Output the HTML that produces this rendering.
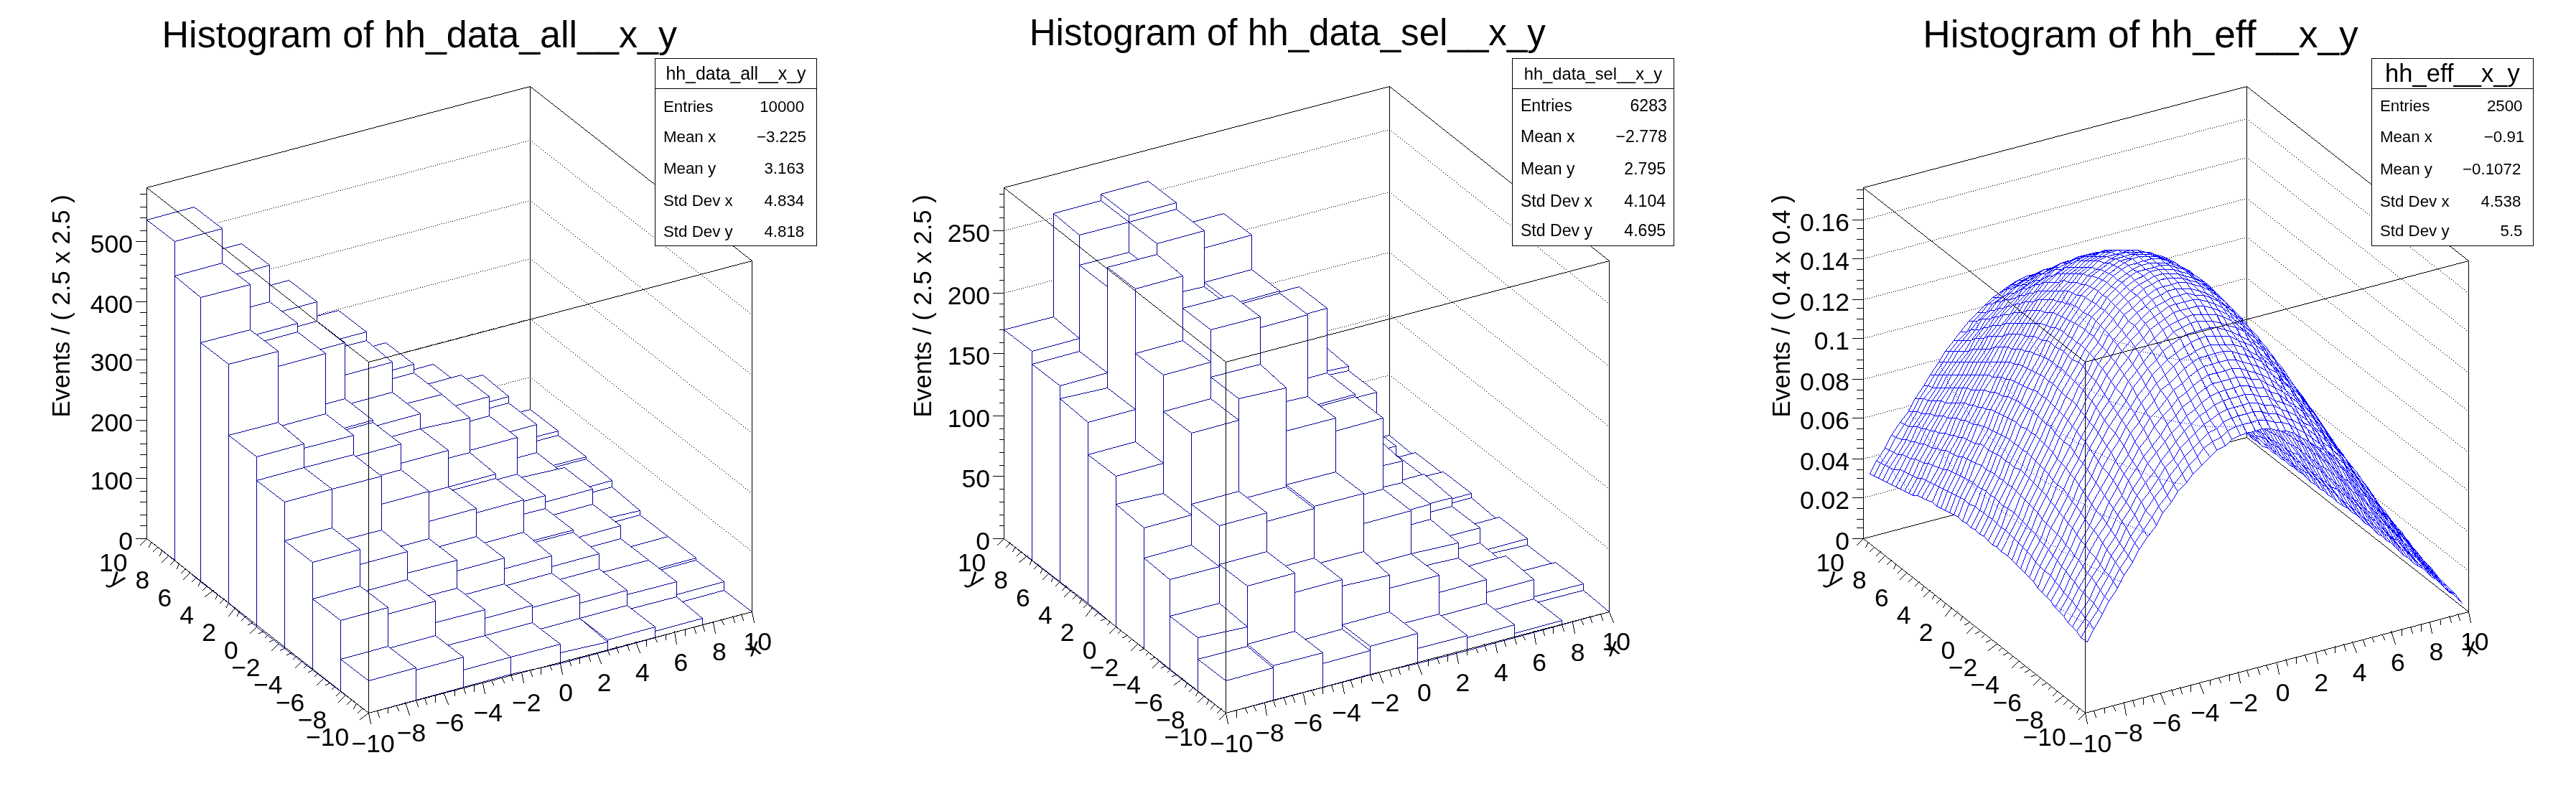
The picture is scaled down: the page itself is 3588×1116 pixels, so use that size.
<!DOCTYPE html><html><head><meta charset="utf-8"><title>rf702_efficiency_2D</title><style>
html,body{margin:0;padding:0;background:#fff;}svg{display:block;}
text{font-family:"Liberation Sans", sans-serif;fill:#000;}svg{will-change:transform;}
.k{stroke:#000;stroke-width:1;fill:none;shape-rendering:crispEdges;}
.dot{stroke:#000;stroke-width:1;fill:none;stroke-linecap:square;shape-rendering:crispEdges;}
.b{fill:#000099;stroke:none;shape-rendering:crispEdges;}
.s3{fill:#0000ff;stroke:none;shape-rendering:crispEdges;}
.bd{stroke:#0000ff;stroke-width:1;fill:none;stroke-linecap:square;shape-rendering:crispEdges;}
.w{fill:#fff;stroke:none;shape-rendering:crispEdges;}
.kf{fill:#000;stroke:none;shape-rendering:crispEdges;}
.sb{stroke:#000;stroke-width:1;fill:#fff;shape-rendering:crispEdges;}
</style></head><body>
<svg width="3588" height="1116" viewBox="0 0 3588 1116">
<rect x="0" y="0" width="3588" height="1116" fill="#fff"/>
<g id="pad1">
<path class="kf" d="M738,120h1l0,490h-1zm1-.13v1l-535,141.26v-1zm309,243.52v1l-310-243.79v-1zm-1-.39h1l0,490h-1z"/>
<path class="dot" d="M693.5,537.5h0m3-1h0m3-1h0m3,0h0m3-1h0m3-1h0m3-1h0m3-1h0m3,0h0m3-1h0m3-1h0m3-1h0m3-1h0m3,0h0m3-1h0m3-1h0m0,0h0m3,2h0m3,3h0m3,2h0m3,2h0m3,3h0m3,2h0m3,3h0m3,2h0m3,2h0m3,3h0m3,2h0m3,2h0m3,3h0m3,2h0m3,2h0m3,3h0m3,2h0m3,2h0m3,3h0m3,2h0m3,3h0m3,2h0m3,2h0m3,3h0m3,2h0m3,2h0m3,3h0m3,2h0m3,2h0m3,3h0m3,2h0m3,2h0m3,3h0m3,2h0m3,3h0m3,2h0m3,2h0m3,3h0m3,2h0m3,2h0m3,3h0m3,2h0m3,2h0m3,3h0m3,2h0m3,3h0m3,2h0m3,2h0m3,3h0m3,2h0m3,2h0m3,3h0m3,2h0m3,2h0m3,3h0m3,2h0m3,2h0m3,3h0m3,2h0m3,3h0m3,2h0m3,2h0m3,3h0m3,2h0m3,2h0m3,3h0m3,2h0m3,2h0m3,3h0m3,2h0m3,3h0m3,2h0m3,2h0m3,3h0m3,2h0m3,2h0m3,3h0m3,2h0m3,2h0m3,3h0m3,2h0m3,2h0m3,3h0m3,2h0m3,3h0m3,2h0m3,2h0m3,3h0m3,2h0m3,2h0m3,3h0m3,2h0m3,2h0m3,3h0m3,2h0m3,2h0m3,3h0m3,2h0m3,3h0m3,2h0m3,2h0m3,3h0m3,2h0m-489-276h0m3-1h0m3-1h0m3-1h0m3-1h0m3,0h0m3-1h0m3-1h0m3-1h0m3-1h0m3,0h0m3-1h0m3-1h0m3-1h0m3-1h0m3,0h0m3-1h0m3-1h0m3-1h0m3-1h0m3,0h0m3-1h0m3-1h0m3-1h0m3,0h0m3-1h0m3-1h0m3-1h0m3-1h0m3,0h0m3-1h0m3-1h0m3-1h0m3-1h0m3,0h0m3-1h0m3-1h0m3-1h0m3-1h0m3,0h0m3-1h0m3-1h0m3-1h0m3-1h0m3,0h0m3-1h0m3-1h0m3-1h0m3,0h0m3-1h0m3-1h0m3-1h0m3-1h0m3,0h0m3-1h0m3-1h0m3-1h0m3-1h0m3,0h0m3-1h0m3-1h0m0,0h0m3,2h0m3,3h0m3,2h0m3,2h0m3,3h0m3,2h0m3,3h0m3,2h0m3,2h0m3,3h0m3,2h0m3,2h0m3,3h0m3,2h0m3,2h0m3,3h0m3,2h0m3,2h0m3,3h0m3,2h0m3,3h0m3,2h0m3,2h0m3,3h0m3,2h0m3,2h0m3,3h0m3,2h0m3,2h0m3,3h0m3,2h0m3,2h0m3,3h0m3,2h0m3,3h0m3,2h0m3,2h0m3,3h0m3,2h0m3,2h0m3,3h0m3,2h0m3,2h0m3,3h0m3,2h0m3,3h0m3,2h0m3,2h0m3,3h0m3,2h0m3,2h0m3,3h0m3,2h0m3,2h0m3,3h0m3,2h0m3,2h0m3,3h0m3,2h0m3,3h0m3,2h0m3,2h0m3,3h0m3,2h0m3,2h0m3,3h0m3,2h0m3,2h0m3,3h0m3,2h0m3,3h0m3,2h0m3,2h0m3,3h0m3,2h0m3,2h0m3,3h0m3,2h0m3,2h0m3,3h0m3,2h0m3,2h0m3,3h0m3,2h0m3,3h0m3,2h0m3,2h0m3,3h0m3,2h0m3,2h0m3,3h0m3,2h0m3,2h0m3,3h0m3,2h0m3,2h0m3,3h0m3,2h0m3,3h0m3,2h0m3,2h0m3,3h0m3,2h0m-603-249h0m3-1h0m3-1h0m3-1h0m3-1h0m3,0h0m3-1h0m3-1h0m3-1h0m3-1h0m3,0h0m3-1h0m3-1h0m3-1h0m3,0h0m3-1h0m3-1h0m3-1h0m3-1h0m3,0h0m3-1h0m3-1h0m3-1h0m3-1h0m3,0h0m3-1h0m3-1h0m3-1h0m3-1h0m3,0h0m3-1h0m3-1h0m3-1h0m3-1h0m3,0h0m3-1h0m3-1h0m3-1h0m3,0h0m3-1h0m3-1h0m3-1h0m3-1h0m3,0h0m3-1h0m3-1h0m3-1h0m3-1h0m3,0h0m3-1h0m3-1h0m3-1h0m3-1h0m3,0h0m3-1h0m3-1h0m3-1h0m3-1h0m3,0h0m3-1h0m3-1h0m3-1h0m3,0h0m3-1h0m3-1h0m3-1h0m3-1h0m3,0h0m3-1h0m3-1h0m3-1h0m3-1h0m3,0h0m3-1h0m3-1h0m3-1h0m3-1h0m3,0h0m3-1h0m3-1h0m3-1h0m3-1h0m3,0h0m3-1h0m3-1h0m3-1h0m3,0h0m3-1h0m3-1h0m3-1h0m3-1h0m3,0h0m3-1h0m3-1h0m3-1h0m3-1h0m3,0h0m3-1h0m3-1h0m0,0h0m3,2h0m3,3h0m3,2h0m3,2h0m3,3h0m3,2h0m3,3h0m3,2h0m3,2h0m3,3h0m3,2h0m3,2h0m3,3h0m3,2h0m3,2h0m3,3h0m3,2h0m3,2h0m3,3h0m3,2h0m3,3h0m3,2h0m3,2h0m3,3h0m3,2h0m3,2h0m3,3h0m3,2h0m3,2h0m3,3h0m3,2h0m3,2h0m3,3h0m3,2h0m3,3h0m3,2h0m3,2h0m3,3h0m3,2h0m3,2h0m3,3h0m3,2h0m3,2h0m3,3h0m3,2h0m3,3h0m3,2h0m3,2h0m3,3h0m3,2h0m3,2h0m3,3h0m3,2h0m3,2h0m3,3h0m3,2h0m3,2h0m3,3h0m3,2h0m3,3h0m3,2h0m3,2h0m3,3h0m3,2h0m3,2h0m3,3h0m3,2h0m3,2h0m3,3h0m3,2h0m3,3h0m3,2h0m3,2h0m3,3h0m3,2h0m3,2h0m3,3h0m3,2h0m3,2h0m3,3h0m3,2h0m3,2h0m3,3h0m3,2h0m3,3h0m3,2h0m3,2h0m3,3h0m3,2h0m3,2h0m3,3h0m3,2h0m3,2h0m3,3h0m3,2h0m3,2h0m3,3h0m3,2h0m3,3h0m3,2h0m3,2h0m3,3h0m3,2h0m-669-229h0m3-1h0m3-1h0m3,0h0m3-1h0m3-1h0m3-1h0m3,0h0m3-1h0m3-1h0m3-1h0m3-1h0m3,0h0m3-1h0m3-1h0m3-1h0m3-1h0m3,0h0m3-1h0m3-1h0m3-1h0m3-1h0m3,0h0m3-1h0m3-1h0m3-1h0m3-1h0m3,0h0m3-1h0m3-1h0m3-1h0m3-1h0m3,0h0m3-1h0m3-1h0m3-1h0m3,0h0m3-1h0m3-1h0m3-1h0m3-1h0m3,0h0m3-1h0m3-1h0m3-1h0m3-1h0m3,0h0m3-1h0m3-1h0m3-1h0m3-1h0m3,0h0m3-1h0m3-1h0m3-1h0m3-1h0m3,0h0m3-1h0m3-1h0m3-1h0m3,0h0m3-1h0m3-1h0m3-1h0m3-1h0m3,0h0m3-1h0m3-1h0m3-1h0m3-1h0m3,0h0m3-1h0m3-1h0m3-1h0m3-1h0m3,0h0m3-1h0m3-1h0m3-1h0m3-1h0m3,0h0m3-1h0m3-1h0m3-1h0m3,0h0m3-1h0m3-1h0m3-1h0m3-1h0m3,0h0m3-1h0m3-1h0m3-1h0m3-1h0m3,0h0m3-1h0m3-1h0m3-1h0m3-1h0m3,0h0m3-1h0m3-1h0m3-1h0m3-1h0m3,0h0m3-1h0m3-1h0m3-1h0m3,0h0m3-1h0m3-1h0m3-1h0m3-1h0m3,0h0m3-1h0m3-1h0m3-1h0m3-1h0m3,0h0m3-1h0m3-1h0m0,0h0m3,2h0m3,3h0m3,2h0m3,2h0m3,3h0m3,2h0m3,3h0m3,2h0m3,2h0m3,3h0m3,2h0m3,2h0m3,3h0m3,2h0m3,2h0m3,3h0m3,2h0m3,2h0m3,3h0m3,2h0m3,3h0m3,2h0m3,2h0m3,3h0m3,2h0m3,2h0m3,3h0m3,2h0m3,2h0m3,3h0m3,2h0m3,2h0m3,3h0m3,2h0m3,3h0m3,2h0m3,2h0m3,3h0m3,2h0m3,2h0m3,3h0m3,2h0m3,2h0m3,3h0m3,2h0m3,3h0m3,2h0m3,2h0m3,3h0m3,2h0m3,2h0m3,3h0m3,2h0m3,2h0m3,3h0m3,2h0m3,2h0m3,3h0m3,2h0m3,3h0m3,2h0m3,2h0m3,3h0m3,2h0m3,2h0m3,3h0m3,2h0m3,2h0m3,3h0m3,2h0m3,3h0m3,2h0m3,2h0m3,3h0m3,2h0m3,2h0m3,3h0m3,2h0m3,2h0m3,3h0m3,2h0m3,2h0m3,3h0m3,2h0m3,3h0m3,2h0m3,2h0m3,3h0m3,2h0m3,2h0m3,3h0m3,2h0m3,2h0m3,3h0m3,2h0m3,2h0m3,3h0m3,2h0m3,3h0m3,2h0m3,2h0m3,3h0m3,2h0m-744-212h0m3-1h0m3-1h0m3-1h0m3,0h0m3-1h0m3-1h0m3-1h0m3,0h0m3-1h0m3-1h0m3-1h0m3-1h0m3,0h0m3-1h0m3-1h0m3-1h0m3-1h0m3,0h0m3-1h0m3-1h0m3-1h0m3-1h0m3,0h0m3-1h0m3-1h0m3-1h0m3-1h0m3,0h0m3-1h0m3-1h0m3-1h0m3,0h0m3-1h0m3-1h0m3-1h0m3-1h0m3,0h0m3-1h0m3-1h0m3-1h0m3-1h0m3,0h0m3-1h0m3-1h0m3-1h0m3-1h0m3,0h0m3-1h0m3-1h0m3-1h0m3-1h0m3,0h0m3-1h0m3-1h0m3-1h0m3-1h0m3,0h0m3-1h0m3-1h0m3-1h0m3,0h0m3-1h0m3-1h0m3-1h0m3-1h0m3,0h0m3-1h0m3-1h0m3-1h0m3-1h0m3,0h0m3-1h0m3-1h0m3-1h0m3-1h0m3,0h0m3-1h0m3-1h0m3-1h0m3-1h0m3,0h0m3-1h0m3-1h0m3-1h0m3,0h0m3-1h0m3-1h0m3-1h0m3-1h0m3,0h0m3-1h0m3-1h0m3-1h0m3-1h0m3,0h0m3-1h0m3-1h0m3-1h0m3-1h0m3,0h0m3-1h0m3-1h0m3-1h0m3-1h0m3,0h0m3-1h0m3-1h0m3-1h0m3,0h0m3-1h0m3-1h0m3-1h0m3-1h0m3,0h0m3-1h0m3-1h0m3-1h0m3-1h0m3,0h0m3-1h0m3-1h0m3-1h0m3-1h0m3,0h0m3-1h0m3-1h0m3-1h0m3-1h0m3,0h0m3-1h0m3-1h0m3-1h0m3,0h0m3-1h0m3-1h0m3-1h0m3-1h0m3,0h0m3-1h0m3-1h0m3-1h0m3-1h0m3,0h0m3-1h0m3-1h0m0,0h0m3,2h0m3,3h0m3,2h0m3,2h0m3,3h0m3,2h0m3,3h0m3,2h0m3,2h0m3,3h0m3,2h0m3,2h0m3,3h0m3,2h0m3,2h0m3,3h0m3,2h0m3,2h0m3,3h0m3,2h0m3,3h0m3,2h0m3,2h0m3,3h0m3,2h0m3,2h0m3,3h0m3,2h0m3,2h0m3,3h0m3,2h0m3,2h0m3,3h0m3,2h0m3,3h0m3,2h0m3,2h0m3,3h0m3,2h0m3,2h0m3,3h0m3,2h0m3,2h0m3,3h0m3,2h0m3,3h0m3,2h0m3,2h0m3,3h0m3,2h0m3,2h0m3,3h0m3,2h0m3,2h0m3,3h0m3,2h0m3,2h0m3,3h0m3,2h0m3,3h0m3,2h0m3,2h0m3,3h0m3,2h0m3,2h0m3,3h0m3,2h0m3,2h0m3,3h0m3,2h0m3,3h0m3,2h0m3,2h0m3,3h0m3,2h0m3,2h0m3,3h0m3,2h0m3,2h0m3,3h0m3,2h0m3,2h0m3,3h0m3,2h0m3,3h0m3,2h0m3,2h0m3,3h0m3,2h0m3,2h0m3,3h0m3,2h0m3,2h0m3,3h0m3,2h0m3,2h0m3,3h0m3,2h0m3,3h0m3,2h0m3,2h0m3,3h0m3,2h0"/>
<path class="w" d="M204,306h4v-1h3v-1h4v-1h4v-1h3v-1h4v-1h4v-1h3v-1h4v-1h4v-1h3v-1h4v-1h4v-1h3v-1h4v-1h4v-1h3v-1h4v-1h1v1h1v1h2v1h1v1h1v1h1v1h2v1h1v1h1v1h2v1h1v1h1v1h2v1h1v1h1v1h1v1h2v1h1v1h1v1h2v1h1v1h1v1h2v1h1v1h1v1h1v1h2v1h1v1h1v1h2v1h1v28h4v-1h4v-1h3v-1h4v-1h4v-1h3v-1h4v-1h1v1h1v1h2v1h1v1h1v1h1v1h2v1h1v1h1v1h2v1h1v1h1v1h2v1h1v1h1v1h1v1h2v1h1v1h1v1h2v1h1v1h1v1h2v1h1v1h1v1h1v1h2v1h1v1h1v1h2v1h1v28h4v-1h4v-1h3v-1h4v-1h4v-1h3v-1h4v-1h1v1h1v1h2v1h1v1h1v1h1v1h2v1h1v1h1v1h2v1h1v1h1v1h2v1h1v1h1v1h1v1h2v1h1v1h1v1h2v1h1v1h1v1h2v1h1v1h1v1h1v1h2v1h1v1h1v1h2v1h1v20h2v-1h4v-1h4v-1h4v-1h4v-1h3v-1h4v-1h4v-1h1v1h1v1h2v1h1v1h1v1h1v1h2v1h1v1h1v1h2v1h1v1h1v1h2v1h1v1h1v1h1v1h2v1h1v1h1v1h2v1h1v1h1v1h2v1h1v1h1v1h1v1h2v1h1v1h1v1h2v1h1v13h1v1h1v1h2v1h1v1h1v1h1v1h1v1h3v-1h4v-1h4v-1h3v-1h4v-1h1v1h1v1h2v1h1v1h1v1h1v1h2v1h1v1h1v1h2v1h1v1h1v1h2v1h1v1h1v1h1v1h2v1h1v1h1v1h2v1h1v1h1v1h2v1h1v1h1v1h1v1h2v1h1v1h1v1h2v1h1v7h4v-1h4v-1h3v-1h4v-1h4v-1h3v-1h4v-1h1v1h1v1h2v1h1v1h1v1h1v1h2v1h1v1h1v1h2v1h1v1h1v1h2v1h1v1h1v1h1v1h2v1h1v1h1v1h4v-1h4v-1h3v-1h4v-1h1v1h1v1h2v1h1v1h1v1h1v1h4v-1h4v-1h4v-1h3v-1h4v-1h4v-1h1v1h1v1h1v1h2v1h1v1h1v1h1v1h1v1h2v1h1v1h1v1h1v1h1v1h2v1h1v1h1v1h1v1h1v1h2v1h1v1h1v1h1v1h1v1h2v1h1v1h1v1h1v1h1v1h2v1h1v1h1v10h1v1h2v1h1v1h1v1h1v1h2v1h1v1h1v1h2v1h1v1h1v1h2v1h2v-1h4v-1h3v-1h4v-1h1v1h1v1h2v1h1v1h1v1h1v1h2v1h1v1h1v1h2v1h1v1h1v1h2v1h1v1h1v1h1v1h2v1h1v1h1v1h2v1h1v1h1v1h2v1h1v1h1v1h1v1h2v1h1v1h1v1h2v1h1v7h1v1h2v1h1v1h1v1h1v1h2v1h1v1h1v1h2v1h1v1h1v1h2v1h1v1h1v1h1v1h2v1h1v1h1v1h2v1h1v1h1v1h2v1h1v1h1v1h1v1h2v1h1v1h1v1h2v1h1v4h1v1h1v1h2v1h1v1h1v1h1v1h1v1h2v1h1v1h1v1h1v1h1v1h2v1h1v1h1v1h1v1h1v1h2v1h1v1h1v1h1v1h1v1h2v1h1v1h1v1h1v1h1v1h2v1h1v1h1v10h1v1h1v1h2v1h1v1h1v1h1v1h1v1h1v1h2v1h1v1h1v1h1v1h1v1h2v1h1v1h1v1h1v1h1v1h1v1h2v1h1v1h1v1h1v1h1v1h2v1h1v1h1v1h1v1h1v1h1v1h2v1h1v1h1v7h1v1h2v1h1v1h1v1h1v1h2v1h1v1h1v1h2v1h1v1h1v1h2v1h1v1h1v1h1v1h2v1h1v1h1v1h2v1h1v1h1v1h2v1h1v1h1v1h1v1h2v1h1v1h1v1h2v1h1v1h1v1h2v1h1v1h1v1h1v1h2v1h1v1h1v1h2v1h1v1h1v1h2v1h1v1h1v1h1v1h2v1h1v1h1v1h2v1h1v1h1v1h2v1h1v1h1v1h1v1h2v1h1v1h1v1h2v1h1v4h1v1h2v1h1v1h1v1h1v1h2v1h1v1h1v1h2v1h1v1h1v1h2v1h1v1h1v1h1v1h2v1h1v1h1v1h2v1h1v1h1v1h2v1h1v1h1v1h1v1h2v1h1v1h1v1h2v1h1v13h1v1h2v1h1v1h1v1h1v1h2v1h1v1h1v1h2v1h1v1h1v1h2v1h1v1h1v1h1v1h2v1h1v1h1v1h2v1h1v1h1v1h2v1h1v1h1v1h1v1h2v1h1v1h1v1h2v1h1v1h-4v1h-4v1h-4v1h-3v1h-4v1h-4v1h-4v1h-4v1h-4v1h-3v1h-4v1h-4v1h-4v1h-4v1h-4v1h-3v1h-4v1h-1v1h-7v1h-3v1h-4v1h-4v1h-3v1h-4v1h-4v1h-3v1h-4v1h-4v1h-3v1h-4v1h-4v1h-3v1h-4v1h-4v1h-3v1h-4v1h-4v1h-3v1h-4v1h-4v1h-3v1h-4v1h-4v1h-3v1h-4v1h-4v1h-3v1h-4v1h-4v1h-3v1h-4v1h-4v1h-3v1h-4v1h-4v1h-3v1h-4v1h-4v1h-3v1h-4v1h-4v1h-3v1h-4v1h-4v1h-3v1h-4v1h-4v1h-3v1h-4v1h-4v1h-3v1h-4v1h-5v1h-4v1h-5v1h-4v1h-5v1h-5v1h-4v1h-5v1h-4v1h-5v1h-5v1h-4v1h-5v1h-4v1h-5v1h-4v1h-3v1h-4v1h-4v1h-3v1h-4v1h-4v1h-3v1h-4v1h-4v1h-3v1h-4v1h-4v1h-3v1h-4v1h-4v1h-3v1h-4v1h-4v1h-3v1h-4v1h-4v1h-3v1h-4v1h-4v1h-3v1h-4v1h-4v1h-3v1h-4v1h-4v1h-3v1h-4v1h-4v1h-3v1h-4v1h-4v1h-3v1h-4v1h-4v1h-3v1h-4v1h-4v1h-3v1h-4v1h-4v1h-3v1h-4v1h-4v1h-3v1h-4v1h-4v1h-3v1h-4v1h-1v-1h-1v-1h-2v-1h-1v-1h-1v-1h-1v-1h-2v-1h-1v-1h-1v-1h-2v-1h-1v-1h-1v-1h-2v-1h-1v-1h-1v-1h-1v-1h-2v-1h-1v-1h-1v-1h-2v-1h-1v-1h-1v-1h-2v-1h-1v-1h-1v-1h-1v-1h-2v-1h-1v-1h-1v-1h-2v-1h-1v-1h-1v-1h-2v-1h-1v-1h-1v-1h-1v-1h-2v-1h-1v-1h-1v-1h-2v-1h-1v-1h-1v-1h-2v-1h-1v-1h-1v-1h-1v-1h-2v-1h-1v-1h-1v-1h-2v-1h-1v-1h-1v-1h-2v-1h-1v-1h-1v-1h-1v-1h-2v-1h-1v-1h-1v-1h-2v-1h-1v-1h-1v-1h-2v-1h-1v-1h-1v-1h-1v-1h-2v-1h-1v-1h-1v-1h-2v-1h-1v-1h-1v-1h-2v-1h-1v-1h-1v-1h-1v-1h-2v-1h-1v-1h-1v-1h-2v-1h-1v-1h-1v-1h-2v-1h-1v-1h-1v-1h-1v-1h-2v-1h-1v-1h-1v-1h-2v-1h-1v-1h-1v-1h-2v-1h-1v-1h-1v-1h-1v-1h-2v-1h-1v-1h-1v-1h-2v-1h-1v-1h-1v-1h-2v-1h-1v-1h-1v-1h-1v-1h-2v-1h-1v-1h-1v-1h-2v-1h-1v-1h-1v-1h-2v-1h-1v-1h-1v-1h-1v-1h-2v-1h-1v-1h-1v-1h-2v-1h-1v-1h-1v-1h-1v-1h-2v-1h-1v-1h-1v-1h-1v-1h-1v-1h-1v-1h-2v-1h-1v-1h-1v-1h-1v-1h-1v-1h-2v-1h-1v-1h-1v-1h-1v-1h-1v-1h-1v-1h-2v-1h-1v-1h-1v-1h-1v-1h-1v-1h-2v-1h-1v-1h-1v-1h-1v-1h-1v-1h-1v-1h-2v-1h-1v-1h-1v-1h-1v-1h-2v-1h-1v-1h-1v-1h-1v-1h-2v-1h-1v-1h-1v-1h-2v-1h-1v-1h-1v-1h-2v-1h-1v-1h-1v-1h-1v-1h-2v-1h-1v-1h-1v-1h-2v-1h-1v-1h-1v-1h-2v-1h-1v-1h-1v-1h-1v-1h-2v-1h-1v-1h-1v-1h-2v-1h-1v-1h-1v-1h-1v-1h-2v-1h-1v-1h-1v-1h-1v-1h-1v-1h-2v-1h-1v-1h-1v-1h-1v-1h-1v-1h-2v-1h-1v-1h-1v-1h-1v-1h-1v-1h-2v-1h-1v-1h-1v-1h-1v-1h-1v-1h-2v-1h-1v-1h-1v-1h-1v-1h-1v-1h-2v-1h-1v-1h-1v-1h-1v-1h-2v-1h-1v-1h-1v-1h-1v-1h-2v-1h-1v-1h-1v-1h-2v-1h-1v-1h-1v-1h-2v-1h-1v-1h-1v-1h-1v-1h-2v-1h-1v-1h-1v-1h-2v-1h-1v-1h-1v-1h-2v-1h-1v-1h-1v-1h-1v-1h-2v-1h-1v-1h-1v-1h-2v-1h-1z"/>
<path class="b" d="M672,622h1l0,1h-1zm32-7.75v1l-1-.83v-1zm17,39.49v1l-1,.26v-1zm56-53.74h1l0,7h-1zm-56,14.74v1l-1,.26v-1zm57-14.87v1l-31,8.09v-1zm0,.51v1l-40-30.77v-1zm-89-16.88v1l-2,.55v-1zm50-13.64v1l-14,3.82v-1zm-24,92.14v1l-1-.77v-1zm6-28.38v1l-1-.77v-1zm4,3.07v1l-1-.77v-1zm22,23.31h1l0,1h-1zm0,21h1l0,1h-1zm7,4.3v1l-1,.26v-1zm58-15.13v1l-1,.26v-1zm4-34.17h1l0,4h-1zm1-.13v1l-47,12.26v-1zm0,.51v1l-40-30.77v-1zm-96-15.64v1l-1,.26v-1zm57-14.87v1l-31,8.09v-1zm-24,86.13v1l-1-.77v-1zm6,4.62v1l-1-.77v-1zm2,1.53v1l-1-.77v-1zm21,16.16v1l-1-.77v-1zm-36-54.31h1l0,1h-1zm0,21h1l0,1h-1zm4-21.31v1l-2-1.54v-1zm35,32.31h1l0,1h-1zm0,21h1l0,1h-1zm44-7.86v1l-1,.27v-1zm22-36.14h1l0,10h-1zm1-.14v1l-32,8.73v-1zm0,.56v1l-37-30.83v-1zm-36-30.55v1l-44,11.48v-1zm5,105.44v1l-1-.77v-1zm-36-31.31h1l0,1h-1zm17-4.31v1l-1-.77v-1zm22,34.31h1l0,1h-1zm40-6.77v1l-1,.27v-1zm26-25.23h1l0,7h-1zm1-.11v1l-42,9.55v-1zm0,.53v1l-40-33.85v-1zm-39-33.56v1l-28,7.64v-1zm-14,79.52v1l-1-.77v-1zm-14-14.38h1l0,1h-1zm26,11.62v1l-1-.77v-1zm41,16.13v1l-1,.23v-1zm38-23.75h1l0,1h-1zm1-.14v1l-53,14.45v-1zm0,.52v1l-40-30.77v-1zm-39-30.52v1l-35,9.55v-1zm-15,70.72v1l-1-.85v-1zm13-2.96v1l-1-.77v-1zm43,17.33v1l-2,.55v-1zm36-24.95h1l0,4h-1zm1-.14v1l-53,14.45v-1zm0,.52v1l-40-30.77v-1zm-56,40.7v1l-1-.77v-1zm20,15.38v1l-1-.77v-1zm9-5.08v1l-1-.77v-1zm-1-.38h1l0,4h-1zm67-6.14v1l-59,16.09v-1zm-1-11.86h1l0,13h-1zm1-.14v1l-67,18.27v-1zm0,.52v1l-40-30.77v-1zm-39-30.52v1l-50,13.64v-1zm1,83.89v1l-1-.83v-1zm8,6.67v1l-1-.83v-1zm69-18.55v1l-70,18.26v-1zm0,.51v1l-40-30.77v-1zm-423-190.84v1l-1-.77v-1zm-22-121.54h1l0,1h-1zm0,12h1l0,1h-1zm0,41h1l0,1h-1zm0,18h1l0,1h-1zm0,22h1l0,1h-1zm2-91.85v1l-2-1.54v-1zm4,3.08v1l-3-2.31v-1zm4,3.08v1l-3-2.31v-1zm10,7.69v1l-9-6.92v-1zm4,3.08v1l-2-1.54v-1zm9,6.92v1l-1-.77v-1zm6,7h1l0,1h-1zm0,13h1l0,1h-1zm0,48h1l0,1h-1zm0,40h1l0,1h-1zm49-11.23v1l-1,.27v-1zm17-109.77h1l0,10h-1zm0,48h1l0,1h-1zm0,12h1l0,1h-1zm1-60.14v1l-28,7.64v-1zm0,.56v1l-37-30.83v-1zm-105-12.55v1l-1,.26v-1zm69-18v1l-23,6v-1zm-26,156.59v1l-1-.77v-1zm-5-93.46h1l0,1h-1zm0,48h1l0,1h-1zm0,40h1l0,1h-1zm13-84.38v1l-1-.77v-1zm26,31.38h1l0,1h-1zm0,32h1l0,1h-1zm0,10h1l0,1h-1zm0,6h1l0,1h-1zm45,24.86v1l-1,.27v-1zm21-101.86h1l0,40h-1zm0,69h1l0,1h-1zm0,21h1l0,1h-1zm1-90.14v1l-39,10.64v-1zm0,.52v1l-40-30.77v-1zm-99-14.15v1l-1,.27v-1zm60-16.37v1l-28,7.64v-1zm-23,147.6v1l-1-.77v-1zm-5-56.46h1l0,1h-1zm0,10h1l0,1h-1zm0,6h1l0,1h-1zm23-2.69v1l-1-.77v-1zm16,23.69h1l0,1h-1zm0,9h1l0,1h-1zm10,34.41v1l-1,.27v-1zm46-12.55v1l-2,.55v-1zm10-27.86h1l0,1h-1zm0,21h1l0,1h-1zm-48-39.77v1l-1,.27v-1zm40-19.77v1l-31-23.85v-1zm-30-23.6v1l-28,7.64v-1zm-19,111.68v1l-1-.77v-1zm4,3.08v1l-2-1.54v-1zm6,4.61v1l-3-2.31v-1zm5,3.85v1l-4-3.08v-1zm5,3.84v1l-3-2.31v-1zm4,3.08v1l-1-.77v-1zm-33-71h1l0,1h-1zm0,9h1l0,1h-1zm32-5.35v1l-1-.85v-1zm8,6.77v1l-1-.85v-1zm-1-.42h1l0,10h-1zm0,49h1l0,1h-1zm0,3h1l0,1h-1zm52-.05v1l-1,.27v-1zm14-69.95h1l0,22h-1zm0,62h1l0,1h-1zm1-62.14v1l-67,18.27v-1zm0,.52v1l-40-30.77v-1zm-39-30.49v1l-61,13.86v-1zm-28,97.11h1l0,1h-1zm0,3h1l0,1h-1zm28-9.85v1l-1-.77v-1zm3,2.31v1l-1-.77v-1zm8,37.54h1l0,1h-1zm37,4.05v1l-1,.27v-1zm29-53.05h1l0,19h-1zm1-.14v1l-59,16.09v-1zm0,.52v1l-40-30.77v-1zm-39-30.52v1l-55,15v-1zm-21,99.1v1l-2-1.83v-1zm-7-19.96h1l0,1h-1zm13-2.58v1l-1-.83v-1zm59,40.32v1l-1,.26v-1zm33-38.74h1l0,1h-1zm1-.13v1l-64,16.7v-1zm0,.51v1l-40-30.77v-1zm-39-30.52v1l-43,11.73v-1zm-5,97.76v1l-1-.77v-1zm14-19.24v1l-1-.77v-1zm-1-.38h1l0,16h-1zm15,26.22v1l-1,.26v-1zm54-44.22h1l0,22h-1zm1-.13v1l-70,18.26v-1zm0,.51v1l-40-30.77v-1zm-44,67.24v1l-1-.77v-1zm14,10.76v1l-1-.77v-1zm0-9v1l-1-.77v-1zm-1-.38h1l0,10h-1zm67-9.14v1l-67,18.27v-1zm-1-8.86h1l0,10h-1zm1-.14v1l-67,18.27v-1zm0,.56v1l-37-30.83v-1zm-36-30.55v1l-64,16.7v-1zm-369-139.79v1l-1-.77v-1zm-37-143.08h1l0,1h-1zm0,41h1l0,1h-1zm0,13h1l0,1h-1zm0,22h1l0,1h-1zm0,36h1l0,1h-1zm10-127.69v1l-1-.77v-1zm29,26.69h1l0,1h-1zm0,10h1l0,1h-1zm0,9h1l0,1h-1zm0,21h1l0,1h-1zm0,41h1l0,1h-1zm0,28h1l0,1h-1zm0,22h1l0,1h-1zm22-2.86v1l-1,.27v-1zm44-124.14h1l0,1h-1zm0,9h1l0,1h-1zm0,13h1l0,1h-1zm0,48h1l0,1h-1zm0,40h1l0,1h-1zm-13-146.38v1l-26-20v-1zm-82-4.21v1l-1,.27v-1zm57-15.55v1l-28,7.64v-1zm-6,202.68v1l-1-.77v-1zm-22-150.54h1l0,1h-1zm0,10h1l0,1h-1zm0,9h1l0,1h-1zm0,21h1l0,1h-1zm0,41h1l0,1h-1zm0,28h1l0,1h-1zm0,22h1l0,1h-1zm19-135.77v1l-1-.77v-1zm20,35.77h1l0,1h-1zm0,30h1l0,1h-1zm0,9h1l0,1h-1zm0,51h1l0,1h-1zm0,41h1l0,1h-1zm49-11.23v1l-1,.27v-1zm17-157.77h1l0,28h-1zm0,68h1l0,1h-1zm0,32h1l0,1h-1zm0,10h1l0,1h-1zm0,6h1l0,1h-1zm1-116.14v1l-48,13.09v-1zm0,.52v1l-40-30.77v-1zm-39-30.52v1l-46,12.55v-1zm-28,98.14h1l0,1h-1zm0,9h1l0,1h-1zm0,51h1l0,1h-1zm0,41h1l0,1h-1zm40-93.62v1l-1-.77v-1zm-1-.38h1l0,4h-1zm0,43h1l0,1h-1zm0,6h1l0,1h-1zm0,25h1l0,1h-1zm0,9h1l0,1h-1zm0,39h1l0,1h-1zm66-140h1l0,52h-1zm0,80h1l0,1h-1zm0,9h1l0,1h-1zm1-89.14v1l-67,18.27v-1zm0,.52v1l-40-30.77v-1zm-39-30.52v1l-28,7.64v-1zm7,202.89v1l-1-.83v-1zm-35-80.75h1l0,1h-1zm0,9h1l0,1h-1zm0,39h1l0,1h-1zm36-41.42v1l-1-.83v-1zm0,44.42h1l0,1h-1zm0,16h1l0,1h-1zm0,12h1l0,1h-1zm13-.26v1l-1,.26v-1zm56-89.74h1l0,19h-1zm0,58h1l0,1h-1zm0,3h1l0,1h-1zm1-61.13v1l-31,8.09v-1zm0,.51v1l-40-30.77v-1zm-39-30.52v1l-29,7.91v-1zm-18,132.76v1l-1-.77v-1zm23,17.69v1l-1-.77v-1zm-36-58.31h1l0,1h-1zm0,16h1l0,1h-1zm0,12h1l0,1h-1zm26-34.38v1l-1-.77v-1zm13,39.38h1l0,1h-1zm0,24h1l0,1h-1zm45-7.61v1l-1,.26v-1zm24-63.39h1l0,4h-1zm0,43h1l0,1h-1zm1-43.13v1l-56,14.61v-1zm0,.51v1l-40-30.77v-1zm-39-30.51v1l-31,8.09v-1zm5,132.44v1l-1-.77v-1zm-36-55.31h1l0,1h-1zm0,24h1l0,1h-1zm26-30.38v1l-1-.77v-1zm14,10.76v1l-1-.77v-1zm-1-.38h1l0,10h-1zm0,50h1l0,1h-1zm40-4.98v1l-1,.23v-1zm26-63.02h1l0,22h-1zm1-.14v1l-67,18.27v-1zm0,.56v1l-37-30.83v-1zm-36-30.55v1l-54,14.09v-1zm-4,124.55v1l-1-.85v-1zm-27-26.42h1l0,1h-1zm28-7.85v1l-1-.77v-1zm12,9.23v1l-1-.77v-1zm-1-.38h1l0,22h-1zm15,32.05v1l-2,.55v-1zm51-50.05h1l0,22h-1zm1-.14v1l-67,18.27v-1zm0,.52v1l-40-30.77v-1zm-39-30.52v1l-55,15v-1zm0,105.29v1l-1-.77v-1zm12,9.23v1l-1-.77v-1zm-40-45.38h1l0,1h-1zm40,30.38v1l-40-30.77v-1zm-1-.38h1l0,16h-1zm67-3.14v1l-67,18.27v-1zm-1-14.86h1l0,16h-1zm1-.14v1l-67,18.27v-1zm0,.52v1l-40-30.77v-1zm-39-30.52v1l-67,18.27v-1zm-403-285.86h1l0,1h-1zm0,33h1l0,1h-1zm0,21h1l0,1h-1zm0,27h1l0,1h-1zm10-135.69v1l-1-.77v-1zm20,15.38v1l-2-1.54v-1zm9,38.31h1l0,1h-1zm0,22h1l0,1h-1zm0,9h1l0,1h-1zm0,3h1l0,1h-1zm0,41h1l0,1h-1zm0,16h1l0,1h-1zm0,21h1l0,1h-1zm22,37.14v1l-1,.27v-1zm44-198.14h1l0,13h-1zm0,52h1l0,1h-1zm0,10h1l0,1h-1zm0,9h1l0,1h-1zm0,21h1l0,1h-1zm0,41h1l0,1h-1zm0,28h1l0,1h-1zm0,22h1l0,1h-1zm1-183.14v1l-31,8.45v-1zm0,.52v1l-40-30.77v-1zm-96-14.97v1l-1,.27v-1zm57-15.55v1l-18,4.91v-1zm-6,252.06v1l-1-.83v-1zm-22-172.92h1l0,1h-1zm0,22h1l0,1h-1zm0,9h1l0,1h-1zm0,3h1l0,1h-1zm0,41h1l0,1h-1zm0,16h1l0,1h-1zm0,21h1l0,1h-1zm18-116.42v1l-1-.83v-1zm18,35.42h1l0,1h-1zm0,21h1l0,2h-1zm0,13h1l0,1h-1zm0,36h1l0,1h-1zm0,41h1l0,1h-1zm52,29.57v1l-1,.26v-1zm17-178.57h1l0,1h-1zm0,41h1l0,1h-1zm0,30h1l0,1h-1zm0,9h1l0,1h-1zm0,51h1l0,1h-1zm0,41h1l0,1h-1zm1-172.13v1l-49,12.78v-1zm0,.51v1l-40-30.77v-1zm-39-30.52v1l-31,8.45v-1zm-8,239.45v1l-1-.77v-1zm17-160.93v1l-1-.77v-1zm-1-.38h1l0,1h-1zm0,41h1l0,1h-1zm0,37h1l0,1h-1zm0,12h1l0,1h-1zm0,66h1l0,1h-1zm30,10.3v1l-1,.26v-1zm39-181.3h1l0,49h-1zm0,88h1l0,1h-1zm0,6h1l0,1h-1zm0,25h1l0,1h-1zm0,9h1l0,1h-1zm0,39h1l0,1h-1zm1-167.11v1l-70,15.22v-1zm0,.53v1l-40-33.85v-1zm-47,205.89v1l-1-.77v-1zm-23-113.31h1l0,1h-1zm0,12h1l0,1h-1zm0,66h1l0,1h-1zm40-74.62v1l-1-.77v-1zm-1-.38h1l0,1h-1zm0,41h1l0,1h-1zm0,39h1l0,1h-1zm0,13h1l0,1h-1zm0,12h1l0,1h-1zm13,14.59v1l-1,.27v-1zm53-137.59h1l0,7h-1zm0,47h1l0,1h-1zm0,45h1l0,1h-1zm0,16h1l0,1h-1zm0,12h1l0,1h-1zm1-120.14v1l-67,18.27v-1zm0,.56v1l-37-30.83v-1zm-36-30.55v1l-31,8.09v-1zm-18,180.75v1l-1-.77v-1zm20,15.38v1l-1-.77v-1zm-33-107h1l0,1h-1zm0,39h1l0,1h-1zm0,13h1l0,1h-1zm0,12h1l0,1h-1zm40-68.62v1l-1-.77v-1zm-1-.38h1l0,34h-1zm0,74h1l0,1h-1zm0,36h1l0,1h-1zm47-5.68v1l-1,.27v-1zm19-122.32h1l0,46h-1zm0,89h1l0,1h-1zm0,24h1l0,1h-1zm1-113.14v1l-67,18.27v-1zm0,.52v1l-40-30.77v-1zm-39-30.52v1l-61,16.64v-1zm5,190.14v1l-1-.77v-1zm-33-68h1l0,1h-1zm0,36h1l0,1h-1zm27-42.58v1l-1-.85v-1zm13,11v1l-1-.85v-1zm-1-.42h1l0,22h-1zm0,62h1l0,1h-1zm40-3.77v1l-1,.27v-1zm26-76.23h1l0,25h-1zm0,65h1l0,1h-1zm1-65.14v1l-67,18.27v-1zm0,.56v1l-40-33.85v-1zm-39-33.56v1l-55,15v-1zm-11,132.83v1l-1-.77v-1zm-17-19.69h1l0,1h-1zm38-9.15v1l-2-1.54v-1zm2,1.53v1l-1-.77v-1zm-1-.38h1l0,22h-1zm66-18h1l0,34h-1zm1-.14v1l-67,18.27v-1zm0,.52v1l-40-30.77v-1zm-39-30.52v1l-65,17.73v-1zm12,126.56v1l-1-.85v-1zm-12-24.27v1l-1-.77v-1zm12,9.23v1l-1-.77v-1zm-1-.38h1l0,16h-1zm67-3.14v1l-67,18.27v-1zm-1-11.86h1l0,13h-1zm1-.11v1l-67,15.23v-1zm0,.53v1l-40-33.85v-1zm-39-33.56v1l-55,15v-1zm-404-163.71v1l-1-.77v-1zm-2-244.15h1l0,1h-1zm0,12h1l0,1h-1zm0,41h1l0,1h-1zm0,84h1l0,1h-1zm0,10h1l0,1h-1zm0,24h1l0,1h-1zm0,33h1l0,1h-1zm4-204.31v1l-1-.77v-1zm9,6.93v1l-1-.77v-1zm26,23.38h1l0,1h-1zm0,12h1l0,1h-1zm0,84h1l0,1h-1zm0,40h1l0,1h-1zm0,27h1l0,1h-1zm0,19h1l0,1h-1zm0,22h1l0,1h-1zm22,34.33v1l-1,.22v-1zm47-259.33h1l0,13h-1zm0,52h1l0,1h-1zm0,42h1l0,1h-1zm0,22h1l0,1h-1zm0,9h1l0,1h-1zm0,3h1l0,1h-1zm0,41h1l0,1h-1zm0,16h1l0,1h-1zm0,21h1l0,1h-1zm1-206.13v1l-38,9.91v-1zm0,.51v1l-40-30.77v-1zm-99-14.86v1l-1,.26v-1zm60-15.65v1l-31,8.09v-1zm-17,305.55v1l-1-.85v-1zm-14-242.42h1l0,1h-1zm0,84h1l0,1h-1zm0,40h1l0,1h-1zm0,27h1l0,1h-1zm0,19h1l0,1h-1zm0,22h1l0,1h-1zm4-192.31v1l-1-.77v-1zm9,6.93v1l-1-.77v-1zm27,20.76v1l-1-.77v-1zm-1-.38h1l0,34h-1zm0,74h1l0,2h-1zm0,13h1l0,1h-1zm0,27h1l0,1h-1zm0,40h1l0,1h-1zm0,73h1l0,1h-1zm58-5.68v1l-1,.27v-1zm8-239.32h1l0,43h-1zm0,83h1l0,1h-1zm0,21h1l0,2h-1zm0,13h1l0,1h-1zm0,36h1l0,1h-1zm0,41h1l0,1h-1zm1-194.14v1l-67,18.27v-1zm0,.56v1l-37-30.83v-1zm-96-14.9v1l-1,.26v-1zm60-15.65v1l-31,8.09v-1zm-9,301.67v1l-1-.77v-1zm10,7.69v1l-1-.77v-1zm-32-187.23h1l0,2h-1zm0,13h1l0,1h-1zm0,27h1l0,1h-1zm0,40h1l0,1h-1zm0,73h1l0,1h-1zm31-161.54v1l-1-.77v-1zm8,41.54h1l0,1h-1zm0,25h1l0,1h-1zm0,12h1l0,1h-1zm0,75h1l0,1h-1zm0,40h1l0,1h-1zm49-5.23v1l-1,.27v-1zm17-199.77h1l0,22h-1zm0,62h1l0,1h-1zm0,37h1l0,1h-1zm0,12h1l0,1h-1zm0,66h1l0,1h-1zm1-177.14v1l-61,16.64v-1zm0,.52v1l-40-30.77v-1zm-39-30.52v1l-58,15.82v-1zm3,266.6v1l-1-.77v-1zm-31-183.46h1l0,1h-1zm0,25h1l0,1h-1zm0,12h1l0,1h-1zm0,75h1l0,1h-1zm0,40h1l0,1h-1zm14-155.62v1l-1-.77v-1zm26,20v1l-1-.77v-1zm-1-.38h1l0,10h-1zm0,50h1l0,1h-1zm0,65h1l0,1h-1zm0,10h1l0,1h-1zm0,39h1l0,1h-1zm19,4.95v1l-1,.27v-1zm47-186.95h1l0,52h-1zm0,92h1l0,1h-1zm0,39h1l0,1h-1zm0,13h1l0,1h-1zm0,12h1l0,1h-1zm1-156.14v1l-67,18.27v-1zm0,.52v1l-40-30.77v-1zm-39-30.52v1l-41,11.18v-1zm3,245.6v1l-1-.77v-1zm-31-82.46h1l0,1h-1zm0,10h1l0,1h-1zm0,39h1l0,1h-1zm40-82.62v1l-1-.77v-1zm-1-.38h1l0,25h-1zm0,64h1l0,1h-1zm0,39h1l0,2h-1zm0,10h1l0,1h-1zm10,7.41v1l-1,.27v-1zm48-13.09v1l-1,.27v-1zm8-125.32h1l0,40h-1zm0,80h1l0,1h-1zm0,36h1l0,1h-1zm1-116.14v1l-67,18.27v-1zm0,.52v1l-40-30.77v-1zm-39-30.52v1l-28,7.64v-1zm-18,178.45v1l-1-.77v-1zm11,8.46v1l-2-1.54v-1zm-21-74.77h1l0,1h-1zm0,39h1l0,2h-1zm0,10h1l0,1h-1zm26-54.38v1l-1-.77v-1zm14,10.76v1l-1-.77v-1zm-1-.38h1l0,25h-1zm0,64h1l0,1h-1zm40,9.23v1l-1,.27v-1zm26-91.23h1l0,37h-1zm0,77h1l0,1h-1zm1-77.14v1l-67,18.27v-1zm0,.52v1l-40-30.77v-1zm-39-30.52v1l-53,14.45v-1zm-11,144.83v1l-2-1.54v-1zm-17-32.69h1l0,1h-1zm28-6.85v1l-1-.77v-1zm12,9.23v1l-1-.77v-1zm-1-.38h1l0,25h-1zm23,41.86v1l-1,.27v-1zm43-59.86h1l0,25h-1zm1-.14v1l-67,18.27v-1zm0,.52v1l-40-30.77v-1zm-39-30.52v1l-55,15v-1zm-12,109.06v1l-2-1.67v-1zm21,17.5v1l-1-.83v-1zm-37-54.42h1l0,1h-1zm37,30.42v1l-37-30.83v-1zm-1-.42h1l0,25h-1zm70,8.89v1l-70,15.22v-1zm-1-26.89h1l0,28h-1zm1-.13v1l-70,18.26v-1zm0,.51v1l-40-30.77v-1zm-39-30.52v1l-67,18.27v-1zm-384-136.32v1l-1-.77v-1zm-22-268.54h1l0,1h-1zm0,40h1l0,1h-1zm0,99h1l0,1h-1zm0,19h1l0,1h-1zm13-202.38v1l-1-.77v-1zm10,7.69v1l-1-.77v-1zm16,35.69h1l0,1h-1zm0,12h1l0,1h-1zm0,7h1l0,1h-1zm0,12h1l0,1h-1zm0,99h1l0,1h-1zm0,40h1l0,1h-1zm0,33h1l0,1h-1zm0,19h1l0,1h-1zm22,55.14v1l-1,.27v-1zm44-318.14h1l0,28h-1zm0,63h1l0,1h-1zm0,12h1l0,1h-1zm0,84h1l0,1h-1zm0,40h1l0,1h-1zm0,27h1l0,1h-1zm0,19h1l0,1h-1zm0,22h1l0,1h-1zm1-267.14v1l-50,13.64v-1zm0,.52v1l-40-30.77v-1zm-93-15.79v1l-1,.27v-1zm54-14.73v1l-28,7.64v-1zm-6,372.33v1l-1-.85v-1zm-22-289.19h1l0,1h-1zm0,7h1l0,1h-1zm0,12h1l0,1h-1zm0,99h1l0,1h-1zm0,40h1l0,1h-1zm0,33h1l0,1h-1zm0,19h1l0,1h-1zm39-180h1l0,1h-1zm0,84h1l0,1h-1zm0,23h1l0,1h-1zm0,10h1l0,1h-1zm0,33h1l0,1h-1zm0,41h1l0,1h-1zm0,54h1l0,1h-1zm0,19h1l0,1h-1zm66-290h1l0,79h-1zm0,119h1l0,2h-1zm0,13h1l0,1h-1zm0,27h1l0,1h-1zm0,40h1l0,1h-1zm0,73h1l0,1h-1zm1-272.14v1l-35,9.55v-1zm0,.52v1l-40-30.77v-1zm-39-30.52v1l-28,7.64v-1zm-6,346.68v1l-1-.77v-1zm-22-206.54h1l0,1h-1zm0,23h1l0,1h-1zm0,10h1l0,1h-1zm0,33h1l0,1h-1zm0,41h1l0,1h-1zm0,54h1l0,1h-1zm0,19h1l0,1h-1zm14-183.62v1l-1-.77v-1zm25,32.62h1l0,1h-1zm0,27h1l0,1h-1zm0,31h1l0,1h-1zm0,9h1l0,1h-1zm0,54h1l0,1h-1zm0,41h1l0,1h-1zm49,15.77v1l-1,.27v-1zm17-208.77h1l0,4h-1zm0,44h1l0,1h-1zm0,25h1l0,1h-1zm0,12h1l0,1h-1zm0,75h1l0,1h-1zm0,40h1l0,1h-1zm1-196.14v1l-41,11.18v-1zm0,.52v1l-40-30.77v-1zm-39-30.52v1l-28,7.64v-1zm-6,268.68v1l-1-.77v-1zm-22-207.54h1l0,1h-1zm0,27h1l0,1h-1zm0,31h1l0,1h-1zm0,9h1l0,1h-1zm0,54h1l0,1h-1zm0,41h1l0,1h-1zm11-163.92v1l-1-.77v-1zm27,20.77v1l-2-1.54v-1zm1,38.15h1l0,1h-1zm0,75h1l0,1h-1zm0,10h1l0,1h-1zm0,9h1l0,1h-1zm0,51h1l0,1h-1zm28,11.5v1l-1,.27v-1zm38-211.5h1l0,37h-1zm0,77h1l0,1h-1zm0,65h1l0,1h-1zm0,10h1l0,1h-1zm0,39h1l0,1h-1zm1-191.14v1l-65,17.73v-1zm0,.52v1l-40-30.77v-1zm-39-30.52v1l-39,10.64v-1zm-6,265.68v1l-1-.77v-1zm-22-180.54h1l0,1h-1zm0,75h1l0,1h-1zm0,10h1l0,1h-1zm0,9h1l0,1h-1zm0,51h1l0,1h-1zm2-144.85v1l-1-.77v-1zm38,29.23v1l-1-.77v-1zm-1-.38h1l0,37h-1zm0,76h1l0,1h-1zm0,39h1l0,1h-1zm0,22h1l0,1h-1zm0,9h1l0,1h-1zm10,16.41v1l-1,.27v-1zm56-180.41h1l0,67h-1zm0,106h1l0,1h-1zm0,39h1l0,2h-1zm0,10h1l0,1h-1zm1-155.14v1l-67,18.27v-1zm0,.52v1l-40-30.77v-1zm-39-30.52v1l-29,7.91v-1zm-18,221.06v1l-1-.83v-1zm26,21.66v1l-1-.83v-1zm-36-118.58h1l0,1h-1zm0,39h1l0,1h-1zm0,22h1l0,1h-1zm0,9h1l0,1h-1zm10-72.08v1l-1-.83v-1zm27,22.5v1l-1-.83v-1zm-1-.42h1l0,10h-1zm0,50h1l0,1h-1zm0,48h1l0,1h-1zm69-116h1l0,40h-1zm0,79h1l0,1h-1zm1-79.13v1l-70,18.26v-1zm0,.51v1l-40-30.77v-1zm-39-30.52v1l-39,10.64v-1zm8,176.76v1l-1-.77v-1zm-39-78.62h1l0,1h-1zm0,48h1l0,1h-1zm12-50.15v1l-2-1.54v-1zm28,21.53v1l-1-.77v-1zm-1-.38h1l0,19h-1zm0,59h1l0,1h-1zm40-9.3v1l-1,.26v-1zm29-67.7h1l0,37h-1zm1-.13v1l-70,18.26v-1zm0,.51v1l-40-30.77v-1zm-39-30.51v1l-41,10.7v-1zm9,138.51v1l-1-.77v-1zm-40-31.38h1l0,1h-1zm23-5.69v1l-1-.77v-1zm17,13.07v1l-1-.77v-1zm-1-.38h1l0,25h-1zm67,5.86v1l-67,18.27v-1zm0-24v1l-67,18.27v-1zm-36-29.99v1l-52,13.57v-1zm-396-145.56v1l-1-.77v-1zm-10-362.31h1l0,1h-1zm0,29h1l0,1h-1zm39,0h1l0,1h-1zm0,63h1l0,1h-1zm0,31h1l0,1h-1zm10,259.41v1l-1,.27v-1zm39-10.64v1l-1,.27v-1zm17-379.77h1l0,52h-1zm0,92h1l0,1h-1zm0,12h1l0,1h-1zm0,7h1l0,1h-1zm0,12h1l0,1h-1zm0,99h1l0,1h-1zm0,40h1l0,1h-1zm0,33h1l0,1h-1zm0,19h1l0,1h-1zm1-314.14v1l-46,12.55v-1zm0,.52v1l-40-30.77v-1zm-39-30.52v1l-28,7.64v-1zm-18,430.45v1l-1-.77v-1zm-10-300.31h1l0,1h-1zm0,31h1l0,1h-1zm31-38.54v1l-1-.77v-1zm8,37.54h1l0,1h-1zm0,99h1l0,1h-1zm0,31h1l0,1h-1zm10,160.84v1l-1,.23v-1zm39-8.86v1l-1,.23v-1zm17-330.98h1l0,13h-1zm0,53h1l0,1h-1zm0,84h1l0,1h-1zm0,23h1l0,1h-1zm0,10h1l0,1h-1zm0,33h1l0,1h-1zm0,41h1l0,1h-1zm0,54h1l0,1h-1zm0,19h1l0,1h-1zm1-317.14v1l-58,15.82v-1zm0,.52v1l-40-30.77v-1zm-39-30.52v1l-28,7.64v-1zm-18,380.18v1l-1-.85v-1zm-10-301.04h1l0,1h-1zm0,99h1l0,1h-1zm0,31h1l0,1h-1zm19-134.77v1l-1-.77v-1zm21,16.15v1l-1-.77v-1zm-1-.38h1l0,79h-1zm0,118h1l0,1h-1zm0,33h1l0,1h-1zm0,31h1l0,1h-1zm10,130.41v1l-1,.27v-1zm39-10.64v1l-1,.27v-1zm17-319.77h1l0,85h-1zm0,124h1l0,1h-1zm0,27h1l0,1h-1zm0,31h1l0,1h-1zm0,9h1l0,1h-1zm0,54h1l0,1h-1zm0,41h1l0,1h-1zm1-286.14v1l-67,18.27v-1zm0,.52v1l-40-30.77v-1zm-39-30.52v1l-46,12.55v-1zm-18,371.06v1l-1-.83v-1zm-10-204.92h1l0,1h-1zm0,33h1l0,1h-1zm0,31h1l0,1h-1zm37-67.58v1l-1-.83v-1zm-1-.42h1l0,28h-1zm0,68h1l0,1h-1zm0,54h1l0,1h-1zm0,28h1l0,1h-1zm13,77.74v1l-1,.26v-1zm17-4.44v1l-1,.26v-1zm39-241.3h1l0,28h-1zm0,67h1l0,1h-1zm0,75h1l0,1h-1zm0,10h1l0,1h-1zm0,9h1l0,1h-1zm0,51h1l0,1h-1zm1-212.13v1l-70,18.26v-1zm0,.51v1l-40-30.77v-1zm-39-30.52v1l-61,16.64v-1zm-18,288.76v1l-1-.77v-1zm-13-213.62h1l0,1h-1zm0,41h1l0,1h-1zm0,54h1l0,1h-1zm0,28h1l0,1h-1zm40-92.62v1l-40-30.77v-1zm-1-.38h1l0,55h-1zm0,95h1l0,1h-1zm0,51h1l0,1h-1zm0,28h1l0,1h-1zm13,26.74v1l-1,.26v-1zm56-218.74h1l0,76h-1zm0,115h1l0,1h-1zm0,39h1l0,1h-1zm0,22h1l0,1h-1zm0,9h1l0,1h-1zm1-185.13v1l-70,18.26v-1zm0,.51v1l-40-30.77v-1zm-39-30.51v1l-70,18.26v-1zm-18,261.75v1l-1-.77v-1zm23,17.69v1l-1-.77v-1zm-36-136.31h1l0,1h-1zm0,51h1l0,1h-1zm0,28h1l0,1h-1zm40-68.62v1l-1-.77v-1zm-1-.38h1l0,31h-1zm0,71h1l0,1h-1zm0,54h1l0,1h-1zm44-7.86v1l-1,.27v-1zm22-135.14h1l0,40h-1zm0,80h1l0,1h-1zm0,48h1l0,1h-1zm1-128.14v1l-67,18.27v-1zm0,.56v1l-37-30.83v-1zm-36-30.55v1l-49,12.78v-1zm5,204.44v1l-1-.77v-1zm-36-85.31h1l0,1h-1zm0,54h1l0,1h-1zm31-62.54v1l-1-.77v-1zm9,6.92v1l-1-.77v-1zm-1-.38h1l0,46h-1zm0,86h1l0,1h-1zm40-6.77v1l-1,.27v-1zm26-97.23h1l0,49h-1zm0,89h1l0,1h-1zm1-89.14v1l-67,18.27v-1zm0,.52v1l-40-30.77v-1zm-39-30.52v1l-58,15.82v-1zm12,168.52v1l-1-.77v-1zm-40-34.38h1l0,1h-1zm38-9.15v1l-2-1.54v-1zm2,1.53v1l-1-.77v-1zm-1-.38h1l0,43h-1zm67,23.86v1l-67,18.27v-1zm-1-41.86h1l0,43h-1zm1-.14v1l-67,18.27v-1zm0,.52v1l-40-30.77v-1zm-39-30.52v1l-65,17.73v-1zm-363-104.48v1l-40-30.77v-1zm-40-474.38h1l0,445h-1zm40,30.38v1l-40-30.77v-1zm-1-.38h1l0,445h-1zm1,443.86v1l-1,.27v-1zm36-9.81v1l-1,.27v-1zm29-452.05h1l0,49h-1zm0,88h1l0,1h-1zm0,63h1l0,1h-1zm0,31h1l0,1h-1zm1-182.14v1l-67,18.27v-1zm0,.52v1l-40-30.77v-1zm-39-30.52v1l-67,18.27v-1zm9,522.56v1l-37-30.83v-1zm-37-426.42h1l0,397h-1zm37,30.42v1l-37-30.83v-1zm-1-.42h1l0,397h-1zm1,395.87v1l-1,.26v-1zm39-10.17v1l-1,.26v-1zm29-403.7h1l0,64h-1zm0,103h1l0,1h-1zm0,99h1l0,1h-1zm0,31h1l0,1h-1zm1-233.13v1l-70,18.26v-1zm0,.51v1l-40-30.77v-1zm-39-30.52v1l-67,18.27v-1zm9,474.52v1l-40-30.77v-1zm-40-363.38h1l0,334h-1zm40,30.38v1l-40-30.77v-1zm-1-.38h1l0,334h-1zm1,332.89v1l-1,.22v-1zm39-8.48v1l-1,.22v-1zm29-342.41h1l0,100h-1zm0,139h1l0,1h-1zm0,33h1l0,1h-1zm0,31h1l0,1h-1zm1-203.13v1l-70,18.26v-1zm0,.51v1l-40-30.77v-1zm-39-30.51v1l-70,18.26v-1zm9,414.55v1l-40-33.85v-1zm-40-267.42h1l0,235h-1zm40,30.38v1l-40-30.77v-1zm-1-.38h1l0,238h-1zm1,236.86v1l-1,.27v-1zm39-10.63v1l-1,.27v-1zm26-244.23h1l0,34h-1zm0,74h1l0,1h-1zm0,54h1l0,1h-1zm0,28h1l0,1h-1zm1-156.14v1l-67,18.27v-1zm0,.56v1l-37-30.83v-1zm-36-30.55v1l-70,18.26v-1zm9,315.51v1l-40-30.77v-1zm-40-234.38h1l0,205h-1zm40,30.38v1l-40-30.77v-1zm-1-.38h1l0,205h-1zm1,203.86v1l-1,.27v-1zm39-10.63v1l-1,.27v-1zm27-211.37v1l-67,18.27v-1zm-39-30v1l-67,18.27v-1zm12,282.52v1l-40-30.77v-1zm-40-180.38h1l0,151h-1zm40,30.38v1l-40-30.77v-1zm-1-.38h1l0,151h-1zm1,149.86v1l-1,.27v-1zm39-10.63v1l-1,.27v-1zm4-1.09v1l-1,.27v-1zm22-156.14h1l0,52h-1zm0,92h1l0,1h-1zm0,54h1l0,1h-1zm1-146.14v1l-67,18.27v-1zm0,.52v1l-40-30.77v-1zm-39-30.52v1l-67,18.27v-1zm12,228.52v1l-40-30.77v-1zm-40-129.38h1l0,100h-1zm40,30.38v1l-40-30.77v-1zm-1-.38h1l0,100h-1zm1,98.86v1l-1,.27v-1zm39-10.63v1l-1,.27v-1zm26-106.23h1l0,55h-1zm0,95h1l0,1h-1zm1-95.14v1l-67,18.27v-1zm0,.52v1l-40-30.77v-1zm-39-30.52v1l-67,18.27v-1zm12,177.52v1l-40-30.77v-1zm-40-75.38h1l0,46h-1zm40,30.38v1l-40-30.77v-1zm-1-.38h1l0,46h-1zm67,26.86v1l-67,18.27v-1zm-1-44.86h1l0,46h-1zm1-.14v1l-67,18.27v-1zm0,.52v1l-40-30.77v-1zm-39-30.52v1l-67,18.27v-1z"/>
<text x="185" y="765.5" font-size="35.5" text-anchor="end">0</text>
<text x="185" y="681.5" font-size="35.5" text-anchor="end">100</text>
<text x="185" y="600.5" font-size="35.5" text-anchor="end">200</text>
<text x="185" y="516.5" font-size="35.5" text-anchor="end">300</text>
<text x="185" y="435.5" font-size="35.5" text-anchor="end">400</text>
<text x="185" y="351.5" font-size="35.5" text-anchor="end">500</text>
<text x="96.7" y="271.2" font-size="34.7" text-anchor="end" transform="rotate(-90 96.7 271.2)">Events / ( 2.5 x 2.5 )</text>
<text x="519.53" y="1047.5" font-size="35.5" text-anchor="middle">−10</text>
<text x="486.13" y="1039.2" font-size="35.5" text-anchor="end">−10</text>
<text x="572.96" y="1033.38" font-size="35.5" text-anchor="middle">−8</text>
<text x="455.26" y="1014.88" font-size="35.5" text-anchor="end">−8</text>
<text x="626.39" y="1019.26" font-size="35.5" text-anchor="middle">−6</text>
<text x="424.39" y="990.56" font-size="35.5" text-anchor="end">−6</text>
<text x="679.82" y="1005.14" font-size="35.5" text-anchor="middle">−4</text>
<text x="393.51" y="966.24" font-size="35.5" text-anchor="end">−4</text>
<text x="733.25" y="991.02" font-size="35.5" text-anchor="middle">−2</text>
<text x="362.64" y="941.92" font-size="35.5" text-anchor="end">−2</text>
<text x="788.08" y="976.9" font-size="35.5" text-anchor="middle">0</text>
<text x="331.77" y="917.6" font-size="35.5" text-anchor="end">0</text>
<text x="841.51" y="962.78" font-size="35.5" text-anchor="middle">2</text>
<text x="300.9" y="893.28" font-size="35.5" text-anchor="end">2</text>
<text x="894.94" y="948.66" font-size="35.5" text-anchor="middle">4</text>
<text x="270.03" y="868.96" font-size="35.5" text-anchor="end">4</text>
<text x="948.37" y="934.54" font-size="35.5" text-anchor="middle">6</text>
<text x="239.15" y="844.64" font-size="35.5" text-anchor="end">6</text>
<text x="1001.8" y="920.42" font-size="35.5" text-anchor="middle">8</text>
<text x="208.28" y="820.32" font-size="35.5" text-anchor="end">8</text>
<text x="1055.23" y="906.3" font-size="35.5" text-anchor="middle">10</text>
<text x="177.41" y="796" font-size="35.5" text-anchor="end">10</text>
<text x="1052.83" y="912.8" font-size="34.7" text-anchor="middle" transform="rotate(-14.8 1052.83 912.8)">x</text>
<text x="157.41" y="815" font-size="34.7" text-anchor="middle" transform="rotate(38.23 157.41 815)">y</text>
<path class="kf" d="M514,504.39v1l-310-243.79v-1zm534-141.52v1l-535,141.26v-1zm-535,141.13h1l0,490h-1zm-309-243h1l0,490h-1zm1,489v1l-16,0v-1zm0-18v1l-10,0v-1zm0-15v1l-10,0v-1zm0-18v1l-10,0v-1zm0-15v1l-10,0v-1zm0-18v1l-16,0v-1zm0-15v1l-10,0v-1zm0-18v1l-10,0v-1zm0-15v1l-10,0v-1zm0-18v1l-10,0v-1zm0-15v1l-16,0v-1zm0-18v1l-10,0v-1zm0-15v1l-10,0v-1zm0-18v1l-10,0v-1zm0-15v1l-10,0v-1zm0-18v1l-16,0v-1zm0-15v1l-10,0v-1zm0-18v1l-10,0v-1zm0-15v1l-10,0v-1zm0-18v1l-10,0v-1zm0-15v1l-16,0v-1zm0-18v1l-10,0v-1zm0-15v1l-10,0v-1zm0-18v1l-10,0v-1zm0-15v1l-10,0v-1zm0-18v1l-16,0v-1zm0-15v1l-10,0v-1zm0-18v1l-10,0v-1zm0-15v1l-10,0v-1zm0-18v1l-10,0v-1zm843,581.87v1l-535,141.26v-1zm-534,141.52v1l-310-243.79v-1zm-1.1-.39h1l3.2,16h-1zm1.1-.38v1l-13,9.75v-1zm10.83-2.62h1l3.33,10h-1zm-20.33-3h1l-7,7h-1zm35.5,0h1l0,7h-1zm-44.75-6h1l-3.5,7h-1zm56.5,3h1l3.5,7h-1zm-62.25-9h1l-7,7h-1zm74.33,3h1l6.33,19h-1zm-83.33-9h1l-10,10h-1zm98.33,6h1l3.33,10h-1zm-104.33-12h1l-7,7h-1zm116.33,9h1l3.33,10h-1zm-125.33-15h1l-4,4h-1zm140.5,12h1l0,10h-1zm-146-18.25v1l-7,3.5v-1zm157.8,15.25h1l6.4,16h-1zm-167.3-21h1l-10,10h-1zm182.5,15h1l0,10h-1zm-191.5-21h1l-4,4h-1zm203.33,18h1l3.33,10h-1zm-208.83-24.25v1l-7,3.5v-1zm224,21.25h1l0,10h-1zm-233.5-27h1l-4,4h-1zm245.4,24h1l3.2,16h-1zm-251.4-30h1l-10,10h-1zm263.25,27h1l3.5,7h-1zm-272.25-33h1l-4,4h-1zm287.25,30h1l3.5,7h-1zm-292.75-36.25v1l-7,3.5v-1zm304.83,30.25h1l3.33,10h-1zm-313.83-36.25v1l-7,3.5v-1zm328.9,33.25h1l3.2,16h-1zm-338.4-39h1l-10,10h-1zm350.33,36h1l3.33,10h-1zm-355.83-42.25v1l-7,3.5v-1zm371,39.25h1l0,10h-1zm-380.5-45h1l-4,4h-1zm392.25,42h1l3.5,7h-1zm-397.75-48.25v1l-7,3.5v-1zm412.9,45.25h1l3.2,16h-1zm-422.4-51h1l-10,10h-1zm434.33,45h1l3.33,10h-1zm-439.83-51.25v1l-7,3.5v-1zm455,48.25h1l0,10h-1zm-464.5-57h1l-7,7h-1zm476.33,54h1l3.33,10h-1zm-485.58-60h1l-3.5,7h-1zm497.55,57h1l6.4,16h-1zm-503.42-63h1l-9.75,13h-1zm518.37,60h1l3.5,7h-1zm-527.5-66h1l-3.5,7h-1zm539.58,60h1l3.33,10h-1zm-545.33-66h1l-7,7h-1zm560.33,63h1l3.33,10h-1zm-569.58-69h1l-3.5,7h-1zm581.55,66h1l6.4,16h-1zm-586.8-72.38v1l-13,9.75v-1zm602,69.38h1l0,10h-1zm-611.5-75h1l-7,7h-1zm623.25,72h1l3.5,7h-1zm-632.5-78h1l-3.5,7h-1zm647.75,75h1l0,7h-1zm-653.5-81h1l-7,7h-1zm665.42,75h1l3.17,19h-1zm-674.42-81h1l-10,10h-1zm689.5,78h1l0,10h-1zm-695.5-84h1l-7,7h-1zm707.33,81h1l3.33,10h-1zm-716.58-87h1l-3.5,7h-1zm728.58,84h1l3.33,10h-1zm-734.33-90h1l-7,7h-1zm749.4,87h1l3.2,16h-1zm-758.4-93h1l-10,10h-1zm770.25,90h1l3.5,7h-1zm-779.5-96h1l-3.5,7h-1zm794.58,90h1l3.33,10h-1zm-800.33-96h1l-7,7h-1zm812.33,93h1l3.33,10h-1zm-821.58-99h1l-3.5,7h-1zm836.65,96h1l3.2,16h-1zm-842.4-102h1l-10,10h-1z"/>
<text x="584.3" y="65.8" font-size="52.05" text-anchor="middle">Histogram of hh_data_all__x_y</text>
<rect class="sb" x="912.5" y="81.5" width="225" height="261"/>
<line class="k" x1="912.5" y1="123.5" x2="1137.5" y2="123.5"/>
<text x="1025" y="110.8" font-size="24.9" text-anchor="middle">hh_data_all__x_y</text>
<text x="924" y="155.8" font-size="22.3" text-anchor="start">Entries</text>
<text x="1120.2" y="155.8" font-size="22.3" text-anchor="end">10000</text>
<text x="924" y="197.9" font-size="22.3" text-anchor="start">Mean x</text>
<text x="1122.8" y="197.9" font-size="22.3" text-anchor="end">−3.225</text>
<text x="924" y="242.4" font-size="22.3" text-anchor="start">Mean y</text>
<text x="1120.2" y="242.4" font-size="22.3" text-anchor="end">3.163</text>
<text x="924" y="287.4" font-size="22.3" text-anchor="start">Std Dev x</text>
<text x="1120.2" y="287.4" font-size="22.3" text-anchor="end">4.834</text>
<text x="924" y="329.7" font-size="22.3" text-anchor="start">Std Dev y</text>
<text x="1120.2" y="329.7" font-size="22.3" text-anchor="end">4.818</text>
</g>
<g id="pad2">
<path class="kf" d="M1935,120h1l0,490h-1zm1-.13v1l-538,141.26v-1zm306,243.53v1l-307-243.79v-1zm-1-.4h1l0,490h-1z"/>
<path class="dot" d="M1899.5,531.5h0m3,0h0m3-1h0m3-1h0m3-1h0m3,0h0m3-1h0m3-1h0m3-1h0m3-1h0m3,0h0m3-1h0m3-1h0m0,0h0m3,2h0m3,3h0m3,2h0m3,3h0m3,2h0m3,2h0m3,3h0m3,2h0m3,2h0m3,3h0m3,2h0m3,3h0m3,2h0m3,2h0m3,3h0m3,2h0m3,2h0m3,3h0m3,2h0m3,3h0m3,2h0m3,2h0m3,3h0m3,2h0m3,3h0m3,2h0m3,2h0m3,3h0m3,2h0m3,2h0m3,3h0m3,2h0m3,3h0m3,2h0m3,2h0m3,3h0m3,2h0m3,3h0m3,2h0m3,2h0m3,3h0m3,2h0m3,2h0m3,3h0m3,2h0m3,3h0m3,2h0m3,2h0m3,3h0m3,2h0m3,2h0m3,3h0m3,2h0m3,3h0m3,2h0m3,2h0m3,3h0m3,2h0m3,3h0m3,2h0m3,2h0m3,3h0m3,2h0m3,2h0m3,3h0m3,2h0m3,3h0m3,2h0m3,2h0m3,3h0m3,2h0m3,3h0m3,2h0m3,2h0m3,3h0m3,2h0m3,2h0m3,3h0m3,2h0m3,3h0m3,2h0m3,2h0m3,3h0m3,2h0m3,2h0m3,3h0m3,2h0m3,3h0m3,2h0m3,2h0m3,3h0m3,2h0m3,3h0m3,2h0m3,2h0m3,3h0m3,2h0m3,2h0m3,3h0m3,2h0m3,3h0m3,2h0m-390-305h0m3-1h0m3-1h0m3,0h0m3-1h0m3-1h0m3-1h0m3,0h0m3-1h0m3-1h0m3-1h0m3-1h0m3,0h0m3-1h0m3-1h0m3-1h0m3-1h0m3,0h0m3-1h0m3-1h0m3-1h0m3,0h0m3-1h0m3-1h0m3-1h0m3-1h0m3,0h0m3-1h0m3-1h0m0,0h0m3,2h0m3,3h0m3,2h0m3,3h0m3,2h0m3,2h0m3,3h0m3,2h0m3,2h0m3,3h0m3,2h0m3,3h0m3,2h0m3,2h0m3,3h0m3,2h0m3,2h0m3,3h0m3,2h0m3,3h0m3,2h0m3,2h0m3,3h0m3,2h0m3,3h0m3,2h0m3,2h0m3,3h0m3,2h0m3,2h0m3,3h0m3,2h0m3,3h0m3,2h0m3,2h0m3,3h0m3,2h0m3,3h0m3,2h0m3,2h0m3,3h0m3,2h0m3,2h0m3,3h0m3,2h0m3,3h0m3,2h0m3,2h0m3,3h0m3,2h0m3,2h0m3,3h0m3,2h0m3,3h0m3,2h0m3,2h0m3,3h0m3,2h0m3,3h0m3,2h0m3,2h0m3,3h0m3,2h0m3,2h0m3,3h0m3,2h0m3,3h0m3,2h0m3,2h0m3,3h0m3,2h0m3,3h0m3,2h0m3,2h0m3,3h0m3,2h0m3,2h0m3,3h0m3,2h0m3,3h0m3,2h0m3,2h0m3,3h0m3,2h0m3,2h0m3,3h0m3,2h0m3,3h0m3,2h0m3,2h0m3,3h0m3,2h0m3,3h0m3,2h0m3,2h0m3,3h0m3,2h0m3,2h0m3,3h0m3,2h0m3,3h0m3,2h0m-471-287h0m3,0h0m3-1h0m3-1h0m3-1h0m3-1h0m3,0h0m3-1h0m3-1h0m3-1h0m3-1h0m3,0h0m3-1h0m3-1h0m3-1h0m3,0h0m3-1h0m3-1h0m3-1h0m3-1h0m3,0h0m3-1h0m3-1h0m3-1h0m3-1h0m3,0h0m3-1h0m3-1h0m3-1h0m3-1h0m3,0h0m3-1h0m3-1h0m3-1h0m3,0h0m3-1h0m3-1h0m3-1h0m3-1h0m3,0h0m3-1h0m3-1h0m3-1h0m3-1h0m3,0h0m3-1h0m3-1h0m3-1h0m3,0h0m3-1h0m3-1h0m3-1h0m3-1h0m3,0h0m3-1h0m3-1h0m0,0h0m3,2h0m3,3h0m3,2h0m3,3h0m3,2h0m3,2h0m3,3h0m3,2h0m3,2h0m3,3h0m3,2h0m3,3h0m3,2h0m3,2h0m3,3h0m3,2h0m3,2h0m3,3h0m3,2h0m3,3h0m3,2h0m3,2h0m3,3h0m3,2h0m3,3h0m3,2h0m3,2h0m3,3h0m3,2h0m3,2h0m3,3h0m3,2h0m3,3h0m3,2h0m3,2h0m3,3h0m3,2h0m3,3h0m3,2h0m3,2h0m3,3h0m3,2h0m3,2h0m3,3h0m3,2h0m3,3h0m3,2h0m3,2h0m3,3h0m3,2h0m3,2h0m3,3h0m3,2h0m3,3h0m3,2h0m3,2h0m3,3h0m3,2h0m3,3h0m3,2h0m3,2h0m3,3h0m3,2h0m3,2h0m3,3h0m3,2h0m3,3h0m3,2h0m3,2h0m3,3h0m3,2h0m3,3h0m3,2h0m3,2h0m3,3h0m3,2h0m3,2h0m3,3h0m3,2h0m3,3h0m3,2h0m3,2h0m3,3h0m3,2h0m3,2h0m3,3h0m3,2h0m3,3h0m3,2h0m3,2h0m3,3h0m3,2h0m3,3h0m3,2h0m3,2h0m3,3h0m3,2h0m3,2h0m3,3h0m3,2h0m3,3h0m3,2h0m-843-186h0m3-1h0m3-1h0m3,0h0m3-1h0m3-1h0m3-1h0m3-1h0m3,0h0m3-1h0m3-1h0m3-1h0m3,0h0m3-1h0m3-1h0m3-1h0m3-1h0m3,0h0m3-1h0m3-1h0m3-1h0m3-1h0m3,0h0m273-72h0m3-1h0m3-1h0m3,0h0m3-1h0m3-1h0m3-1h0m3-1h0m3,0h0m3-1h0m3-1h0m3-1h0m3,0h0m3-1h0m3-1h0m3-1h0m3-1h0m3,0h0m3-1h0m3-1h0m3-1h0m3-1h0m3,0h0m3-1h0m3-1h0m3-1h0m3,0h0m3-1h0m3-1h0m3-1h0m3-1h0m3,0h0m3-1h0m3-1h0m3-1h0m3-1h0m3,0h0m3-1h0m3-1h0m3-1h0m3-1h0m3,0h0m3-1h0m3-1h0m3-1h0m3,0h0m3-1h0m3-1h0m3-1h0m3-1h0m3,0h0m3-1h0m3-1h0m3-1h0m3-1h0m3,0h0m3-1h0m3-1h0m3-1h0m3,0h0m3-1h0m3-1h0m3-1h0m3-1h0m3,0h0m3-1h0m3-1h0m0,0h0m3,2h0m3,3h0m3,2h0m3,3h0m3,2h0m3,2h0m3,3h0m3,2h0m3,2h0m3,3h0m3,2h0m3,3h0m3,2h0m3,2h0m3,3h0m3,2h0m3,2h0m3,3h0m3,2h0m3,3h0m3,2h0m3,2h0m3,3h0m3,2h0m3,3h0m3,2h0m3,2h0m3,3h0m3,2h0m3,2h0m3,3h0m3,2h0m3,3h0m3,2h0m3,2h0m3,3h0m3,2h0m3,3h0m3,2h0m3,2h0m3,3h0m3,2h0m3,2h0m3,3h0m3,2h0m3,3h0m3,2h0m3,2h0m3,3h0m3,2h0m3,2h0m3,3h0m3,2h0m3,3h0m3,2h0m3,2h0m3,3h0m3,2h0m3,3h0m3,2h0m3,2h0m3,3h0m3,2h0m3,2h0m3,3h0m3,2h0m3,3h0m3,2h0m3,2h0m3,3h0m3,2h0m3,3h0m3,2h0m3,2h0m3,3h0m3,2h0m3,2h0m3,3h0m3,2h0m3,3h0m3,2h0m3,2h0m3,3h0m3,2h0m3,2h0m3,3h0m3,2h0m3,3h0m3,2h0m3,2h0m3,3h0m3,2h0m3,3h0m3,2h0m3,2h0m3,3h0m3,2h0m3,2h0m3,3h0m3,2h0m3,3h0m3,2h0m-843-189h0m3-1h0m3-1h0m3,0h0m3-1h0m3-1h0m3-1h0m3-1h0m3,0h0m3-1h0m3-1h0m3-1h0m3,0h0m3-1h0m3-1h0m3-1h0m3-1h0m3,0h0m3-1h0m3-1h0m3-1h0m3-1h0m3,0h0m153-41h0m3,0h0m3-1h0m3-1h0m3-1h0m3,0h0m3-1h0m3-1h0m3-1h0m3-1h0m3,0h0m3-1h0m3-1h0m3-1h0m3-1h0m3,0h0m3-1h0m3-1h0m3-1h0m3,0h0m3-1h0m3-1h0m3-1h0m3-1h0m3,0h0m3-1h0m3-1h0m3-1h0m3-1h0m3,0h0m3-1h0m3-1h0m3-1h0m3,0h0m3-1h0m3-1h0m3-1h0m3-1h0m3,0h0m3-1h0m3-1h0m3-1h0m3-1h0m3,0h0m3-1h0m3-1h0m3-1h0m3-1h0m3,0h0m3-1h0m3-1h0m3-1h0m3,0h0m3-1h0m3-1h0m3-1h0m3-1h0m3,0h0m3-1h0m3-1h0m3-1h0m3-1h0m3,0h0m3-1h0m3-1h0m3-1h0m3,0h0m3-1h0m3-1h0m3-1h0m3-1h0m3,0h0m3-1h0m3-1h0m3-1h0m3-1h0m3,0h0m3-1h0m3-1h0m3-1h0m3-1h0m3,0h0m3-1h0m3-1h0m3-1h0m3,0h0m3-1h0m3-1h0m3-1h0m3-1h0m3,0h0m3-1h0m3-1h0m3-1h0m3-1h0m3,0h0m3-1h0m3-1h0m3-1h0m3,0h0m3-1h0m3-1h0m3-1h0m3-1h0m3,0h0m3-1h0m3-1h0m0,0h0m3,2h0m3,3h0m3,2h0m3,3h0m3,2h0m3,2h0m3,3h0m3,2h0m3,2h0m3,3h0m3,2h0m3,3h0m3,2h0m3,2h0m3,3h0m3,2h0m3,2h0m3,3h0m3,2h0m3,3h0m3,2h0m3,2h0m3,3h0m3,2h0m3,3h0m3,2h0m3,2h0m3,3h0m3,2h0m3,2h0m3,3h0m3,2h0m3,3h0m3,2h0m3,2h0m3,3h0m3,2h0m3,3h0m3,2h0m3,2h0m3,3h0m3,2h0m3,2h0m3,3h0m3,2h0m3,3h0m3,2h0m3,2h0m3,3h0m3,2h0m3,2h0m3,3h0m3,2h0m3,3h0m3,2h0m3,2h0m3,3h0m3,2h0m3,3h0m3,2h0m3,2h0m3,3h0m3,2h0m3,2h0m3,3h0m3,2h0m3,3h0m3,2h0m3,2h0m3,3h0m3,2h0m3,3h0m3,2h0m3,2h0m3,3h0m3,2h0m3,2h0m3,3h0m3,2h0m3,3h0m3,2h0m3,2h0m3,3h0m3,2h0m3,2h0m3,3h0m3,2h0m3,3h0m3,2h0m3,2h0m3,3h0m3,2h0m3,3h0m3,2h0m3,2h0m3,3h0m3,2h0m3,2h0m3,3h0m3,2h0m3,3h0m3,2h0"/>
<path class="w" d="M1398,459h4v-1h4v-1h4v-1h3v-1h4v-1h4v-1h4v-1h4v-1h4v-1h3v-1h4v-1h4v-1h4v-1h4v-1h4v-1h3v-1h4v-1h4v-145h4v-1h3v-1h4v-1h4v-1h3v-1h4v-1h4v-1h3v-1h4v-1h4v-1h3v-1h4v-1h4v-1h3v-1h4v-1h4v-1h3v-1h4v-10h4v-1h3v-1h4v-1h4v-1h3v-1h4v-1h4v-1h3v-1h4v-1h4v-1h3v-1h4v-1h4v-1h3v-1h4v-1h4v-1h3v-1h4v-1h1v1h1v1h2v1h1v1h1v1h1v1h2v1h1v1h1v1h2v1h1v1h1v1h2v1h1v1h1v1h1v1h2v1h1v1h1v1h2v1h1v1h1v1h2v1h1v1h1v1h1v1h2v1h1v1h1v1h2v1h1v10h1v1h2v1h1v1h1v1h1v1h2v1h1v1h1v1h2v1h1v1h1v1h2v1h1v1h1v1h1v1h2v1h1v1h3v-1h3v-1h4v-1h4v-1h3v-1h4v-1h4v-1h3v-1h4v-1h4v-1h3v-1h4v-1h1v1h1v1h2v1h1v1h1v1h1v1h2v1h1v1h1v1h2v1h1v1h1v1h2v1h1v1h1v1h1v1h2v1h1v1h1v1h2v1h1v1h1v1h2v1h1v1h1v1h1v1h2v1h1v1h1v1h2v1h1v49h1v1h2v1h1v1h1v1h1v1h2v1h1v1h1v1h2v1h1v1h1v1h2v1h1v1h1v1h1v1h2v1h1v1h1v1h2v1h1v1h1v1h2v1h1v1h1v1h1v1h2v1h1v1h1v1h2v1h1v1h4v-1h4v-1h3v-1h4v-1h4v-1h3v-1h4v-1h1v1h1v1h2v1h1v1h1v1h1v1h2v1h1v1h1v1h2v1h1v1h1v1h2v1h1v1h1v1h1v1h2v1h1v1h1v1h2v1h1v1h1v1h2v1h1v1h1v1h1v1h2v1h1v1h1v1h2v1h1v57h2v1h1v1h1v1h1v1h1v1h2v1h1v1h1v1h1v1h1v1h1v1h2v1h1v1h1v1h1v1h1v1h2v1h1v1h1v1h1v1h1v1h1v1h2v1h1v1h1v7h1v1h2v1h1v1h1v1h1v1h2v1h1v1h1v1h2v1h1v1h1v1h2v1h1v1h1v1h1v1h2v1h1v1h1v1h2v1h1v1h1v1h2v1h1v1h1v1h1v1h2v1h1v1h1v1h2v1h1v30h1v1h1v1h2v1h1v1h1v1h2v1h1v26h3v-1h5v-1h1v1h1v1h1v1h2v1h1v1h1v1h1v1h1v1h2v1h1v1h1v1h1v1h1v1h2v1h1v1h1v1h1v1h1v1h2v1h1v1h1v1h1v1h1v1h2v1h1v1h1v1h1v-1h4v-1h1v1h1v1h2v1h1v1h1v1h1v1h2v1h1v1h1v1h2v1h1v1h1v1h2v1h1v1h1v1h1v1h2v1h1v1h1v1h2v1h1v1h1v1h2v1h1v1h1v1h1v1h2v1h1v1h3v-1h1v1h1v1h2v1h1v1h1v1h1v1h2v1h1v1h1v1h2v1h1v1h1v1h2v1h1v1h1v1h1v1h2v1h1v1h1v1h2v1h1v1h1v1h2v1h1v1h1v1h1v1h2v1h1v1h1v1h2v1h1v7h1v1h1v1h2v1h1v1h1v1h1v1h1v1h1v1h2v1h1v1h1v1h1v1h1v1h2v1h1v1h1v1h1v1h1v1h1v1h2v1h1v1h1v1h1v1h1v1h2v1h1v1h1v1h1v1h1v-1h4v-1h1v1h1v1h2v1h1v1h1v1h1v1h2v1h1v1h1v1h2v1h1v1h1v1h2v1h1v1h1v1h1v1h2v1h1v1h1v1h2v1h1v1h1v1h2v1h1v1h1v1h1v1h2v1h1v1h1v1h2v1h1v10h1v1h2v1h1v1h1v1h1v1h2v1h1v1h1v1h2v1h1v1h1v1h2v1h1v1h1v1h1v1h2v1h1v1h1v1h2v1h1v1h1v1h2v1h1v1h1v1h1v1h2v-1h4v-1h1v1h1v1h2v1h1v1h1v1h1v1h2v1h1v1h1v1h2v1h1v1h1v1h2v1h1v1h1v1h1v1h2v1h1v1h1v1h2v1h1v1h1v1h2v1h1v1h1v1h1v1h2v1h1v1h1v1h2v1h1v10h1v1h1v1h2v1h1v1h1v1h1v1h1v1h2v1h1v1h1v1h1v1h1v1h2v1h1v1h1v1h1v1h1v1h2v1h1v1h1v1h1v1h1v1h2v1h1v1h1v1h1v1h1v1h2v1h1v1h1v1h-4v1h-3v1h-4v1h-4v1h-3v1h-4v1h-4v1h-3v1h-4v1h-4v1h-3v1h-4v1h-4v1h-3v1h-4v1h-4v1h-3v1h-1v1h-7v1h-3v1h-4v1h-4v1h-3v1h-4v1h-4v1h-3v1h-4v1h-4v1h-3v1h-4v1h-4v1h-3v1h-4v1h-4v1h-3v1h-4v1h-4v1h-3v1h-4v1h-4v1h-3v1h-4v1h-4v1h-3v1h-4v1h-4v1h-3v1h-4v1h-4v1h-3v1h-4v1h-4v1h-3v1h-4v1h-4v1h-4v1h-4v1h-3v1h-4v1h-4v1h-4v1h-4v1h-4v1h-3v1h-4v1h-4v1h-4v1h-4v1h-4v1h-3v1h-4v1h-4v1h-4v1h-5v1h-4v1h-5v1h-4v1h-4v1h-5v1h-4v1h-5v1h-4v1h-4v1h-5v1h-4v1h-5v1h-4v1h-4v1h-3v1h-4v1h-4v1h-3v1h-4v1h-4v1h-3v1h-4v1h-4v1h-3v1h-4v1h-4v1h-3v1h-4v1h-4v1h-3v1h-4v1h-4v1h-4v1h-4v1h-3v1h-4v1h-4v1h-4v1h-4v1h-4v1h-3v1h-4v1h-4v1h-4v1h-4v1h-4v1h-3v1h-4v1h-4v1h-4v1h-3v1h-4v1h-4v1h-3v1h-4v1h-4v1h-3v1h-4v1h-4v1h-3v1h-4v1h-4v1h-3v1h-4v1h-4v1h-3v1h-4v1h-1v-1h-1v-1h-2v-1h-1v-1h-1v-1h-1v-1h-2v-1h-1v-1h-1v-1h-2v-1h-1v-1h-1v-1h-2v-1h-1v-1h-1v-1h-1v-1h-2v-1h-1v-1h-1v-1h-2v-1h-1v-1h-1v-1h-2v-1h-1v-1h-1v-1h-1v-1h-2v-1h-1v-1h-1v-1h-2v-1h-1v-1h-1v-1h-2v-1h-1v-1h-1v-1h-1v-1h-2v-1h-1v-1h-1v-1h-2v-1h-1v-1h-1v-1h-2v-1h-1v-1h-1v-1h-1v-1h-2v-1h-1v-1h-1v-1h-2v-1h-1v-1h-1v-1h-2v-1h-1v-1h-1v-1h-1v-1h-2v-1h-1v-1h-1v-1h-2v-1h-1v-1h-1v-1h-1v-1h-2v-1h-1v-1h-1v-1h-1v-1h-1v-1h-2v-1h-1v-1h-1v-1h-1v-1h-1v-1h-2v-1h-1v-1h-1v-1h-1v-1h-1v-1h-2v-1h-1v-1h-1v-1h-1v-1h-1v-1h-2v-1h-1v-1h-1v-1h-1v-1h-1v-1h-2v-1h-1v-1h-1v-1h-1v-1h-2v-1h-1v-1h-1v-1h-1v-1h-2v-1h-1v-1h-1v-1h-2v-1h-1v-1h-1v-1h-2v-1h-1v-1h-1v-1h-1v-1h-2v-1h-1v-1h-1v-1h-2v-1h-1v-1h-1v-1h-2v-1h-1v-1h-1v-1h-1v-1h-2v-1h-1v-1h-1v-1h-2v-1h-1v-1h-1v-1h-1v-1h-2v-1h-1v-1h-1v-1h-1v-1h-1v-1h-1v-1h-2v-1h-1v-1h-1v-1h-1v-1h-1v-1h-2v-1h-1v-1h-1v-1h-1v-1h-1v-1h-1v-1h-2v-1h-1v-1h-1v-1h-1v-1h-1v-1h-2v-1h-1v-1h-1v-1h-1v-1h-1v-1h-1v-1h-2v-1h-1v-1h-1v-1h-1v-1h-2v-1h-1v-1h-1v-1h-1v-1h-2v-1h-1v-1h-1v-1h-2v-1h-1v-1h-1v-1h-2v-1h-1v-1h-1v-1h-1v-1h-2v-1h-1v-1h-1v-1h-2v-1h-1v-1h-1v-1h-2v-1h-1v-1h-1v-1h-1v-1h-2v-1h-1v-1h-1v-1h-2v-1h-1v-1h-1v-1h-2v-1h-1v-1h-1v-1h-1v-1h-2v-1h-1v-1h-1v-1h-2v-1h-1v-1h-1v-1h-2v-1h-1v-1h-1v-1h-1v-1h-2v-1h-1v-1h-1v-1h-2v-1h-1v-1h-1v-1h-2v-1h-1v-1h-1v-1h-1v-1h-2v-1h-1v-1h-1v-1h-2v-1h-1v-1h-1v-1h-2v-1h-1v-1h-1v-1h-1v-1h-2v-1h-1v-1h-1v-1h-2v-1h-1v-1h-1v-1h-2v-1h-1v-1h-1v-1h-1v-1h-2v-1h-1v-1h-1v-1h-2v-1h-1v-1h-1v-1h-2v-1h-1v-1h-1v-1h-1v-1h-2v-1h-1v-1h-1v-1h-2v-1h-1z"/>
<path class="b" d="M1927,651.14v1l-1,.27v-1zm27-7.37v1l-1,.27v-1zm4-1.09v1l-1,.27v-1zm-25,3.82v1l-7,1.91v-1zm4-1.09v1l-3,.82v-1zm3-.82v1l-2,.55v-1zm4-1.09v1l-2,.55v-1zm4-1.09v1l-1,.27v-1zm5-1.36v1l-1,.27v-1zm2-.55v1l-1,.27v-1zm11-9.08v1l-31-25.83v-1zm-30-25.53v1l-10,2.17v-1zm-9,67.65v1l-1-.77v-1zm5,3.84v1l-1-.77v-1zm-5-12.84v1l-1-.77v-1zm14,10.77v1l-1-.77v-1zm25,5.83v1l-1,.27v-1zm42-23.06v1l-37-28.46v-1zm-81-15.94v1l-1,.27v-1zm45-12.28v1l-24,6.55v-1zm0,78.29v1l-1-.77v-1zm-28-34.15h1l0,1h-1zm3,.12v1l-1-.85v-1zm46,40.29v1l-1,.27v-1zm31-8.46v1l-1,.27v-1zm25-18.95h1l0,7h-1zm-62,17.05v1l-2,.55v-1zm4-1.1v1l-2,.55v-1zm2-.54v1l-1,.27v-1zm57-15.55v1l-28,7.64v-1zm0,.52v1l-40-30.77v-1zm-96-17.54v1l-1,.23v-1zm57-12.95v1l-25,5.68v-1zm-19,66.65v1l-1-.77v-1zm4,3.08v1l-2-1.54v-1zm6,4.61v1l-3-2.31v-1zm5,3.85v1l-4-3.08v-1zm5,3.84v1l-3-2.31v-1zm4,3.08v1l-1-.77v-1zm-23-23.69v1l-1-.77v-1zm29,26.69h1l0,1h-1zm40-6.98v1l-1,.23v-1zm-2-5.54v1l-2,.45v-1zm23-11.13v1l-34-28.77v-1zm-90-12.94v1l-1,.27v-1zm57-15.55v1l-28,7.64v-1zm-28,52.14h1l0,1h-1zm8-1.23v1l-1-.77v-1zm20,15.38v1l-1-.77v-1zm34,14.71v1l-1,.27v-1zm43-23.86h1l0,10h-1zm1-.14v1l-56,15.27v-1zm0,.52v1l-40-30.77v-1zm-39-30.52v1l-35,9.55v-1zm-23,63.89v1l-1-.83v-1zm62,15.29v1l-2,.52v-1zm33-14.27v1l-34-26.15v-1zm-33-25.88v1l-50,11.36v-1zm-14,54.8v1l-1-.77v-1zm23,17.69v1l-1-.77v-1zm-1-.38h1l0,4h-1zm70-9.13v1l-64,16.7v-1zm-1-8.87h1l0,10h-1zm1-.13v1l-70,18.26v-1zm0,.51v1l-40-30.77v-1zm-39-30.51v1l-45,11.74v-1zm9,87.51v1l-1-.77v-1zm66-18.52v1l-67,18.27v-1zm0,.56v1l-37-30.83v-1zm-414-186.27v1l-1-.77v-1zm-28-68.15h1l0,1h-1zm19-4.77v1l-1-.77v-1zm20,68.77h1l0,1h-1zm34,3.86v1l-1,.27v-1zm-12-62.72v1l-1,.27v-1zm42-14.06v1l-1-.77v-1zm-60-21.67v1l-1,.27v-1zm24,128.74v1l-1-.77v-1zm-28-34.15h1l0,1h-1zm22-37.81v1l-1-.85v-1zm17,46.81h1l0,1h-1zm0,21h1l0,1h-1zm22,7.14v1l-1,.27v-1zm38-10.37v1l-2,.55v-1zm6-67.77h1l0,14h-1zm0,23h1l0,1h-1zm0,30h1l0,1h-1zm-17-48.23v1l-1,.27v-1zm18-4.91v1l-12,3.27v-1zm0,.52v1l-19-14.62v-1zm-84-20.27v1l-1,.23v-1zm39,120.43v1l-1-.77v-1zm8,6.15v1l-2-1.54v-1zm-30-56.69h1l0,1h-1zm0,21h1l0,1h-1zm39-9h1l0,1h-1zm0,41h1l0,1h-1zm49-2.23v1l-1,.27v-1zm17-26.77h1l0,1h-1zm0,9h1l0,1h-1zm-54-26.14v1l-3,.82v-1zm12-3.27v1l-11,3v-1zm4-1.09v1l-3,.82v-1zm4-1.09v1l-2,.55v-1zm3-.82v1l-1,.27v-1zm2-.54v1l-1,.27v-1zm28-9.2v1l-38-29.23v-1zm-55-24.08v1l-1,.27v-1zm18-4.91v1l-2,.55v-1zm-28,50.14h1l0,1h-1zm0,41h1l0,1h-1zm5-41.88v1l-1-.92v-1zm31,31.88h1l0,1h-1zm13,47.74v1l-1,.26v-1zm56-68.74h1l0,13h-1zm0,52h1l0,1h-1zm-59-36.48v1l-1,.26v-1zm60-15.65v1l-32,8.35v-1zm0,.55v1l-40-33.85v-1zm-96-18.01v1l-1,.27v-1zm57-15.55v1l-31,8.45v-1zm-21,112.45v1l-1-.77v-1zm3-39.69v1l-1-.77v-1zm26,32.38h1l0,1h-1zm0,21h1l0,1h-1zm0,6h1l0,1h-1zm4,2.24v1l-1,.22v-1zm65-59.24h1l0,22h-1zm1-.13v1l-43,11.22v-1zm0,.51v1l-40-30.77v-1zm-96-15.64v1l-1,.26v-1zm57-14.87v1l-31,8.09v-1zm-22,97.32v1l-1-.85v-1zm4,3.39v1l-1-.85v-1zm18,15.23v1l-2-1.69v-1zm-31-34.81h1l0,1h-1zm0,6h1l0,1h-1zm13-8.38v1l-1-.77v-1zm26,34.38h1l0,1h-1zm40-.77v1l-1,.27v-1zm-13-20.46v1l-1,.27v-1zm29-19.52v1l-26-21.67v-1zm-25-21.38v1l-31,8.09v-1zm-8,89.44v1l-1-.77v-1zm-23-27.31h1l0,1h-1zm24-6.12v1l-1-.85v-1zm16,13.54v1l-1-.85v-1zm-1-.42h1l0,16h-1zm18,28.23v1l-1,.27v-1zm48-46.23h1l0,28h-1zm1-.14v1l-67,18.27v-1zm0,.56v1l-40-33.85v-1zm-39-33.56v1l-53,14.45v-1zm-5,101.45v1l-1-.77v-1zm17,13.07v1l-1-.77v-1zm-12-15.23v1l-1-.77v-1zm12,9.23v1l-1-.77v-1zm-1-.38h1l0,7h-1zm67-12.14v1l-67,18.27v-1zm-1-5.86h1l0,7h-1zm1-.14v1l-67,18.27v-1zm0,.52v1l-40-30.77v-1zm-39-30.52v1l-55,15v-1zm-403-321.86h1l0,1h-1zm0,41h1l0,1h-1zm21-45.23v1l-1-.77v-1zm6,4.61v1l-3-2.31v-1zm6,4.62v1l-4-3.08v-1zm6,6h1l0,1h-1zm0,21h1l0,1h-1zm0,139h1l0,1h-1zm32,1.41v1l-1,.27v-1zm34-163.41h1l0,1h-1zm0,41h1l0,1h-1zm0,3h1l0,2h-1zm0,22h1l0,1h-1zm0,75h1l0,1h-1zm-17-153.23v1l-1,.27v-1zm0-18.23v1l-1-.77v-1zm-66-4.4v1l-1,.27v-1zm46,230.61v1l-1-.83v-1zm-29-193.75h1l0,1h-1zm0,21h1l0,1h-1zm0,139h1l0,1h-1zm36-128h1l0,1h-1zm0,40h1l0,1h-1zm0,75h1l0,1h-1zm0,19h1l0,1h-1zm0,3h1l0,1h-1zm0,22h1l0,1h-1zm22,3.39v1l-1,.26v-1zm47-207.39h1l0,7h-1zm0,32h1l0,1h-1zm0,9h1l0,1h-1zm0,3h1l0,1h-1zm0,41h1l0,1h-1zm0,76h1l0,1h-1zm0,21h1l0,1h-1zm-56-169.72v1l-1,.22v-1zm57-12.39v1l-31,6.74v-1zm0,.53v1l-31-26.23v-1zm-57-28.65v1l-1,.27v-1zm9,257.77v1l-1-.77v-1zm-22-184.54h1l0,1h-1zm0,40h1l0,1h-1zm0,75h1l0,1h-1zm0,19h1l0,1h-1zm0,3h1l0,1h-1zm0,22h1l0,1h-1zm13-172.42v1l-1-.85v-1zm23,19.46v1l-1-.85v-1zm3,2.54v1l-1-.85v-1zm0,9.42h1l0,1h-1zm0,12h1l0,1h-1zm0,75h1l0,1h-1zm0,40h1l0,1h-1zm52,39.57v1l-1,.26v-1zm17-193.57h1l0,30h-1zm0,38h1l0,1h-1zm0,99h1l0,1h-1zm0,41h1l0,1h-1zm1-178.13v1l-29,7.57v-1zm0,.51v1l-40-30.77v-1zm-96-18.1v1l-1,.22v-1zm57-12.39v1l-27,5.87v-1zm-3,258.26v1l-1-.77v-1zm-28-114.15h1l0,1h-1zm0,40h1l0,1h-1zm13-63.38v1l-1-.77v-1zm26,41.38h1l0,1h-1zm0,12h1l0,1h-1zm0,81h1l0,1h-1zm23,5.86v1l-1,.27v-1zm43-134.86h1l0,31h-1zm0,60h1l0,1h-1zm0,12h1l0,1h-1zm1-72.11v1l-28,6.36v-1zm0,.57v1l-28-25.67v-1zm-93-18.72v1l-1,.26v-1zm56,181.95v1l-1-.77v-1zm-30-115.69h1l0,1h-1zm0,81h1l0,1h-1zm13-73.42v1l-1-.85v-1zm26,24.42h1l0,1h-1zm0,60h1l0,1h-1zm0,11h1l0,1h-1zm0,10h1l0,1h-1zm10,7.41v1l-1,.27v-1zm56-108.41h1l0,22h-1zm0,63h1l0,1h-1zm0,21h1l0,1h-1zm0,6h1l0,1h-1zm1-90.14v1l-29,7.91v-1zm0,.52v1l-40-30.77v-1zm-95-17.77v1l-2,.45v-1zm56-12.72v1l-28,6.36v-1zm-18,148.42v1l-1-.77v-1zm-10-38.31h1l0,1h-1zm0,11h1l0,1h-1zm0,10h1l0,1h-1zm40-31.62v1l-1-.77v-1zm-1-.38h1l0,1h-1zm0,40h1l0,1h-1zm40,23.02v1l-1,.23v-1zm26-78.02h1l0,22h-1zm0,62h1l0,1h-1zm1-62.11v1l-67,15.23v-1zm0,.53v1l-40-33.85v-1zm-39-33.56v1l-28,7.64v-1zm-7,137.49v1l-1-.85v-1zm-21-49.35h1l0,1h-1zm40,14.42v1l-1-.85v-1zm-1-.42h1l0,31h-1zm66-18h1l0,34h-1zm1-.14v1l-67,18.27v-1zm0,.52v1l-40-30.77v-1zm-39-30.49v1l-46,10.45v-1zm-9,113.34v1l-1-.77v-1zm21,16.15v1l-1-.77v-1zm-2-19.53v1l-2-1.54v-1zm2,1.53v1l-1-.77v-1zm-1-.38h1l0,19h-1zm67-.14v1l-67,18.27v-1zm-1-17.86h1l0,19h-1zm1-.14v1l-67,18.27v-1zm0,.52v1l-40-30.77v-1zm-39-30.52v1l-65,17.73v-1zm-387-144.63v1l-1-.77v-1zm-19-293.23h1l0,1h-1zm0,22h1l0,1h-1zm0,19h1l0,1h-1zm0,45h1l0,1h-1zm0,22h1l0,1h-1zm0,51h1l0,1h-1zm0,40h1l0,1h-1zm4-199.31v1l-2-1.54v-1zm22,16.93v1l-1-.77v-1zm13,35.38h1l0,1h-1zm0,66h1l0,1h-1zm0,19h1l0,1h-1zm0,30h1l0,1h-1zm0,22h1l0,1h-1zm0,99h1l0,1h-1zm43,9.91v1l-1,.26v-1zm26-248.91h1l0,1h-1zm0,72h1l0,1h-1zm0,21h1l0,1h-1zm0,139h1l0,1h-1zm-33-263.26v1l-10,2.61v-1zm4-1.04v1l-3,.78v-1zm4-1.05v1l-3,.78v-1zm3-.78v1l-2,.52v-1zm4-1.04v1l-3,.78v-1zm4-1.05v1l-3,.78v-1zm3-.78v1l-2,.52v-1zm4-1.04v1l-2,.52v-1zm4-1.05v1l-2,.52v-1zm3-.78v1l-1,.26v-1zm-95-15.39v1l-1,.26v-1zm3-.78v1l-2,.52v-1zm42,330.27v1l-1-.77v-1zm-19-271.23h1l0,1h-1zm0,66h1l0,1h-1zm0,19h1l0,1h-1zm0,30h1l0,1h-1zm0,22h1l0,1h-1zm0,99h1l0,1h-1zm38-244.15v1l-2-1.54v-1zm1,64.15h1l0,1h-1zm0,41h1l0,1h-1zm0,140h1l0,1h-1zm0,7h1l0,1h-1zm0,22h1l0,1h-1zm22,15.14v1l-1,.27v-1zm44-306.14h1l0,1h-1zm0,12h1l0,1h-1zm0,114h1l0,1h-1zm0,40h1l0,1h-1zm0,75h1l0,1h-1zm0,19h1l0,1h-1zm0,3h1l0,1h-1zm0,22h1l0,1h-1zm-53-270.41v1l-1,.27v-1zm54-14.73v1l-1,.27v-1zm-27-21.94v1l-1-.83v-1zm11,9.16v1l-1-.83v-1zm6,5v1l-2-1.67v-1zm10,8.34v1l-8-6.67v-1zm-90-16.46v1l-2,.52v-1zm45,344.58v1l-1-.77v-1zm-22-338.54h1l0,1h-1zm0,13h1l0,1h-1zm0,12h1l0,1h-1zm0,66h1l0,1h-1zm0,41h1l0,1h-1zm0,140h1l0,1h-1zm0,7h1l0,1h-1zm0,22h1l0,1h-1zm2-301.85v1l-1-.77v-1zm37,30.85h1l0,1h-1zm0,83h1l0,1h-1zm0,10h1l0,1h-1zm0,138h1l0,1h-1zm0,41h1l0,1h-1zm49,36.77v1l-1,.27v-1zm17-328.77h1l0,91h-1zm0,131h1l0,1h-1zm0,3h1l0,1h-1zm0,10h1l0,1h-1zm0,12h1l0,1h-1zm0,75h1l0,1h-1zm0,40h1l0,1h-1zm1-271.14v1l-29,7.91v-1zm0,.52v1l-40-30.77v-1zm-39-30.52v1l-28,7.64v-1zm-9,386.37v1l-1-.77v-1zm-19-243.23h1l0,1h-1zm0,138h1l0,1h-1zm0,41h1l0,1h-1zm6-179.77v1l-1-.77v-1zm4,3.08v1l-1-.77v-1zm15,11.54v1l-1-.77v-1zm14,36.15h1l0,1h-1zm0,75h1l0,1h-1zm0,31h1l0,1h-1zm0,3h1l0,1h-1zm0,9h1l0,1h-1zm0,69h1l0,1h-1zm31,13.68v1l-1,.27v-1zm35-243.68h1l0,4h-1zm0,44h1l0,1h-1zm0,85h1l0,1h-1zm0,12h1l0,1h-1zm0,81h1l0,1h-1zm1-222.14v1l-53,14.45v-1zm0,.52v1l-40-30.77v-1zm-100-13.88v1l-1,.27v-1zm61-16.64v1l-28,7.64v-1zm-9,296.37v1l-1-.77v-1zm-19-223.23h1l0,1h-1zm0,75h1l0,1h-1zm0,31h1l0,1h-1zm0,3h1l0,1h-1zm0,9h1l0,1h-1zm0,69h1l0,1h-1zm40-178.62v1l-1-.77v-1zm-1-.38h1l0,58h-1zm0,97h1l0,1h-1zm0,81h1l0,1h-1zm0,22h1l0,1h-1zm0,9h1l0,1h-1zm10,19.41v1l-1,.27v-1zm56-246.41h1l0,100h-1zm0,140h1l0,1h-1zm0,60h1l0,1h-1zm0,11h1l0,1h-1zm0,10h1l0,1h-1zm1-221.14v1l-67,18.27v-1zm0,.52v1l-40-30.77v-1zm-39-30.52v1l-50,13.64v-1zm-18,286.45v1l-1-.77v-1zm-10-60.31h1l0,1h-1zm0,22h1l0,1h-1zm0,9h1l0,1h-1zm40-79.62v1l-1-.77v-1zm-1-.38h1l0,40h-1zm0,80h1l0,1h-1zm6,50.5v1l-1,.27v-1zm4-1.09v1l-1,.27v-1zm7-1.91v1l-1,.27v-1zm4-1.09v1l-1,.27v-1zm7-1.91v1l-1,.27v-1zm4-1.09v1l-1,.27v-1zm5-1.36v1l-1,.27v-1zm29-140.05h1l0,61h-1zm0,100h1l0,1h-1zm1-100.14v1l-67,18.27v-1zm0,.52v1l-40-30.77v-1zm-39-30.52v1l-28,7.64v-1zm-26,181.39v1l-1-.83v-1zm-2-53.25h1l0,1h-1zm20-3.75v1l-1-.83v-1zm17,14.17v1l-1-.83v-1zm-1-.42h1l0,34h-1zm17,68.41v1l-1,.22v-1zm4-.87v1l-2,.43v-1zm5-1.08v1l-3,.65v-1zm8-1.74v1l-7,1.52v-1zm4-.87v1l-3,.65v-1zm2-.44v1l-1,.22v-1zm29-81.41h1l0,55h-1zm1-.13v1l-70,18.26v-1zm0,.51v1l-40-30.77v-1zm-39-30.52v1l-50,13.64v-1zm-29,121.41v1l-1-.85v-1zm38,32.15v1l-1-.85v-1zm0-21.04v1l-1-.77v-1zm-1-.38h1l0,22h-1zm70,2.87v1l-70,18.26v-1zm-1-20.87h1l0,22h-1zm1-.13v1l-70,18.26v-1zm0,.51v1l-40-30.77v-1zm-39-30.51v1l-49,12.78v-1zm-372-130.52v1l-1-.85v-1zm-34-367.35h1l0,1h-1zm0,40h1l0,1h-1zm0,90h1l0,1h-1zm0,19h1l0,1h-1zm0,123h1l0,1h-1zm0,22h1l0,1h-1zm0,41h1l0,1h-1zm13-349.38v1l-1-.77v-1zm26,33.38h1l0,1h-1zm0,10h1l0,1h-1zm0,90h1l0,1h-1zm0,41h1l0,1h-1zm0,51h1l0,1h-1zm0,19h1l0,1h-1zm0,114h1l0,1h-1zm0,22h1l0,1h-1zm22,.14v1l-1,.27v-1zm21-5.73v1l-1,.27v-1zm23-331.41h1l0,1h-1zm0,28h1l0,1h-1zm0,40h1l0,1h-1zm0,66h1l0,1h-1zm0,19h1l0,1h-1zm0,30h1l0,1h-1zm0,22h1l0,1h-1zm0,99h1l0,1h-1zm-26-337.77v1l-1,.27v-1zm-3-29.92v1l-1-.77v-1zm3,2.31v1l-1-.77v-1zm20,15.38v1l-1-.77v-1zm-95-7.95v1l-1,.27v-1zm57,413.49v1l-1-.77v-1zm-22-413.54h1l0,1h-1zm0,44h1l0,1h-1zm0,10h1l0,1h-1zm0,90h1l0,1h-1zm0,41h1l0,1h-1zm0,51h1l0,1h-1zm0,19h1l0,1h-1zm0,114h1l0,1h-1zm0,22h1l0,1h-1zm17-395.31v1l-1-.77v-1zm23,17.69v1l-1-.77v-1zm-1-.38h1l0,55h-1zm0,76h1l0,1h-1zm0,31h1l0,1h-1zm0,45h1l0,1h-1zm0,9h1l0,1h-1zm0,51h1l0,1h-1zm0,41h1l0,1h-1zm0,99h1l0,1h-1zm0,19h1l0,1h-1zm22,37.14v1l-1,.27v-1zm44-426.14h1l0,49h-1zm0,89h1l0,1h-1zm0,3h1l0,1h-1zm0,13h1l0,1h-1zm0,12h1l0,1h-1zm0,66h1l0,1h-1zm0,41h1l0,1h-1zm0,140h1l0,1h-1zm0,7h1l0,1h-1zm0,22h1l0,1h-1zm1-393.14v1l-67,18.27v-1zm0,.52v1l-40-30.77v-1zm-39-30.52v1l-44,12v-1zm-6,478.68v1l-1-.77v-1zm10,7.69v1l-1-.77v-1zm-32-390.23h1l0,7h-1zm0,28h1l0,1h-1zm0,31h1l0,1h-1zm0,45h1l0,1h-1zm0,9h1l0,1h-1zm0,51h1l0,1h-1zm0,41h1l0,1h-1zm0,99h1l0,1h-1zm0,19h1l0,1h-1zm28-301.85v1l-28-21.54v-1zm11,36.85h1l0,1h-1zm0,66h1l0,1h-1zm0,31h1l0,1h-1zm0,30h1l0,1h-1zm0,9h1l0,1h-1zm0,99h1l0,1h-1zm0,41h1l0,1h-1zm0,54h1l0,1h-1zm57-7.41v1l-1,.27v-1zm9-368.59h1l0,4h-1zm0,44h1l0,1h-1zm0,83h1l0,1h-1zm0,10h1l0,1h-1zm0,138h1l0,1h-1zm0,41h1l0,1h-1zm1-316.14v1l-55,15v-1zm0,.52v1l-40-30.77v-1zm-39-30.52v1l-67,18.27v-1zm4,438.37v1l-1-.77v-1zm-32-362.23h1l0,1h-1zm0,66h1l0,1h-1zm0,31h1l0,1h-1zm0,30h1l0,1h-1zm0,9h1l0,1h-1zm0,99h1l0,1h-1zm0,41h1l0,1h-1zm0,54h1l0,1h-1zm26-335.38v1l-1-.77v-1zm14,10.76v1l-1-.77v-1zm-1-.38h1l0,52h-1zm0,92h1l0,1h-1zm0,140h1l0,1h-1zm0,19h1l0,1h-1zm0,9h1l0,1h-1zm0,54h1l0,1h-1zm0,41h1l0,1h-1zm49-5.23v1l-1,.27v-1zm17-367.77h1l0,115h-1zm0,154h1l0,1h-1zm0,75h1l0,1h-1zm0,31h1l0,1h-1zm0,3h1l0,1h-1zm0,9h1l0,1h-1zm0,69h1l0,1h-1zm1-341.14v1l-67,18.27v-1zm0,.52v1l-40-30.77v-1zm-39-30.52v1l-53,14.45v-1zm-28,280.14h1l0,1h-1zm0,19h1l0,1h-1zm0,9h1l0,1h-1zm0,54h1l0,1h-1zm0,41h1l0,1h-1zm37-210.54v1l-1-.92v-1zm-1-.46h1l0,79h-1zm0,119h1l0,1h-1zm0,69h1l0,2h-1zm0,13h1l0,1h-1zm13,44.74v1l-1,.26v-1zm56-263.74h1l0,76h-1zm0,115h1l0,1h-1zm0,81h1l0,1h-1zm0,22h1l0,1h-1zm0,9h1l0,1h-1zm1-227.13v1l-70,18.26v-1zm0,.51v1l-40-30.77v-1zm-39-30.49v1l-31,7.05v-1zm-18,306.73v1l-1-.77v-1zm-13-183.62h1l0,4h-1zm0,44h1l0,1h-1zm0,69h1l0,2h-1zm0,13h1l0,1h-1zm40-95.62v1l-40-30.77v-1zm-1-.38h1l0,73h-1zm0,113h1l0,1h-1zm40,50.7v1l-1,.26v-1zm24-6.27v1l-1,.26v-1zm4-1.04v1l-1,.26v-1zm1-174.39h1l0,82h-1zm0,122h1l0,1h-1zm1-122.13v1l-70,18.26v-1zm0,.51v1l-40-30.77v-1zm-39-30.51v1l-70,18.26v-1zm-31,161.13h1l0,1h-1zm31-8.54v1l-1-.77v-1zm9,6.92v1l-1-.77v-1zm-1-.38h1l0,61h-1zm39,82.5v1l-1,.27v-1zm27-97.5h1l0,52h-1zm1-.11v1l-67,15.23v-1zm0,.57v1l-37-33.92v-1zm-36-33.59v1l-61,15.91v-1zm9,171.51v1l-1-.77v-1zm-40-69.38h1l0,7h-1zm40,30.38v1l-40-30.77v-1zm-1-.38h1l0,40h-1zm67,23.89v1l-67,15.23v-1zm-1-41.89h1l0,43h-1zm1-.14v1l-67,18.27v-1zm0,.52v1l-40-30.77v-1zm-39-30.52v1l-67,18.27v-1zm-381-121.32v1l-1-.77v-1zm-22-460.54h1l0,10h-1zm0,49h1l0,1h-1zm0,42h1l0,1h-1zm0,31h1l0,1h-1zm0,120h1l0,1h-1zm0,9h1l0,1h-1zm0,21h1l0,1h-1zm0,41h1l0,1h-1zm0,45h1l0,1h-1zm0,19h1l0,1h-1zm40-346.62v1l-40-30.77v-1zm-1-.38h1l0,52h-1zm0,64h1l0,1h-1zm0,31h1l0,1h-1zm0,168h1l0,1h-1zm0,9h1l0,1h-1zm0,45h1l0,1h-1zm0,41h1l0,1h-1zm0,40h1l0,1h-1zm0,19h1l0,1h-1zm22,22.11v1l-1,.23v-1zm44-457.11h1l0,10h-1zm0,50h1l0,1h-1zm0,44h1l0,1h-1zm0,10h1l0,1h-1zm0,90h1l0,1h-1zm0,41h1l0,1h-1zm0,51h1l0,1h-1zm0,19h1l0,1h-1zm0,114h1l0,1h-1zm0,22h1l0,1h-1zm1-441.14v1l-67,18.27v-1zm0,.52v1l-40-30.77v-1zm-39-30.52v1l-67,18.27v-1zm-6,510.33v1l-1-.85v-1zm13,11v1l-1-.85v-1zm-35-464.19h1l0,43h-1zm0,55h1l0,1h-1zm0,31h1l0,1h-1zm0,168h1l0,1h-1zm0,9h1l0,1h-1zm0,45h1l0,1h-1zm0,41h1l0,1h-1zm0,40h1l0,1h-1zm0,19h1l0,1h-1zm40-377.62v1l-40-30.77v-1zm-1-.38h1l0,16h-1zm0,55h1l0,1h-1zm0,90h1l0,1h-1zm0,31h1l0,1h-1zm0,123h1l0,1h-1zm0,9h1l0,1h-1zm0,42h1l0,1h-1zm0,41h1l0,1h-1zm0,42h1l0,1h-1zm54-9.59v1l-1,.27v-1zm12-441.41h1l0,79h-1zm0,100h1l0,1h-1zm0,31h1l0,1h-1zm0,45h1l0,1h-1zm0,9h1l0,1h-1zm0,51h1l0,1h-1zm0,41h1l0,1h-1zm0,99h1l0,1h-1zm0,19h1l0,1h-1zm1-395.14v1l-67,18.27v-1zm0,.52v1l-40-30.77v-1zm-39-30.52v1l-67,18.27v-1zm-28,193.14h1l0,1h-1zm0,31h1l0,1h-1zm0,123h1l0,1h-1zm0,9h1l0,1h-1zm0,42h1l0,1h-1zm0,41h1l0,1h-1zm0,42h1l0,1h-1zm37-324.54v1l-1-.92v-1zm-1-.46h1l0,28h-1zm0,68h1l0,1h-1zm0,51h1l0,1h-1zm0,28h1l0,1h-1zm0,114h1l0,1h-1zm0,12h1l0,1h-1zm0,42h1l0,1h-1zm0,40h1l0,1h-1zm52-8.43v1l-1,.26v-1zm8-2.09v1l-1,.26v-1zm9-340.48h1l0,1h-1zm0,66h1l0,1h-1zm0,31h1l0,1h-1zm0,30h1l0,1h-1zm0,9h1l0,1h-1zm0,99h1l0,1h-1zm0,41h1l0,1h-1zm0,54h1l0,1h-1zm-68-334.13v1l-1,.26v-1zm51-31.33v1l-22-16.92v-1zm-21-16.65v1l-31,7.05v-1zm-31,30.11h1l0,46h-1zm0,86h1l0,1h-1zm0,51h1l0,1h-1zm0,28h1l0,1h-1zm0,114h1l0,1h-1zm0,12h1l0,1h-1zm0,42h1l0,1h-1zm0,40h1l0,1h-1zm40-342.62v1l-40-30.77v-1zm-1-.38h1l0,97h-1zm0,137h1l0,1h-1zm0,99h1l0,1h-1zm0,28h1l0,1h-1zm0,57h1l0,1h-1zm0,12h1l0,1h-1zm13,41.74v1l-1,.26v-1zm39-10.17v1l-1,.26v-1zm17-382.57h1l0,67h-1zm0,107h1l0,1h-1zm0,140h1l0,1h-1zm0,19h1l0,1h-1zm0,9h1l0,1h-1zm0,54h1l0,1h-1zm0,41h1l0,1h-1zm1-370.13v1l-70,18.26v-1zm0,.51v1l-40-30.77v-1zm-39-30.51v1l-70,18.26v-1zm-24,431.13v1l-1-.77v-1zm-7-317h1l0,31h-1zm0,71h1l0,1h-1zm0,99h1l0,1h-1zm0,28h1l0,1h-1zm0,57h1l0,1h-1zm0,12h1l0,1h-1zm40-236.62v1l-40-30.77v-1zm-1-.38h1l0,130h-1zm0,170h1l0,1h-1zm0,54h1l0,1h-1zm0,28h1l0,1h-1zm0,56h1l0,1h-1zm5,2.77v1l-1,.27v-1zm8-2.18v1l-1,.27v-1zm53-323.59h1l0,139h-1zm0,179h1l0,1h-1zm0,69h1l0,2h-1zm0,13h1l0,1h-1zm1-261.11v1l-67,15.23v-1zm0,.57v1l-37-33.92v-1zm-36-33.59v1l-70,18.26v-1zm-21,367.44v1l-1-.77v-1zm3,2.31v1l-1-.77v-1zm20,15.38v1l-1-.77v-1zm-33-167h1l0,1h-1zm0,54h1l0,1h-1zm0,28h1l0,1h-1zm0,56h1l0,1h-1zm28-145.85v1l-1-.77v-1zm12,9.23v1l-1-.77v-1zm-1-.38h1l0,43h-1zm0,83h1l0,1h-1zm0,81h1l0,1h-1zm47-5.68v1l-1,.27v-1zm19-176.32h1l0,70h-1zm0,110h1l0,1h-1zm1-110.14v1l-67,18.27v-1zm0,.52v1l-40-30.77v-1zm-39-30.52v1l-55,15v-1zm4,243.37v1l-1-.77v-1zm-32-112.23h1l0,1h-1zm0,81h1l0,1h-1zm14-84.62v1l-1-.77v-1zm26,20v1l-1-.77v-1zm-1-.38h1l0,55h-1zm0,94h1l0,1h-1zm40-2.77v1l-1,.27v-1zm26-109.23h1l0,70h-1zm1-.14v1l-67,18.27v-1zm0,.52v1l-40-30.77v-1zm-39-30.52v1l-41,11.18v-1zm12,180.52v1l-1-.77v-1zm-40-38.38h1l0,1h-1zm26-5.38v1l-1-.77v-1zm14,10.76v1l-1-.77v-1zm-1-.38h1l0,34h-1zm67,14.86v1l-67,18.27v-1zm-1-32.86h1l0,34h-1zm1-.14v1l-67,18.27v-1zm0,.52v1l-40-30.77v-1zm-39-30.52v1l-53,14.45v-1zm-393-135.94v1l-1-.83v-1zm-10-442.92h1l0,145h-1zm0,184h1l0,1h-1zm0,18h1l0,1h-1zm0,31h1l0,1h-1zm37-202.58v1l-37-30.83v-1zm-1-.42h1l0,163h-1zm0,203h1l0,1h-1zm0,19h1l0,1h-1zm0,29h1l0,1h-1zm13,180.74v1l-1,.26v-1zm39-10.17v1l-1,.26v-1zm18-439.7v1l-70,18.26v-1zm0,.51v1l-40-30.77v-1zm-39-30.52v1l-67,18.27v-1zm-18,492.76v1l-1-.77v-1zm-13-402.62h1l0,121h-1zm0,161h1l0,1h-1zm0,19h1l0,1h-1zm0,29h1l0,1h-1zm40-178.62v1l-40-30.77v-1zm-1-.38h1l0,142h-1zm0,182h1l0,1h-1zm0,45h1l0,1h-1zm0,28h1l0,1h-1zm13,135.28v1l-1,.22v-1zm39-8.48v1l-1,.22v-1zm4-.87v1l-1,.22v-1zm13-385.93h1l0,1h-1zm0,90h1l0,1h-1zm0,31h1l0,1h-1zm0,123h1l0,1h-1zm0,9h1l0,1h-1zm0,42h1l0,1h-1zm0,41h1l0,1h-1zm0,42h1l0,1h-1zm-68-373.13v1l-1,.26v-1zm26-6.78v1l-1,.26v-1zm17-30.71v1l-14-10.77v-1zm-13-10.51v1l-70,18.26v-1zm-18,451.71v1l-1-.85v-1zm-13-430.58h1l0,169h-1zm0,209h1l0,1h-1zm0,45h1l0,1h-1zm0,28h1l0,1h-1zm40-251.62v1l-40-30.77v-1zm-1-.38h1l0,214h-1zm0,254h1l0,1h-1zm0,40h1l0,1h-1zm0,29h1l0,1h-1zm13,96.59v1l-1,.27v-1zm36-9.82v1l-1,.27v-1zm17-427.77h1l0,91h-1zm0,131h1l0,1h-1zm0,51h1l0,1h-1zm0,28h1l0,1h-1zm0,114h1l0,1h-1zm0,12h1l0,1h-1zm0,42h1l0,1h-1zm0,40h1l0,1h-1zm1-418.14v1l-67,18.27v-1zm0,.56v1l-37-30.83v-1zm-36-30.55v1l-70,18.26v-1zm-18,480.75v1l-1-.77v-1zm-13-342.62h1l0,124h-1zm0,164h1l0,1h-1zm0,40h1l0,1h-1zm0,29h1l0,1h-1zm40-202.62v1l-40-30.77v-1zm-1-.38h1l0,166h-1zm0,206h1l0,1h-1zm0,42h1l0,1h-1zm0,29h1l0,1h-1zm10,53.41v1l-1,.27v-1zm56-348.41h1l0,52h-1zm0,92h1l0,1h-1zm0,99h1l0,1h-1zm0,28h1l0,1h-1zm0,57h1l0,1h-1zm0,12h1l0,1h-1zm1-288.14v1l-67,18.27v-1zm0,.52v1l-40-30.77v-1zm-39-30.52v1l-67,18.27v-1zm-18,388.45v1l-1-.77v-1zm-10-289.31h1l0,115h-1zm0,155h1l0,1h-1zm0,42h1l0,1h-1zm0,29h1l0,1h-1zm40-195.62v1l-40-30.77v-1zm-1-.38h1l0,157h-1zm0,196h1l0,1h-1zm0,51h1l0,1h-1zm0,31h1l0,1h-1zm5,2.77v1l-1,.27v-1zm61-298.77h1l0,100h-1zm0,140h1l0,1h-1zm0,54h1l0,1h-1zm0,28h1l0,1h-1zm0,56h1l0,1h-1zm1-278.14v1l-67,18.27v-1zm0,.52v1l-40-30.77v-1zm-39-30.52v1l-67,18.27v-1zm-18,337.45v1l-1-.77v-1zm25,19.23v1l-1-.77v-1zm-35-209.54h1l0,58h-1zm0,97h1l0,1h-1zm0,51h1l0,1h-1zm0,31h1l0,1h-1zm40-148.62v1l-40-30.77v-1zm-1-.38h1l0,109h-1zm0,149h1l0,1h-1zm0,29h1l0,1h-1zm44-6.86v1l-1,.27v-1zm22-189.14h1l0,55h-1zm0,95h1l0,1h-1zm0,81h1l0,1h-1zm1-176.14v1l-67,18.27v-1zm0,.52v1l-40-30.77v-1zm-39-30.52v1l-67,18.27v-1zm7,257.68v1l-1-.77v-1zm-35-155.54h1l0,55h-1zm0,95h1l0,1h-1zm0,29h1l0,1h-1zm40-93.62v1l-40-30.77v-1zm-1-.38h1l0,85h-1zm0,124h1l0,1h-1zm37-4.95v1l-1,.27v-1zm29-137.05h1l0,82h-1zm0,121h1l0,1h-1zm1-121.14v1l-67,18.27v-1zm0,.52v1l-40-30.77v-1zm-39-30.52v1l-67,18.27v-1zm9,207.56v1l-1-.83v-1zm-37-78.42h1l0,4h-1zm0,43h1l0,1h-1zm37-12.58v1l-37-30.83v-1zm-1-.42h1l0,49h-1zm70,29.87v1l-70,18.26v-1zm-1-47.87h1l0,49h-1zm1-.13v1l-70,18.26v-1zm0,.51v1l-40-30.77v-1zm-39-30.52v1l-67,18.27v-1zm-366-98.48v1l-40-30.77v-1zm-40-321.38h1l0,292h-1zm40,30.38v1l-40-30.77v-1zm-1-.38h1l0,292h-1zm1,290.86v1l-1,.27v-1zm39-10.63v1l-1,.27v-1zm26-298.23h1l0,19h-1zm0,59h1l0,1h-1zm0,19h1l0,1h-1zm0,29h1l0,1h-1zm1-107.14v1l-67,18.27v-1zm0,.56v1l-37-30.83v-1zm-36-30.55v1l-70,18.26v-1zm9,369.51v1l-40-30.77v-1zm-40-303.38h1l0,274h-1zm40,30.38v1l-40-30.77v-1zm-1-.38h1l0,274h-1zm1,272.86v1l-1,.27v-1zm39-10.63v1l-1,.27v-1zm26-280.23h1l0,22h-1zm0,62h1l0,1h-1zm0,45h1l0,1h-1zm0,28h1l0,1h-1zm1-135.14v1l-67,18.27v-1zm0,.52v1l-40-30.77v-1zm-39-30.52v1l-67,18.27v-1zm12,351.52v1l-40-30.77v-1zm-40-285.38h1l0,256h-1zm40,33.42v1l-40-33.85v-1zm-1-.42h1l0,253h-1zm1,251.89v1l-1,.23v-1zm39-8.87v1l-1,.23v-1zm26-261.02h1l0,46h-1zm0,86h1l0,1h-1zm0,40h1l0,1h-1zm0,29h1l0,1h-1zm1-155.14v1l-67,18.27v-1zm0,.52v1l-40-30.77v-1zm-39-30.49v1l-67,15.23v-1zm12,333.53v1l-40-33.85v-1zm-40-240.42h1l0,208h-1zm40,30.38v1l-40-30.77v-1zm-1-.38h1l0,211h-1zm1,209.86v1l-1,.27v-1zm39-10.63v1l-1,.27v-1zm26-217.23h1l0,43h-1zm0,83h1l0,1h-1zm0,42h1l0,1h-1zm0,29h1l0,1h-1zm1-154.14v1l-67,18.27v-1zm0,.52v1l-40-30.77v-1zm-39-30.52v1l-67,18.27v-1zm12,288.52v1l-40-30.77v-1zm-40-201.38h1l0,172h-1zm40,33.42v1l-40-33.85v-1zm-1-.42h1l0,169h-1zm1,167.86v1l-1,.27v-1zm36-9.81v1l-1,.27v-1zm29-176.05h1l0,43h-1zm0,82h1l0,1h-1zm0,51h1l0,1h-1zm0,31h1l0,1h-1zm1-164.14v1l-67,18.27v-1zm0,.52v1l-40-30.77v-1zm-39-30.49v1l-67,15.23v-1zm9,246.53v1l-37-30.83v-1zm-37-156.42h1l0,127h-1zm37,30.42v1l-37-30.83v-1zm-1-.42h1l0,127h-1zm1,125.87v1l-1,.26v-1zm39-10.17v1l-1,.26v-1zm5-1.31v1l-1,.26v-1zm24-132.39h1l0,52h-1zm0,92h1l0,1h-1zm0,29h1l0,1h-1zm1-121.13v1l-70,18.26v-1zm0,.51v1l-40-30.77v-1zm-39-30.52v1l-67,18.27v-1zm9,204.52v1l-40-30.77v-1zm-40-105.38h1l0,76h-1zm40,30.38v1l-40-30.77v-1zm-1-.38h1l0,76h-1zm1,74.87v1l-1,.26v-1zm39-10.17v1l-1,.26v-1zm29-79.7h1l0,28h-1zm0,67h1l0,1h-1zm1-67.11v1l-70,15.22v-1zm0,.53v1l-40-33.85v-1zm-39-33.55v1l-70,18.26v-1zm9,153.51v1l-40-30.77v-1zm-40-75.38h1l0,46h-1zm40,30.38v1l-40-30.77v-1zm-1-.38h1l0,46h-1zm67,26.86v1l-67,18.27v-1zm-1-44.86h1l0,46h-1zm1-.14v1l-67,18.27v-1zm0,.56v1l-37-30.83v-1zm-36-30.55v1l-70,18.26v-1z"/>
<text x="1379" y="765.5" font-size="35.5" text-anchor="end">0</text>
<text x="1379" y="678.5" font-size="35.5" text-anchor="end">50</text>
<text x="1379" y="594.5" font-size="35.5" text-anchor="end">100</text>
<text x="1379" y="507.5" font-size="35.5" text-anchor="end">150</text>
<text x="1379" y="423.5" font-size="35.5" text-anchor="end">200</text>
<text x="1379" y="336.5" font-size="35.5" text-anchor="end">250</text>
<text x="1297.3" y="271.2" font-size="34.7" text-anchor="end" transform="rotate(-90 1297.3 271.2)">Events / ( 2.5 x 2.5 )</text>
<text x="1715.05" y="1047.6" font-size="35.5" text-anchor="middle">−10</text>
<text x="1681.65" y="1039.3" font-size="35.5" text-anchor="end">−10</text>
<text x="1768.52" y="1033.48" font-size="35.5" text-anchor="middle">−8</text>
<text x="1650.8" y="1014.98" font-size="35.5" text-anchor="end">−8</text>
<text x="1821.99" y="1019.36" font-size="35.5" text-anchor="middle">−6</text>
<text x="1619.95" y="990.66" font-size="35.5" text-anchor="end">−6</text>
<text x="1875.47" y="1005.24" font-size="35.5" text-anchor="middle">−4</text>
<text x="1589.11" y="966.34" font-size="35.5" text-anchor="end">−4</text>
<text x="1928.94" y="991.12" font-size="35.5" text-anchor="middle">−2</text>
<text x="1558.26" y="942.02" font-size="35.5" text-anchor="end">−2</text>
<text x="1983.81" y="977" font-size="35.5" text-anchor="middle">0</text>
<text x="1527.41" y="917.7" font-size="35.5" text-anchor="end">0</text>
<text x="2037.28" y="962.88" font-size="35.5" text-anchor="middle">2</text>
<text x="1496.56" y="893.38" font-size="35.5" text-anchor="end">2</text>
<text x="2090.75" y="948.76" font-size="35.5" text-anchor="middle">4</text>
<text x="1465.71" y="869.06" font-size="35.5" text-anchor="end">4</text>
<text x="2144.23" y="934.64" font-size="35.5" text-anchor="middle">6</text>
<text x="1434.87" y="844.74" font-size="35.5" text-anchor="end">6</text>
<text x="2197.7" y="920.52" font-size="35.5" text-anchor="middle">8</text>
<text x="1404.02" y="820.42" font-size="35.5" text-anchor="end">8</text>
<text x="2251.17" y="906.4" font-size="35.5" text-anchor="middle">10</text>
<text x="1373.17" y="796.1" font-size="35.5" text-anchor="end">10</text>
<text x="2248.77" y="912.9" font-size="34.7" text-anchor="middle" transform="rotate(-14.79 2248.77 912.9)">x</text>
<text x="1353.17" y="815.1" font-size="34.7" text-anchor="middle" transform="rotate(38.25 1353.17 815.1)">y</text>
<path class="kf" d="M1708,504.39v1l-310-243.79v-1zm534-141.52v1l-535,141.26v-1zm-535,141.13h1l0,490h-1zm-309-243h1l0,490h-1zm1,489v1l-16,0v-1zm0-18v1l-7,0v-1zm0-15v1l-7,0v-1zm0-18v1l-7,0v-1zm0-18v1l-7,0v-1zm0-18v1l-16,0v-1zm0-15v1l-7,0v-1zm0-18v1l-7,0v-1zm0-18v1l-7,0v-1zm0-15v1l-7,0v-1zm0-18v1l-16,0v-1zm0-18v1l-7,0v-1zm0-18v1l-7,0v-1zm0-15v1l-7,0v-1zm0-18v1l-7,0v-1zm0-18v1l-16,0v-1zm0-15v1l-7,0v-1zm0-18v1l-7,0v-1zm0-18v1l-7,0v-1zm0-18v1l-7,0v-1zm0-15v1l-16,0v-1zm0-18v1l-7,0v-1zm0-18v1l-7,0v-1zm0-18v1l-7,0v-1zm0-15v1l-7,0v-1zm0-18v1l-16,0v-1zm0-18v1l-7,0v-1zm0-15v1l-7,0v-1zm0-18v1l-7,0v-1zm843,581.87v1l-535,141.26v-1zm-534,141.52v1l-310-243.79v-1zm-1.1-.39h1l3.2,16h-1zm.6,0h1l-10,10h-1zm14.5-3h1l0,10h-1zm-20.5-3h1l-7,7h-1zm32.25,0h1l3.5,7h-1zm-41.25-6h1l-7,7h-1zm53.25,3h1l3.5,7h-1zm-62.5-9h1l-3.5,7h-1zm77.67,3h1l3.17,19h-1zm-83.42-9h1l-10,10h-1zm95.33,6h1l3.33,10h-1zm-104.58-12h1l-3.5,7h-1zm119.58,9h1l3.33,10h-1zm-125.33-15h1l-7,7h-1zm137.33,12h1l3.33,10h-1zm-146.58-18h1l-3.5,7h-1zm161.65,15h1l3.2,16h-1zm-166.9-21.38v1l-13,9.75v-1zm178.75,18.38h1l3.5,7h-1zm-187.75-24.25v1l-7,3.5v-1zm203,18.25h1l0,10h-1zm-212.5-24h1l-4,4h-1zm224.33,21h1l3.33,10h-1zm-229.83-27.25v1l-7,3.5v-1zm244.9,24.25h1l3.2,16h-1zm-254.4-30h1l-10,10h-1zm266.33,27h1l3.33,10h-1zm-271.83-33.25v1l-7,3.5v-1zm287,30.25h1l0,7h-1zm-296.5-36h1l-4,4h-1zm308.33,30h1l3.33,10h-1zm-313.83-36.25v1l-7,3.5v-1zm325.8,33.25h1l6.4,16h-1zm-335.3-39h1l-10,10h-1zm350.33,36h1l3.33,10h-1zm-359.33-42h1l-4,4h-1zm371.33,39h1l3.33,10h-1zm-376.83-45.25v1l-7,3.5v-1zm392,42.25h1l0,7h-1zm-401.5-48h1l-4,4h-1zm413.3,45h1l6.4,16h-1zm-419.3-51h1l-10,10h-1zm434.5,45h1l0,10h-1zm-443.5-51h1l-4,4h-1zm455.33,48h1l3.33,10h-1zm-460.83-54.25v1l-7,3.5v-1zm476,51.25h1l0,10h-1zm-485.5-60h1l-7,7h-1zm497.4,57h1l3.2,16h-1zm-506.52-63h1l-9.75,13h-1zm521.62,60h1l0,7h-1zm-527.5-66h1l-7,7h-1zm539.25,63h1l3.5,7h-1zm-548.5-69h1l-3.5,7h-1zm560.58,63h1l3.33,10h-1zm-566.33-69h1l-7,7h-1zm581.4,66h1l3.2,16h-1zm-590.4-72h1l-10,10h-1zm602.33,69h1l3.33,10h-1zm-608.33-75h1l-7,7h-1zm623.33,72h1l3.33,10h-1zm-632.33-78h1l-7,7h-1zm644.25,75h1l3.5,7h-1zm-653.5-81h1l-3.5,7h-1zm668.67,75h1l3.17,19h-1zm-674.42-81h1l-10,10h-1zm686.33,78h1l3.33,10h-1zm-695.58-84h1l-3.5,7h-1zm710.75,81h1l0,10h-1zm-716.5-87h1l-7,7h-1zm728.33,84h1l3.33,10h-1zm-737.58-90h1l-3.5,7h-1zm752.65,87h1l3.2,16h-1zm-757.9-93.38v1l-13,9.75v-1zm769.75,90.38h1l3.5,7h-1zm-779.25-96h1l-7,7h-1zm791.33,90h1l3.33,10h-1zm-800.58-96h1l-3.5,7h-1zm815.58,93h1l3.33,10h-1zm-821.33-99h1l-7,7h-1zm833.3,96h1l6.4,16h-1zm-842.3-102h1l-10,10h-1z"/>
<text x="1793.3" y="63" font-size="51.15" text-anchor="middle">Histogram of hh_data_sel__x_y</text>
<rect class="sb" x="2106.5" y="81.5" width="225" height="261"/>
<line class="k" x1="2106.5" y1="123.5" x2="2331.5" y2="123.5"/>
<text x="2219" y="110.5" font-size="23.7" text-anchor="middle">hh_data_sel__x_y</text>
<text x="2117.9" y="155.1" font-size="23.1" text-anchor="start">Entries</text>
<text x="2321.9" y="155.1" font-size="23.1" text-anchor="end">6283</text>
<text x="2117.9" y="197.6" font-size="23.1" text-anchor="start">Mean x</text>
<text x="2321.9" y="197.6" font-size="23.1" text-anchor="end">−2.778</text>
<text x="2117.9" y="242.6" font-size="23.1" text-anchor="start">Mean y</text>
<text x="2320.1" y="242.6" font-size="23.1" text-anchor="end">2.795</text>
<text x="2117.9" y="287.5" font-size="23.1" text-anchor="start">Std Dev x</text>
<text x="2320.1" y="287.5" font-size="23.1" text-anchor="end">4.104</text>
<text x="2117.9" y="329.4" font-size="23.1" text-anchor="start">Std Dev y</text>
<text x="2320.1" y="329.4" font-size="23.1" text-anchor="end">4.695</text>
</g>
<g id="pad3">
<path class="kf" d="M3130,608.87v1l-535,141.26v-1zm309,243.52v1l-310-243.79v-1zm-310-732.39h1l0,490h-1zm1-.13v1l-535,141.26v-1zm309,243.52v1l-310-243.79v-1zm-1-.39h1l0,490h-1z"/>
<path class="dot" d="M2595.5,693.5h0m3-1h0m3-1h0m3,0h0m3-1h0m3-1h0m3-1h0m3-1h0m3,0h0m3-1h0m3-1h0m3-1h0m3-1h0m3,0h0m3-1h0m3-1h0m3-1h0m666,14h0m3,2h0m3,2h0m3,3h0m3,2h0m3,2h0m3,3h0m3,2h0m3,2h0m3,3h0m3,2h0m3,3h0m3,2h0m3,2h0m3,3h0m3,2h0m3,2h0m3,3h0m3,2h0m3,2h0m3,3h0m3,2h0m3,2h0m3,3h0m3,2h0m3,3h0m3,2h0m3,2h0m3,3h0m3,2h0m3,2h0m3,3h0m3,2h0m3,2h0m3,3h0m3,2h0m3,2h0m3,3h0m3,2h0m3,3h0m3,2h0m3,2h0m3,3h0m3,2h0m-843-156h0m3-1h0m3-1h0m3,0h0m3-1h0m3-1h0m3-1h0m3-1h0m606-62h0m3,2h0m3,3h0m3,2h0m3,3h0m3,2h0m3,2h0m3,3h0m3,2h0m3,2h0m3,3h0m3,2h0m3,2h0m3,3h0m3,2h0m3,3h0m3,2h0m3,2h0m3,3h0m3,2h0m3,2h0m3,3h0m3,2h0m3,2h0m3,3h0m3,2h0m3,2h0m3,3h0m3,2h0m3,3h0m3,2h0m3,2h0m3,3h0m3,2h0m3,2h0m3,3h0m3,2h0m3,2h0m3,3h0m3,2h0m3,3h0m3,2h0m3,2h0m3,3h0m3,2h0m3,2h0m3,3h0m3,2h0m3,2h0m3,3h0m3,2h0m3,2h0m3,3h0m3,2h0m3,3h0m3,2h0m3,2h0m3,3h0m3,2h0m3,2h0m3,3h0m3,2h0m3,2h0m3,3h0m3,2h0m3,2h0m3,3h0m3,2h0m3,3h0m3,2h0m3,2h0m3,3h0m3,2h0m-843-159h0m3-1h0m3-1h0m3,0h0m3-1h0m3-1h0m3-1h0m3-1h0m3,0h0m3-1h0m3-1h0m3-1h0m3-1h0m3,0h0m3-1h0m3-1h0m3-1h0m3,0h0m3-1h0m3-1h0m3-1h0m3-1h0m3,0h0m462-122h0m3-1h0m3-1h0m0,0h0m3,2h0m3,3h0m3,2h0m3,2h0m3,3h0m3,2h0m3,3h0m3,2h0m3,2h0m3,3h0m3,2h0m3,2h0m3,3h0m3,2h0m3,2h0m3,3h0m3,2h0m3,2h0m3,3h0m3,2h0m3,3h0m3,2h0m3,2h0m3,3h0m3,2h0m3,2h0m3,3h0m3,2h0m3,2h0m3,3h0m3,2h0m3,2h0m3,3h0m3,2h0m3,3h0m3,2h0m3,2h0m3,3h0m3,2h0m3,2h0m3,3h0m3,2h0m3,2h0m3,3h0m3,2h0m3,3h0m3,2h0m3,2h0m3,3h0m3,2h0m3,2h0m3,3h0m3,2h0m3,2h0m3,3h0m3,2h0m3,2h0m3,3h0m3,2h0m3,3h0m3,2h0m3,2h0m3,3h0m3,2h0m3,2h0m3,3h0m3,2h0m3,2h0m3,3h0m3,2h0m3,3h0m3,2h0m3,2h0m3,3h0m3,2h0m3,2h0m3,3h0m3,2h0m3,2h0m3,3h0m3,2h0m3,2h0m3,3h0m3,2h0m3,3h0m3,2h0m3,2h0m3,3h0m3,2h0m3,2h0m3,3h0m3,2h0m3,2h0m3,3h0m3,2h0m3,2h0m3,3h0m3,2h0m3,3h0m3,2h0m3,2h0m3,3h0m3,2h0m-843-156h0m3-1h0m3-1h0m3,0h0m3-1h0m3-1h0m3-1h0m3-1h0m3,0h0m3-1h0m3-1h0m3-1h0m3-1h0m3,0h0m3-1h0m3-1h0m3-1h0m3,0h0m3-1h0m3-1h0m3-1h0m3-1h0m3,0h0m3-1h0m3-1h0m3-1h0m3-1h0m3,0h0m3-1h0m3-1h0m3-1h0m3-1h0m3,0h0m3-1h0m3-1h0m3-1h0m381-100h0m3-1h0m3-1h0m3-1h0m3,0h0m3-1h0m3-1h0m3-1h0m3-1h0m3,0h0m3-1h0m3-1h0m3-1h0m3-1h0m3,0h0m3-1h0m3-1h0m0,0h0m3,2h0m3,3h0m3,2h0m3,2h0m3,3h0m3,2h0m3,3h0m3,2h0m3,2h0m3,3h0m3,2h0m3,2h0m3,3h0m3,2h0m3,2h0m3,3h0m3,2h0m3,2h0m3,3h0m3,2h0m3,3h0m3,2h0m3,2h0m3,3h0m3,2h0m3,2h0m3,3h0m3,2h0m3,2h0m3,3h0m3,2h0m3,2h0m3,3h0m3,2h0m3,3h0m3,2h0m3,2h0m3,3h0m3,2h0m3,2h0m3,3h0m3,2h0m3,2h0m3,3h0m3,2h0m3,3h0m3,2h0m3,2h0m3,3h0m3,2h0m3,2h0m3,3h0m3,2h0m3,2h0m3,3h0m3,2h0m3,2h0m3,3h0m3,2h0m3,3h0m3,2h0m3,2h0m3,3h0m3,2h0m3,2h0m3,3h0m3,2h0m3,2h0m3,3h0m3,2h0m3,3h0m3,2h0m3,2h0m3,3h0m3,2h0m3,2h0m3,3h0m3,2h0m3,2h0m3,3h0m3,2h0m3,2h0m3,3h0m3,2h0m3,3h0m3,2h0m3,2h0m3,3h0m3,2h0m3,2h0m3,3h0m3,2h0m3,2h0m3,3h0m3,2h0m3,2h0m3,3h0m3,2h0m3,3h0m3,2h0m3,2h0m3,3h0m3,2h0m-843-159h0m3-1h0m3-1h0m3,0h0m3-1h0m3-1h0m3-1h0m3-1h0m3,0h0m3-1h0m3-1h0m3-1h0m3-1h0m3,0h0m3-1h0m3-1h0m3-1h0m3,0h0m3-1h0m3-1h0m3-1h0m3-1h0m3,0h0m3-1h0m3-1h0m3-1h0m3-1h0m3,0h0m3-1h0m3-1h0m3-1h0m3-1h0m3,0h0m3-1h0m3-1h0m3-1h0m3-1h0m3,0h0m3-1h0m3-1h0m3-1h0m3,0h0m3-1h0m3-1h0m3-1h0m3-1h0m3,0h0m3-1h0m3-1h0m3-1h0m3-1h0m3,0h0m3-1h0m3-1h0m3-1h0m3-1h0m258-68h0m3,0h0m3-1h0m3-1h0m3-1h0m3-1h0m3,0h0m3-1h0m3-1h0m3-1h0m3-1h0m3,0h0m3-1h0m3-1h0m3-1h0m3-1h0m3,0h0m3-1h0m3-1h0m3-1h0m3-1h0m3,0h0m3-1h0m3-1h0m3-1h0m3,0h0m3-1h0m3-1h0m3-1h0m3-1h0m3,0h0m3-1h0m3-1h0m3-1h0m3-1h0m3,0h0m3-1h0m3-1h0m0,0h0m3,2h0m3,3h0m3,2h0m3,2h0m3,3h0m3,2h0m3,3h0m3,2h0m3,2h0m3,3h0m3,2h0m3,2h0m3,3h0m3,2h0m3,2h0m3,3h0m3,2h0m3,2h0m3,3h0m3,2h0m3,3h0m3,2h0m3,2h0m3,3h0m3,2h0m3,2h0m3,3h0m3,2h0m3,2h0m3,3h0m3,2h0m3,2h0m3,3h0m3,2h0m3,3h0m3,2h0m3,2h0m3,3h0m3,2h0m3,2h0m3,3h0m3,2h0m3,2h0m3,3h0m3,2h0m3,3h0m3,2h0m3,2h0m3,3h0m3,2h0m3,2h0m3,3h0m3,2h0m3,2h0m3,3h0m3,2h0m3,2h0m3,3h0m3,2h0m3,3h0m3,2h0m3,2h0m3,3h0m3,2h0m3,2h0m3,3h0m3,2h0m3,2h0m3,3h0m3,2h0m3,3h0m3,2h0m3,2h0m3,3h0m3,2h0m3,2h0m3,3h0m3,2h0m3,2h0m3,3h0m3,2h0m3,2h0m3,3h0m3,2h0m3,3h0m3,2h0m3,2h0m3,3h0m3,2h0m3,2h0m3,3h0m3,2h0m3,2h0m3,3h0m3,2h0m3,2h0m3,3h0m3,2h0m3,3h0m3,2h0m3,2h0m3,3h0m3,2h0m-843-156h0m3-1h0m3-1h0m3,0h0m3-1h0m3-1h0m3-1h0m3-1h0m3,0h0m3-1h0m3-1h0m3-1h0m3-1h0m3,0h0m3-1h0m3-1h0m3-1h0m3,0h0m3-1h0m3-1h0m3-1h0m3-1h0m3,0h0m3-1h0m3-1h0m3-1h0m3-1h0m3,0h0m3-1h0m3-1h0m3-1h0m3-1h0m3,0h0m3-1h0m3-1h0m3-1h0m3-1h0m3,0h0m3-1h0m3-1h0m3-1h0m3,0h0m3-1h0m3-1h0m3-1h0m3-1h0m3,0h0m3-1h0m3-1h0m3-1h0m3-1h0m3,0h0m3-1h0m3-1h0m3-1h0m3-1h0m3,0h0m3-1h0m3-1h0m3-1h0m3-1h0m3,0h0m3-1h0m3-1h0m3-1h0m3,0h0m3-1h0m3-1h0m3-1h0m3-1h0m3,0h0m3-1h0m3-1h0m3-1h0m3-1h0m3,0h0m3-1h0m3-1h0m3-1h0m3-1h0m3,0h0m3-1h0m3-1h0m3-1h0m3-1h0m3,0h0m3-1h0m3-1h0m3-1h0m3-1h0m3,0h0m3-1h0m3-1h0m3-1h0m3,0h0m3-1h0m3-1h0m3-1h0m3-1h0m3,0h0m3-1h0m3-1h0m3-1h0m3-1h0m3,0h0m3-1h0m3-1h0m3-1h0m3-1h0m3,0h0m3-1h0m3-1h0m3-1h0m3-1h0m3,0h0m3-1h0m3-1h0m3-1h0m3,0h0m3-1h0m3-1h0m3-1h0m3-1h0m3,0h0m3-1h0m3-1h0m3-1h0m3-1h0m3,0h0m3-1h0m3-1h0m3-1h0m3-1h0m3,0h0m3-1h0m3-1h0m3-1h0m3-1h0m3,0h0m3-1h0m3-1h0m3-1h0m3,0h0m3-1h0m3-1h0m3-1h0m3-1h0m3,0h0m3-1h0m3-1h0m3-1h0m3-1h0m3,0h0m3-1h0m3-1h0m3-1h0m3-1h0m3,0h0m3-1h0m3-1h0m3-1h0m3-1h0m3,0h0m3-1h0m3-1h0m3-1h0m3,0h0m3-1h0m3-1h0m3-1h0m3-1h0m3,0h0m3-1h0m3-1h0m3-1h0m3-1h0m3,0h0m3-1h0m3-1h0m0,0h0m3,2h0m3,3h0m3,2h0m3,2h0m3,3h0m3,2h0m3,3h0m3,2h0m3,2h0m3,3h0m3,2h0m3,2h0m3,3h0m3,2h0m3,2h0m3,3h0m3,2h0m3,2h0m3,3h0m3,2h0m3,3h0m3,2h0m3,2h0m3,3h0m3,2h0m3,2h0m3,3h0m3,2h0m3,2h0m3,3h0m3,2h0m3,2h0m3,3h0m3,2h0m3,3h0m3,2h0m3,2h0m3,3h0m3,2h0m3,2h0m3,3h0m3,2h0m3,2h0m3,3h0m3,2h0m3,3h0m3,2h0m3,2h0m3,3h0m3,2h0m3,2h0m3,3h0m3,2h0m3,2h0m3,3h0m3,2h0m3,2h0m3,3h0m3,2h0m3,3h0m3,2h0m3,2h0m3,3h0m3,2h0m3,2h0m3,3h0m3,2h0m3,2h0m3,3h0m3,2h0m3,3h0m3,2h0m3,2h0m3,3h0m3,2h0m3,2h0m3,3h0m3,2h0m3,2h0m3,3h0m3,2h0m3,2h0m3,3h0m3,2h0m3,3h0m3,2h0m3,2h0m3,3h0m3,2h0m3,2h0m3,3h0m3,2h0m3,2h0m3,3h0m3,2h0m3,2h0m3,3h0m3,2h0m3,3h0m3,2h0m3,2h0m3,3h0m3,2h0m-843-159h0m3-1h0m3-1h0m3,0h0m3-1h0m3-1h0m3-1h0m3-1h0m3,0h0m3-1h0m3-1h0m3-1h0m3-1h0m3,0h0m3-1h0m3-1h0m3-1h0m3,0h0m3-1h0m3-1h0m3-1h0m3-1h0m3,0h0m3-1h0m3-1h0m3-1h0m3-1h0m3,0h0m3-1h0m3-1h0m3-1h0m3-1h0m3,0h0m3-1h0m3-1h0m3-1h0m3-1h0m3,0h0m3-1h0m3-1h0m3-1h0m3,0h0m3-1h0m3-1h0m3-1h0m3-1h0m3,0h0m3-1h0m3-1h0m3-1h0m3-1h0m3,0h0m3-1h0m3-1h0m3-1h0m3-1h0m3,0h0m3-1h0m3-1h0m3-1h0m3-1h0m3,0h0m3-1h0m3-1h0m3-1h0m3,0h0m3-1h0m3-1h0m3-1h0m3-1h0m3,0h0m3-1h0m3-1h0m3-1h0m3-1h0m3,0h0m3-1h0m3-1h0m3-1h0m3-1h0m3,0h0m3-1h0m3-1h0m3-1h0m3-1h0m3,0h0m3-1h0m3-1h0m3-1h0m3-1h0m3,0h0m3-1h0m3-1h0m3-1h0m3,0h0m3-1h0m3-1h0m3-1h0m3-1h0m3,0h0m3-1h0m3-1h0m3-1h0m3-1h0m3,0h0m3-1h0m3-1h0m3-1h0m3-1h0m3,0h0m3-1h0m3-1h0m3-1h0m3-1h0m3,0h0m3-1h0m3-1h0m3-1h0m3,0h0m3-1h0m3-1h0m3-1h0m3-1h0m3,0h0m3-1h0m3-1h0m3-1h0m3-1h0m3,0h0m3-1h0m3-1h0m3-1h0m3-1h0m3,0h0m3-1h0m3-1h0m3-1h0m3-1h0m3,0h0m3-1h0m3-1h0m3-1h0m3,0h0m3-1h0m3-1h0m3-1h0m3-1h0m3,0h0m3-1h0m3-1h0m3-1h0m3-1h0m3,0h0m3-1h0m3-1h0m3-1h0m3-1h0m3,0h0m3-1h0m3-1h0m3-1h0m3-1h0m3,0h0m3-1h0m3-1h0m3-1h0m3,0h0m3-1h0m3-1h0m3-1h0m3-1h0m3,0h0m3-1h0m3-1h0m3-1h0m3-1h0m3,0h0m3-1h0m3-1h0m0,0h0m3,2h0m3,3h0m3,2h0m3,2h0m3,3h0m3,2h0m3,3h0m3,2h0m3,2h0m3,3h0m3,2h0m3,2h0m3,3h0m3,2h0m3,2h0m3,3h0m3,2h0m3,2h0m3,3h0m3,2h0m3,3h0m3,2h0m3,2h0m3,3h0m3,2h0m3,2h0m3,3h0m3,2h0m3,2h0m3,3h0m3,2h0m3,2h0m3,3h0m3,2h0m3,3h0m3,2h0m3,2h0m3,3h0m3,2h0m3,2h0m3,3h0m3,2h0m3,2h0m3,3h0m3,2h0m3,3h0m3,2h0m3,2h0m3,3h0m3,2h0m3,2h0m3,3h0m3,2h0m3,2h0m3,3h0m3,2h0m3,2h0m3,3h0m3,2h0m3,3h0m3,2h0m3,2h0m3,3h0m3,2h0m3,2h0m3,3h0m3,2h0m3,2h0m3,3h0m3,2h0m3,3h0m3,2h0m3,2h0m3,3h0m3,2h0m3,2h0m3,3h0m3,2h0m3,2h0m3,3h0m3,2h0m3,2h0m3,3h0m3,2h0m3,3h0m3,2h0m3,2h0m3,3h0m3,2h0m3,2h0m3,3h0m3,2h0m3,2h0m3,3h0m3,2h0m3,2h0m3,3h0m3,2h0m3,3h0m3,2h0m3,2h0m3,3h0m3,2h0m-843-156h0m3-1h0m3-1h0m3,0h0m3-1h0m3-1h0m3-1h0m3-1h0m3,0h0m3-1h0m3-1h0m3-1h0m3-1h0m3,0h0m3-1h0m3-1h0m3-1h0m3,0h0m3-1h0m3-1h0m3-1h0m3-1h0m3,0h0m3-1h0m3-1h0m3-1h0m3-1h0m3,0h0m3-1h0m3-1h0m3-1h0m3-1h0m3,0h0m3-1h0m3-1h0m3-1h0m3-1h0m3,0h0m3-1h0m3-1h0m3-1h0m3,0h0m3-1h0m3-1h0m3-1h0m3-1h0m3,0h0m3-1h0m3-1h0m3-1h0m3-1h0m3,0h0m3-1h0m3-1h0m3-1h0m3-1h0m3,0h0m3-1h0m3-1h0m3-1h0m3-1h0m3,0h0m3-1h0m3-1h0m3-1h0m3,0h0m3-1h0m3-1h0m3-1h0m3-1h0m3,0h0m3-1h0m3-1h0m3-1h0m3-1h0m3,0h0m3-1h0m3-1h0m3-1h0m3-1h0m3,0h0m3-1h0m3-1h0m3-1h0m3-1h0m3,0h0m3-1h0m3-1h0m3-1h0m3-1h0m3,0h0m3-1h0m3-1h0m3-1h0m3,0h0m3-1h0m3-1h0m3-1h0m3-1h0m3,0h0m3-1h0m3-1h0m3-1h0m3-1h0m3,0h0m3-1h0m3-1h0m3-1h0m3-1h0m3,0h0m3-1h0m3-1h0m3-1h0m3-1h0m3,0h0m3-1h0m3-1h0m3-1h0m3,0h0m3-1h0m3-1h0m3-1h0m3-1h0m3,0h0m3-1h0m3-1h0m3-1h0m3-1h0m3,0h0m3-1h0m3-1h0m3-1h0m3-1h0m3,0h0m3-1h0m3-1h0m3-1h0m3-1h0m3,0h0m3-1h0m3-1h0m3-1h0m3,0h0m3-1h0m3-1h0m3-1h0m3-1h0m3,0h0m3-1h0m3-1h0m3-1h0m3-1h0m3,0h0m3-1h0m3-1h0m3-1h0m3-1h0m3,0h0m3-1h0m3-1h0m3-1h0m3-1h0m3,0h0m3-1h0m3-1h0m3-1h0m3,0h0m3-1h0m3-1h0m3-1h0m3-1h0m3,0h0m3-1h0m3-1h0m3-1h0m3-1h0m3,0h0m3-1h0m3-1h0m0,0h0m3,2h0m3,3h0m3,2h0m3,2h0m3,3h0m3,2h0m3,3h0m3,2h0m3,2h0m3,3h0m3,2h0m3,2h0m3,3h0m3,2h0m3,2h0m3,3h0m3,2h0m3,2h0m3,3h0m3,2h0m3,3h0m3,2h0m3,2h0m3,3h0m3,2h0m3,2h0m3,3h0m3,2h0m3,2h0m3,3h0m3,2h0m3,2h0m3,3h0m3,2h0m3,3h0m3,2h0m3,2h0m3,3h0m3,2h0m3,2h0m3,3h0m3,2h0m3,2h0m3,3h0m3,2h0m3,3h0m3,2h0m3,2h0m3,3h0m3,2h0m3,2h0m3,3h0m3,2h0m3,2h0m3,3h0m3,2h0m3,2h0m3,3h0m3,2h0m3,3h0m3,2h0m3,2h0m3,3h0m3,2h0m3,2h0m3,3h0m3,2h0m3,2h0m3,3h0m3,2h0m3,3h0m3,2h0m3,2h0m3,3h0m3,2h0m3,2h0m3,3h0m3,2h0m3,2h0m3,3h0m3,2h0m3,2h0m3,3h0m3,2h0m3,3h0m3,2h0m3,2h0m3,3h0m3,2h0m3,2h0m3,3h0m3,2h0m3,2h0m3,3h0m3,2h0m3,2h0m3,3h0m3,2h0m3,3h0m3,2h0m3,2h0m3,3h0m3,2h0"/>
<path class="w" d="M2604,660h1v-2h1v-2h1v-2h1v-2h1v-2h1v-2h1v-2h1v-2h1v-2h1v-2h1v-1h1v-2h1v-1h1v-2h1v-1h1v-2h1v-1h1v-2h1v-1h1v-2h1v-1h1v-2h1v-2h1v-2h1v-2h1v-2h1v-2h1v-2h1v-2h1v-2h1v-2h1v-1h1v-2h1v-1h1v-2h1v-1h1v-2h1v-1h1v-2h1v-1h1v-2h1v-1h1v-1h1v-2h1v-1h1v-1h1v-1h1v-2h1v-1h1v-1h1v-1h1v-2h1v-1h1v-1h1v-2h1v-2h1v-2h1v-2h1v-2h1v-2h1v-2h1v-2h1v-2h1v-2h1v-1h1v-2h1v-1h1v-2h1v-1h1v-2h1v-1h1v-2h1v-1h1v-2h1v-1h1v-2h1v-2h1v-1h1v-2h1v-2h1v-1h1v-2h1v-2h1v-1h1v-2h1v-1h1v-2h1v-1h1v-2h1v-1h1v-2h1v-1h1v-2h1v-1h1v-2h1v-1h1v-2h1v-2h1v-1h1v-2h1v-2h1v-1h1v-2h1v-2h1v-1h1v-1h1v-2h1v-1h1v-1h1v-1h1v-2h1v-1h1v-1h1v-1h1v-2h1v-1h1v-1h1v-1h1v-2h1v-1h1v-1h1v-2h1v-1h1v-1h1v-2h1v-1h1v-1h1v-2h1v-1h1v-1h1v-1h1v-2h1v-1h1v-1h1v-1h1v-2h1v-1h1v-1h1v-1h1v-1h1v-1h1v-1h1v-1h1v-1h1v-1h1v-1h1v-1h1v-1h1v-1h1v-1h1v-1h1v-1h1v-1h1v-1h1v-1h1v-1h1v-1h1v-1h1v-1h1v-1h1v-1h1v-1h1v-1h1v-1h1v-1h1v-1h1v-1h1v-1h1v-1h1v-1h1v-1h2v-1h1v-1h2v-1h1v-1h2v-1h1v-1h1v-1h2v-1h1v-1h1v-1h2v-1h1v-1h1v-1h2v-1h1v-1h2v-1h1v-1h2v-1h1v-1h2v-1h1v-1h2v-1h2v-1h2v-1h2v-1h2v-1h2v-1h2v-1h2v-1h1v-1h5v-1h4v-1h3v-1h3v-1h2v-1h1v-1h3v-1h2v-1h2v-1h4v-1h4v-1h3v-1h3v-1h2v-1h1v-1h3v-1h2v-1h1v-1h4v-1h3v-1h2v-1h6v-1h2v-1h2v-1h2v-1h2v-1h2v-1h4v-1h4v-1h3v-1h5v-1h4v-1h3v-1h9v-1h2v-1h1v-1h48v1h3v1h4v1h11v1h1v1h2v1h3v1h3v1h4v1h5v1h1v1h2v1h3v1h1v1h2v1h3v1h1v1h2v1h2v1h1v1h2v1h1v1h2v1h1v1h3v1h1v1h2v1h2v1h2v1h2v1h2v1h1v1h1v1h1v1h1v1h1v1h1v1h2v1h2v1h2v1h1v1h2v1h1v1h1v1h2v1h1v1h1v1h2v1h1v1h1v1h1v1h1v1h1v1h1v1h1v1h1v1h1v1h1v1h1v1h1v1h1v1h1v1h1v1h1v1h1v1h1v1h1v1h1v1h1v1h1v1h1v1h1v1h1v1h1v1h1v1h1v1h1v1h1v1h1v1h1v1h1v1h1v1h1v1h1v1h1v1h1v1h1v1h1v1h1v1h1v1h1v1h1v1h1v1h1v1h1v1h1v1h1v1h1v1h1v1h1v1h1v2h1v1h1v2h1v1h1v2h1v1h1v1h1v1h1v1h1v1h1v1h1v1h1v1h1v1h1v1h1v1h1v1h1v1h1v2h1v1h1v2h1v1h1v2h1v1h1v1h1v1h1v1h1v1h1v1h1v1h1v2h1v1h1v2h1v1h1v2h1v1h1v1h1v1h1v1h1v2h1v1h1v2h1v1h1v2h1v1h1v1h1v1h1v1h1v1h1v1h1v1h1v2h1v1h1v2h1v1h1v2h1v1h1v2h1v1h1v2h1v1h1v2h1v1h1v2h1v1h1v2h1v1h1v2h1v1h1v1h1v2h1v1h1v1h1v1h1v2h1v1h1v1h1v1h1v2h1v1h1v1h1v2h1v1h1v2h1v1h1v2h1v1h1v2h1v1h1v2h1v1h1v1h1v1h1v2h1v1h1v1h1v2h1v1h1v2h1v1h1v2h1v1h1v2h1v1h1v2h1v1h1v2h1v1h1v2h1v1h1v2h1v1h1v2h1v1h1v2h1v1h1v2h1v1h1v2h1v1h1v2h1v1h1v2h1v1h1v2h1v1h1v2h1v1h1v2h1v1h1v1h1v1h1v2h1v1h1v1h1v2h1v1h1v2h1v1h1v2h1v1h1v1h1v2h1v1h1v1h1v1h1v2h1v1h1v1h1v1h1v2h1v1h1v1h1v1h1v1h1v1h1v2h1v1h1v2h1v1h1v2h1v1h1v2h1v1h1v2h1v1h1v1h1v1h1v2h1v1h1v1h1v2h1v1h1v2h1v1h1v2h1v1h1v2h1v1h1v2h1v1h1v2h1v1h1v2h1v1h1v2h1v1h1v2h1v1h1v1h1v1h1v1h1v1h1v1h1v1h1v2h1v1h1v2h1v1h1v2h1v1h1v1h1v2h1v1h1v1h1v1h1v2h1v1h1v1h1v1h1v2h1v1h1v1h1v1h1v1h1v1h1v1h1v1h1v1h1v2h1v2h1v1h1v2h1v1h1v1h1v1h1v1h1v1h1v2h1v1h1v2h1v1h1v2h1v1h1v1h1v1h1v1h1v1h1v1h1v1h1v2h1v1h1v1h1v2h1v1h1v1h1v2h1v1h1v1h1v1h1v1h1v1h1v1h1v1h1v1h1v1h1v1h1v1h1v1h1v1h1v1h1v2h1v1h1v1h1v2h1v1h1v1h1v2h1v1h1v1h1v1h1v1h1v1h1v1h1v1h1v1h1v1h1v1h1v1h1v1h1v1h1v1h1v1h1v1h1v1h1v1h1v1h1v1h1v1h1v1h1v1h1v1h1v1h1v1h1v2h1v1h1v1h1v2h1v1h1v1h1v2h1v1h1v1h-1v-1h-1v-1h-1v-1h-1v-1h-1v-1h-1v-1h-1v-1h-1v-1h-1v-1h-1v-1h-1v-1h-1v-1h-1v-1h-2v-1h-2v-1h-2v-1h-1v-1h-1v-1h-1v-1h-1v-1h-1v-1h-1v-1h-1v-1h-1v-1h-1v-1h-1v-1h-1v-1h-1v-1h-1v-1h-1v-1h-1v-1h-1v-1h-1v-1h-1v-1h-2v-1h-2v-1h-2v-1h-1v-1h-1v-1h-1v-1h-1v-1h-1v-1h-1v-1h-1v-1h-1v-1h-1v-1h-1v-1h-1v-1h-1v-1h-2v-1h-2v-1h-2v-1h-1v-1h-2v-1h-1v-1h-2v-1h-1v-1h-2v-1h-1v-1h-1v-1h-1v-1h-1v-1h-1v-1h-1v-1h-2v-1h-2v-1h-2v-1h-1v-1h-1v-1h-1v-1h-1v-1h-1v-1h-1v-1h-1v-1h-1v-1h-1v-1h-1v-1h-1v-1h-1v-1h-1v-1h-1v-1h-1v-1h-1v-1h-1v-1h-1v-1h-2v-1h-2v-1h-2v-1h-1v-1h-1v-1h-1v-1h-1v-1h-1v-1h-1v-1h-2v-1h-2v-1h-2v-1h-1v-1h-1v-1h-1v-1h-1v-1h-1v-1h-1v-1h-1v-1h-1v-1h-1v-1h-1v-1h-1v-1h-1v-1h-2v-1h-2v-1h-2v-1h-1v-1h-1v-1h-1v-1h-1v-1h-1v-1h-1v-1h-1v-1h-1v-1h-1v-1h-1v-1h-1v-1h-1v-1h-2v-1h-2v-1h-2v-1h-1v-1h-1v-1h-1v-1h-1v-1h-1v-1h-1v-1h-2v-1h-2v-1h-2v-1h-1v-1h-2v-1h-1v-1h-2v-1h-1v-1h-2v-1h-1v-1h-1v-1h-1v-1h-1v-1h-1v-1h-1v-1h-2v-1h-2v-1h-2v-1h-1v-1h-1v-1h-1v-1h-1v-1h-1v-1h-1v-1h-2v-1h-2v-1h-2v-1h-1v-1h-1v-1h-1v-1h-1v-1h-1v-1h-1v-1h-2v-1h-2v-1h-2v-1h-1v-1h-1v-1h-1v-1h-1v-1h-1v-1h-1v-1h-1v-1h-1v-1h-1v-1h-1v-1h-1v-1h-1v-1h-2v-1h-2v-1h-2v-1h-1v-1h-1v-1h-1v-1h-1v-1h-1v-1h-1v-1h-2v-1h-2v-1h-2v-1h-1v-1h-1v-1h-1v-1h-1v-1h-1v-1h-1v-1h-2v-1h-2v-1h-2v-1h-1v-1h-1v-1h-1v-1h-1v-1h-1v-1h-1v-1h-2v-1h-2v-1h-2v-1h-1v-1h-1v-1h-1v-1h-1v-1h-1v-1h-1v-1h-3v-1h-3v-1h-3v-1h-1v-1h-1v-1h-1v-1h-1v-1h-1v-1h-1v-1h-2v-1h-2v-1h-2v-1h-1v-1h-1v-1h-1v-1h-1v-1h-1v-1h-1v-1h-1v-1h-1v-1h-3v1h-3v1h-3v1h-2v1h-2v1h-2v1h-2v1h-2v1h-2v1h-1v1h-1v1h-1v1h-1v1h-1v1h-1v1h-1v1h-1v1h-1v1h-2v1h-2v1h-2v1h-2v1h-2v1h-2v1h-1v1h-1v1h-1v1h-1v1h-1v1h-1v1h-1v1h-1v1h-1v1h-1v1h-1v1h-1v1h-1v1h-1v1h-1v1h-1v1h-1v1h-1v1h-1v1h-1v1h-1v1h-1v1h-1v1h-1v1h-1v1h-1v1h-1v1h-1v1h-1v1h-1v1h-1v1h-1v1h-1v1h-1v1h-1v2h-1v1h-1v1h-1v2h-1v1h-1v1h-1v2h-1v1h-1v1h-1v1h-1v1h-1v1h-1v1h-1v1h-1v1h-1v1h-1v1h-1v1h-1v1h-1v1h-1v2h-1v2h-1v1h-1v2h-1v2h-1v1h-1v2h-1v2h-1v1h-1v1h-1v2h-1v1h-1v1h-1v1h-1v2h-1v1h-1v1h-1v1h-1v2h-1v1h-1v1h-1v2h-1v2h-1v2h-1v2h-1v2h-1v2h-1v2h-1v2h-1v2h-1v1h-1v2h-1v1h-1v1h-1v1h-1v2h-1v1h-1v1h-1v1h-1v2h-1v1h-1v1h-1v2h-1v1h-1v2h-1v1h-1v2h-1v1h-1v2h-1v1h-1v2h-1v1h-1v2h-1v1h-1v2h-1v2h-1v2h-1v2h-1v2h-1v2h-1v2h-1v2h-1v2h-1v2h-1v1h-1v2h-1v1h-1v2h-1v1h-1v2h-1v1h-1v2h-1v1h-1v2h-1v1h-1v2h-1v2h-1v2h-1v2h-1v2h-1v2h-1v2h-1v2h-1v2h-1v2h-1v1h-1v2h-1v1h-1v2h-1v1h-1v2h-1v1h-1v2h-1v1h-1v2h-1v1h-1v2h-1v2h-1v2h-1v2h-1v2h-1v2h-1v2h-1v2h-1v2h-1v2h-1v2h-1v2h-1v1h-1v2h-1v2h-1v2h-1v1h-1v2h-1v2h-1v2h-1v1h-1v2h-1v2h-1v2h-1v2h-1v2h-1v2h-1v2h-1v2h-1v2h-1v-1h-1v-1h-2v-1h-1v-1h-2v-1h-1v-1h-2v-1h-1v-2h-1v-1h-1v-2h-1v-1h-1v-2h-1v-1h-1v-1h-1v-1h-1v-1h-1v-1h-1v-1h-1v-1h-1v-1h-1v-1h-1v-1h-1v-1h-1v-1h-1v-1h-1v-2h-1v-1h-1v-2h-1v-1h-1v-2h-1v-1h-1v-1h-1v-1h-1v-1h-1v-1h-1v-1h-1v-1h-1v-1h-1v-1h-1v-1h-1v-1h-1v-1h-1v-1h-1v-2h-1v-1h-1v-2h-1v-1h-1v-2h-1v-1h-1v-1h-1v-1h-1v-1h-1v-1h-1v-1h-1v-1h-1v-1h-1v-1h-1v-1h-1v-1h-1v-1h-1v-1h-1v-1h-1v-1h-1v-1h-1v-1h-1v-1h-1v-1h-1v-2h-1v-1h-1v-2h-1v-1h-1v-2h-1v-1h-1v-1h-1v-1h-1v-1h-1v-1h-1v-1h-1v-1h-1v-1h-1v-1h-1v-1h-1v-1h-1v-1h-1v-1h-1v-1h-1v-1h-1v-1h-1v-1h-1v-1h-1v-1h-1v-1h-1v-1h-1v-1h-1v-1h-1v-1h-1v-1h-1v-1h-1v-1h-1v-1h-1v-1h-1v-1h-1v-1h-1v-1h-1v-1h-1v-1h-1v-1h-1v-1h-1v-1h-1v-1h-2v-1h-1v-1h-2v-1h-1v-1h-2v-1h-1v-1h-1v-1h-1v-1h-1v-1h-1v-1h-1v-1h-2v-1h-2v-1h-2v-1h-1v-1h-1v-1h-1v-1h-1v-1h-1v-1h-1v-1h-1v-1h-1v-1h-1v-1h-1v-1h-1v-1h-1v-1h-2v-1h-2v-1h-2v-1h-1v-1h-1v-1h-1v-1h-1v-1h-1v-1h-1v-1h-2v-1h-2v-1h-2v-1h-1v-1h-1v-1h-1v-1h-1v-1h-1v-1h-1v-1h-2v-1h-2v-1h-2v-1h-1v-1h-1v-1h-1v-1h-1v-1h-1v-1h-1v-1h-2v-1h-2v-1h-2v-1h-2v-1h-2v-1h-2v-1h-2v-1h-2v-1h-2v-1h-2v-1h-2v-1h-2v-1h-2v-1h-2v-1h-2v-1h-1v-1h-1v-1h-1v-1h-1v-1h-1v-1h-1v-1h-3v-1h-3v-1h-3v-1h-2v-1h-2v-1h-2v-1h-2v-1h-2v-1h-8v-1h-2v-1h-2v-1h-2v-1h-2v-1h-2v-1h-2v-1h-2v-1h-2v-1h-2v-1h-2v-1h-2v-1h-2v-1h-2v-1h-2v-1h-2v-1h-2v-1h-2v-1h-2v-1h-2v-1h-2v-1h-2v-1h-2v-1h-2v-1h-2v-1h-2v-1h-2v-1h-2v-1h-2v-1h-2v-1h-2z"/>
<path class="s3" d="M3127.5,602h1l5,5h-1zm0,0h1l5,5h-1zm3.38,1h1l7.5,10h-1zm.62,3h1l7,7h-1zm-3.5-6.75v1l-2-1v-1zm6.5,6.75h1l10,10h-1zm10.5,9.25v1l-7-3.5v-1zm-14.5-13.25h1l5,5h-1zm10.12,7h1l9.75,13h-1zm2.88,6h1l7,7h-1zm-1.5-5.75v1l-7-3.5v-1zm4.5,2.75h1l13,13h-1zm13.5,12.17v1l-10-3.33v-1zm-12-11.92v1l-7-3.5v-1zm4.5,5.75h1l13,13h-1zm6,6h1l7,7h-1zm-12-12h1l7,7h-1zm12,9h1l13,13h-1zm13.5,12.25v1l-7-3.5v-1zm-12-12v1l-7-3.5v-1zm4.5,5.75h1l13,13h-1zm6,6h1l7,7h-1zm-12-12h1l7,7h-1zm12,9h1l13,13h-1zm13.5,12.25v1l-7-3.5v-1zm-12-12v1l-7-3.5v-1zm4.5,5.75h1l13,13h-1zm6,6h1l7,7h-1zm-12-12h1l7,7h-1zm12,9h1l13,13h-1zm13.5,12.25v1l-7-3.5v-1zm-12-12v1l-7-3.5v-1zm4.6,2.75h1l12.8,16h-1zm5.9,9h1l7,7h-1zm-4.5-8.75v1l-7-3.5v-1zm4.5,5.75h1l13,13h-1zm13.5,12.25v1l-7-3.5v-1zm-19.5-18.25h1l7,7h-1zm12.1,9h1l12.8,16h-1zm5.9,9h1l7,7h-1zm-4.5-8.75v1l-7-3.5v-1zm7.7,5.75h1l9.6,16h-1zm2.8,9h1l7,7h-1zm-1.5-8.67v1l-10-6.67v-1zm4.7,2.67h1l9.6,16h-1zm10.3,15.25v1l-7-3.5v-1zm-9-15v1l-7-3.5v-1zm4.7,5.75h1l9.6,16h-1zm2.8,9h1l7,7h-1zm-9-15h1l7,7h-1zm12.2,9h1l9.6,16h-1zm10.3,15.25v1l-7-3.5v-1zm-9-15v1l-7-3.5v-1zm4.7,5.75h1l9.6,16h-1zm2.8,9h1l7,7h-1zm-9-15h1l7,7h-1zm12.2,9h1l9.6,16h-1zm10.3,15.25v1l-7-3.5v-1zm-9-15v1l-7-3.5v-1zm4.7,5.75h1l9.6,16h-1zm2.8,9h1l7,7h-1zm-9-15h1l7,7h-1zm12.17,9h1l12.67,19h-1zm13.33,18.33v1l-10-6.67v-1zm-12-18.08v1l-7-3.5v-1zm4.6,5.75h1l12.8,16h-1zm13.4,15.25v1l-7-3.5v-1zm-19.5-21.25h1l7,7h-1zm12.1,12h1l12.8,16h-1zm5.9,9h1l7,7h-1zm-12-15h1l7,7h-1zm12.1,9h1l12.8,16h-1zm13.4,15.25v1l-7-3.5v-1zm-12-15v1l-7-3.5v-1zm4.6,5.75h1l12.8,16h-1zm5.9,9h1l7,7h-1zm-12-15h1l7,7h-1zm12.17,9h1l12.67,19h-1zm5.83,12h1l7,7h-1zm-4.5-11.75v1l-7-3.5v-1zm4.6,5.75h1l12.8,16h-1zm13.4,15.25v1l-7-3.5v-1zm-19.5-21.25h1l7,7h-1zm12.1,12h1l12.8,16h-1zm5.9,9h1l7,7h-1zm-12-15h1l7,7h-1zm12.17,9h1l12.67,19h-1zm5.83,12h1l7,7h-1zm-4.5-11.75v1l-7-3.5v-1zm4.6,5.75h1l12.8,16h-1zm13.4,15.25v1l-7-3.5v-1zm-19.5-21.25h1l7,7h-1zm15.2,12h1l9.6,16h-1zm2.8,9h1l7,7h-1zm-1.5-8.67v1l-10-6.67v-1zm4.62,5.67h1l9.75,13h-1zm10.38,12.25v1l-7-3.5v-1zm-16.5-18.25h1l7,7h-1zm12.2,9h1l9.6,16h-1zm2.8,9h1l7,7h-1zm-1.5-8.75v1l-7-3.5v-1zm4.7,5.75h1l9.6,16h-1zm2.8,9h1l7,7h-1zm-9-15h1l7,7h-1zm12.2,12h1l9.6,16h-1zm2.8,9h1l7,7h-1zm-9-15h1l7,7h-1zm12.12,12h1l9.75,13h-1zm10.38,12.25v1l-7-3.5v-1zm-16.5-18.25h1l7,7h-1zm12.2,9h1l9.6,16h-1zm2.8,9h1l7,7h-1zm-1.5-8.75v1l-7-3.5v-1zm4.6,5.75h1l12.8,16h-1zm13.4,15.33v1l-10-6.67v-1zm-19.5-21.33h1l7,7h-1zm12,12h1l13,13h-1zm13.5,12.25v1l-7-3.5v-1zm-19.5-18.25h1l7,7h-1zm12,12h1l13,13h-1zm6,6h1l7,7h-1zm-12-12h1l7,7h-1zm12.1,9h1l12.8,16h-1zm5.9,9h1l7,7h-1zm-4.5-8.75v1l-7-3.5v-1zm4.5,5.75h1l13,13h-1zm13.5,12.25v1l-7-3.5v-1zm-19.5-18.25h1l7,7h-1zm12,12h1l13,13h-1zm6,6h1l7,7h-1zm-12-12h1l7,7h-1zm12,12h1l13,13h-1zm6,6h1l7,7h-1zm-12-12h1l7,7h-1zm12,12h1l13,13h-1zm6,6h1l7,7h-1zm13.5,9.38v1l-13-9.75v-1zm0-.13v1l-7-3.5v-1zm-7.5-6.25h1l13,13h-1zm6,6h1l7,7h-1zm-4.5-5.75v1l-7-3.5v-1zm7.62,5.75h1l9.75,13h-1zm2.88,6h1l7,7h-1zm-1.5-5.67v1l-10-6.67v-1zm-314-245.21v1l-1-.75v-1zm4,3v1l-2-1.5v-1zm-1-1.87v1l-2-1v-1zm10.5,7.75h1l1,1h-1zm4,4h1l2,2h-1zm0,0h1l2,2h-1zm6,6h1l5,5h-1zm-10-10h1l1,1h-1zm13,10h1l8,8h-1zm-7.5-6.75v1l-2-1v-1zm9.5,5.75h1l12,12h-1zm5,5h1l13,13h-1zm-5-5h1l6,6h-1zm14.12,8h1l9.75,13h-1zm1.38,.17v1l-10-3.33v-1zm4.7,2.83h1l9.6,16h-1zm1.3,.25v1l-7-3.5v-1zm4.62,5.75h1l9.75,13h-1zm-6.12-6h1l7,7h-1zm12.2,9h1l9.6,16h-1zm1.3,.25v1l-7-3.5v-1zm4.7,2.75h1l9.6,16h-1zm1.3,.25v1l-7-3.5v-1zm4.62,5.75h1l9.75,13h-1zm-6.12-6h1l7,7h-1zm12.2,9h1l9.6,16h-1zm1.3,.25v1l-7-3.5v-1zm4.7,2.75h1l9.6,16h-1zm1.3,.25v1l-7-3.5v-1zm4.6,5.75h1l12.8,16h-1zm-6.1-6h1l7,7h-1zm12.1,9h1l12.8,16h-1zm1.4,.25v1l-7-3.5v-1zm4.6,5.75h1l12.8,16h-1zm-6.1-6h1l7,7h-1zm12.1,9h1l12.8,16h-1zm1.4,.25v1l-7-3.5v-1zm4.6,5.75h1l12.8,16h-1zm-6.1-6h1l7,7h-1zm12.1,9h1l12.8,16h-1zm1.4,.25v1l-7-3.5v-1zm4.6,5.75h1l12.8,16h-1zm-6.1-6h1l7,7h-1zm12.1,9h1l12.8,16h-1zm1.4,.25v1l-7-3.5v-1zm4.6,5.75h1l12.8,16h-1zm-6.1-6h1l7,7h-1zm15.25,9h1l9.5,19h-1zm1.25,.17v1l-10-3.33v-1zm4.7,5.83h1l9.6,16h-1zm-6.2-6h1l7,7h-1zm12.25,9h1l9.5,19h-1zm1.25,.25v1l-7-3.5v-1zm4.7,5.75h1l9.6,16h-1zm-6.2-6h1l7,7h-1zm12.2,12h1l9.6,16h-1zm-6.2-6h1l7,7h-1zm12.25,9h1l9.5,19h-1zm1.25,.25v1l-7-3.5v-1zm4.7,5.75h1l9.6,16h-1zm-6.2-6h1l7,7h-1zm12.2,12h1l9.6,16h-1zm-6.2-6h1l7,7h-1zm12.1,12h1l12.8,16h-1zm-6.1-6h1l7,7h-1zm12.17,9h1l12.67,19h-1zm1.33,.25v1l-7-3.5v-1zm4.6,5.75h1l12.8,16h-1zm-6.1-6h1l7,7h-1zm12.1,12h1l12.8,16h-1zm-6.1-6h1l7,7h-1zm12.1,12h1l12.8,16h-1zm-6.1-6h1l7,7h-1zm12.1,12h1l12.8,16h-1zm-6.1-6h1l7,7h-1zm12.1,9h1l12.8,16h-1zm1.4,.25v1l-7-3.5v-1zm4.6,5.75h1l12.8,16h-1zm-6.1-6h1l7,7h-1zm12.1,12h1l12.8,16h-1zm-6.1-6h1l7,7h-1zm12.1,12h1l12.8,16h-1zm-6.1-6h1l7,7h-1zm15.12,12h1l9.75,13h-1zm1.38,.33v1l-10-6.67v-1zm4.62,5.67h1l9.75,13h-1zm-6.12-6h1l7,7h-1zm12.12,12h1l9.75,13h-1zm-6.12-6h1l7,7h-1zm12.12,12h1l9.75,13h-1zm-6.12-6h1l7,7h-1zm12.12,12h1l9.75,13h-1zm-6.12-6h1l7,7h-1zm12.12,12h1l9.75,13h-1zm-6.12-6h1l7,7h-1zm12,12h1l10,10h-1zm-6-6h1l7,7h-1zm12,9h1l13,13h-1zm1.5,.25v1l-7-3.5v-1zm-304.38-239.25h1l3,4h-1zm3.76,5h1l.75,1h-1zm-11.26-10h1l.75,1h-1zm2.88-.25v1l-1-.5v-1zm9.5,9.25h1l1,1h-1zm-6-6h1l2,2h-1zm17.62,17h1l.75,1h-1zm-8.12-10.75v1l-1-.5v-1zm6.62,3.75h1l.75,1h-1zm1.5,2h1l.75,1h-1zm3,4h1l.75,1h-1zm-3.12-5.75v1l-2-1v-1zm6.12,4.75h1l.75,1h-1zm-6.12-4.75v1l-1-.5v-1zm16.7,15.75h1l3.6,6h-1zm-7.7-11.25v1l-1-.5v-1zm9.5,9.25h1l11,11h-1zm4,1h1l13,13h-1zm-2.5-1.75v1l-2-1v-1zm4,2v1l-2-1v-1zm4.6,2.75h1l12.8,16h-1zm1.4,.25v1l-7-3.5v-1zm4.6,2.75h1l12.8,16h-1zm1.4,.25v1l-7-3.5v-1zm4.5,5.75h1l13,13h-1zm-6-6h1l7,7h-1zm12.1,9h1l12.8,16h-1zm1.4,.25v1l-7-3.5v-1zm4.6,2.75h1l12.8,16h-1zm1.4,.25v1l-7-3.5v-1zm4.6,2.75h1l12.8,16h-1zm1.4,.25v1l-7-3.5v-1zm4.6,5.75h1l12.8,16h-1zm-6.1-6h1l7,7h-1zm12.1,9h1l12.8,16h-1zm1.4,.25v1l-7-3.5v-1zm7.75,2.75h1l9.5,19h-1zm1.25,.17v1l-10-3.33v-1zm4.7,5.83h1l9.6,16h-1zm-6.2-6h1l7,7h-1zm12.25,9h1l9.5,19h-1zm1.25,.25v1l-7-3.5v-1zm4.7,5.75h1l9.6,16h-1zm-6.2-6h1l7,7h-1zm12.25,9h1l9.5,19h-1zm1.25,.25v1l-7-3.5v-1zm4.75,2.75h1l9.5,19h-1zm1.25,.25v1l-7-3.5v-1zm4.75,5.75h1l9.5,19h-1zm-6.25-6h1l7,7h-1zm12.1,12h1l12.8,16h-1zm-6.1-6h1l7,7h-1zm12.17,9h1l12.67,19h-1zm1.33,.25v1l-7-3.5v-1zm4.6,5.75h1l12.8,16h-1zm-6.1-6h1l7,7h-1zm12.17,9h1l12.67,19h-1zm1.33,.25v1l-7-3.5v-1zm4.67,5.75h1l12.67,19h-1zm-6.17-6h1l7,7h-1zm12.1,12h1l12.8,16h-1zm-6.1-6h1l7,7h-1zm12.1,12h1l12.8,16h-1zm-6.1-6h1l7,7h-1zm12.17,9h1l12.67,19h-1zm1.33,.25v1l-7-3.5v-1zm4.67,5.75h1l12.67,19h-1zm-6.17-6h1l7,7h-1zm12.1,12h1l12.8,16h-1zm-6.1-6h1l7,7h-1zm15.2,12h1l9.6,16h-1zm1.3,.33v1l-10-6.67v-1zm4.7,5.67h1l9.6,16h-1zm-6.2-6h1l7,7h-1zm12.2,12h1l9.6,16h-1zm-6.2-6h1l7,7h-1zm12.25,9h1l9.5,19h-1zm1.25,.25v1l-7-3.5v-1zm4.7,5.75h1l9.6,16h-1zm-6.2-6h1l7,7h-1zm12.2,12h1l9.6,16h-1zm-6.2-6h1l7,7h-1zm12.2,12h1l9.6,16h-1zm-6.2-6h1l7,7h-1zm12.2,12h1l9.6,16h-1zm-6.2-6h1l7,7h-1zm12.1,12h1l12.8,16h-1zm-6.1-6h1l7,7h-1zm12.1,12h1l12.8,16h-1zm-6.1-6h1l7,7h-1zm12.1,12h1l12.8,16h-1zm-6.1-6h1l7,7h-1zm12.1,12h1l12.8,16h-1zm-6.1-6h1l7,7h-1zm12.1,12h1l12.8,16h-1zm-6.1-6h1l7,7h-1zm12.1,12h1l12.8,16h-1zm-6.1-6h1l7,7h-1zm12.1,12h1l12.8,16h-1zm-6.1-6h1l7,7h-1zm12,12h1l13,13h-1zm-6-6h1l7,7h-1zm-300-237h1l1,1h-1zm10,10h1l1,1h-1zm-12-9h1l1,1h-1zm3.5-.75v1l-1-.5v-1zm8.5,9.75h1l1,1h-1zm4,4h1l2,2h-1zm-14-14h1l1,1h-1zm12,9h1l1,1h-1zm1.5,.25v1l-2-1v-1zm11.5,9.75h1l1,1h-1zm4,4h1l2,2h-1zm-14.5-13.25v1l-2-1v-1zm11.5,7.25h1l2,2h-1zm14,11h1l1,1h-1zm-12.5-11.75v1l-2-1v-1zm3,1.5v1l-1-.5v-1zm11.2,10.25h1l.8,1h-1zm2-2h1l3.2,4h-1zm9.6,12h1l1.6,2h-1zm3.9-1h1l3.6,6h-1zm-11.7-12.17v1l-2-.67v-1zm5,1.67v1l-3-1v-1zm6.7,3.5h1l.6,1h-1zm1.2,2h1l.6,1h-1zm1.2,2h1l.6,1h-1zm1.2,2h1l6,10h-1zm-2.3-5.75v1l-2-1v-1zm4.7,5.75h1l9.6,16h-1zm-6.2-6h1l1,1h-1zm6,6h1l1,1h-1zm6.2,3h1l9.6,16h-1zm1.3,.25v1l-7-3.5v-1zm4.7,2.75h1l9.6,16h-1zm1.3,.25v1l-7-3.5v-1zm4.7,2.75h1l9.6,16h-1zm1.3,.25v1l-7-3.5v-1zm4.75,2.75h1l9.5,19h-1zm1.25,.25v1l-7-3.5v-1zm4.7,5.75h1l9.6,16h-1zm-6.2-6h1l7,7h-1zm12.1,9h1l12.8,16h-1zm1.4,.25v1l-7-3.5v-1zm4.67,2.75h1l12.67,19h-1zm1.33,.25v1l-7-3.5v-1zm4.67,2.75h1l12.67,19h-1zm1.33,.25v1l-7-3.5v-1zm4.67,5.75h1l12.67,19h-1zm-6.17-6h1l7,7h-1zm12.17,9h1l12.67,19h-1zm1.33,.25v1l-7-3.5v-1zm4.6,5.75h1l12.8,16h-1zm-6.1-6h1l7,7h-1zm12.17,9h1l12.67,19h-1zm1.33,.25v1l-7-3.5v-1zm4.67,5.75h1l12.67,19h-1zm-6.17-6h1l7,7h-1zm12.17,9h1l12.67,19h-1zm1.33,.25v1l-7-3.5v-1zm7.75,5.75h1l9.5,19h-1zm1.25,.33v1l-10-6.67v-1zm4.7,5.67h1l9.6,16h-1zm-6.2-6h1l7,7h-1zm12.25,9h1l9.5,19h-1zm1.25,.25v1l-7-3.5v-1zm4.75,5.75h1l9.5,19h-1zm-6.25-6h1l7,7h-1zm12.25,12h1l9.5,19h-1zm-6.25-6h1l7,7h-1zm12.2,12h1l9.6,16h-1zm-6.2-6h1l7,7h-1zm12.25,9h1l9.5,19h-1zm1.25,.25v1l-7-3.5v-1zm4.75,5.75h1l9.5,19h-1zm-6.25-6h1l7,7h-1zm12.17,12h1l12.67,19h-1zm-6.17-6h1l7,7h-1zm12.17,12h1l12.67,19h-1zm-6.17-6h1l7,7h-1zm12.17,12h1l12.67,19h-1zm-6.17-6h1l7,7h-1zm12.1,12h1l12.8,16h-1zm-6.1-6h1l7,7h-1zm12.1,12h1l12.8,16h-1zm-6.1-6h1l7,7h-1zm12.1,12h1l12.8,16h-1zm-6.1-6h1l7,7h-1zm12.1,12h1l12.8,16h-1zm-6.1-6h1l7,7h-1zm12.1,12h1l12.8,16h-1zm-6.1-6h1l7,7h-1zm12.1,12h1l4.8,6h-1zm8,10h1l4.8,6h-1zm-14.1-16h1l7,7h-1zm12,15h1l13,13h-1zm-5.83-9h1l6.67,10h-1zm14.95,15h1l9.75,13h-1zm1.38,.33v1l-10-6.67v-1zm4.62,5.67h1l9.75,13h-1zm-6.12-6h1l7,7h-1zm12.12,12h1l9.75,13h-1zm-6.12-6h1l7,7h-1zm12.12,12h1l9.75,13h-1zm-6.12-6h1l7,7h-1zm12.12,12h1l9.75,13h-1zm-6.12-6h1l7,7h-1zm12.12,12h1l9.75,13h-1zm-6.12-6h1l7,7h-1zm-301-235h1l1,1h-1zm10,10h1l1,1h-1zm-13-10h1l2,2h-1zm.5-2.75v1l-2-1v-1zm14.5,11.75h1l.6,1h-1zm-8.5-9.5v1l-2-.67v-1zm11.5,7.5h1l.6,1h-1zm1.8,3h1l.6,1h-1zm1.2,2h1l.6,1h-1zm1.2,2h1l3.6,6h-1zm6.6,4h1l.6,1h-1zm-9.3-12.75v1l-2-1v-1zm3,1.5v1l-1-.5v-1zm9.9,10.25h1l.6,1h-1zm10.2,10h1l.6,1h-1zm-9.1-14.75v1l-2-1v-1zm12.7,13.75h1l.6,1h-1zm-5.7-10.25v1l-2-1v-1zm9.3,9.25h1l.6,1h-1zm3.9-1h1l.8,1h-1zm-2.2-2.75v1l-2-1v-1zm16.2,15.75h1l.8,1h-1zm1.6,2h1l1.6,2h-1zm-11.8-14.75v1l-1-.5v-1zm6.67,3.75h1l.67,1h-1zm1.33,2h1l.67,1h-1zm2.67,4h1l.67,1h-1zm8,12h1l.67,1h-1zm-10.67-17.75v1l-2-1v-1zm6.67,5.75h1l.67,1h-1zm8,12h1l2.67,4h-1zm-14.67-17.75v1l-1-.5v-1zm17.8,17.75h1l5.6,7h-1zm-10.3-12h1l1,1h-1zm9.1,6h1l.8,1h-1zm4.8,6h1l8,10h-1zm-3.4-5.75v1l-2-1v-1zm7.8,6.75h1l9.6,12h-1zm-7.8-6.75v1l-1-.5v-1zm12,7.75h1l11.33,17h-1zm4.67,1h1l12.67,19h-1zm-2.67-1.75v1l-2-1v-1zm4,2v1l-1-.5v-1zm4.67,2.75h1l12.67,19h-1zm1.33,.25v1l-7-3.5v-1zm7.7,5.75h1l9.6,16h-1zm1.3,.33v1l-10-6.67v-1zm4.75,2.67h1l9.5,19h-1zm1.25,.25v1l-7-3.5v-1zm4.75,2.75h1l9.5,19h-1zm1.25,.25v1l-7-3.5v-1zm4.75,5.75h1l9.5,19h-1zm-6.25-6h1l7,7h-1zm12.25,9h1l9.5,19h-1zm1.25,.25v1l-7-3.5v-1zm4.75,5.75h1l9.5,19h-1zm-6.25-6h1l7,7h-1zm12.25,9h1l9.5,19h-1zm1.25,.25v1l-7-3.5v-1zm4.67,5.75h1l12.67,19h-1zm-6.17-6h1l7,7h-1zm12.21,9h1l12.57,22h-1zm1.29,.25v1l-7-3.5v-1zm4.67,5.75h1l12.67,19h-1zm-6.17-6h1l7,7h-1zm12.17,12h1l12.67,19h-1zm-6.17-6h1l7,7h-1zm12.17,12h1l12.67,19h-1zm-6.17-6h1l7,7h-1zm12.17,12h1l12.67,19h-1zm-6.17-6h1l7,7h-1zm12.17,9h1l12.67,19h-1zm1.33,.25v1l-7-3.5v-1zm4.67,5.75h1l12.67,19h-1zm-6.17-6h1l7,7h-1zm12.17,12h1l12.67,19h-1zm-6.17-6h1l7,7h-1zm12.17,12h1l12.67,19h-1zm-6.17-6h1l7,7h-1zm15.25,12h1l9.5,19h-1zm1.25,.33v1l-10-6.67v-1zm4.7,8.67h1l9.6,16h-1zm-6.03-9h1l6.67,10h-1zm12.03,15h1l9.6,16h-1zm-6.2-6h1l7,7h-1zm12.2,12h1l9.6,16h-1zm-6.2-6h1l7,7h-1zm12.2,12h1l9.6,16h-1zm-6.2-6h1l7,7h-1zm12.2,12h1l9.6,16h-1zm-6.2-6h1l7,7h-1zm12.2,12h1l1.2,2h-1zm1.8,3h1l7.8,13h-1zm-8-9h1l7,7h-1zm12.2,15h1l9.6,16h-1zm-6.03-9h1l1.33,2h-1zm2,3h1l2.67,4h-1zm3.33,5h1l1.33,2h-1zm6.6,7h1l12.8,16h-1zm-6.1-6h1l7,7h-1zm12.1,12h1l12.8,16h-1zm-6.1-6h1l7,7h-1zm12.1,12h1l6.4,8h-1zm7.2,9h1l5.6,7h-1zm-13.3-15h1l7,7h-1zm12,15h1l13,13h-1zm-5.83-9h1l6.67,10h-1zm11.83,15h1l13,13h-1zm6,6h1l13,13h-1zm-302.88-239h1l3,4h-1zm-3,1h1l.75,1h-1zm14.88,7h1l1,1h-1zm-11.5-10.75v1l-2-1v-1zm3,1.5v1l-2-1v-1zm10.5,8.25h1l1,1h-1zm2-1h1l1,1h-1zm4,4h1l2,2h-1zm6,6h1l1,1h-1zm-5.5-8.75v1l-2-1v-1zm10.5,7.75h1l1,1h-1zm4,4h1l2,2h-1zm-2-5h1l1,1h-1zm11,11h1l1,1h-1zm-9.5-10.75v1l-2-1v-1zm12.6,9.75h1l.8,1h-1zm-11.6-10v1l-2,0v-1zm14.4,9h1l1.6,2h-1zm2.4,3h1l1.6,2h-1zm.4-4h1l.8,1h-1zm-2.2-2.75v1l-2-1v-1zm13.3,9.75h1l.6,1h-1zm1.2,2h1l4.8,8h-1zm4.8,1h1l.6,1h-1zm-6.3-7.75v1l-2-1v-1zm10.25,7.75h1l.5,1h-1zm6,12h1l.5,1h-1zm-1.5-12h1l9.5,19h-1zm1.25,.25v1l-2-1v-1zm9.75,12.75h1l.5,1h-1zm-6.75-11.25v1l-4-2v-1zm2,1v1l-1-.5v-1zm6.25,4.25h1l2,4h-1zm3.5,7h1l.5,1h-1zm-4.75-8.75v1l-1-.5v-1zm9.75,9.75h1l.5,1h-1zm6,12h1l.5,1h-1zm-1.5-12h1l.5,1h-1zm6,12h1l2,4h-1zm5.08,1h1l6,9h-1zm-10.83-14h1l2,2h-1zm15.5,15h1l7.33,11h-1zm.67-5h1l.67,1h-1zm1.33,2h1l.67,1h-1zm3.33,5h1l8,12h-1zm-3.33-6.75v1l-2-1v-1zm6.67,8.75h1l10.67,16h-1zm-8.17-9h1l1,1h-1zm14.83,13h1l10,15h-1zm-3.33-4.75v1l-2-1v-1zm9,7.75h1l10.29,18h-1zm3.67,2h1l12.67,19h-1zm-1.17-1h1l2,2h-1zm7.17,7h1l12.67,19h-1zm-6.17-6h1l7,7h-1zm12.17,9h1l12.67,19h-1zm1.33,.25v1l-7-3.5v-1zm4.67,5.75h1l12.67,19h-1zm-6.17-6h1l7,7h-1zm15.25,12h1l9.5,19h-1zm1.25,.33v1l-10-6.67v-1zm4.75,5.67h1l9.5,19h-1zm-6.25-6h1l7,7h-1zm12.25,12h1l9.5,19h-1zm-6.25-6h1l7,7h-1zm12.25,9h1l9.5,19h-1zm1.25,.25v1l-7-3.5v-1zm4.75,5.75h1l9.5,19h-1zm-6.25-6h1l7,7h-1zm12.2,15h1l9.6,16h-1zm-6.03-9h1l6.67,10h-1zm12.03,15h1l9.6,16h-1zm-6.2-6h1l7,7h-1zm12.1,12h1l12.8,16h-1zm-6.1-6h1l7,7h-1zm12.17,12h1l12.67,19h-1zm-6.17-6h1l7,7h-1zm12.17,12h1l12.67,19h-1zm-6.17-6h1l7,7h-1zm12.17,12h1l12.67,19h-1zm-6.17-6h1l7,7h-1zm12.1,15h1l12.8,16h-1zm-5.93-9h1l6.67,10h-1zm11.93,15h1l12.8,16h-1zm-6.1-6h1l7,7h-1zm12.1,12h1l4.8,6h-1zm9.6,12h1l3.2,4h-1zm-15.7-18h1l7,7h-1zm12.1,15h1l12.8,16h-1zm-5.93-9h1l6.67,10h-1zm11.93,15h1l12.8,16h-1zm6,6h1l12.8,16h-1zm-6.1-6h1l7,7h-1zm15.12,15h1l9.75,13h-1zm-9.12-9h1l10,10h-1zm15.2,15h1l9.6,16h-1zm-6.2-6h1l7,7h-1zm12.12,15h1l9.75,13h-1zm-5.95-9h1l6.67,10h-1zm11.95,15h1l9.75,13h-1zm-6.12-6h1l7,7h-1zm-299-230h1l1,1h-1zm-7.5-9.25v1l-1-.5v-1zm10.5,6.25h1l1,1h-1zm4,4h1l2,2h-1zm6,6h1l1,1h-1zm-5.5-8.75v1l-3-1.5v-1zm12.1,4.75h1l.6,1h-1zm10.8,11h1l.6,1h-1zm-9.9-13.75v1l-2-1v-1zm3,1.5v1l-1-.5v-1zm13.5,9.25h1l.6,1h-1zm1.8,3h1l.6,1h-1zm1.2,2h1l.6,1h-1zm1.2,2h1l3.6,6h-1zm1.2-8h1l.6,1h-1zm7.2,12h1l.6,1h-1zm-12.1-14v1l-1,0v-1zm15.7,13h1l.6,1h-1zm-7.7-11.25v1l-1-.5v-1zm7.7,4.25h1l.6,1h-1zm1.2,2h1l.6,1h-1zm1.2,2h1l.6,1h-1zm1.2,2h1l.6,1h-1zm-2.3-5.75v1l-2-1v-1zm15,15.75h1l.8,1h-1zm-15-15.75v1l-1-.5v-1zm12.2,7.75h1l.8,1h-1zm1.6,2h1l1.6,2h-1zm4,5h1l.8,1h-1zm-8.8-10.25v1l-2-1v-1zm12.4,10.25h1l.8,1h-1zm-7.4-7.75v1l-2-1v-1zm12.67,7.75h1l.67,1h-1zm4.66,7h1l.67,1h-1zm1.34,2h1l2.67,4h-1zm-1.34-8h1l.67,1h-1zm8.67,13h1l.67,1h-1zm-12-17.75v1l-2-1v-1zm8,5.75h1l2,3h-1zm2.67,4h1l2.67,4h-1zm3.33,5h1l.67,1h-1zm2.67,4h1l.67,1h-1zm-4-12h1l.67,1h-1zm8,12h1l.67,1h-1zm-10.67-13.75v1l-2-1v-1zm4,2v1l-1-.5v-1zm10.67,11.75h1l.67,1h-1zm-9.67-11.25v1l-2-1v-1zm11.67,11.25h1l1.33,2h-1zm2,3h1l2.67,4h-1zm3.33,5h1l.67,1h-1zm2.67,4h1l.67,1h-1zm-2.67-10h1l.67,1h-1zm7.33,11h1l.67,1h-1zm-11.33-14.75v1l-2-1v-1zm13.25,7.75h1l1,2h-1zm2,4h1l.5,1h-1zm1,2h1l5,10h-1zm-5.25-9.5v1l-1-.33v-1zm7.64,5.5h1l.43,1h-1zm4.29,10h1l.86,2h-1zm5.32,3h1l1,2h-1zm-8.75-13h1l2,2h-1zm14.75,16h1l1,2h-1zm1.5-3h1l9.5,19h-1zm-1.25-1h1l2,2h-1zm10.29,11h1l.43,1h-1zm4.71,11h1l1.71,4h-1zm-12.5-20.75v1l-1-.5v-1zm12.75,12.75h1l.5,1h-1zm5.5,11h1l2,4h-1zm-11.75-19h1l2,2h-1zm10.75,11h1l1,2h-1zm5,10h1l4,8h-1zm.42-5h1l12.67,19h-1zm-2.17-2h1l3,3h-1zm8.21,5h1l.57,1h-1zm1.15,2h1l.57,1h-1zm1.14,2h1l.57,1h-1zm1.14,2h1l1.71,3h-1zm2.29,4h1l6.86,12h-1zm-10.43-12.75v1l-1-.5v-1zm6,3v1l-2-1v-1zm7,9.75h1l.57,1h-1zm1.14,2h1l9.14,16h-1zm-9.64-12h1l1,1h-1zm12.83,13h1l.67,1h-1zm4.67,7h1l7.33,11h-1zm6,6h1l7.33,11h-1zm-10.5-13h1l4,4h-1zm11.17,14h1l12.67,19h-1zm-.67-1h1l1.33,2h-1zm6.67,7h1l12.67,19h-1zm-6.17-6h1l7,7h-1zm12.17,12h1l12.67,19h-1zm-6.17-6h1l7,7h-1zm12.17,12h1l12.67,19h-1zm-6.17-6h1l7,7h-1zm15.2,15h1l9.6,16h-1zm-9.2-9h1l10,10h-1zm15.2,15h1l9.6,16h-1zm-6.2-6h1l7,7h-1zm12.25,12h1l.5,1h-1zm2.5,5h1l7,14h-1zm-8.75-11h1l7,7h-1zm12.2,15h1l9.6,16h-1zm-6.03-9h1l1.33,2h-1zm5.33,8h1l1.33,2h-1zm6.7,7h1l3,5h-1zm3.6,6h1l6,10h-1zm-9.8-12h1l7,7h-1zm12.2,15h1l9.6,16h-1zm-6.03-9h1l3.33,5h-1zm4,6h1l2.67,4h-1zm8.03,9h1l9.6,16h-1zm-6.2-6h1l7,7h-1zm12.12,15h1l9.75,13h-1zm-5.95-9h1l6.67,10h-1zm11.93,15h1l2.4,3h-1zm4,5h1l2.4,3h-1zm3.2,4h1l5.6,7h-1zm-13.3-15h1l7,7h-1zm12,15h1l13,13h-1zm-5.83-9h1l1.33,2h-1zm3.33,5h1l1.33,2h-1zm2,3h1l1.33,2h-1zm6.6,7h1l12.8,16h-1zm-6.1-6h1l7,7h-1zm12,15h1l13,13h-1zm-5.83-9h1l6.67,10h-1zm-304.55-235h1l.75,1h-1zm2.88-.25v1l-2-1v-1zm9.88,7.25h1l.75,1h-1zm3.82-3h1l.6,1h-1zm1.2,2h1l.6,1h-1zm1.2,2h1l.6,1h-1zm4.2,7h1l.6,1h-1zm-5.3-11v1l-1,0v-1zm0,.25v1l-1-.5v-1zm11.5,6.75h1l1,1h-1zm4,4h1l2,2h-1zm6,6h1l1,1h-1zm-5.5-11v1l-2,0v-1zm12.2,10h1l.8,1h-1zm.4-7h1l.8,1h-1zm1.4,0v1l-1,0v-1zm6.2,5h1l.8,1h-1zm8.8,11h1l.8,1h-1zm-15-15.75v1l-1-.5v-1zm17.8,14.75h1l.8,1h-1zm2.4,3h1l.8,1h-1zm1.6,2h1l1.6,2h-1zm-12.8-15.25v1l-1-.5v-1zm13,9.25h1l.67,1h-1zm-6-8v1l-1,0v-1zm9.33,7h1l.67,1h-1zm6.42-1h1l.5,1h-1zm6,12h1l.5,1h-1zm-8.75-13.17v1l-1-.33v-1zm4,1.34v1l-2-.67v-1zm10.1,11.83h1l.6,1h-1zm-9.1-11.25v1l-2-1v-1zm9.7,5.25h1l.6,1h-1zm1.2,2h1l.6,1h-1zm1.2,2h1l.6,1h-1zm1.2,2h1l.6,1h-1zm-2.3-5.75v1l-2-1v-1zm8.75,7.75h1l.5,1h-1zm-8.75-8v1l-1,0v-1zm13.75,9h1l.5,1h-1zm6,12h1l.5,1h-1zm-11.75-19.75v1l-2-1v-1zm10.25,7.75h1l.5,1h-1zm6,12h1l.5,1h-1zm3,0h1l.5,1h-1zm-7.75-12h1l1,1h-1zm12.75,13h1l1,2h-1zm-6.25-8.75v1l-2-1v-1zm10,6.75h1l.67,1h-1zm2,3h1l1.33,2h-1zm2,3h1l1.33,2h-1zm2,3h1l.67,1h-1zm-8-11.75v1l-1-.5v-1zm12,11.75h1l.67,1h-1zm2,0h1l2,3h-1zm2.67,4h1l2.67,4h-1zm3.33,5h1l.67,1h-1zm2.67,4h1l1.33,2h-1zm-2.67-10h1l.67,1h-1zm8.67,13h1l1.33,2h-1zm-12.67-16.75v1l-2-1v-1zm9.86,6.75h1l.57,1h-1zm3.43,6h1l.57,1h-1zm1.14,2h1l.57,1h-1zm1.14,2h1l.57,1h-1zm1.14,2h1l4.57,8h-1zm-2.04-8h1l1.33,2h-1zm8,12h1l1.33,2h-1zm-12.17-16h1l5,5h-1zm10.17,10h1l8,12h-1zm-6.17-6h1l7,7h-1zm12.21,9h1l.57,1h-1zm5.72,10h1l.57,1h-1zm-4.43-9.75v1l-7-3.5v-1zm8.71,12.75h1l1.14,2h-1zm1.72,3h1l.57,1h-1zm1.14,2h1l.57,1h-1zm1.14,2h1l4.57,8h-1zm-14.21-20h1l1,1h-1zm17.5,20h1l2,3h-1zm3.33,5h1l.67,1h-1zm1.34,2h1l2.67,4h-1zm-14.17-19h1l2,2h-1zm13.25,10h1l.5,1h-1zm4.5,9h1l1,2h-1zm-8.25-12v1l-1-.67v-1zm5,3.33v1l-2-1.33v-1zm4.75,5.67h1l.5,1h-1zm1,2h1l.5,1h-1zm2.5,5h1l.5,1h-1zm-9.75-13h1l7,7h-1zm12.25,12h1l3.5,7h-1zm8,16h1l.5,1h-1zm-14.25-22h1l2,2h-1zm5,5h1l2,2h-1zm7.25,10h1l.5,1h-1zm4.5,9h1l1,2h-1zm4,8h1l1,2h-1zm-14.58-26h1l.67,1h-1zm1.33,2h1l.67,1h-1zm3.33,5h1l2,3h-1zm7.42,8h1l.5,1h-1zm1,2h1l.5,1h-1zm2.5,5h1l.5,1h-1zm5,10h1l1,2h-1zm-14.75-23h1l7,7h-1zm12.25,12h1l5.5,11h-1zm8.5,17h1l1,2h-1zm-14.75-23h1l2,2h-1zm5,5h1l2,2h-1zm7.2,10h1l1.2,2h-1zm2.4,4h1l.6,1h-1zm1.8,3h1l2.4,4h-1zm3,5h1l2.4,4h-1zm-13.23-21h1l.67,1h-1zm1.33,2h1l.67,1h-1zm4,6h1l1.33,2h-1zm6.67,7h1l1.33,2h-1zm5.33,8h1l2,3h-1zm6,9h1l1.33,2h-1zm-17.5-23h1l7,7h-1zm12.17,12h1l12.67,19h-1zm-6.17-6h1l7,7h-1zm12.1,15h1l4,5h-1zm10.4,13h1l2.4,3h-1zm-16.33-22h1l6.67,10h-1zm12,15h1l1.33,2h-1zm5.33,8h1l2,3h-1zm6,9h1l1.33,2h-1zm-17.5-23h1l7,7h-1zm12.1,15h1l2.4,3h-1zm8.8,11h1l4,5h-1zm-14.73-20h1l1.33,2h-1zm5.33,8h1l1.33,2h-1zm6.6,10h1l8.8,11h-1zm9.6,12h1l3.2,4h-1zm-3.6-6h1l4.8,6h-1zm6.4,8h1l1.6,2h-1zm4,5h1l2.4,3h-1zm-4.4-4h1l12.8,16h-1zm6,6h1l12.8,16h-1zm6,9h1l12.8,16h-1zm9.02,9h1l9.75,13h-1zm-9.12-9h1l10,10h-1zm15.2,15h1l9.6,16h-1zm-6.2-6h1l7,7h-1zm-303-234h1l1,1h-1zm2,5h1l2,2h-1zm-.5-4.75v1l-2-1v-1zm10.2,6.75h1l.8,1h-1zm-10.2-7v1l-1,0v-1zm21.5,14h1l2,2h-1zm-4.9-11h1l.8,1h-1zm1.4,0v1l-1,0v-1zm9.4,9h1l.8,1h-1zm-9.4-8.75v1l-1-.5v-1zm22.1,16.75h1l.6,1h-1zm-9.1-14v1l-1,0v-1zm12.7,13h1l.6,1h-1zm-5.7-10.25v1l-2-1v-1zm9.3,6.25h1l.6,1h-1zm1.2,2h1l4.8,8h-1zm4.2,0h1l.6,1h-1zm-5.7-6.75v1l-2-1v-1zm9.3,5.75h1l.6,1h-1zm7.2,12h1l.6,1h-1zm-1.8-13h1l.6,1h-1zm1.2,2h1l.6,1h-1zm1.2,2h1l.6,1h-1zm4.8,8h1l.6,1h-1zm-5.9-12v1l-3,0v-1zm1,.75v1l-2-1v-1zm9.67,2.25h1l.67,1h-1zm1.33,2h1l.67,1h-1zm2.67,4h1l.67,1h-1zm8,12h1l.67,1h-1zm-10.67-18v1l-1,0v-1zm6.67,6h1l.67,1h-1zm8,12h1l.67,1h-1zm-14.67-17.75v1l-1-.5v-1zm10.67,5.75h1l.67,1h-1zm8,12h1l1.33,2h-1zm2,3h1l2.67,4h-1zm-8.67-14.75v1l-1-.5v-1zm13.4,13.75h1l.8,1h-1zm-12.4-13.25v1l-2-1v-1zm3,1.5v1l-2-1v-1zm6.67,.75h1l.67,1h-1zm1.33,2h1l.67,1h-1zm6.67,10h1l.67,1h-1zm-6.67-12v1l-2,0v-1zm10.67,12h1l.67,1h-1zm-9.67-11.25v1l-2-1v-1zm13.14,11.25h1l.57,1h-1zm6.86,12h1l.57,1h-1zm-4.33-12h1l2,3h-1zm9.33,14h1l1.33,2h-1zm-10.5-15h1l2,2h-1zm8.5,6h1l.67,1h-1zm1.33,2h1l.67,1h-1zm1.34,2h1l2.67,4h-1zm3.33,5h1l.67,1h-1zm2.67,4h1l.67,1h-1zm-14.67-17.75v1l-1-.5v-1zm2,1v1l-1-.5v-1zm9.33,5.75h1l.67,1h-1zm8,12h1l.67,1h-1zm-11.33-14.75v1l-2-1v-1zm11.79,4.75h1l3.43,8h-1zm3.85,9h1l.43,1h-1zm.86,2h1l1.29,3h-1zm-9.5-12.83v1l-2-.67v-1zm6,2v1l-5-1.67v-1zm8.25,12.83h1l1,2h-1zm-9.75-13h1l2,2h-1zm12.25,9h1l.5,1h-1zm1,2h1l.5,1h-1zm2.5,5h1l1,2h-1zm-5.25-8.25v1l-1-.5v-1zm3,1.5v1l-2-1v-1zm7.25,10.75h1l1,2h-1zm6,12h1l1,2h-1zm-14.75-23h1l2,2h-1zm16.57,19h1l.43,1h-1zm2.14,5h1l.43,1h-1zm.86,2h1l.43,1h-1zm.86,2h1l.43,1h-1zm.86,2h1l.43,1h-1zm-9.79-21.75v1l-2-1v-1zm10.25,13.75h1l1,2h-1zm5,10h1l1,2h-1zm-2.5-11h1l3.5,7h-1zm4,8h1l.5,1h-1zm2.5,5h1l1,2h-1zm-7.75-14h1l2,2h-1zm9.75,12h1l1,2h-1zm3,6h1l1,2h-1zm-11.75-17h1l1,1h-1zm15.5,17h1l2,3h-1zm8,12h1l1.33,2h-1zm-15.5-21h1l2,2h-1zm11.5,12h1l2,3h-1zm7.33,11h1l.67,1h-1zm1.34,2h1l2.67,4h-1zm-4-9h1l3.33,5h-1zm4,6h1l1.33,2h-1zm2.66,4h1l.67,1h-1zm2,3h1l.67,1h-1zm1.34,2h1l2.67,4h-1zm-12.17-17h1l3,3h-1zm8.83,12h1l.67,1h-1zm2,3h1l.67,1h-1zm1.34,2h1l2.67,4h-1zm3.33,5h1l.67,1h-1zm3.33,5h1l2,3h-1zm-16.66-25h1l3.33,5h-1zm4,6h1l1.33,2h-1zm8,9h1l1.33,2h-1zm8.66,13h1l.67,1h-1zm2.67,4h1l1.33,2h-1zm-16.5-22h1l6,6h-1zm11.17,11h1l1.33,2h-1zm6.66,10h1l.67,1h-1zm2,3h1l.67,1h-1zm1.34,2h1l2.67,4h-1zm-16.17-21h1l7,7h-1zm12.83,16h1l.67,1h-1zm2,3h1l.67,1h-1zm1.34,2h1l2.67,4h-1zm3.33,5h1l.67,1h-1zm4,6h1l1.33,2h-1zm-17.33-26h1l1.33,2h-1zm13.33,17h1l4,6h-1zm5.33,8h1l.67,1h-1zm4.67,7h1l1.33,2h-1zm-16.5-22h1l5,5h-1zm11.9,15h1l1.6,2h-1zm3.2,4h1l8.8,11h-1zm-8.6-12h1l4,6h-1zm13.75,13h1l.5,1h-1zm2.5,5h1l1,2h-1zm3,6h1l1.5,3h-1zm2,4h1l2,4h-1zm-13.25-19.33v1l-2-1.33v-1zm2,1.33v1l-1-.67v-1zm5,3.33v1l-2-1.33v-1zm4.7,8.67h1l1.2,2h-1zm4.2,7h1l1.2,2h-1zm4.2,7h1l1.2,2h-1zm-14.43-23h1l1.33,2h-1zm5.33,8h1l1.33,2h-1zm6.7,10h1l1.2,2h-1zm4.2,7h1l1.2,2h-1zm4.2,7h1l1.2,2h-1zm-14.43-23h1l1.33,2h-1zm5.33,8h1l1.33,2h-1zm6.75,7h1l3.5,7h-1zm4,8h1l.5,1h-1zm1.5,3h1l1,2h-1zm3,6h1l1,2h-1zm-14.75-23h1l7,7h-1zm12.2,15h1l9.6,16h-1zm-6.03-9h1l6.67,10h-1zm12.03,18h1l9.6,16h-1zm-6.03-9h1l6.67,10h-1zm11.95,18h1l2.25,3h-1zm4.5,6h1l.75,1h-1zm3,4h1l2.25,3h-1zm-13.45-19h1l6.67,10h-1zm12.03,15h1l2.4,4h-1zm3,5h1l6.6,11h-1zm-9.2-11h1l7,7h-1zm12.1,15h1l12.8,16h-1zm-5.93-9h1l6.67,10h-1zm11.83,18h1l13,13h-1zm-5.83-9h1l6.67,10h-1zm-296.29-226h1l.75,1h-1zm2.24,3h1l1.5,2h-1zm2.26,3h1l1.5,2h-1zm-8.26-6h1l.75,1h-1zm13.5,5h1l.75,1h-1zm-11.12-10v1l-1,0v-1zm14.5,8h1l.6,1h-1zm-8.5-8v1l-1,0v-1zm11.88,6h1l.75,1h-1zm1.5,2h1l.75,1h-1zm2.24,3h1l1.5,2h-1zm2.26,3h1l1.5,2h-1zm3.82-1h1l.6,1h-1zm-9.7-10v1l-1,0v-1zm13.5,7h1l1,1h-1zm4,4h1l2,2h-1zm-11.5-10.25v1l-1-.5v-1zm11.2,4.25h1l.8,1h-1zm9.6,12h1l.8,1h-1zm-11.8-14v1l-1,0v-1zm7.4,1h1l.8,1h-1zm8.8,11h1l.8,1h-1zm-2-7h1l.8,1h-1zm1.6,2h1l1.6,2h-1zm4,5h1l.8,1h-1zm-8.8-10.25v1l-2-1v-1zm12.33,8.25h1l.67,1h-1zm-8.33-7v1l-1,0v-1zm11.2,5h1l1.6,2h-1zm2.4,3h1l2.4,3h-1zm3.2,4h1l5.6,7h-1zm.2-7h1l.67,1h-1zm8,12h1l.67,1h-1zm-13-14v1l-1,0v-1zm19.2,15h1l.8,1h-1zm1.6,2h1l1.6,2h-1zm-12.8-15.25v1l-1-.5v-1zm13.67,10.25h1l.67,1h-1zm-6.67-9v1l-1,0v-1zm10.67,9h1l.67,1h-1zm8,12h1l.67,1h-1zm-1.42-12h1l1,2h-1zm6,12h1l1,2h-1zm-8.25-15.5v1l-1-.33v-1zm7.9,5.5h1l1.2,2h-1zm2.4,4h1l.6,1h-1zm1.2,2h1l.6,1h-1zm1.2,2h1l3.6,6h-1zm2.05-6h1l.5,1h-1zm5.5,11h1l.5,1h-1zm-11.25-15v1l-1,0v-1zm10.75,5h1l.5,1h-1zm5,10h1l.5,1h-1zm.46-8h1l.43,1h-1zm3.86,9h1l.43,1h-1zm2.14,5h1l.43,1h-1zm.86,2h1l.43,1h-1zm.86,2h1l.43,1h-1zm.86,2h1l.43,1h-1zm-11.79-22.75v1l-2-1v-1zm12.25,14.75h1l1,2h-1zm-8.75-12h1l2,2h-1zm14.75,15h1l1,2h-1zm-6.25-8.75v1l-2-1v-1zm11.33,8.75h1l.67,1h-1zm1.34,2h1l8.67,13h-1zm6.62,5h1l.57,1h-1zm5.71,10h1l1.14,2h-1zm-13-19.75v1l-2-1v-1zm11.33,11.75h1l.67,1h-1zm6,9h1l.67,1h-1zm1.34,2h1l2.67,4h-1zm-4-9h1l2,3h-1zm9.33,14h1l1.33,2h-1zm-11.5-16h1l3,3h-1zm9.5,7h1l.67,1h-1zm1.33,2h1l.67,1h-1zm1.34,2h1l2.67,4h-1zm3.33,5h1l.67,1h-1zm3.33,5h1l.67,1h-1zm-15.33-18.75v1l-1-.5v-1zm2,1v1l-1-.5v-1zm17.33,20.75h1l.67,1h-1zm-12.83-17h1l3,3h-1zm16.83,20h1l.67,1h-1zm2,3h1l.67,1h-1zm1.34,2h1l2.67,4h-1zm-4-9h1l.67,1h-1zm1.33,2h1l.67,1h-1zm4,6h1l2,3h-1zm-6.5-9h1l2,2h-1zm7.17,7h1l8,12h-1zm-6.17-6h1l1,1h-1zm4,4h1l3,3h-1zm13.5,16h1l2,3h-1zm-11.5-14h1l2,2h-1zm15.25,12h1l2.5,5h-1zm6.5,13h1l3,6h-1zm-5.25-12.67v1l-4-2.67v-1zm4.75,8.67h1l8.5,17h-1zm-6.08-9h1l6.67,10h-1zm12.58,16h1l.5,1h-1zm1,2h1l1,2h-1zm4,8h1l1,2h-1zm3,6h1l1,2h-1zm-14.75-23h1l3,3h-1zm12.2,15h1l2.4,4h-1zm3,5h1l2.4,4h-1zm3.6,6h1l.6,1h-1zm1.8,3h1l1.2,2h-1zm-11.77-19h1l4,6h-1zm9.92,12h1l6,12h-1zm6.5,13h1l.5,1h-1zm-13.25-20h1l6,6h-1zm12.8,16h1l4.8,8h-1zm7.8,13h1l.6,1h-1zm-13.77-22h1l5.33,8h-1zm11.42,14h1l3.5,7h-1zm6.5,13h1l.5,1h-1zm1,2h1l1,2h-1zm-12.75-20h1l6,6h-1zm11.1,14h1l12.8,16h-1zm-5.93-9h1l6.67,10h-1zm11.93,18h1l2.4,3h-1zm10.4,13h1l2.4,3h-1zm-16.33-22h1l6.67,10h-1zm11.93,18h1l2.4,3h-1zm10.4,13h1l2.4,3h-1zm-16.33-22h1l2,3h-1zm5.33,8h1l1.33,2h-1zm6.6,7h1l2.4,3h-1zm4,5h1l8.8,11h-1zm-10.1-11h1l7,7h-1zm12.1,15h1l2.4,3h-1zm4,5h1l8.8,11h-1zm2,4h1l2.4,3h-1zm4,5h1l8.8,11h-1zm-9.93-14h1l1.33,2h-1zm5.33,8h1l1.33,2h-1zm6.6,10h1l2.4,3h-1zm4,5h1l8.8,11h-1zm-9.93-14h1l1.33,2h-1zm5.33,8h1l1.33,2h-1zm6.5,10h1l13,13h-1zm-5.83-9h1l1.33,2h-1zm5.33,8h1l1.33,2h-1zm6.5,10h1l13,13h-1zm-5.83-9h1l6.67,10h-1zm11.93,15h1l12.8,16h-1zm-6.1-6h1l7,7h-1zm-293.5-226h1l.8,1h-1zm-10.5-6h1l1,1h-1zm8,8h1l1,1h-1zm-3.5-10v1l-1,0v-1zm7.5,5h1l2,2h-1zm14,8h1l1,1h-1zm-13.5-10v1l-1,0v-1zm16,8h1l.8,1h-1zm-10-8v1l-1,0v-1zm11.5,5h1l2,2h-1zm12.9,9h1l.8,1h-1zm-12.4-11v1l-1,0v-1zm11.2,2h1l.8,1h-1zm1.6,2h1l1.6,2h-1zm-5.8-4v1l-2,0v-1zm13.88,6h1l.75,1h-1zm-7.88-5.17v1l-2-.67v-1zm12.3,3.17h1l.6,1h-1zm6.6,11h1l.6,1h-1zm5.4-1h1l.6,1h-1zm-7.3-11v1l-3,0v-1zm10.9,10h1l.6,1h-1zm4.8-2h1l.6,1h-1zm-4.7-5v1l-1,0v-1zm9.75,4h1l.5,1h-1zm6,12h1l.5,1h-1zm-2.05-13h1l.6,1h-1zm1.2,2h1l.6,1h-1zm1.2,2h1l.6,1h-1zm4.8,8h1l.6,1h-1zm-5.9-11.75v1l-2-1v-1zm10.1,11.75h1l.6,1h-1zm-9.1-11.25v1l-2-1v-1zm12.33,6.25h1l.67,1h-1zm1.34,2h1l2.67,4h-1zm3.33,5h1l.67,1h-1zm4,0h1l.67,1h-1zm-8-9.75v1l-2-1v-1zm8.6,4.75h1l.8,1h-1zm4.8,6h1l1.6,2h-1zm-3.4-5.75v1l-2-1v-1zm7.8,6.75h1l1.6,2h-1zm-7.8-6.75v1l-1-.5v-1zm10.67,2.75h1l.67,1h-1zm1.33,2h1l.67,1h-1zm2.67,4h1l1.33,2h-1zm-2.67-6v1l-1,0v-1zm5.33,7h1l.67,1h-1zm8.67,13h1l.67,1h-1zm-15.5-20h1l1,1h-1zm12.17,9h1l.67,1h-1zm1.33,2h1l.67,1h-1zm7.33,11h1l.67,1h-1zm-7.33-12.75v1l-3-1.5v-1zm4.67,2.75h1l.67,1h-1zm8.66,13h1l.67,1h-1zm-7.33-12.75v1l-7-3.5v-1zm4.67,2.75h1l2,3h-1zm9.33,14h1l1.33,2h-1zm-8-13.75v1l-7-3.5v-1zm7.75,5.75h1l6.5,13h-1zm7,14h1l.5,1h-1zm-5.75-13.67v1l-10-6.67v-1zm5.21,3.67h1l.86,2h-1zm5.15,12h1l.43,1h-1zm3.43,8h1l.43,1h-1zm-13.79-23.75v1l-1-.5v-1zm2,1v1l-1-.5v-1zm8.75,7.75h1l6.5,13h-1zm7,14h1l.5,1h-1zm-9.25-16h1l3,3h-1zm12.75,17h1l1,2h-1zm3.5,7h1l.5,1h-1zm-14.25-22h1l2,2h-1zm15.75,19h1l.5,1h-1zm3,6h1l1,2h-1zm2-2h1l1.5,3h-1zm2,4h1l5,10h-1zm-8.75-13h1l2,2h-1zm10.25,10h1l1,2h-1zm1.5,3h1l8,16h-1zm-6.75-8h1l6,6h-1zm11.25,11h1l.5,1h-1zm2.5,5h1l1,2h-1zm5,10h1l1,2h-1zm-13.75-21h1l7,7h-1zm13.5,14h1l.67,1h-1zm1.33,2h1l10,15h-1zm-8.83-10h1l5,5h-1zm12.17,15h1l12.67,19h-1zm-4.67-7h1l.67,1h-1zm1.33,2h1l4,6h-1zm9.34,11h1l1.33,2h-1zm5.33,8h1l2,3h-1zm-11.5-14h1l7,7h-1zm12.17,15h1l1.33,2h-1zm8.66,13h1l4,6h-1zm-14.66-22h1l1.33,2h-1zm5.33,8h1l1.33,2h-1zm8.2,12h1l.8,1h-1zm1.6,2h1l3.2,4h-1zm4,5h1l4.8,6h-1zm-13.13-18h1l1.33,2h-1zm12.66,16h1l5.33,8h-1zm6,9h1l5.33,8h-1zm-10.83-14h1l4,4h-1zm10.9,14h1l12,15h-1zm-6.07-9h1l5.33,8h-1zm12.07,18h1l12,15h-1zm5.2,8h1l2.4,3h-1zm5.6,7h1l.8,1h-1zm1.6,2h1l5.6,7h-1zm-12.47-17h1l6,9h-1zm12.87,19h1l.8,1h-1zm1.6,2h1l3.2,4h-1zm4,5h1l1.6,2h-1zm3.2,4h1l2.4,3h-1zm-16.33-22h1l1.33,2h-1zm14.95,18h1l1.5,2h-1zm7.5,10h1l2.25,3h-1zm-14.62-17h1l8,8h-1zm13.2,13h1l2.4,4h-1zm3,5h1l2.4,4h-1zm3.6,6h1l.6,1h-1zm1.8,3h1l1.2,2h-1zm-14.6-20h1l7,7h-1zm12.2,15h1l2.4,4h-1zm3,5h1l2.4,4h-1zm3.6,6h1l.6,1h-1zm1.8,3h1l1.2,2h-1zm-14.43-23h1l6.67,10h-1zm12.03,18h1l2.4,4h-1zm3,5h1l2.4,4h-1zm3.6,6h1l.6,1h-1zm1.8,3h1l1.2,2h-1zm-14.43-23h1l6.67,10h-1zm12.03,18h1l2.4,4h-1zm3,5h1l2.4,4h-1zm3.6,6h1l.6,1h-1zm1.8,3h1l1.2,2h-1zm-14.43-23h1l6.67,10h-1zm12.03,18h1l2.4,4h-1zm3,5h1l6.6,11h-1zm-9.03-14h1l6.67,10h-1zm11.95,18h1l9.75,13h-1zm-5.95-9h1l6.67,10h-1zm-298.55-229h1l.75,1h-1zm-4.62,4h1l1,1h-1zm14.38,4h1l.75,1h-1zm-7.88-8.75v1l-1-.5v-1zm7,1.75v1l-1,0v-1zm7.62,0h1l.75,1h-1zm7.5,10h1l.75,1h-1zm-6.12-10v1l-1,0v-1zm4.7,0h1l1.2,2h-1zm4.2,7h1l.6,1h-1zm-8.9-7v1l-1,0v-1zm6,0v1l-1,0v-1zm6.12,5h1l.75,1h-1zm-6.12-4.75v1l-1-.5v-1zm18.12,12.75h1l.75,1h-1zm-7.12-10v1l-2,0v-1zm11.2,7h1l.8,1h-1zm-6.2-7v1l-1,0v-1zm10.6,5h1l.8,1h-1zm3.6-3h1l3.2,4h-1zm9.6,12h1l.8,1h-1zm2.8-1h1l.8,1h-1zm-10.6-11.75v1l-2-1v-1zm3,1.5v1l-1-.5v-1zm7.2,2.25h1l.8,1h-1zm1.6,2h1l1.6,2h-1zm4,5h1l.8,1h-1zm6,0h1l.8,1h-1zm-10.8-9v1l-1,0v-1zm14.4,9h1l.8,1h-1zm4,5h1l1.6,2h-1zm2.4,3h1l1.6,2h-1zm-1.13-8h1l.67,1h-1zm6,9h1l.67,1h-1zm-11.67-15v1l-1,0v-1zm9.2,5h1l1.6,2h-1zm8,10h1l.8,1h-1zm-1.53-9h1l.67,1h-1zm6.66,10h1l.67,1h-1zm-12.33-13v1l-1,0v-1zm12.75,3h1l9.5,19h-1zm1.25,.17v1l-2-.67v-1zm9.75,12.83h1l.5,1h-1zm-8.75-12.25v1l-2-1v-1zm2,1v1l-1-.5v-1zm11.3,10.25h1l.6,1h-1zm1.2,2h1l4.8,8h-1zm4.75,2h1l.5,1h-1zm-6.25-8.75v1l-2-1v-1zm9.25,5.75h1l.5,1h-1zm1,2h1l8,16h-1zm-2.25-3.75v1l-1-.5v-1zm9.25,8.75h1l1,2h-1zm6,12h1l1,2h-1zm-2-13h1l.5,1h-1zm1,2h1l8,16h-1zm-2.25-3.75v1l-1-.5v-1zm9.33,10.75h1l.67,1h-1zm1.34,2h1l8.67,13h-1zm7.33,5h1l1.33,2h-1zm-8-9.75v1l-2-1v-1zm11.33,11.75h1l.67,1h-1zm6,9h1l.67,1h-1zm1.34,2h1l2.67,4h-1zm-4-9h1l3.33,5h-1zm4,6h1l1.33,2h-1zm2.66,4h1l.67,1h-1zm2.67,4h1l2,3h-1zm-10.5-15h1l2,2h-1zm7.17,7h1l.67,1h-1zm1.33,2h1l.67,1h-1zm3.33,5h1l4.67,7h-1zm-10.83-13h1l2,2h-1zm5,5h1l2,2h-1zm9.83,11h1l.67,1h-1zm2.67,4h1l4,6h-1zm4.67,7h1l1.33,2h-1zm-16.17-21h1l1,1h-1zm12.83,13h1l.67,1h-1zm2,3h1l.67,1h-1zm1.34,2h1l2.67,4h-1zm3.33,5h1l.67,1h-1zm4,6h1l1.33,2h-1zm-5.33-11h1l1.33,2h-1zm11.33,17h1l1.33,2h-1zm-16.5-22h1l6,6h-1zm16.7,21h1l.8,1h-1zm1.6,2h1l1.6,2h-1zm3.2,4h1l.8,1h-1zm-16.33-22h1l1.33,2h-1zm12,15h1l.67,1h-1zm1.33,2h1l.67,1h-1zm6,9h1l.67,1h-1zm1.33,2h1l4,6h-1zm-9.83-14h1l2,2h-1zm10.8,11h1l1.8,3h-1zm2.4,4h1l1.2,2h-1zm5.4,9h1l1.2,2h-1zm-17.6-23h1l1,1h-1zm4,4h1l5,5h-1zm11.25,11h1l3.5,7h-1zm4,8h1l.5,1h-1zm1.5,3h1l1,2h-1zm3,6h1l1,2h-1zm-13.75-22h1l6,6h-1zm11.25,14h1l3.5,7h-1zm4,8h1l.5,1h-1zm1.5,3h1l1,2h-1zm-11.58-20h1l6.67,10h-1zm12.03,18h1l9,15h-1zm-6.03-9h1l6.67,10h-1zm12.03,18h1l9,15h-1zm-6.03-9h1l6.67,10h-1zm12.03,18h1l9,15h-1zm-6.03-9h1l6.67,10h-1zm12.03,18h1l9.6,16h-1zm-6.03-9h1l6.67,10h-1zm12.03,18h1l5.4,9h-1zm-6.03-9h1l6.67,10h-1zm11.93,18h1l2.4,3h-1zm3.2,4h1l9.6,12h-1zm-9.13-13h1l6.67,10h-1zm11.83,18h1l13,13h-1zm-5.83-9h1l1.33,2h-1zm2.66,4h1l.67,1h-1zm1.34,2h1l2.67,4h-1zm7.83,12h1l13,13h-1zm-5.83-9h1l3.33,5h-1zm4,6h1l2.67,4h-1zm7.83,12h1l13,13h-1zm-5.83-9h1l6.67,10h-1zm11.83,18h1l13,13h-1zm6,9h1l13,13h-1zm-5.83-9h1l6.67,10h-1zm11.83,18h1l13,13h-1zm-5.83-9h1l6.67,10h-1zm-294.67-224.62v1l-1-.75v-1zm-11.38-6.38h1l3.75,5h-1zm4.5,6h1l1.5,2h-1zm-3.12-5.75v1l-1-.5v-1zm11.5,3.75h1l1,1h-1zm8,8h1l1,1h-1zm2-4h1l2,2h-1zm-7.5-5v1l-1,0v-1zm20.5,12h1l1,1h-1zm-14.5-12v1l-1,0v-1zm9.5,1h1l1,1h-1zm7,7h1l5,5h-1zm3.7-1h1l.8,1h-1zm-7.2-7v1l-1,0v-1zm11.6,5h1l.8,1h-1zm3.6-3h1l1.6,2h-1zm2.4,3h1l4.8,6h-1zm5.6,7h1l.8,1h-1zm-2.8-11h1l.8,1h-1zm-4.4-1v1l-1,0v-1zm16.3,6h1l.6,1h-1zm1.2,2h1l1.2,2h-1zm1.8,3h1l.6,1h-1zm-11.3-11v1l-2,0v-1zm13.7,8h1l.6,1h-1zm5.4,9h1l.6,1h-1zm-11.1-15.75v1l-2-1v-1zm10.5,4.75h1l.6,1h-1zm5.4-1h1l.6,1h-1zm6,10h1l.6,1h-1zm-10.9-12v1l-1,0v-1zm10.25,1h1l.5,1h-1zm5.5,11h1l.5,1h-1zm5.35,0h1l.6,1h-1zm-9.1-11.25v1l-1-.5v-1zm3,1.5v1l-2-1v-1zm11.25,9.75h1l.5,1h-1zm5.05,0h1l.6,1h-1zm-6.3-7.75v1l-2-1v-1zm12.67,7.75h1l.67,1h-1zm4.66,7h1l.67,1h-1zm1.34,2h1l2.67,4h-1zm-1.34-8h1l.67,1h-1zm8,12h1l.67,1h-1zm-12.33-17.25v1l-1-.5v-1zm10.33,8.25h1l.67,1h-1zm6.67,10h1l.67,1h-1zm-.67-7h1l.67,1h-1zm6.67,10h1l1.33,2h-1zm-12-15.75v1l-2-1v-1zm10,6.75h1l2,3h-1zm2.67,4h1l2.67,4h-1zm3.33,5h1l.67,1h-1zm2.67,4h1l1.33,2h-1zm-2.67-10h1l.67,1h-1zm8.67,13h1l1.33,2h-1zm-12.67-16.75v1l-2-1v-1zm14.2,14.75h1l.8,1h-1zm1.6,2h1l1.6,2h-1zm3.2,4h1l.8,1h-1zm-14.5-17h1l2,2h-1zm10.17,7h1l1.33,2h-1zm8,12h1l1.33,2h-1zm-6.67-11.75v1l-4-2v-1zm4.6,5.75h1l1.6,2h-1zm2.4,3h1l1.6,2h-1zm5.6,7h1l2.4,3h-1zm-14.1-16h1l7,7h-1zm15.25,9h1l3.5,7h-1zm4,8h1l.5,1h-1zm2.5,5h1l.5,1h-1zm-14.25-15.83v1l-1-.33v-1zm2,.66v1l-1-.33v-1zm7,2.34v1l-1-.33v-1zm4.75,5.83h1l.5,1h-1zm1,2h1l.5,1h-1zm1.5,3h1l1,2h-1zm3,6h1l1.5,3h-1zm2,4h1l2,4h-1zm-13.75-21h1l1,1h-1zm4,4h1l3,3h-1zm10.75,13h1l1.5,3h-1zm2,4h1l5,10h-1zm-10.75-15h1l2,2h-1zm14.75,17h1l1,2h-1zm3,6h1l1,2h-1zm.5-5h1l6.5,13h-1zm7,14h1l.5,1h-1zm-11.25-18h1l5,5h-1zm10.2,13h1l1.2,2h-1zm2.4,4h1l.6,1h-1zm1.8,3h1l1.2,2h-1zm4.2,7h1l1.2,2h-1zm-14.43-23h1l2,3h-1zm5.33,8h1l1.33,2h-1zm6.75,7h1l.5,1h-1zm2.5,5h1l1,2h-1zm3,6h1l1,2h-1zm-11.75-17h1l7,7h-1zm12.2,15h1l2.4,4h-1zm3,5h1l2.4,4h-1zm3,5h1l3.6,6h-1zm-12.03-19h1l1.33,2h-1zm5.33,8h1l1.33,2h-1zm7.33,8h1l5.33,8h-1zm6,9h1l5.33,8h-1zm-12.83-16h1l6,6h-1zm12.9,16h1l12,15h-1zm-6.07-9h1l5.33,8h-1zm12.07,18h1l12,15h-1zm-6.07-9h1l5.33,8h-1zm12.07,18h1l1.6,2h-1zm3.2,4h1l8.8,11h-1zm-9.27-13h1l4.67,7h-1zm11.27,17h1l2.4,3h-1zm4,5h1l8.8,11h-1zm-9.27-13h1l.67,1h-1zm4.67,7h1l1.33,2h-1zm6.6,10h1l2.4,3h-1zm3.2,4h1l9.6,12h-1zm-9.13-13h1l1.33,2h-1zm5.33,8h1l1.33,2h-1zm6.6,10h1l12.8,16h-1zm-5.93-9h1l1.33,2h-1zm2.66,4h1l.67,1h-1zm1.34,2h1l2.67,4h-1zm7.93,12h1l12.8,16h-1zm-5.93-9h1l3.33,5h-1zm4,6h1l2.67,4h-1zm7.93,12h1l12.8,16h-1zm-5.93-9h1l6.67,10h-1zm11.93,18h1l2.4,3h-1zm9.6,12h1l.8,1h-1zm1.6,2h1l1.6,2h-1zm-17.13-23h1l6.67,10h-1zm15.03,18h1l9.6,16h-1zm-9.2-9h1l10,10h-1zm15.12,21h1l9.75,13h-1zm-5.87-12h1l6.5,13h-1zm11.87,21h1l9.75,13h-1zm-5.95-9h1l6.67,10h-1zm11.95,18h1l9.75,13h-1zm-5.95-9h1l6.67,10h-1zm11.95,18h1l9.75,13h-1zm-5.95-9h1l6.67,10h-1zm-302.67-223.88v1l-1-.75v-1zm7,5.26v1l-3-2.25v-1zm-8-9.38v1l-1,0v-1zm11.5,5h1l1,1h-1zm-6.5-5v1l-1,0v-1zm11.38,1h1l.75,1h-1zm6.74,9h1l.75,1h-1zm-3.12-10v1l-1,0v-1zm15.12,2h1l.75,1h-1zm6.76,9h1l.75,1h-1zm-8.88-11v1l-1,0v-1zm6,0v1l-1,0v-1zm15.62,4h1l.75,1h-1zm-4.62-4v1l-1,0v-1zm9.5,2h1l1,1h-1zm8,8h1l1,1h-1zm-3.9-10h1l1.6,2h-1zm2.4,3h1l1.6,2h-1zm4.8,6h1l.8,1h-1zm-5.8-9v1l-2,0v-1zm10.2,7h1l.8,1h-1zm-9.2-7v1l-2,0v-1zm14.4,6h1l.8,1h-1zm-4.4-6v1l-1,0v-1zm10.4,6h1l.8,1h-1zm2.8-1h1l1.6,2h-1zm2.4,3h1l4.8,6h-1zm5.6,7h1l.8,1h-1zm-1.2-9h1l.8,1h-1zm7.2,9h1l.8,1h-1zm-13.2-12v1l-1,0v-1zm9.6,3h1l1.6,2h-1zm2.4,3h1l1.6,2h-1zm4.8,6h1l.8,1h-1zm-5.8-8.75v1l-2-1v-1zm6.2,1.75h1l.8,1h-1zm7.2,9h1l.8,1h-1zm-11.4-11v1l-3,0v-1zm8.6,3h1l1.6,2h-1zm2.4,3h1l1.6,2h-1zm4.8,6h1l1.6,2h-1zm-5.8-8.75v1l-3-1.5v-1zm7.7,2.75h1l2.4,4h-1zm3,5h1l1.2,2h-1zm1.8,3h1l1.2,2h-1zm1.8,3h1l.6,1h-1zm-5.3-10.83v1l-10-3.33v-1zm9.5,10.83h1l.6,1h-1zm-8.5-10.25v1l-2-1v-1zm2,1v1l-1-.5v-1zm11.3,10.25h1l.6,1h-1zm1.2,2h1l.6,1h-1zm1.8,3h1l.6,1h-1zm4.2,0h1l.6,1h-1zm-7.5-9.75v1l-2-1v-1zm12.25,11.75h1l1,2h-1zm4,8h1l1,2h-1zm.85-5h1l1.8,3h-1zm6,10h1l1.2,2h-1zm-12.6-18h1l2,2h-1zm10.75,8h1l.5,1h-1zm1,2h1l8,16h-1zm-2.25-3.75v1l-1-.5v-1zm9.8,10.75h1l3.2,4h-1zm6.4,8h1l.8,1h-1zm1.6,2h1l1.6,2h-1zm-4.4-7h1l1.6,2h-1zm2.4,3h1l3.2,4h-1zm4,5h1l5.6,7h-1zm.4-1h1l.8,1h-1zm1.6,2h1l1.6,2h-1zm4.8,6h1l2.4,3h-1zm-13.1-15h1l4,4h-1zm16.7,18h1l.8,1h-1zm-9.7-11h1l2,2h-1zm12.5,13h1l1.6,2h-1zm3.2,4h1l.8,1h-1zm1.6,2h1l5.6,7h-1zm-1.13-3h1l2.67,4h-1zm3.33,5h1l1.33,2h-1zm2,3h1l2.67,4h-1zm6,9h1l1.33,2h-1zm-13.5-19h1l3,3h-1zm8.1,11h1l2.4,3h-1zm10.4,13h1l2.4,3h-1zm-16.33-22h1l2.67,4h-1zm3.33,5h1l1.33,2h-1zm2,3h1l1.33,2h-1zm6.67,7h1l1.33,2h-1zm5.33,8h1l2,3h-1zm6,9h1l1.33,2h-1zm-17.5-23h1l7,7h-1zm12.1,15h1l2.4,3h-1zm4,5h1l8,10h-1zm-9.93-14h1l1.33,2h-1zm5.33,8h1l1.33,2h-1zm6.6,10h1l12,15h-1zm9.1,9h1l9,15h-1zm-9.2-9h1l6,6h-1zm7,7h1l3,3h-1zm8.2,11h1l8.4,14h-1zm-6.03-9h1l6.67,10h-1zm12.03,18h1l5.4,9h-1zm6.6,11h1l.6,1h-1zm1.8,3h1l1.2,2h-1zm-14.43-23h1l6.67,10h-1zm12.03,18h1l2.4,4h-1zm3,5h1l2.4,4h-1zm3.6,6h1l.6,1h-1zm1.8,3h1l1.2,2h-1zm-14.43-23h1l6.67,10h-1zm12.03,18h1l2.4,4h-1zm3,5h1l2.4,4h-1zm3,5h1l3.6,6h-1zm-12.03-19h1l6.67,10h-1zm12.03,18h1l9.6,16h-1zm-6.03-9h1l6.67,10h-1zm11.95,21h1l9.75,13h-1zm-5.87-12h1l6.5,13h-1zm11.87,21h1l9.75,13h-1zm-5.95-9h1l6.67,10h-1zm11.83,18h1l13,13h-1zm-5.83-9h1l6.67,10h-1zm11.93,18h1l12.8,16h-1zm-5.93-9h1l6.67,10h-1zm11.83,21h1l13,13h-1zm-5.75-12h1l6.5,13h-1zm11.75,21h1l13,13h-1zm-5.83-9h1l6.67,10h-1zm11.83,18h1l13,13h-1zm-5.83-9h1l6.67,10h-1zm-300.17-225h1l5,5h-1zm0,6h1l1,1h-1zm1.5-6v1l-1,0v-1zm0,0v1l-1,0v-1zm16.5,3h1l1,1h-1zm-5.5-5.75v1l-4,2v-1zm5.5-.25h1l5,5h-1zm11,11h1l1,1h-1zm-9.5-11v1l-1,0v-1zm0,0v1l-1,0v-1zm15.5,5h1l3,3h-1zm-7.5-5v1l-2,0v-1zm19.5,11h1l1,1h-1zm-13.5-11v1l-1,0v-1zm9.5,1h1l1,1h-1zm10,4h1l2,2h-1zm-7.5-5v1l-1,0v-1zm6,0v1l-1,0v-1zm19,10h1l2.4,3h-1zm-10-12.75v1l-1,.5v-1zm11.1,3.75h1l.6,1h-1zm5.4,9h1l.6,1h-1zm-1.88-10h1l3.75,5h-1zm4.5,6h1l1.5,2h-1zm2.26,3h1l1.5,2h-1zm-5.38-8.75v1l-2-1v-1zm11.38,8.75h1l.75,1h-1zm-10.38-9v1l-2,0v-1zm13.3,6h1l.6,1h-1zm1.2,2h1l1.2,2h-1zm1.8,3h1l.6,1h-1zm4.8-2h1l.6,1h-1zm-9.1-9v1l-1,0v-1zm9.7,3h1l.6,1h-1zm1.2,2h1l.6,1h-1zm1.2,2h1l.6,1h-1zm1.2,2h1l1.2,2h-1zm1.8,3h1l1.2,2h-1zm1.8,3h1l2.4,4h-1zm-5.9-11.75v1l-2-1v-1zm8.3,5.75h1l.6,1h-1zm-8.3-6v1l-1,0v-1zm12.5,6h1l.6,1h-1zm1.8,3h1l.6,1h-1zm1.2,2h1l.6,1h-1zm1.2,2h1l3.6,6h-1zm.7-6h1l1.6,2h-1zm8.8,11h1l.8,1h-1zm1.6,2h1l1.6,2h-1zm-13.8-15.75v1l-2-1v-1zm11.33,5.75h1l.67,1h-1zm8,12h1l.67,1h-1zm-11.33-16v1l-1,0v-1zm9.33,7h1l.67,1h-1zm6.67,10h1l.67,1h-1zm-3.4-8h1l1.6,2h-1zm2.4,3h1l1.6,2h-1zm4.8,6h1l1.6,2h-1zm-8.3-10h1l2,2h-1zm8.7,6h1l.8,1h-1zm5.6,7h1l1.6,2h-1zm-11.8-11.75v1l-1-.5v-1zm2,1v1l-1-.5v-1zm11.33,8.75h1l.67,1h-1zm2.67,4h1l2.67,4h-1zm-8-9.75v1l-2-1v-1zm9.4,8.75h1l1.6,2h-1zm3.2,4h1l4.8,6h-1zm6.4,8h1l.8,1h-1zm2,1h1l2.4,3h-1zm-11.5-13h1l4,4h-1zm11.83,9h1l.67,1h-1zm6,9h1l.67,1h-1zm-7.33-10.75v1l-4-2v-1zm6.67,6.75h1l1.33,2h-1zm5.33,8h1l2,3h-1zm-10.5-13h1l6,6h-1zm14.2,14h1l1.2,2h-1zm2.4,4h1l.6,1h-1zm1.8,3h1l1.2,2h-1zm-13.4-16h1l10,10h-1zm15.2,15h1l1.2,2h-1zm4.2,7h1l1.2,2h-1zm-10.4-13h1l7,7h-1zm12.2,12h1l6.6,11h-1zm7.2,12h1l2.4,4h-1zm-13.4-18h1l7,7h-1zm12.2,15h1l1.2,2h-1zm2.4,4h1l.6,1h-1zm1.8,3h1l1.8,3h-1zm3,5h1l.6,1h-1zm1.2,2h1l1.2,2h-1zm-14.43-23h1l6.67,10h-1zm12.03,15h1l2.4,4h-1zm3,5h1l2.4,4h-1zm3.6,6h1l.6,1h-1zm1.8,3h1l1.2,2h-1zm-14.6-20h1l7,7h-1zm12.2,15h1l2.4,4h-1zm3,5h1l2.4,4h-1zm3.6,6h1l.6,1h-1zm1.8,3h1l1.2,2h-1zm-14.43-23h1l6.67,10h-1zm12.03,18h1l2.4,4h-1zm3,5h1l2.4,4h-1zm3.6,6h1l.6,1h-1zm1.8,3h1l1.2,2h-1zm-14.43-23h1l6.67,10h-1zm11.93,18h1l12.8,16h-1zm-5.93-9h1l6.67,10h-1zm11.93,18h1l12.8,16h-1zm-5.93-9h1l6.67,10h-1zm11.93,18h1l12.8,16h-1zm-5.93-9h1l6.67,10h-1zm11.93,18h1l12.8,16h-1zm-5.93-9h1l6.67,10h-1zm11.83,21h1l13,13h-1zm-5.75-12h1l6.5,13h-1zm11.75,21h1l13,13h-1zm-5.83-9h1l6.67,10h-1zm11.93,18h1l12.8,16h-1zm5.9,12h1l13,13h-1zm-5.75-12h1l6.5,13h-1zm11.75,21h1l13,13h-1zm-5.83-9h1l6.67,10h-1zm25.33,30.38v1l-13-9.75v-1zm-19.25-21.38h1l6.5,13h-1zm14.87,21h1l9.75,13h-1zm-9.12-9h1l10,10h-1zm15.12,18h1l9.75,13h-1zm-5.95-9h1l6.67,10h-1zm11.83,21h1l10,10h-1zm-5.75-12h1l6.5,13h-1zm-295.25-217h1l5,5h-1zm4-2h1l1,1h-1zm-7.5-6v1l-1,0v-1zm15,.38v1l-1-.75v-1zm12,9v1l-3-2.25v-1zm-12-9.38v1l-1,0v-1zm10.5,3h1l1,1h-1zm-10.5-3v1l-1,0v-1zm5,0v1l-1,0v-1zm10.12-1h1l.75,1h-1zm6,8h1l.75,1h-1zm-3.12-10v1l-1,0v-1zm11.38,5h1l.75,1h-1zm4.5-2h1l.75,1h-1zm5.24,7h1l.75,1h-1zm.38-10h1l.6,1h-1zm4.8,8h1l.6,1h-1zm-.68-11h1l3.75,5h-1zm4.5,6h1l1.5,2h-1zm2.26,3h1l1.5,2h-1zm-5.38-9v1l-1,0v-1zm11.5,7h1l1,1h-1zm-10.5-7v1l-2,0v-1zm14.4,6h1l.8,1h-1zm4,5h1l1.6,2h-1zm2.4,3h1l1.6,2h-1zm-1.2-9h1l.8,1h-1zm7.2,9h1l.8,1h-1zm-13.8-14v1l-1,0v-1zm11.8,4h1l.8,1h-1zm6.4,8h1l.8,1h-1zm-3.7-9h1l2,2h-1zm9,9h1l1,1h-1zm-7.5-8.75v1l-2-1v-1zm4.6-.25h1l.8,1h-1zm7.2,9h1l.8,1h-1zm2.4,3h1l.8,1h-1zm1.6,2h1l1.6,2h-1zm-9.8-14v1l-7,0v-1zm5.4,1h1l.8,1h-1zm7.2,9h1l.8,1h-1zm-7.6-10v1l-6,0v-1zm12,11h1l.8,1h-1zm-6-8.25v1l-4-2v-1zm11.2,10.25h1l.8,1h-1zm-6.2-7.75v1l-1-.5v-1zm11.5,8.75h1l3,3h-1zm8.62,4h1l1.5,2h-1zm-9.12-7.83v1l-1-.33v-1zm13.1,8.83h1l.6,1h-1zm1.8,3h1l.6,1h-1zm1.2,2h1l1.2,2h-1zm1.8,3h1l2.4,4h-1zm-7.9-12.75v1l-1-.5v-1zm6.7,3.75h1l2.4,4h-1zm3,5h1l1.2,2h-1zm1.8,3h1l.6,1h-1zm1.8,3h1l.6,1h-1zm-10.3-13.25v1l-1-.5v-1zm5,2.5v1l-4-2v-1zm5.9,4.75h1l1.2,2h-1zm4.8,8h1l1.2,2h-1zm-10.7-12.75v1l-1-.5v-1zm2,1v1l-1-.5v-1zm8.7,7.75h1l2.4,4h-1zm3,5h1l2.4,4h-1zm3.6,6h1l.6,1h-1zm-8.8-13h1l3,3h-1zm8.2,8h1l1.2,2h-1zm2.4,4h1l1.8,3h-1zm5.4,9h1l.6,1h-1zm-14-19h1l7,7h-1zm12.12,12h1l3.75,5h-1zm-6.12-6h1l7,7h-1zm12.12,12h1l3.75,5h-1zm4.5,6h1l1.5,2h-1zm3,4h1l2.25,3h-1zm-13.62-16h1l7,7h-1zm12.1,12h1l2.4,3h-1zm4,5h1l4.8,6h-1zm6.4,8h1l2.4,3h-1zm-16.5-19h1l7,7h-1zm12.1,12h1l2.4,3h-1zm10.4,13h1l2.4,3h-1zm-16.5-19h1l7,7h-1zm12,15h1l13,13h-1zm-5.83-9h1l1.33,2h-1zm5.33,8h1l1.33,2h-1zm6.6,7h1l2.4,3h-1zm4,5h1l8.8,11h-1zm1.9,4h1l13,13h-1zm-5.83-9h1l1.33,2h-1zm5.33,8h1l1.33,2h-1zm7.5,11h1l12,12h-1zm-6.83-10h1l1.33,2h-1zm11.83,18h1l13,13h-1zm-5.17-8h1l.67,1h-1zm2,3h1l.67,1h-1zm1.34,2h1l2.67,4h-1zm7.83,12h1l13,13h-1zm-5.83-9h1l3.33,5h-1zm4,6h1l2.67,4h-1zm7.83,12h1l13,13h-1zm-5.83-9h1l6.67,10h-1zm14.95,18h1l9.75,13h-1zm-9.12-9h1l10,10h-1zm15.12,18h1l9.75,13h-1zm-5.95-9h1l6.67,10h-1zm11.95,21h1l9.75,13h-1zm-5.87-12h1l6.5,13h-1zm11.87,21h1l9.75,13h-1zm-5.95-9h1l6.67,10h-1zm11.95,18h1l9.75,13h-1zm-5.95-9h1l6.67,10h-1zm11.95,21h1l9.75,13h-1zm-5.87-12h1l6.5,13h-1zm11.87,21h1l9.75,13h-1zm-5.95-9h1l6.67,10h-1zm11.95,21h1l9.75,13h-1zm-5.87-12h1l6.5,13h-1zm11.75,21h1l13,13h-1zm-5.83-9h1l6.67,10h-1zm25.33,30.38v1l-13-9.75v-1zm-19.25-21.38h1l6.5,13h-1zm11.75,21h1l13,13h-1zm-5.83-9h1l6.67,10h-1zm-301.67-225v1l-1,0v-1zm6,0v1l-1,0v-1zm12.5,5h1l1,1h-1zm-6.5-5v1l-1,0v-1zm16.5,9h1l1,1h-1zm5-4h1l1,1h-1zm-9.5-6.75v1l-1,.5v-1zm6-1.25v1l-1,0v-1zm11,1.88v1l-1-.75v-1zm9,6.74v1l-1-.75v-1zm-4.5-9.62h1l1,1h-1zm7,7h1l1,1h-1zm4-2h1l1,1h-1zm-6.5-7v1l-1,0v-1zm13,4.88v1l-1-.75v-1zm-7-4.88v1l-1,0v-1zm9.5,1h1l1,1h-1zm7,7h1l2,2h-1zm-3-9h1l1,1h-1zm9,9h1l1,1h-1zm-12.5-11v1l-1,0v-1zm8.5,1h1l1,1h-1zm8.12-1h1l.75,1h-1zm6,8h1l.75,1h-1zm-4.62-8v1l-6,0v-1zm4.62,0h1l1.5,2h-1zm1.38,0v1l-7,0v-1zm4.7,0h1l.6,1h-1zm4.2,7h1l.6,1h-1zm4.2,7h1l1.2,2h-1zm-7.1-14v1l-7,0v-1zm8.38,8h1l.75,1h-1zm5.24,7h1l.75,1h-1zm-12.62-14.25v1l-2-1v-1zm14.12,8.25h1l.75,1h-1zm-7.12-6v1l-1,0v-1zm10.88,6h1l.75,1h-1zm6,8h1l.75,1h-1zm.22-7h1l.6,1h-1zm4.8,8h1l1.2,2h-1zm-8.9-12v1l-1,0v-1zm7.7,3h1l2.4,4h-1zm6.6,11h1l.6,1h-1zm-5.3-10.75v1l-2-1v-1zm6.2,4.75h1l.8,1h-1zm8,10h1l.8,1h-1zm-14.2-14.75v1l-1-.5v-1zm10.6,5.75h1l2.4,3h-1zm4,5h1l4.8,6h-1zm6.4,8h1l.8,1h-1zm-9-12.75v1l-2-1v-1zm4.6,2.75h1l4.8,6h-1zm8.8,11h1l1.6,2h-1zm2.4,3h1l1.6,2h-1zm-14.8-16.25v1l-2-1v-1zm5,2.5v1l-4-2v-1zm4.5,5.75h1l2,2h-1zm-6-6h1l7,7h-1zm12.1,9h1l4,5h-1zm8.8,11h1l4,5h-1zm-13.4-13.75v1l-1-.5v-1zm3,1.5v1l-2-1v-1zm3,1.5v1l-2-1v-1zm4.6,5.75h1l4,5h-1zm10.4,13h1l2.4,3h-1zm-16.5-19h1l7,7h-1zm12.1,12h1l2.4,3h-1zm4,5h1l4.8,6h-1zm6.4,8h1l2.4,3h-1zm-16.5-19h1l7,7h-1zm12.1,12h1l2.4,3h-1zm10.4,13h1l2.4,3h-1zm-16.5-19h1l7,7h-1zm12.1,12h1l2.4,3h-1zm4,5h1l4.8,6h-1zm6.4,8h1l2.4,3h-1zm-16.5-19h1l7,7h-1zm12,15h1l13,13h-1zm-5.83-9h1l1.33,2h-1zm5.33,8h1l1.33,2h-1zm9.7,7h1l2.4,4h-1zm3,5h1l2.4,4h-1zm5.4,9h1l1.2,2h-1zm-14.1-18.33v1l-3-2v-1zm7,4.66v1l-2-1.33v-1zm4.62,8.67h1l1.5,2h-1zm7.5,10h1l2.25,3h-1zm-13.45-19h1l6.67,10h-1zm12.03,15h1l2.4,4h-1zm3,5h1l2.4,4h-1zm3.6,6h1l.6,1h-1zm1.8,3h1l1.2,2h-1zm-14.6-20h1l7,7h-1zm12.2,15h1l2.4,4h-1zm3,5h1l2.4,4h-1zm3.6,6h1l.6,1h-1zm-12.63-20h1l6.67,10h-1zm12.03,18h1l2.4,4h-1zm3,5h1l2.4,4h-1zm3,5h1l3.6,6h-1zm-12.03-19h1l6.67,10h-1zm12.03,18h1l9.6,16h-1zm-6.03-9h1l6.67,10h-1zm11.95,21h1l9.75,13h-1zm-5.87-12h1l6.5,13h-1zm11.75,21h1l13,13h-1zm-5.83-9h1l6.67,10h-1zm11.83,18h1l13,13h-1zm-5.83-9h1l6.67,10h-1zm11.83,21h1l13,13h-1zm-5.75-12h1l6.5,13h-1zm11.75,21h1l13,13h-1zm-5.83-9h1l6.67,10h-1zm25.33,30.38v1l-13-9.75v-1zm-19.25-21.38h1l6.5,13h-1zm11.75,21h1l13,13h-1zm-5.83-9h1l6.67,10h-1zm25.33,30.38v1l-13-9.75v-1zm-19.25-21.38h1l6.5,13h-1zm11.75,21h1l13,13h-1zm-5.83-9h1l6.67,10h-1zm25.33,30.38v1l-13-9.75v-1zm-19.25-21.38h1l6.5,13h-1zm25.25,33.38v1l-13-9.75v-1zm-19.25-21.38h1l6.5,13h-1zm14.75,21h1l10,10h-1zm-9-9h1l10,10h-1zm-296.5-220.75v1l-1-.5v-1zm8,4v1l-1-.5v-1zm-16-5v1l-1-.5v-1zm6,3v1l-1-.5v-1zm-6-3.25v1l-1,0v-1zm13-1.88v1l-2-1.5v-1zm6,4.5v1l-1-.75v-1zm-7-5.87v1l-1,.5v-1zm0,.25v1l-1,0v-1zm12,.38v1l-1-.75v-1zm7,5.24v1l-1-.75v-1zm-7-5.62v1l-1,0v-1zm12,1.88v1l-2-1.5v-1zm-11-2.63v1l-2,1v-1zm3-1.5v1l-1,.5v-1zm15.62-3.75h1l1.5,2h-1zm5.26,7h1l.75,1h-1zm-5.88-6.5v1l-1,.33v-1zm2-.67v1l-1,.33v-1zm8.5,4.17h1l1,1h-1zm-8.5-4v1l-1,0v-1zm12.5,2h1l1,1h-1zm5.62-3h1l.75,1h-1zm5.26,7h1l1.5,2h-1zm-7.38-8.25v1l-1,.5v-1zm13.5,6.25h1l1,1h-1zm-6.5-7v1l-2,0v-1zm10.5,5h1l1,1h-1zm-4.5-5v1l-1,0v-1zm10.88,4h1l.75,1h-1zm5.62-2h1l1,1h-1zm7,7h1l1,1h-1zm-11.5-12v1l-1,0v-1zm9.5,4h1l1,1h-1zm7,7h1l2,2h-1zm-2.5-6.88v1l-2-1.5v-1zm11,8.26v1l-1-.75v-1zm-12-9.13v1l-2-1v-1zm4.5-.25h1l1,1h-1zm9,9h1l1,1h-1zm-7.5-9v1l-7,0v-1zm4.5,0h1l2,2h-1zm10,10h1l1,1h-1zm-8.5-10v1l-7,0v-1zm12.5,11h1l1,1h-1zm-9.5-9.25v1l-4-2v-1zm2,1v1l-1-.5v-1zm6.5,1.25h1l1,1h-1zm9,9h1l2,2h-1zm-9.5-10v1l-4,0v-1zm13.5,11h1l5,5h-1zm-7.5-8.25v1l-4-2v-1zm13.5,11.25h1l2,2h-1zm-8.5-8.75v1l-1-.5v-1zm14.5,11.75h1l5,5h-1zm1.12-5h1l2.25,3h-1zm3.76,5h1l.75,1h-1zm2.24,3h1l1.5,2h-1zm2.26,3h1l1.5,2h-1zm-11.88-12.5v1l-1-.33v-1zm2,.67v1l-1-.33v-1zm3,1v1l-2-.67v-1zm9.88,12.83h1l4.5,6h-1zm-11.38-13h1l5,5h-1zm12.12,9h1l1.5,2h-1zm3.76,5h1l.75,1h-1zm2.24,3h1l3.75,5h-1zm-4.62-7.75v1l-6-3v-1zm4.62,5.75h1l1.5,2h-1zm7.5,10h1l2.25,3h-1zm-13.62-16h1l7,7h-1zm12.12,12h1l3.75,5h-1zm4.5,6h1l1.5,2h-1zm3,4h1l2.25,3h-1zm-13.62-16h1l7,7h-1zm12.12,12h1l1.5,2h-1zm4.5,6h1l1.5,2h-1zm3,4h1l2.25,3h-1zm-13.62-16h1l7,7h-1zm12.12,12h1l3.75,5h-1zm7.5,10h1l2.25,3h-1zm-13.62-16h1l7,7h-1zm12.2,12h1l2.4,4h-1zm3,5h1l2.4,4h-1zm3.6,6h1l.6,1h-1zm1.8,3h1l1.2,2h-1zm-14.6-20h1l7,7h-1zm12,15h1l13,13h-1zm-5.83-9h1l6.67,10h-1zm11.83,18h1l13,13h-1zm-5.83-9h1l6.67,10h-1zm11.83,15h1l13,13h-1zm-6-6h1l7,7h-1zm12,15h1l13,13h-1zm-5.83-9h1l6.67,10h-1zm11.83,18h1l13,13h-1zm-5.83-9h1l6.67,10h-1zm25.33,30.38v1l-13-9.75v-1zm-19.25-21.38h1l6.5,13h-1zm11.75,21h1l13,13h-1zm-5.83-9h1l6.67,10h-1zm11.83,18h1l13,13h-1zm-5.83-9h1l6.67,10h-1zm25.33,30.38v1l-13-9.75v-1zm-19.25-21.38h1l6.5,13h-1zm14.87,21h1l9.75,13h-1zm-9.12-9h1l10,10h-1zm15,21h1l10,10h-1zm-5.75-12h1l6.5,13h-1zm11.87,21h1l9.75,13h-1zm-5.95-9h1l6.67,10h-1zm11.83,21h1l10,10h-1zm-5.75-12h1l6.5,13h-1zm11.75,24h1l10,10h-1zm-5.75-12h1l6.5,13h-1zm11.75,21h1l10,10h-1zm-5.83-9h1l6.67,10h-1zm11.83,21h1l10,10h-1zm-5.75-12h1l6.5,13h-1zm11.75,24h1l10,10h-1zm-5.75-12h1l6.5,13h-1zm25.25,30.38v1l-13-9.75v-1zm-19.33-18.38h1l6.67,10h-1zm-300.17-222h1l1,1h-1zm6,6h1l1,1h-1zm-8.5-1.33v1l-1-.67v-1zm7,4.66v1l-1-.67v-1zm-3-9.58v1l-1,.5v-1zm7,1.25v1l-2-1.33v-1zm3,2v1l-1-.67v-1zm5,3.33v1l-4-2.67v-1zm-15-6.33v1l-1,0v-1zm6,0v1l-1,0v-1zm10.5,3h1l1,1h-1zm-10.5-3.25v1l-1,.5v-1zm13.5,.25h1l1,1h-1zm6,6h1l1,1h-1zm-10.5-9v1l-1,0v-1zm10,1v1l-2-1.33v-1zm6,4v1l-1-.67v-1zm-7-5v1l-1,0v-1zm9.5,2h1l1,1h-1zm-8.5-2.75v1l-2,1v-1zm2-1v1l-1,.5v-1zm21,5v1l-2-1v-1zm4-1.37v1l-2-1.5v-1zm-12-7.13v1l-1,.5v-1zm8-.37v1l-1-.75v-1zm7,5.24v1l-1-.75v-1zm-7-5.62v1l-2,0v-1zm7-1.88v1l-2-1.5v-1zm6,4.5v1l-1-.75v-1zm-7-5.87v1l-7,3.5v-1zm10,3.63v1l-1-.75v-1zm-10-3.38v1l-1,0v-1zm10.5-3h1l11,11h-1zm1.5-.25v1l-1,.5v-1zm16,8.13v1l-2-1.5v-1zm-16-7.88v1l-1,0v-1zm20,6.38v1l-1-.75v-1zm2,1.5v1l-1-.75v-1zm-4-7.5v1l-1-.75v-1zm8,6v1l-1-.75v-1zm-8-6.38v1l-6,0v-1zm4.5,0h1l13,13h-1zm1.5,0v1l-7,0v-1zm7.62,0h1l.75,1h-1zm4.5,6h1l.75,1h-1zm4.5,6h1l.75,1h-1zm-7.62-12v1l-10,0v-1zm4.5,3h1l10,10h-1zm-3.5-2.25v1l-2-1v-1zm5,2.5v1l-2-1v-1zm4.62-.25h1l1.5,2h-1zm3.76,5h1l.75,1h-1zm3.74,5h1l1.5,2h-1zm-12.12-10v1l-1,0v-1zm6,0v1l-2,0v-1zm8.5,7h1l1,1h-1zm-7.5-6.25v1l-2-1v-1zm2,1v1l-1-.5v-1zm7.62,1.25h1l1.5,2h-1zm3.76,5h1l.75,1h-1zm4.5,6h1l.75,1h-1zm-6.88-11v1l-2,0v-1zm4.62,3h1l.75,1h-1zm3,4h1l1.5,2h-1zm3.76,5h1l1.5,2h-1zm-5.38-8.75v1l-7-3.5v-1zm4.62,2.75h1l1.5,2h-1zm3,4h1l1.5,2h-1zm3.76,5h1l.75,1h-1zm-5.38-8.75v1l-7-3.5v-1zm4.5,2.75h1l13,13h-1zm-4.5-2.75v1l-1-.5v-1zm2,1v1l-1-.5v-1zm4,2v1l-2-1v-1zm4.5,5.75h1l11,11h-1zm-6-6h1l7,7h-1zm12,9h1l13,13h-1zm1.5,.25v1l-7-3.5v-1zm4.5,5.75h1l13,13h-1zm-6-6h1l7,7h-1zm12,12h1l13,13h-1zm-6-6h1l7,7h-1zm12,12h1l13,13h-1zm6,6h1l13,13h-1zm19.5,18.38v1l-13-9.75v-1zm-19.33-18.38h1l6.67,10h-1zm11.83,15h1l13,13h-1zm-6-6h1l7,7h-1zm12,15h1l13,13h-1zm-5.83-9h1l6.67,10h-1zm14.83,18h1l10,10h-1zm-9-9h1l10,10h-1zm15,18h1l10,10h-1zm-5.83-9h1l6.67,10h-1zm11.83,18h1l10,10h-1zm-5.83-9h1l6.67,10h-1zm11.95,18h1l9.75,13h-1zm-5.95-9h1l6.67,10h-1zm11.83,21h1l10,10h-1zm-5.75-12h1l6.5,13h-1zm11.75,21h1l10,10h-1zm-5.83-9h1l6.67,10h-1zm11.95,18h1l9.75,13h-1zm-5.95-9h1l6.67,10h-1zm25.33,30.38v1l-13-9.75v-1zm-19.25-21.38h1l6.5,13h-1zm25.25,33.38v1l-13-9.75v-1zm-19.25-21.38h1l6.5,13h-1zm25.25,30.38v1l-13-9.75v-1zm-19.33-18.38h1l6.67,10h-1zm25.33,30.38v1l-13-9.75v-1zm-19.25-21.38h1l6.5,13h-1zm25.25,33.38v1l-13-9.75v-1zm-19.25-21.38h1l6.5,13h-1zm25.25,30.25v1l-13-6.5v-1zm-19.25-18.25h1l6.5,13h-1zm25.25,30.38v1l-13-9.75v-1zm-19.33-18.38h1l6.67,10h-1zm25.33,30.38v1l-13-9.75v-1zm-19.25-21.38h1l6.5,13h-1zm25.25,30.25v1l-13-6.5v-1zm-19.25-18.25h1l6.5,13h-1zm-298.75-218.75v1l-1-.5v-1zm6,3v1l-1-.5v-1zm6,3v1l-1-.5v-1zm-16-2v1l-1-.5v-1zm6,3v1l-1-.5v-1zm-2-7.5v1l-1,.5v-1zm8,1.5v1l-1-.5v-1zm6,3v1l-1-.5v-1zm4,2v1l-2-1v-1zm-18-6.25v1l-1,0v-1zm12-2.75v1l-1-.5v-1zm6,3v1l-1-.5v-1zm-10-1.5v1l-2,1v-1zm4-2v1l-1,.5v-1zm8,1.5v1l-1-.5v-1zm8,4v1l-1-.5v-1zm-16-5.25v1l-1,0v-1zm13-1.88v1l-2-1.5v-1zm6,4.5v1l-1-.75v-1zm2,1.5v1l-1-.75v-1zm3,2.26v1l-2-1.5v-1zm-12-9.63v1l-1,.5v-1zm11,3v1l-1-.5v-1zm6,3v1l-1-.5v-1zm-17-5.75v1l-1,0v-1zm15-.38v1l-1-.75v-1zm5,3.76v1l-1-.75v-1zm5-3.76v1l-1-.75v-1zm-9-4.87v1l-1,.5v-1zm18.5,8.25h1l1,1h-1zm-11.5-9v1l-2,0v-1zm10.5-1h1l1,1h-1zm6,6h1l2,2h-1zm-9.5-6.75v1l-1,.5v-1zm8.5-.25h1l1,1h-1zm6.5-.67v1l-1-.67v-1zm2,1.34v1l-1-.67v-1zm7,4.66v1l-2-1.33v-1zm-9-6.33v1l-3,0v-1zm5.5-2h1l1,1h-1zm4,4h1l1,1h-1zm-9.5-2.25v1l-1,.5v-1zm2-1v1l-1,.5v-1zm8.5-1.75h1l1,1h-1zm1.5,0v1l-3,0v-1zm7.5,3h1l1,1h-1zm6,6h1l1,1h-1zm-12.5-9v1l-2,0v-1zm9.5,0h1l10,10h-1zm1.5,0v1l-1,0v-1zm10,3.38v1l-1-.75v-1zm8,6v1l-1-.75v-1zm-18-9.38v1l-1,0v-1zm10.5,0h1l13,13h-1zm1.5,0v1l-1,0v-1zm7,4.12v1l-1-.75v-1zm2,1.5v1l-1-.75v-1zm9,6.76v1l-3-2.25v-1zm-18-12.13v1l-1-.5v-1zm14.5,6.75h1l1,1h-1zm6,6h1l1,1h-1zm-11.5-10v1l-1,0v-1zm12,5.62v1l-1-.75v-1zm9,6.76v1l-3-2.25v-1zm-2-3v1l-5-3.75v-1zm3,2.24v1l-2-1.5v-1zm5,3.76v1l-4-3v-1zm-12-9.13v1l-3-1.5v-1zm7,3.87v1l-2-1.5v-1zm8,6v1l-6-4.5v-1zm3,2.26v1l-2-1.5v-1zm-18-12.13v1l-1-.5v-1zm2,1v1l-1-.5v-1zm4,2v1l-2-1v-1zm13,8.37v1l-4-3v-1zm5,3.76v1l-3-2.25v-1zm-18-12.13v1l-1-.5v-1zm16,12.13v1l-5-3.75v-1zm3,2.24v1l-2-1.5v-1zm5,3.76v1l-3-2.25v-1zm-17.5-13.38h1l2,2h-1zm3,3h1l2,2h-1zm10,4h1l10,10h-1zm-7.5-2.83v1l-1-.33v-1zm2,.66v1l-1-.33v-1zm4,1.34v1l-3-1v-1zm3,1v1l-1-.33v-1zm4.5,5.83h1l10,10h-1zm-6-6h1l7,7h-1zm12,12h1l10,10h-1zm-6-6h1l7,7h-1zm12,12h1l10,10h-1zm-6-6h1l7,7h-1zm12,12h1l10,10h-1zm-6-6h1l7,7h-1zm12,15h1l10,10h-1zm-5.83-9h1l6.67,10h-1zm11.83,15h1l10,10h-1zm6,9h1l10,10h-1zm-5.83-9h1l6.67,10h-1zm25.33,27.38v1l-13-9.75v-1zm-19.33-18.38h1l6.67,10h-1zm25.33,27.38v1l-13-9.75v-1zm-19.33-18.38h1l6.67,10h-1zm25.33,27.38v1l-13-9.75v-1zm-19.33-18.38h1l6.67,10h-1zm25.33,27.38v1l-13-9.75v-1zm-19.33-18.38h1l6.67,10h-1zm25.33,30.38v1l-13-9.75v-1zm-19.25-21.38h1l6.5,13h-1zm25.25,30.38v1l-13-9.75v-1zm-19.33-18.38h1l6.67,10h-1zm25.33,27.25v1l-13-6.5v-1zm-19.25-18.25h1l6.5,13h-1zm25.25,30.38v1l-13-9.75v-1zm-19.33-18.38h1l6.67,10h-1zm25.33,30.38v1l-13-9.75v-1zm-19.25-21.38h1l6.5,13h-1zm25.25,30.33v1l-10-6.67v-1zm-19.38-18.33h1l9.75,13h-1zm25.38,30.33v1l-10-6.67v-1zm-16.25-18.33h1l6.5,13h-1zm11.75,21h1l10,10h-1zm-5.83-9h1l6.67,10h-1zm11.83,21h1l10,10h-1zm-5.75-12h1l6.5,13h-1zm22.25,30.33v1l-10-6.67v-1zm-16.25-18.33h1l6.5,13h-1zm22.25,30.33v1l-10-6.67v-1zm-16.25-18.33h1l6.5,13h-1zm22.25,30.33v1l-10-6.67v-1zm-16.25-18.33h1l6.5,13h-1zm-300.75-218.25v1l-2-1v-1zm3,1.5v1l-1-.5v-1zm8,4v1l-1-.5v-1zm-15-1.5v1l-1-.5v-1zm4,2v1l-1-.5v-1zm-1-7v1l-1,.5v-1zm10,1.25v1l-1-.67v-1zm2,1.33v1l-1-.67v-1zm2,1.34v1l-1-.67v-1zm-7-3.67v1l-8,0v-1zm17,3.33v1l-1-.67v-1zm-3-6v1l-1-.67v-1zm0-.33v1l-1,0v-1zm10,0v1l-1-.67v-1zm5,3.33v1l-4-2.67v-1zm-14-4.08v1l-2,1v-1zm17,2.08v1l-1-.67v-1zm5-3.66v1l-1-.67v-1zm-6-3.42v1l-4,2v-1zm14-2.5v1l-1-.5v-1zm6-3v1l-2-1v-1zm8,4v1l-1-.5v-1zm-11-4v1l-1,.5v-1zm2-1v1l-1,.5v-1zm12,3.5v1l-1-.5v-1zm-11-3.25v1l-2,0v-1zm11-2.62v1l-1-.75v-1zm2,1.5v1l-1-.75v-1zm10,7.5v1l-3-2.25v-1zm-15-8.13v1l-1,.5v-1zm3-1.5v1l-2,1v-1zm11,3v1l-2-1v-1zm-10-2.75v1l-2,0v-1zm14,1.75v1l-2-1v-1zm9,4.5v1l-2-1v-1zm-2-5.87v1l-1-.75v-1zm-8-1.63v1l-1,.5v-1zm11-.63v1l-2-1.5v-1zm7,5.26v1l-5-3.75v-1zm4,3v1l-3-2.25v-1zm-12-9.38v1l-1,0v-1zm10,3.38v1l-1-.75v-1zm4,3v1l-1-.75v-1zm-14-6.38v1l-1,0v-1zm13,3.75v1l-2-1v-1zm6,3v1l-2-1v-1zm5,2.5v1l-2-1v-1zm-12-6v1l-1-.5v-1zm7.5-.25h1l1,1h-1zm4,4h1l2,2h-1zm-2.5-4v1l-10,0v-1zm7,4v1l-2-1.33v-1zm5,3.33v1l-3-2v-1zm-11-6.58v1l-2-1v-1zm5,2.5v1l-2-1v-1zm4.5-.25h1l4,4h-1zm5,5h1l1,1h-1zm-9.5-5v1l-1,0v-1zm4,0v1l-2,0v-1zm2,0v1l-1,0v-1zm4.5,3h1l10,10h-1zm-3.5-2.25v1l-2-1v-1zm5,2.5v1l-4-2v-1zm4.5,2.75h1l10,10h-1zm1.5,.25v1l-7-3.5v-1zm4.5,2.75h1l7,7h-1zm1.5,.25v1l-7-3.5v-1zm4.5,5.75h1l1,1h-1zm5,5h1l2,2h-1zm3,3h1l2,2h-1zm-14-14h1l7,7h-1zm25.5,18.38v1l-13-9.75v-1zm-12-9.13v1l-7-3.5v-1zm18,15.13v1l-13-9.75v-1zm-19.5-15.38h1l7,7h-1zm25.5,21.38v1l-13-9.75v-1zm-19.5-15.38h1l7,7h-1zm25.5,21.38v1l-13-9.75v-1zm-19.5-15.38h1l7,7h-1zm25.5,21.38v1l-13-9.75v-1zm-19.5-15.38h1l7,7h-1zm25.5,24.38v1l-13-9.75v-1zm-19.33-18.38h1l6.67,10h-1zm25.33,24.38v1l-13-9.75v-1zm6,9v1l-13-9.75v-1zm-19.33-18.38h1l6.67,10h-1zm25.33,27.38v1l-13-9.75v-1zm-19.33-18.38h1l6.67,10h-1zm25.33,27.38v1l-13-9.75v-1zm-19.33-18.38h1l6.67,10h-1zm14.83,18h1l10,10h-1zm-9-9h1l10,10h-1zm25.5,27.33v1l-10-6.67v-1zm-16.25-18.33h1l6.5,13h-1zm11.75,21h1l10,10h-1zm-5.83-9h1l6.67,10h-1zm22.33,27.33v1l-10-6.67v-1zm-16.25-18.33h1l6.5,13h-1zm11.75,21h1l10,10h-1zm-5.83-9h1l6.67,10h-1zm6.08,9h1l6.5,13h-1zm22.25,30.33v1l-10-6.67v-1zm-16.25-18.33h1l6.5,13h-1zm25.25,30.25v1l-13-6.5v-1zm-19.25-18.25h1l6.5,13h-1zm25.25,30.38v1l-13-9.75v-1zm-19.33-18.38h1l6.67,10h-1zm25.33,27.25v1l-13-6.5v-1zm-19.25-18.25h1l6.5,13h-1zm25.25,30.25v1l-13-6.5v-1zm-19.25-18.25h1l6.5,13h-1zm25.25,30.25v1l-13-6.5v-1zm-19.25-18.25h1l6.5,13h-1zm25.25,30.25v1l-13-6.5v-1zm-19.25-18.25h1l6.5,13h-1zm25.25,30.25v1l-13-6.5v-1zm-19.25-18.25h1l6.5,13h-1zm-296.75-215.17v1l-3-1v-1zm5,1.67v1l-1-.33v-1zm2,.67v1l-1-.33v-1zm-14,.33v1l-1-.33v-1zm4,1.33v1l-1-.33v-1zm-4-2.58v1l-1,.5v-1zm5-2.5v1l-2,1v-1zm12,1.87v1l-2-.5v-1zm4,1v1l-1-.25v-1zm-12-2.62v1l-5,0v-1zm12-1.88v1l-2-.5v-1zm4,1v1l-1-.25v-1zm0-3.87v1l-1-.5v-1zm10,5v1l-1-.5v-1zm-4-5.63v1l-3-.75v-1zm6,1.5v1l-4-1v-1zm2,.5v1l-1-.25v-1zm-10-2.62v1l-4,0v-1zm7-2.25v1l-1-.5v-1zm6,3v1l-1-.5v-1zm-13-1v1l-1,.5v-1zm11-5.5v1l-4,2v-1zm15,1.87v1l-4-1v-1zm2,.5v1l-1-.25v-1zm-3-4.87v1l-1-.5v-1zm6,3v1l-1-.5v-1zm-11-2v1l-2,1v-1zm22,1.5v1l-13-6.5v-1zm-14-5.5v1l-1,.5v-1zm2-1v1l-1,.5v-1zm10,1.25v1l-1-.67v-1zm7,4.67v1l-2-1.33v-1zm-16-5.67v1l-2,0v-1zm15-2v1l-2-1.33v-1zm8,5.33v1l-2-1.33v-1zm-9-6.58v1l-2,1v-1zm13,5.25v1l-1-.67v-1zm-9-5v1l-5,0v-1zm13,3.67v1l-1-.67v-1zm1-6.34v1l-1-.67v-1zm6,4v1l-1-.67v-1zm-10-2.58v1l-1,.5v-1zm4-2v1l-2,1v-1zm6,.58v1l-1-.67v-1zm2,1.34v1l-1-.67v-1zm3,2v1l-2-1.33v-1zm4,2.66v1l-2-1.33v-1zm-9-6.33v1l-7,0v-1zm6,.33v1l-1-.67v-1zm5,3.34v1l-2-1.33v-1zm-5-3.67v1l-7,0v-1zm4.5,0h1l1,1h-1zm3,3h1l1,1h-1zm6,6h1l1,1h-1zm-7.5-9v1l-7,0v-1zm9,4.75v1l-4-2v-1zm2,1v1l-1-.5v-1zm7,3.5v1l-1-.5v-1zm-12-6v1l-7-3.5v-1zm8,1.63v1l-2-1.5v-1zm6,4.5v1l-5-3.75v-1zm4,3v1l-3-2.25v-1zm-13-9.38v1l-6,0v-1zm12,5.75v1l-4-2v-1zm7,3.5v1l-2-1v-1zm-13-6.5v1l-4-2v-1zm14,7v1l-3-1.5v-1zm5,2.5v1l-4-2v-1zm-13-6.5v1l-4-2v-1zm8,4v1l-2-1v-1zm11,5.5v1l-10-5v-1zm-12-6v1l-2-1v-1zm18,9v1l-13-6.5v-1zm6,6.13v1l-13-9.75v-1zm6,2.87v1l-13-6.5v-1zm-19.5-12.25h1l7,7h-1zm25.5,18.25v1l-13-6.5v-1zm-19.5-12.25h1l7,7h-1zm25.5,18.33v1l-10-6.67v-1zm-9-6v1l-10-6.67v-1zm15,12v1l-10-6.67v-1zm-16.5-12.33h1l7,7h-1zm22.5,18.33v1l-10-6.67v-1zm-16.5-12.33h1l7,7h-1zm22.5,21.33v1l-10-6.67v-1zm-16.33-15.33h1l6.67,10h-1zm22.33,21.33v1l-10-6.67v-1zm-16.5-12.33h1l7,7h-1zm22.5,21.33v1l-10-6.67v-1zm-16.33-15.33h1l6.67,10h-1zm22.33,24.33v1l-10-6.67v-1zm-16.33-15.33h1l6.67,10h-1zm22.33,24.33v1l-10-6.67v-1zm-16.33-15.33h1l6.67,10h-1zm25.33,24.25v1l-13-6.5v-1zm-19.33-15.25h1l6.67,10h-1zm25.33,27.25v1l-13-6.5v-1zm-19.25-18.25h1l6.5,13h-1zm25.25,27.25v1l-13-6.5v-1zm-19.33-15.25h1l6.67,10h-1zm25.33,27.25v1l-13-6.5v-1zm-19.25-18.25h1l6.5,13h-1zm25.25,27.25v1l-13-6.5v-1zm-19.33-15.25h1l6.67,10h-1zm25.33,27.25v1l-13-6.5v-1zm-19.25-18.25h1l6.5,13h-1zm25.25,30.25v1l-13-6.5v-1zm-19.25-18.25h1l6.5,13h-1zm25.25,30.25v1l-13-6.5v-1zm-19.25-18.25h1l6.5,13h-1zm25.25,27.12v1l-13-3.25v-1zm-19.25-15.12h1l6.5,13h-1zm25.25,27.12v1l-13-3.25v-1zm-19.25-15.12h1l6.5,13h-1zm25.25,27.17v1l-10-3.33v-1zm-19.38-15.17h1l9.75,13h-1zm25.38,27.17v1l-10-3.33v-1zm-16.25-15.17h1l6.5,13h-1zm22.25,27.33v1l-10-6.67v-1zm-16.33-15.33h1l6.67,10h-1zm22.33,27.33v1l-10-6.67v-1zm-16.25-18.33h1l6.5,13h-1zm-300.75-212.62v1l-1-.25v-1zm5,1.24v1l-2-.5v-1zm6,1.5v1l-3-.75v-1zm-16,.5v1l-3-.75v-1zm5,1.26v1l-1-.25v-1zm-7-2.13v1l-1,.5v-1zm15-4v1l-1-.5v-1zm4,2v1l-1-.5v-1zm3,1.5v1l-1-.5v-1zm-11-5v1l-4,2v-1zm11,.87v1l-2-.5v-1zm4,1v1l-1-.25v-1zm-9-2.12v1l-1,0v-1zm11-2.5v1l-2-.67v-1zm3,1v1l-1-.33v-1zm-4-1.67v1l-3,1v-1zm8-1.16v1l-1-.67v-1zm5,3.33v1l-1-.67v-1zm2,1.33v1l-1-.67v-1zm-14-4.08v1l-2,1v-1zm16-.42v1l-1-.33v-1zm-8-1.83v1l-1,0v-1zm13-1.5v1l-1-.33v-1zm4,1.33v1l-1-.33v-1zm3-2.16v1l-2-1.33v-1zm-9-1.92v1l-1,.5v-1zm13-.58v1l-1-.33v-1zm-4-1.17v1l-2,0v-1zm9-2.17v1l-3-1v-1zm5,1.67v1l-1-.33v-1zm2,.67v1l-1-.33v-1zm-9-3.42v1l-2,1v-1zm9-1v1l-1-.5v-1zm6,3v1l-1-.5v-1zm-15-2v1l-1,.5v-1zm14-2.13v1l-2-.5v-1zm6,1.5v1l-4-1v-1zm4,1v1l-3-.75v-1zm-3-4.37v1l-2-1v-1zm4,2v1l-1-.5v-1zm4,2v1l-1-.5v-1zm-15-4v1l-2,1v-1zm11-1v1l-2-1v-1zm8,4v1l-2-1v-1zm-9-4.75v1l-2,0v-1zm9,.88v1l-4-1v-1zm9,2.24v1l-2-.5v-1zm-12-3.12v1l-7,0v-1zm8,.62v1l-3-.75v-1zm10,2.5v1l-3-.75v-1zm-12-3.12v1l-7,0v-1zm9,.88v1l-4-1v-1zm9,2.24v1l-2-.5v-1zm-12-3.12v1l-7,0v-1zm8,.62v1l-3-.75v-1zm4,1v1l-2-.5v-1zm6,1.5v1l-5-1.25v-1zm-12-3.12v1l-7,0v-1zm18,6.25v1l-11-5.5v-1zm-13-6.25v1l-6,0v-1zm15,5.12v1l-9-2.25v-1zm3,.76v1l-2-.5v-1zm-11-2.63v1l-5-2.5v-1zm9,.08v1l-1-.67v-1zm3,2v1l-2-1.33v-1zm5,3.34v1l-4-2.67v-1zm-12-5.67v1l-6,0v-1zm4,0v1l-2,0v-1zm6,3.33v1l-1-.67v-1zm3,2v1l-2-1.33v-1zm5,3.34v1l-4-2.67v-1zm-8-5.42v1l-7-3.5v-1zm6,3.08v1l-1-.67v-1zm3,2v1l-2-1.33v-1zm2,1.34v1l-1-.67v-1zm4,2.66v1l-2-1.33v-1zm-9-6.08v1l-7-3.5v-1zm15,9.08v1l-10-6.67v-1zm-9-6.08v1l-7-3.5v-1zm15,8.92v1l-10-3.33v-1zm-16.5-9.17h1l7,7h-1zm22.5,15.33v1l-10-6.67v-1zm-9-6.08v1l-7-3.5v-1zm15,12.08v1l-10-6.67v-1zm-16.5-12.33h1l7,7h-1zm25.5,18.25v1l-13-6.5v-1zm-19.5-12.25h1l7,7h-1zm25.5,18.25v1l-13-6.5v-1zm-19.5-12.25h1l7,7h-1zm25.5,18.25v1l-13-6.5v-1zm-19.5-12.25h1l7,7h-1zm25.5,21.25v1l-13-6.5v-1zm-19.33-15.25h1l6.67,10h-1zm25.33,21.25v1l-13-6.5v-1zm-19.5-12.25h1l7,7h-1zm25.5,21.25v1l-13-6.5v-1zm-19.33-15.25h1l6.67,10h-1zm25.33,24.25v1l-13-6.5v-1zm-19.33-15.25h1l6.67,10h-1zm25.33,24.25v1l-13-6.5v-1zm-19.33-15.25h1l6.67,10h-1zm25.33,24.12v1l-13-3.25v-1zm-19.25-15.12h1l6.5,13h-1zm25.25,27.25v1l-13-6.5v-1zm-19.33-15.25h1l6.67,10h-1zm25.33,24.17v1l-10-3.33v-1zm-19.38-15.17h1l9.75,13h-1zm25.38,27.33v1l-10-6.67v-1zm-16.33-15.33h1l6.67,10h-1zm22.33,24.17v1l-10-3.33v-1zm-16.25-15.17h1l6.5,13h-1zm22.25,27.17v1l-10-3.33v-1zm-16.25-15.17h1l6.5,13h-1zm22.25,27.17v1l-10-3.33v-1zm-16.25-15.17h1l6.5,13h-1zm22.25,27.33v1l-10-6.67v-1zm-16.33-15.33h1l6.67,10h-1zm22.33,27.33v1l-10-6.67v-1zm-16.25-18.33h1l6.5,13h-1zm22.25,30.33v1l-10-6.67v-1zm-16.25-18.33h1l6.5,13h-1zm25.25,30.25v1l-13-6.5v-1zm-19.25-18.25h1l6.5,13h-1zm25.25,30.25v1l-13-6.5v-1zm-19.25-18.25h1l6.5,13h-1zm25.25,27.12v1l-13-3.25v-1zm-19.25-15.12h1l6.5,13h-1zm25.25,27.12v1l-13-3.25v-1zm-19.25-15.12h1l6.5,13h-1zm-293.75-211.17v1l-1-.33v-1zm-8,2.34v1l-2-.67v-1zm6,2v1l-3-1v-1zm5-6.17v1l-1,0v-1zm6,0v1l-1,0v-1zm-12,0v1l-1,0v-1zm11-2.5v1l-2-.67v-1zm3,1v1l-1-.33v-1zm4,1.33v1l-1-.33v-1zm-8-3.08v1l-3,1.5v-1zm13-.87v1l-1-.25v-1zm5,1.24v1l-2-.5v-1zm-17-.87v1l-2,1v-1zm14-2.25v1l-1,0v-1zm6,0v1l-1,0v-1zm-12,0v1l-1,0v-1zm9-2.88v1l-1-.25v-1zm5,1.26v1l-1-.25v-1zm5,1.24v1l-1-.25v-1zm-10-2.87v1l-1,.5v-1zm8-2.13v1l-3-.75v-1zm5,1.26v1l-1-.25v-1zm-12,.37v1l-2,1v-1zm5-2.5v1l-2,1v-1zm8-2.13v1l-1-.25v-1zm4,1v1l-1-.25v-1zm-12,1.13v1l-1,.5v-1zm14-2.13v1l-1-.25v-1zm9,2.26v1l-1-.25v-1zm-14-2.88v1l-2,0v-1zm11-2.38v1l-3-.75v-1zm6,1.5v1l-4-1v-1zm4,1v1l-3-.75v-1zm-12-3.37v1l-2,1v-1zm12-1.13v1l-4-1v-1zm4,1v1l-1-.25v-1zm-16,.13v1l-1,.5v-1zm14-2.13v1l-2-.5v-1zm4,1v1l-1-.25v-1zm-4-2.45v1l-2,.67v-1zm14-1.67v1l-2-.67v-1zm8,2.67v1l-3-1v-1zm-9-3.17v1l-5,0v-1zm7,.5v1l-2-.67v-1zm8,2.67v1l-5-1.67v-1zm-9-3.17v1l-7,0v-1zm6-2.67v1l-1-.67v-1zm6,4v1l-3-2v-1zm3,2v1l-1-.67v-1zm-15-3.58v1l-1,.5v-1zm6-3v1l-2,1v-1zm6,.58v1l-1-.67v-1zm2,1.34v1l-1-.67v-1zm7,4.66v1l-6-4v-1zm-9-6.33v1l-7,0v-1zm7,3.5v1l-2-.67v-1zm8,2.67v1l-2-.67v-1zm-9-2.92v1l-7-3.5v-1zm11,1.58v1l-6-2v-1zm3,1v1l-2-.67v-1zm-8-2.83v1l-7,0v-1zm6,.33v1l-1-.67v-1zm3,2v1l-2-1.33v-1zm6,4v1l-5-3.33v-1zm-9-6.33v1l-7,0v-1zm18,6.12v1l-13-3.25v-1zm-12-2.87v1l-7-3.5v-1zm18,5.87v1l-13-3.25v-1zm-12-2.87v1l-7-3.5v-1zm18,5.87v1l-13-3.25v-1zm-12-2.87v1l-7-3.5v-1zm18,5.87v1l-13-3.25v-1zm-12-2.87v1l-7-3.5v-1zm18,9v1l-13-6.5v-1zm-12-6v1l-7-3.5v-1zm18,8.87v1l-13-3.25v-1zm-19.5-9.12h1l7,7h-1zm25.5,15.12v1l-13-3.25v-1zm-19.5-9.12h1l7,7h-1zm25.5,15.12v1l-13-3.25v-1zm-19.5-9.12h1l7,7h-1zm25.5,15.12v1l-13-3.25v-1zm-19.5-9.12h1l7,7h-1zm25.5,15.12v1l-13-3.25v-1zm-19.5-9.12h1l7,7h-1zm25.5,18.17v1l-10-3.33v-1zm-19.5-12.17h1l10,10h-1zm25.5,18.17v1l-10-3.33v-1zm-16.5-9.17h1l7,7h-1zm22.5,18.17v1l-10-3.33v-1zm-16.33-12.17h1l6.67,10h-1zm22.33,21.17v1l-10-3.33v-1zm-16.33-12.17h1l6.67,10h-1zm22.33,21.17v1l-10-3.33v-1zm-16.33-12.17h1l6.67,10h-1zm6.08,9h1l6.5,13h-1zm22.25,24.17v1l-10-3.33v-1zm-16.33-12.17h1l6.67,10h-1zm25.33,24.25v1l-13-6.5v-1zm-19.33-15.25h1l6.67,10h-1zm25.33,24.12v1l-13-3.25v-1zm-19.25-15.12h1l6.5,13h-1zm25.25,27.12v1l-13-3.25v-1zm-19.25-15.12h1l6.5,13h-1zm25.25,27.12v1l-13-3.25v-1zm-19.25-15.12h1l6.5,13h-1zm25.25,27.12v1l-13-3.25v-1zm-19.25-15.12h1l6.5,13h-1zm25.25,24v1l-13,0v-1zm-19.25-12h1l6.5,13h-1zm25.25,24v1l-13,0v-1zm-19.25-12h1l6.5,13h-1zm25.25,24v1l-13,0v-1zm-19.25-12h1l6.5,13h-1zm25.25,24v1l-13,0v-1zm-19.25-12h1l6.5,13h-1zm25.25,24v1l-13,0v-1zm-19.25-12h1l6.5,13h-1zm25.25,24v1l-10,0v-1zm-19.38-12h1l9.75,13h-1zm25.38,24v1l-10,0v-1zm-16.25-12h1l6.5,13h-1zm-295.75-213v1l-7,0v-1zm2,0v1l-1,0v-1zm-14,3v1l-1,0v-1zm8,0v1l-1,0v-1zm2,0v1l-1,0v-1zm-9-.75v1l-2,1v-1zm5-2.5v1l-2,1v-1zm6,.25v1l-1,0v-1zm2,0v1l-1,0v-1zm6,0v1l-1,0v-1zm-8,0v1l-7,0v-1zm18-3v1l-13,0v-1zm-12-.25v1l-7,3.5v-1zm9-2.75v1l-1,0v-1zm6,0v1l-1,0v-1zm-12,1.25v1l-4,2v-1zm2-1v1l-1,.5v-1zm7-3.13v1l-1-.25v-1zm5,1.26v1l-1-.25v-1zm5,1.24v1l-1-.25v-1zm-10-2.87v1l-1,.5v-1zm12,.25v1l-1,0v-1zm6,0v1l-1,0v-1zm-18,0v1l-1,0v-1zm6,0v1l-1,0v-1zm18-3v1l-10,0v-1zm-9-.25v1l-2,1v-1zm6-2.75v1l-1,0v-1zm6,0v1l-2,0v-1zm-6-.25v1l-7,3.5v-1zm7-2.25v1l-2-.67v-1zm3,1v1l-2-.67v-1zm3,1v1l-1-.33v-1zm-7-2.75v1l-7,3.5v-1zm9-1.58v1l-1-.33v-1zm6,2v1l-3-1v-1zm-12-1.92v1l-4,2v-1zm2-1v1l-1,.5v-1zm13-.25v1l-2,0v-1zm-7,0v1l-2,0v-1zm8-2.5v1l-2-.67v-1zm3,1v1l-2-.67v-1zm-4-1.75v1l-2,1v-1zm7,.25v1l-2,0v-1zm-1,0v1l-7,0v-1zm8-2.38v1l-3-.75v-1zm6,1.5v1l-4-1v-1zm4,1v1l-2-.5v-1zm-18-.37v1l-1,.5v-1zm2-1v1l-1,.5v-1zm4-2v1l-2,1v-1zm8,.87v1l-3-.75v-1zm6,1.5v1l-2-.5v-1zm4,1v1l-2-.5v-1zm-12-3.12v1l-7,0v-1zm18,0v1l-13,0v-1zm-12,0v1l-7,0v-1zm18,0v1l-13,0v-1zm-12,0v1l-7,0v-1zm8,.62v1l-3-.75v-1zm10,2.5v1l-3-.75v-1zm-12-3.12v1l-7,0v-1zm18,3.12v1l-13-3.25v-1zm6-.12v1l-13,0v-1zm6,3.12v1l-13-3.25v-1zm6,3v1l-13-3.25v-1zm-12-2.87v1l-7-3.5v-1zm18,5.92v1l-10-3.33v-1zm-9-3v1l-10-3.33v-1zm15,6v1l-10-3.33v-1zm6,2.83v1l-10,0v-1zm-16.5-6h1l7,7h-1zm22.5,12.17v1l-10-3.33v-1zm-9-2.92v1l-7-3.5v-1zm15,8.92v1l-10-3.33v-1zm-16.5-9.17h1l7,7h-1zm22.5,15.17v1l-10-3.33v-1zm-16.5-9.17h1l7,7h-1zm22.5,15.17v1l-10-3.33v-1zm-16.5-9.17h1l7,7h-1zm22.5,15.17v1l-10-3.33v-1zm-16.5-9.17h1l7,7h-1zm25.5,18.12v1l-13-3.25v-1zm-19.33-12.12h1l6.67,10h-1zm25.33,18v1l-13,0v-1zm-19.33-9h1l6.67,10h-1zm25.33,18.12v1l-13-3.25v-1zm-19.5-9.12h1l7,7h-1zm25.5,18.12v1l-13-3.25v-1zm-19.33-12.12h1l6.67,10h-1zm25.33,21v1l-13,0v-1zm-19.25-12h1l6.5,13h-1zm25.25,24.12v1l-13-3.25v-1zm-19.33-12.12h1l6.67,10h-1zm25.33,21.12v1l-13-3.25v-1zm-19.33-12.12h1l6.67,10h-1zm25.33,21v1l-13,0v-1zm-19.25-12h1l6.5,13h-1zm25.25,24v1l-13,0v-1zm-19.25-12h1l6.5,13h-1zm25.25,24.17v1l-10-3.33v-1zm-19.5-12.17h1l10,10h-1zm25.5,24.17v1l-10-3.33v-1zm-16.25-15.17h1l6.5,13h-1zm22.25,27.17v1l-10-3.33v-1zm-16.25-15.17h1l6.5,13h-1zm22.25,27.17v1l-10-3.33v-1zm-16.25-15.17h1l6.5,13h-1zm22.25,27.17v1l-10-3.33v-1zm-16.25-15.17h1l6.5,13h-1zm22.25,27.17v1l-10-3.33v-1zm-16.25-15.17h1l6.5,13h-1zm22.25,27.17v1l-10-3.33v-1zm-16.25-15.17h1l6.5,13h-1zm22.25,27.17v1l-10-3.33v-1zm-16.25-15.17h1l6.5,13h-1zm25.25,27.12v1l-13-3.25v-1zm-19.25-15.12h1l6.5,13h-1zm25.25,27.12v1l-13-3.25v-1zm-19.25-15.12h1l6.5,13h-1zm-298.75-210v1l-1,0v-1zm2,0v1l-1,0v-1zm7,0v1l-5,0v-1zm-15,3v1l-1,0v-1zm6,0v1l-3,0v-1zm3,0v1l-1,0v-1zm-3-3.25v1l-7,3.5v-1zm15,.25v1l-10,0v-1zm-15,0v1l-1,0v-1zm2,0v1l-1,0v-1zm4,0v1l-2,0v-1zm6-3v1l-1,0v-1zm6,0v1l-1,0v-1zm3,0v1l-2,0v-1zm-9-.25v1l-7,3.5v-1zm6-2.75v1l-1,0v-1zm3,0v1l-1,0v-1zm5,0v1l-2,0v-1zm-8-.25v1l-7,3.5v-1zm12-2.75v1l-7,0v-1zm3,0v1l-1,0v-1zm-9-.25v1l-7,3.5v-1zm6,.25v1l-1,0v-1zm3,0v1l-1,0v-1zm6,0v1l-1,0v-1zm-9,0v1l-7,0v-1zm18-3v1l-13,0v-1zm-12-.25v1l-7,3.5v-1zm6-2.75v1l-1,0v-1zm6,0v1l-2,0v-1zm6,0v1l-2,0v-1zm-12-.25v1l-7,3.5v-1zm18-2.75v1l-13,0v-1zm-12-.25v1l-7,3.5v-1zm10-.87v1l-5,1.25v-1zm3-.76v1l-2,.5v-1zm4-1v1l-3,.75v-1zm-11,2.88v1l-7,0v-1zm11-3v1l-6,0v-1zm6,0v1l-2,0v-1zm-17,2.75v1l-1,.5v-1zm2-1v1l-1,.5v-1zm4-2v1l-2,1v-1zm18-2.75v1l-13,0v-1zm-12-.25v1l-7,3.5v-1zm18,.25v1l-13,0v-1zm-12,0v1l-7,0v-1zm18-3v1l-13,0v-1zm-12-.25v1l-7,3.5v-1zm18,.25v1l-10,0v-1zm-9,0v1l-10,0v-1zm15,0v1l-10,0v-1zm-9,0v1l-7,0v-1zm15,0v1l-10,0v-1zm-9,0v1l-7,0v-1zm15,0v1l-10,0v-1zm-9,0v1l-7,0v-1zm15,0v1l-10,0v-1zm-9,0v1l-7,0v-1zm15,3v1l-10,0v-1zm-9,.25v1l-7-3.5v-1zm15-.25v1l-10,0v-1zm-9,0v1l-7,0v-1zm15,3v1l-10,0v-1zm-9,.25v1l-7-3.5v-1zm18,2.75v1l-13,0v-1zm-12,.25v1l-7-3.5v-1zm18,2.75v1l-13,0v-1zm-12,.25v1l-7-3.5v-1zm18,5.75v1l-13,0v-1zm-19.5-6h1l7,7h-1zm25.5,9v1l-13,0v-1zm-12,.25v1l-7-3.5v-1zm18,5.75v1l-13,0v-1zm-19.5-6h1l7,7h-1zm25.5,12v1l-13,0v-1zm-19.5-6h1l7,7h-1zm25.5,12v1l-13,0v-1zm-19.5-6h1l7,7h-1zm25.5,12v1l-13,0v-1zm-19.5-6h1l7,7h-1zm25.5,15v1l-13,0v-1zm-19.33-9h1l6.67,10h-1zm25.33,18.12v1l-13-3.25v-1zm-19.5-9.12h1l7,7h-1zm25.5,15v1l-10,0v-1zm-19.5-9h1l10,10h-1zm25.5,18v1l-10,0v-1zm-16.33-9h1l6.67,10h-1zm22.33,21v1l-10,0v-1zm-16.25-12h1l6.5,13h-1zm22.25,21v1l-10,0v-1zm-16.33-9h1l6.67,10h-1zm22.33,18v1l-10,0v-1zm-16.33-9h1l6.67,10h-1zm22.33,21v1l-10,0v-1zm-16.25-12h1l6.5,13h-1zm22.25,24v1l-10,0v-1zm-16.25-12h1l6.5,13h-1zm25.25,21v1l-13,0v-1zm-19.33-9h1l6.67,10h-1zm25.33,21v1l-13,0v-1zm-19.25-12h1l6.5,13h-1zm25.25,24v1l-13,0v-1zm-19.25-12h1l6.5,13h-1zm25.25,24v1l-13,0v-1zm-19.25-12h1l6.5,13h-1zm25.25,24v1l-13,0v-1zm-19.25-12h1l6.5,13h-1zm25.25,24v1l-13,0v-1zm-19.25-12h1l6.5,13h-1zm25.25,24v1l-13,0v-1zm-19.25-12h1l6.5,13h-1zm25.25,24v1l-13,0v-1zm-19.25-12h1l6.5,13h-1zm25.25,24v1l-13,0v-1zm-19.25-12h1l6.5,13h-1zm25.25,24v1l-13,0v-1zm-19.25-12h1l6.5,13h-1zm-286.75-210.12v1l-6,1.5v-1zm-16,5.5v1l-3,.75v-1zm10-2.5v1l-4,1v-1zm-9,1.37v1l-4,2v-1zm2-1v1l-1,.5v-1zm13-3.25v1l-7,0v-1zm2,0v1l-1,0v-1zm4,0v1l-2,0v-1zm-12-.25v1l-2,1v-1zm6,.13v1l-1,.25v-1zm3-.76v1l-2,.5v-1zm9-2.24v1l-4,1v-1zm-12,3.12v1l-7,0v-1zm8-3.62v1l-3,.75v-1zm7-1.76v1l-1,.25v-1zm3-.74v1l-2,.5v-1zm-12,2.87v1l-7,3.5v-1zm18-5.87v1l-4,1v-1zm-15,4.37v1l-4,2v-1zm2-1v1l-1,.5v-1zm19-3.25v1l-13,0v-1zm-12-.25v1l-2,1v-1zm12-2.75v1l-7,0v-1zm6,0v1l-2,0v-1zm-12-.25v1l-7,3.5v-1zm13-1.25v1l-1,.33v-1zm5-1.67v1l-4,1.33v-1zm-12,3.17v1l-7,0v-1zm10-3.5v1l-2,.67v-1zm3-1v1l-1,.33v-1zm5-1.67v1l-4,1.33v-1zm-9,2.92v1l-2,1v-1zm15-2.75v1l-10,0v-1zm-14,2.25v1l-2,1v-1zm5-2.5v1l-4,2v-1zm15-2.75v1l-10,0v-1zm-9-.25v1l-7,3.5v-1zm10-1.25v1l-5,1.67v-1zm5-1.67v1l-4,1.33v-1zm-9,3.17v1l-7,0v-1zm15-3v1l-10,0v-1zm-15,2.75v1l-1,.5v-1zm3-1.5v1l-2,1v-1zm3-1.5v1l-2,1v-1zm10-1.25v1l-5,1.67v-1zm5-1.67v1l-4,1.33v-1zm-9,3.17v1l-7,0v-1zm18-3v1l-13,0v-1zm-12-.25v1l-7,3.5v-1zm18,.25v1l-13,0v-1zm-12,0v1l-7,0v-1zm18,0v1l-13,0v-1zm-12,0v1l-7,0v-1zm18,0v1l-13,0v-1zm6-.12v1l-13,3.25v-1zm-12,3.37v1l-7-3.5v-1zm18-.25v1l-13,0v-1zm-12,0v1l-7,0v-1zm18-.12v1l-13,3.25v-1zm-12,3.37v1l-7-3.5v-1zm18-.25v1l-13,0v-1zm6,3v1l-13,0v-1zm-12,.25v1l-7-3.5v-1zm18,2.63v1l-13,3.25v-1zm-19.5-2.88h1l7,7h-1zm25.5,9v1l-10,0v-1zm-9,.17v1l-10-3.33v-1zm15,2.66v1l-10,3.33v-1zm-16.5-2.83h1l7,7h-1zm22.5,9v1l-10,0v-1zm-9,.25v1l-7-3.5v-1zm15,5.75v1l-10,0v-1zm-16.5-6h1l7,7h-1zm22.5,12v1l-10,0v-1zm-16.5-6h1l7,7h-1zm22.5,11.83v1l-10,3.33v-1zm-16.33-5.83h1l6.67,10h-1zm22.33,15v1l-10,0v-1zm-16.5-6h1l7,7h-1zm22.5,11.83v1l-10,3.33v-1zm-16.33-5.83h1l6.67,10h-1zm25.33,14.88v1l-13,3.25v-1zm-19.33-5.88h1l6.67,10h-1zm25.33,14.88v1l-13,3.25v-1zm-19.33-5.88h1l6.67,10h-1zm25.33,18v1l-13,0v-1zm-19.33-9h1l6.67,10h-1zm25.33,18v1l-13,0v-1zm-19.33-9h1l6.67,10h-1zm25.33,17.88v1l-13,3.25v-1zm-19.25-8.88h1l6.5,13h-1zm25.25,21v1l-13,0v-1zm-19.33-9h1l6.67,10h-1zm25.33,21v1l-13,0v-1zm-19.25-12h1l6.5,13h-1zm25.25,20.88v1l-13,3.25v-1zm-19.25-8.88h1l6.5,13h-1zm25.25,20.88v1l-13,3.25v-1zm-19.25-8.88h1l6.5,13h-1zm25.25,20.83v1l-10,3.33v-1zm-19.38-8.83h1l9.75,13h-1zm25.38,20.83v1l-10,3.33v-1zm-16.25-8.83h1l6.5,13h-1zm22.25,20.83v1l-10,3.33v-1zm-16.25-8.83h1l6.5,13h-1zm22.25,20.83v1l-10,3.33v-1zm-16.25-8.83h1l6.5,13h-1zm22.25,20.83v1l-10,3.33v-1zm-16.25-8.83h1l6.5,13h-1zm22.25,20.83v1l-10,3.33v-1zm-16.25-8.83h1l6.5,13h-1zm22.25,20.83v1l-10,3.33v-1zm-16.25-8.83h1l6.5,13h-1zm22.25,20.83v1l-10,3.33v-1zm-16.25-8.83h1l6.5,13h-1zm-292.75-209.17v1l-7,2.33v-1zm2-.66v1l-1,.33v-1zm-5,2.66v1l-10,3.33v-1zm-3-.08v1l-7,3.5v-1zm9-3.92v1l-4,1.33v-1zm2-.66v1l-1,.33v-1zm4-1.34v1l-2,.67v-1zm-9,2.92v1l-7,3.5v-1zm7-.25v1l-1,.33v-1zm8-2.67v1l-7,2.33v-1zm-13,3.17v1l-3,0v-1zm19-6.17v1l-10,3.33v-1zm-9,2.92v1l-3,1.5v-1zm12-4.92v1l-7,2.33v-1zm2-.66v1l-1,.33v-1zm-8,2.58v1l-7,3.5v-1zm9-3.92v1l-4,1.33v-1zm2-.66v1l-1,.33v-1zm4-1.34v1l-2,.67v-1zm-9,2.92v1l-7,3.5v-1zm15-5.92v1l-10,3.33v-1zm-9,2.92v1l-7,3.5v-1zm7-.13v1l-2,.5v-1zm6-1.5v1l-4,1v-1zm-7,1.88v1l-7,0v-1zm13-4.88v1l-8,2v-1zm5-1.24v1l-3,.75v-1zm-18,5.87v1l-1,.5v-1zm3-1.5v1l-1,.5v-1zm3-1.5v1l-2,1v-1zm9-3.63v1l-4,1v-1zm2-.5v1l-1,.25v-1zm7-1.74v1l-5,1.25v-1zm-12,2.87v1l-7,3.5v-1zm18-5.87v1l-13,3.25v-1zm-12,2.87v1l-7,3.5v-1zm9-.63v1l-4,1v-1zm2-.5v1l-1,.25v-1zm7-1.74v1l-5,1.25v-1zm-12,3.12v1l-7,0v-1zm18-6.12v1l-13,3.25v-1zm6,0v1l-13,3.25v-1zm6-3.13v1l-13,6.5v-1zm-12,6.25v1l-7,0v-1zm18-6.12v1l-13,3.25v-1zm-12,2.87v1l-7,3.5v-1zm18-2.87v1l-13,3.25v-1zm-12,3.12v1l-7,0v-1zm18-3.17v1l-10,3.33v-1zm-9,3.17v1l-10,0v-1zm15-.17v1l-10,3.33v-1zm-9,3.42v1l-7-3.5v-1zm15-3.42v1l-10,3.33v-1zm-9,3.17v1l-7,0v-1zm15-.17v1l-10,3.33v-1zm-9,3.42v1l-7-3.5v-1zm15-3.58v1l-10,6.67v-1zm-9,6.58v1l-7-3.5v-1zm15-3.42v1l-10,3.33v-1zm-9,3.17v1l-7,0v-1zm15,2.83v1l-10,3.33v-1zm-16.5-2.83h1l7,7h-1zm25.5,5.88v1l-13,3.25v-1zm-12,3.37v1l-7-3.5v-1zm18,2.63v1l-13,3.25v-1zm-19.5-2.88h1l7,7h-1zm25.5,5.88v1l-13,3.25v-1zm-12,3.37v1l-7-3.5v-1zm18,2.63v1l-13,3.25v-1zm-19.5-2.88h1l7,7h-1zm25.5,8.88v1l-13,3.25v-1zm-19.5-2.88h1l7,7h-1zm25.5,11.88v1l-13,3.25v-1zm-19.33-5.88h1l6.67,10h-1zm25.33,11.88v1l-13,3.25v-1zm-19.5-2.88h1l7,7h-1zm25.5,11.88v1l-13,3.25v-1zm-19.33-5.88h1l6.67,10h-1zm25.33,14.88v1l-13,3.25v-1zm-19.33-5.88h1l6.67,10h-1zm25.33,14.88v1l-13,3.25v-1zm-19.33-5.88h1l6.67,10h-1zm25.33,14.83v1l-10,3.33v-1zm-19.5-5.83h1l10,10h-1zm25.5,14.83v1l-10,3.33v-1zm-16.33-5.83h1l6.67,10h-1zm22.33,17.83v1l-10,3.33v-1zm-16.25-8.83h1l6.5,13h-1zm22.25,17.83v1l-10,3.33v-1zm-16.33-5.83h1l6.67,10h-1zm22.33,17.83v1l-10,3.33v-1zm-16.25-8.83h1l6.5,13h-1zm22.25,20.83v1l-10,3.33v-1zm-16.25-8.83h1l6.5,13h-1zm22.25,20.83v1l-10,3.33v-1zm-16.25-8.83h1l6.5,13h-1zm25.25,20.88v1l-13,3.25v-1zm-19.25-8.88h1l6.5,13h-1zm25.25,20.88v1l-13,3.25v-1zm-19.25-8.88h1l6.5,13h-1zm25.25,20.88v1l-13,3.25v-1zm-19.25-8.88h1l6.5,13h-1zm25.25,20.88v1l-13,3.25v-1zm-19.25-8.88h1l6.5,13h-1zm25.25,20.88v1l-13,3.25v-1zm-19.25-8.88h1l6.5,13h-1zm25.25,20.88v1l-13,3.25v-1zm-19.25-8.88h1l6.5,13h-1zm25.25,20.88v1l-13,3.25v-1zm-19.25-8.88h1l6.5,13h-1zm25.25,20.88v1l-13,3.25v-1zm-19.25-8.88h1l6.5,13h-1zm-286.75-210.12v1l-13,3.25v-1zm-18,6v1l-1,.25v-1zm2-.5v1l-1,.25v-1zm10-2.5v1l-4,1v-1zm-6-.13v1l-7,3.5v-1zm18-6v1l-13,6.5v-1zm-12,6.25v1l-7,0v-1zm12-4.62v1l-7,1.75v-1zm3-2.26v1l-4,1v-1zm9-2.24v1l-3,.75v-1zm6-3v1l-13,3.25v-1zm-12,2.87v1l-7,3.5v-1zm18-6v1l-13,6.5v-1zm-12,6.25v1l-7,0v-1zm18-9.25v1l-13,6.5v-1zm-3,2.37v1l-4,1v-1zm9-2.24v1l-3,.75v-1zm6-3v1l-13,3.25v-1zm6-3.21v1l-10,6.67v-1zm-9,6.33v1l-10,0v-1zm15-9.33v1l-10,6.67v-1zm-9,6.08v1l-7,3.5v-1zm15-5.92v1l-10,3.33v-1zm-9,2.92v1l-7,3.5v-1zm15-6.08v1l-10,6.67v-1zm-9,6.33v1l-7,0v-1zm15-6.17v1l-10,3.33v-1zm6,0v1l-10,3.33v-1zm6-3.16v1l-10,6.67v-1zm-9,6.33v1l-7,0v-1zm15-6.33v1l-10,6.67v-1zm-9,6.33v1l-7,0v-1zm18-6.25v1l-13,6.5v-1zm-12,6.25v1l-7,0v-1zm18-3.12v1l-13,3.25v-1zm-12,3.12v1l-7,0v-1zm18-3.25v1l-13,6.5v-1zm-12,6.5v1l-7-3.5v-1zm18-3.37v1l-13,3.25v-1zm-12,3.12v1l-7,0v-1zm18-.12v1l-13,3.25v-1zm-12,3.37v1l-7-3.5v-1zm18-3.5v1l-13,6.5v-1zm-12,6.5v1l-7-3.5v-1zm18-.37v1l-13,3.25v-1zm-12,3.37v1l-7-3.5v-1zm18-.5v1l-13,6.5v-1zm-19.5,.25h1l7,7h-1zm25.5,5.88v1l-13,3.25v-1zm-12,3.37v1l-7-3.5v-1zm18-.58v1l-10,6.67v-1zm-9,6.66v1l-10-6.67v-1zm15-.66v1l-10,6.67v-1zm-16.5,.33h1l7,7h-1zm22.5,5.67v1l-10,6.67v-1zm-16.5,.33h1l7,7h-1zm22.5,8.83v1l-10,3.33v-1zm-16.5-2.83h1l7,7h-1zm22.5,8.67v1l-10,6.67v-1zm-16.33-2.67h1l6.67,10h-1zm22.33,11.67v1l-10,6.67v-1zm-16.33-2.67h1l6.67,10h-1zm22.33,11.83v1l-10,3.33v-1zm-16.5-2.83h1l7,7h-1zm22.5,11.83v1l-10,3.33v-1zm-16.33-5.83h1l6.67,10h-1zm25.33,14.75v1l-13,6.5v-1zm-19.25-5.75h1l6.5,13h-1zm25.25,14.75v1l-13,6.5v-1zm-19.33-2.75h1l6.67,10h-1zm25.33,14.88v1l-13,3.25v-1zm-19.33-5.88h1l6.67,10h-1zm25.33,14.75v1l-13,6.5v-1zm-19.25-5.75h1l6.5,13h-1zm25.25,17.75v1l-13,6.5v-1zm-19.25-5.75h1l6.5,13h-1zm25.25,17.88v1l-13,3.25v-1zm-19.33-5.88h1l6.67,10h-1zm25.33,17.88v1l-13,3.25v-1zm-19.25-8.88h1l6.5,13h-1zm25.25,20.88v1l-13,3.25v-1zm-19.25-8.88h1l6.5,13h-1zm25.25,20.88v1l-13,3.25v-1zm-19.25-8.88h1l6.5,13h-1zm25.25,20.83v1l-10,3.33v-1zm-19.38-8.83h1l9.75,13h-1zm25.38,20.83v1l-10,3.33v-1zm-16.25-8.83h1l6.5,13h-1zm22.25,20.83v1l-10,3.33v-1zm-16.25-8.83h1l6.5,13h-1zm22.25,20.83v1l-10,3.33v-1zm-16.25-8.83h1l6.5,13h-1zm22.25,20.83v1l-10,3.33v-1zm-16.25-8.83h1l6.5,13h-1zm22.25,20.83v1l-10,3.33v-1zm-16.25-8.83h1l6.5,13h-1zm-289.75-210.25v1l-13,6.5v-1zm-6,3v1l-13,6.5v-1zm-6,3v1l-7,3.5v-1zm18-6v1l-13,6.5v-1zm-12,6.25v1l-7,0v-1zm18-9.33v1l-10,6.67v-1zm-9,6.16v1l-10,3.33v-1zm15-9.16v1l-10,6.67v-1zm-9,6.08v1l-7,3.5v-1zm15-9.08v1l-10,6.67v-1zm-9,6.08v1l-7,3.5v-1zm15-6.08v1l-10,6.67v-1zm-9,6.33v1l-7,0v-1zm15-9.33v1l-10,6.67v-1zm-9,6.08v1l-7,3.5v-1zm15-9.08v1l-10,6.67v-1zm6-3v1l-10,6.67v-1zm9,.08v1l-13,6.5v-1zm-12,6.25v1l-7,0v-1zm18-9.25v1l-13,6.5v-1zm6-3v1l-13,6.5v-1zm6,0v1l-13,6.5v-1zm6-3v1l-13,6.5v-1zm6,0v1l-13,6.5v-1zm-12,6.25v1l-7,0v-1zm18-6.25v1l-13,6.5v-1zm-12,6.25v1l-7,0v-1zm18-6.25v1l-13,6.5v-1zm-12,6.25v1l-7,0v-1zm18-6.25v1l-13,6.5v-1zm-12,6.25v1l-7,0v-1zm18-6.25v1l-13,6.5v-1zm-12,6.25v1l-7,0v-1zm18-3.33v1l-10,6.67v-1zm-9,6.5v1l-10-3.33v-1zm15-6.5v1l-10,6.67v-1zm-9,6.33v1l-7,0v-1zm15-3.33v1l-10,6.67v-1zm-9,6.58v1l-7-3.5v-1zm15-3.58v1l-10,6.67v-1zm-9,6.58v1l-7-3.5v-1zm15-3.58v1l-10,6.67v-1zm-9,6.58v1l-7-3.5v-1zm15-.58v1l-10,6.67v-1zm-16.5,.33h1l7,7h-1zm22.5,2.67v1l-10,6.67v-1zm-9,6.58v1l-7-3.5v-1zm18-.5v1l-13,6.5v-1zm-19.5,.25h1l7,7h-1zm25.5,5.75v1l-13,6.5v-1zm-19.5,.25h1l7,7h-1zm25.5,5.75v1l-13,6.5v-1zm-19.5,.25h1l7,7h-1zm25.5,5.62v1l-13,9.75v-1zm-19.33,.38h1l6.67,10h-1zm25.33,8.75v1l-13,6.5v-1zm-19.5,.25h1l7,7h-1zm25.5,8.75v1l-13,6.5v-1zm-19.33-2.75h1l6.67,10h-1zm25.33,8.62v1l-13,9.75v-1zm-19.33,.38h1l6.67,10h-1zm25.33,8.62v1l-13,9.75v-1zm-19.33,.38h1l6.67,10h-1zm25.33,11.75v1l-13,6.5v-1zm-19.33-2.75h1l6.67,10h-1zm25.33,11.75v1l-13,6.5v-1zm-19.33-2.75h1l6.67,10h-1zm25.33,11.67v1l-10,6.67v-1zm-19.5-2.67h1l10,10h-1zm25.5,14.67v1l-10,6.67v-1zm-16.25-5.67h1l6.5,13h-1zm22.25,17.67v1l-10,6.67v-1zm-16.25-5.67h1l6.5,13h-1zm22.25,14.67v1l-10,6.67v-1zm-16.33-2.67h1l6.67,10h-1zm22.33,14.67v1l-10,6.67v-1zm-16.25-5.67h1l6.5,13h-1zm22.25,17.67v1l-10,6.67v-1zm-16.25-5.67h1l6.5,13h-1zm22.25,17.67v1l-10,6.67v-1zm-16.25-5.67h1l6.5,13h-1zm25.25,17.75v1l-13,6.5v-1zm-19.25-5.75h1l6.5,13h-1zm25.25,17.75v1l-13,6.5v-1zm-19.25-5.75h1l6.5,13h-1zm25.25,17.75v1l-13,6.5v-1zm-19.25-5.75h1l6.5,13h-1zm25.25,17.75v1l-13,6.5v-1zm-19.25-5.75h1l6.5,13h-1zm25.25,17.75v1l-13,6.5v-1zm-19.25-5.75h1l6.5,13h-1zm25.25,17.75v1l-13,6.5v-1zm-19.25-5.75h1l6.5,13h-1zm-289.75-210.33v1l-10,6.67v-1zm-6,3v1l-10,6.67v-1zm-3,3.08v1l-7,3.5v-1zm15-6.08v1l-10,6.67v-1zm-9,6.33v1l-7,0v-1zm18-9.25v1l-13,6.5v-1zm-12,6v1l-7,3.5v-1zm18-9v1l-13,6.5v-1zm-12,6v1l-7,3.5v-1zm18-9.13v1l-13,9.75v-1zm-12,9.38v1l-7,0v-1zm18-9.25v1l-13,6.5v-1zm-12,6v1l-7,3.5v-1zm18-9v1l-13,6.5v-1zm-12,6v1l-7,3.5v-1zm18-9v1l-13,6.5v-1zm-12,6v1l-7,3.5v-1zm18-9.13v1l-13,9.75v-1zm-12,9.38v1l-7,0v-1zm18-9.25v1l-13,6.5v-1zm-12,6v1l-7,3.5v-1zm18-9v1l-13,6.5v-1zm-12,6v1l-7,3.5v-1zm17.5-8.75h1l-10,10h-1zm6.5-.33v1l-10,6.67v-1zm5.5-2.67h1l-10,10h-1zm-8.5,9v1l-7,0v-1zm14.5-9h1l-10,10h-1zm-8.5,9v1l-7,0v-1zm14.5-9h1l-10,10h-1zm-8.5,9v1l-7,0v-1zm14.5-9h1l-10,10h-1zm-8.5,9v1l-7,0v-1zm14.5-9h1l-10,10h-1zm-8.5,9v1l-7,0v-1zm14.5-9h1l-10,10h-1zm-8.5,9v1l-7,0v-1zm18-6.38v1l-13,9.75v-1zm-12,9.63v1l-7-3.5v-1zm18-9.63v1l-13,9.75v-1zm-12,9.38v1l-7,0v-1zm18-6.38v1l-13,9.75v-1zm-12,9.63v1l-7-3.5v-1zm18-6.63v1l-13,9.75v-1zm-12,9.63v1l-7-3.5v-1zm18-6.63v1l-13,9.75v-1zm-12,9.63v1l-7-3.5v-1zm18-3.63v1l-13,9.75v-1zm-19.5,3.38h1l7,7h-1zm25.5-.38v1l-13,9.75v-1zm-12,9.63v1l-7-3.5v-1zm18-3.63v1l-13,9.75v-1zm-19.5,3.38h1l7,7h-1zm25.5,2.62v1l-13,9.75v-1zm-19.5,3.38h1l7,7h-1zm25,3h1l-10,10h-1zm-8.5,9.33v1l-10-6.67v-1zm15-.66v1l-10,6.67v-1zm-16.5,.33h1l7,7h-1zm22,6h1l-10,10h-1zm-15.83,0h1l6.67,10h-1zm22.33,8.67v1l-10,6.67v-1zm-16.5,.33h1l7,7h-1zm22.5,8.67v1l-10,6.67v-1zm-16.33-2.67h1l6.67,10h-1zm22.33,11.67v1l-10,6.67v-1zm-16.33-2.67h1l6.67,10h-1zm22.33,11.67v1l-10,6.67v-1zm-16.33-2.67h1l6.67,10h-1zm21.83,12h1l-10,10h-1zm-15.75-3h1l6.5,13h-1zm25.25,11.62v1l-13,9.75v-1zm-19.33,.38h1l6.67,10h-1zm25.33,11.62v1l-13,9.75v-1zm-19.25-2.62h1l6.5,13h-1zm25.25,14.75v1l-13,6.5v-1zm-19.33-2.75h1l6.67,10h-1zm25.33,11.62v1l-13,9.75v-1zm-19.25-2.62h1l6.5,13h-1zm25.25,14.62v1l-13,9.75v-1zm-19.25-2.62h1l6.5,13h-1zm25.25,14.62v1l-13,9.75v-1zm-19.25-2.62h1l6.5,13h-1zm25.25,14.62v1l-13,9.75v-1zm-19.25-2.62h1l6.5,13h-1zm25.25,14.62v1l-13,9.75v-1zm-19.25-2.62h1l6.5,13h-1zm25.25,14.62v1l-13,9.75v-1zm-19.25-2.62h1l6.5,13h-1zm25.25,14.62v1l-13,9.75v-1zm-19.25-2.62h1l6.5,13h-1zm24.75,15h1l-10,10h-1zm-18.88-3h1l9.75,13h-1zm24.88,15h1l-10,10h-1zm-15.75-3h1l6.5,13h-1zm21.75,15h1l-10,10h-1zm-15.75-3h1l6.5,13h-1zm-289.75-213.38v1l-13,9.75v-1zm-6,3v1l-13,9.75v-1zm-6,6.13v1l-7,3.5v-1zm18-9v1l-13,6.5v-1zm-12,6v1l-7,3.5v-1zm18-9.13v1l-13,9.75v-1zm-12,9.38v1l-7,0v-1zm18-12.38v1l-13,9.75v-1zm-12,9.13v1l-7,3.5v-1zm18-9.08v1l-10,6.67v-1zm-9,6.16v1l-10,3.33v-1zm14.5-8.83h1l-10,10h-1zm-8.5,9v1l-7,0v-1zm14.5-12h1l-10,10h-1zm-8.5,8.75v1l-7,3.5v-1zm14.5-11.75h1l-10,10h-1zm-8.5,8.75v1l-7,3.5v-1zm14.5-8.75h1l-10,10h-1zm-8.5,9v1l-7,0v-1zm14.5-12h1l-10,10h-1zm-8.5,8.75v1l-7,3.5v-1zm14.5-11.75h1l-10,10h-1zm-8.5,8.75v1l-7,3.5v-1zm18-9.13v1l-13,9.75v-1zm-12,9.38v1l-7,0v-1zm18-12.38v1l-13,9.75v-1zm-12,9.13v1l-7,3.5v-1zm18-9.13v1l-13,9.75v-1zm-12,9.38v1l-7,0v-1zm18-9.38v1l-13,9.75v-1zm-12,9.38v1l-7,0v-1zm18-9.38v1l-13,9.75v-1zm-12,9.38v1l-7,0v-1zm18-9.38v1l-13,9.75v-1zm-12,9.38v1l-7,0v-1zm18-9.38v1l-13,9.75v-1zm-12,9.38v1l-7,0v-1zm18-9.38v1l-13,9.75v-1zm-12,9.38v1l-7,0v-1zm18-6.38v1l-13,9.75v-1zm-12,9.63v1l-7-3.5v-1zm18-9.63v1l-13,9.75v-1zm-12,9.38v1l-7,0v-1zm17.5-6h1l-10,10h-1zm-8.5,9.17v1l-10-3.33v-1zm14.5-6.17h1l-10,10h-1zm-8.5,9.25v1l-7-3.5v-1zm14.5-6.25h1l-10,10h-1zm-8.5,9.25v1l-7-3.5v-1zm14.5-3.25h1l-10,10h-1zm-16,3h1l7,7h-1zm22,0h1l-10,10h-1zm-8.5,9.25v1l-7-3.5v-1zm14.5-3.25h1l-10,10h-1zm-16,3h1l7,7h-1zm22,3h1l-10,10h-1zm-16,3h1l7,7h-1zm25.5,2.62v1l-13,9.75v-1zm-19.5,3.38h1l7,7h-1zm25,3h1l-13,13h-1zm-18.83,3h1l6.67,10h-1zm25.33,5.62v1l-13,9.75v-1zm-19.5,3.38h1l7,7h-1zm25,3h1l-13,13h-1zm-18.83,3h1l6.67,10h-1zm25.33,5.62v1l-13,9.75v-1zm-19.5,3.38h1l7,7h-1zm25.5,5.62v1l-13,9.75v-1zm-19.33,.38h1l6.67,10h-1zm24.83,9h1l-13,13h-1zm-18.75,0h1l6.5,13h-1zm25.25,11.62v1l-13,9.75v-1zm-19.33,.38h1l6.67,10h-1zm25.33,8.62v1l-13,9.75v-1zm-19.33,.38h1l6.67,10h-1zm25.33,11.62v1l-13,9.75v-1zm-19.25-2.62h1l6.5,13h-1zm24.75,12h1l-10,10h-1zm-19,0h1l10,10h-1zm25,12h1l-10,10h-1zm-15.75-3h1l6.5,13h-1zm21.75,15h1l-10,10h-1zm-15.75-3h1l6.5,13h-1zm21.75,15h1l-10,10h-1zm-15.75-3h1l6.5,13h-1zm21.75,15h1l-10,10h-1zm-15.75-3h1l6.5,13h-1zm21.75,15h1l-10,10h-1zm-15.75-3h1l6.5,13h-1zm22.25,14.67v1l-10,6.67v-1zm-16.33-2.67h1l6.67,10h-1zm22.33,14.67v1l-10,6.67v-1zm-16.25-5.67h1l6.5,13h-1zm25.25,17.75v1l-13,6.5v-1zm-19.25-5.75h1l6.5,13h-1zm25.25,17.75v1l-13,6.5v-1zm-19.25-5.75h1l6.5,13h-1zm25.25,17.75v1l-13,6.5v-1zm-19.25-5.75h1l6.5,13h-1zm-290.25-210h1l-10,10h-1zm-5.5,2.67v1l-10,6.67v-1zm-3,6.33v1l-7,0v-1zm14.38-12h1l-9.75,13h-1zm-8.38,12v1l-7,0v-1zm14.5-12h1l-10,10h-1zm-8.5,8.75v1l-7,3.5v-1zm14.5-11.75h1l-10,10h-1zm-8.5,8.75v1l-7,3.5v-1zm17.5-11.75h1l-13,13h-1zm-11.5,12v1l-7,0v-1zm18-12.38v1l-13,9.75v-1zm-12,9.13v1l-7,3.5v-1zm18-12.13v1l-13,9.75v-1zm-12,9.13v1l-7,3.5v-1zm17.5-11.75h1l-13,13h-1zm-11.5,12v1l-7,0v-1zm18-12.38v1l-13,9.75v-1zm-12,9.13v1l-7,3.5v-1zm18-12.13v1l-13,9.75v-1zm-12,9.13v1l-7,3.5v-1zm17.5-11.75h1l-13,13h-1zm-11.5,12v1l-7,0v-1zm18-12.38v1l-13,9.75v-1zm-12,9.13v1l-7,3.5v-1zm17.5-11.75h1l-13,13h-1zm-11.5,12v1l-7,0v-1zm17.38-12h1l-9.75,13h-1zm-8.38,12v1l-10,0v-1zm14.38-12h1l-9.75,13h-1zm-8.38,12v1l-7,0v-1zm14.5-12h1l-10,10h-1zm-8.5,8.75v1l-7,3.5v-1zm14.38-8.75h1l-9.75,13h-1zm-8.38,12.25v1l-7-3.5v-1zm14.38-12.25h1l-9.75,13h-1zm-8.38,12v1l-7,0v-1zm14.38-12h1l-9.75,13h-1zm-8.38,12v1l-7,0v-1zm14.38-9h1l-9.75,13h-1zm-8.38,12.25v1l-7-3.5v-1zm14.38-12.25h1l-9.75,13h-1zm-8.38,12v1l-7,0v-1zm17.5-9h1l-13,13h-1zm-11.5,12.25v1l-7-3.5v-1zm17.5-9.25h1l-13,13h-1zm-11.5,12.25v1l-7-3.5v-1zm17.5-9.25h1l-13,13h-1zm-11.5,12.25v1l-7-3.5v-1zm17.5-6.25h1l-13,13h-1zm-19,6h1l7,7h-1zm25-3h1l-13,13h-1zm-11.5,12.25v1l-7-3.5v-1zm17.5-6.25h1l-13,13h-1zm-19,6h1l7,7h-1zm25,0h1l-13,13h-1zm-19,6h1l7,7h-1zm25,0h1l-13,13h-1zm-19,6h1l7,7h-1zm25.5,2.62v1l-13,9.75v-1zm-19.5,3.38h1l7,7h-1zm25,3h1l-13,13h-1zm-18.83,3h1l6.67,10h-1zm24.83,6h1l-10,10h-1zm-8.5,9.33v1l-10-6.67v-1zm14.38-3.33h1l-9.75,13h-1zm-15.71,3h1l6.67,10h-1zm21.71,6h1l-9.75,13h-1zm-15.71,3h1l6.67,10h-1zm21.83,9h1l-10,10h-1zm-15.83,0h1l6.67,10h-1zm21.83,9h1l-10,10h-1zm-15.83,0h1l6.67,10h-1zm21.71,9h1l-9.75,13h-1zm-15.63,0h1l6.5,13h-1zm21.75,12h1l-10,10h-1zm-15.83,0h1l6.67,10h-1zm24.83,9h1l-13,13h-1zm-18.75,0h1l6.5,13h-1zm24.75,12h1l-13,13h-1zm-18.75,0h1l6.5,13h-1zm25.25,11.62v1l-13,9.75v-1zm-19.33,.38h1l6.67,10h-1zm25.33,11.62v1l-13,9.75v-1zm-19.25-2.62h1l6.5,13h-1zm25.25,14.62v1l-13,9.75v-1zm-19.25-2.62h1l6.5,13h-1zm25.25,14.62v1l-13,9.75v-1zm-19.25-2.62h1l6.5,13h-1zm24.75,12h1l-13,13h-1zm-18.75,0h1l6.5,13h-1zm24.75,12h1l-13,13h-1zm-18.75,0h1l6.5,13h-1zm24.75,12h1l-13,13h-1zm-18.75,0h1l6.5,13h-1zm25.25,11.62v1l-13,9.75v-1zm-19.33,.38h1l6.67,10h-1zm24.83,12h1l-10,10h-1zm-18.88-3h1l9.75,13h-1zm-286.62-210.38v1l-13,9.75v-1zm-6.5,.38h1l-13,13h-1zm-5.5,8.75v1l-7,3.5v-1zm18-9.13v1l-13,9.75v-1zm-12,9.38v1l-7,0v-1zm18-12.38v1l-13,9.75v-1zm-12,9.13v1l-7,3.5v-1zm17.5-11.75h1l-13,13h-1zm-11.5,12v1l-7,0v-1zm18-12.38v1l-13,9.75v-1zm-12,9.13v1l-7,3.5v-1zm17.5-11.75h1l-13,13h-1zm-11.5,12v1l-7,0v-1zm17.38-15h1l-9.75,13h-1zm-8.38,11.83v1l-10,3.33v-1zm14.5-11.83h1l-10,10h-1zm-8.5,8.75v1l-7,3.5v-1zm14.38-11.75h1l-9.75,13h-1zm-8.38,12v1l-7,0v-1zm14.38-15h1l-9.75,13h-1zm-8.38,11.75v1l-7,3.5v-1zm14.38-11.75h1l-9.75,13h-1zm-8.38,12v1l-7,0v-1zm14.38-15h1l-9.75,13h-1zm-8.38,11.75v1l-7,3.5v-1zm14.38-11.75h1l-9.75,13h-1zm-8.38,12v1l-7,0v-1zm17.5-12h1l-13,13h-1zm-11.5,12v1l-7,0v-1zm17.5-12h1l-13,13h-1zm-11.5,12v1l-7,0v-1zm17.4-15h1l-12.8,16h-1zm-11.4,15v1l-7,0v-1zm17.5-12h1l-13,13h-1zm-11.5,12v1l-7,0v-1zm17.5-12h1l-13,13h-1zm-11.5,12v1l-7,0v-1zm17.5-12h1l-13,13h-1zm-11.5,12v1l-7,0v-1zm17.5-9h1l-13,13h-1zm-11.5,12.25v1l-7-3.5v-1zm17.4-12.25h1l-12.8,16h-1zm-11.4,15.25v1l-7-3.5v-1zm17.5-12.25h1l-13,13h-1zm-11.5,12v1l-7,0v-1zm17.5-9h1l-13,13h-1zm-11.5,12.25v1l-7-3.5v-1zm17.3-9.25h1l-9.6,16h-1zm-8.3,15.33v1l-10-6.67v-1zm14.38-9.33h1l-9.75,13h-1zm-8.38,12.25v1l-7-3.5v-1zm14.3-9.25h1l-9.6,16h-1zm-15.8,9h1l7,7h-1zm21.88-3h1l-9.75,13h-1zm-8.38,12.25v1l-7-3.5v-1zm14.38-6.25h1l-9.75,13h-1zm-15.88,6h1l7,7h-1zm21.88,0h1l-9.75,13h-1zm-15.88,6h1l7,7h-1zm21.8,0h1l-9.6,16h-1zm-15.63,6h1l6.67,10h-1zm21.71,3h1l-9.75,13h-1zm-15.88,6h1l7,7h-1zm24.9,0h1l-12.8,16h-1zm-18.73,6h1l6.67,10h-1zm24.83,3h1l-13,13h-1zm-19,6h1l7,7h-1zm25,3h1l-13,13h-1zm-18.83,3h1l6.67,10h-1zm24.83,6h1l-13,13h-1zm-18.83,3h1l6.67,10h-1zm24.73,6h1l-12.8,16h-1zm-18.65,3h1l6.5,13h-1zm24.75,9h1l-13,13h-1zm-18.83,3h1l6.67,10h-1zm24.83,6h1l-13,13h-1zm-18.83,3h1l6.67,10h-1zm24.83,9h1l-13,13h-1zm-18.75,0h1l6.5,13h-1zm25.25,11.62v1l-13,9.75v-1zm-19.33,.38h1l6.67,10h-1zm24.71,9h1l-9.75,13h-1zm-18.76,0h1l9.75,13h-1zm24.76,12h1l-9.75,13h-1zm-15.63,0h1l6.5,13h-1zm21.63,12h1l-9.75,13h-1zm-15.63,0h1l6.5,13h-1zm21.63,12h1l-9.75,13h-1zm-15.63,0h1l6.5,13h-1zm21.75,12h1l-10,10h-1zm-15.83,0h1l6.67,10h-1zm21.83,12h1l-10,10h-1zm-15.75-3h1l6.5,13h-1zm21.75,15h1l-10,10h-1zm-15.75-3h1l6.5,13h-1zm21.63,12h1l-9.75,13h-1zm-15.63,0h1l6.5,13h-1zm24.75,12h1l-13,13h-1zm-18.75,0h1l6.5,13h-1zm-290.37-213h1l-9.75,13h-1zm-5.88,3h1l-10,10h-1zm-2.5,9v1l-7,0v-1zm14.38-12h1l-9.75,13h-1zm-8.38,12v1l-7,0v-1zm14.38-15h1l-9.75,13h-1zm-8.38,11.75v1l-7,3.5v-1zm14.38-11.75h1l-9.75,13h-1zm-8.38,12v1l-7,0v-1zm14.38-15h1l-9.75,13h-1zm-8.38,11.75v1l-7,3.5v-1zm14.38-11.75h1l-9.75,13h-1zm-8.38,12v1l-7,0v-1zm17.5-15h1l-13,13h-1zm-11.5,11.75v1l-7,3.5v-1zm17.4-14.75h1l-12.8,16h-1zm-11.4,15v1l-7,0v-1zm17.5-15h1l-13,13h-1zm-11.5,11.75v1l-7,3.5v-1zm17.4-14.75h1l-12.8,16h-1zm-11.4,15v1l-7,0v-1zm17.5-15h1l-13,13h-1zm-11.5,11.75v1l-7,3.5v-1zm17.4-14.75h1l-12.8,16h-1zm-11.4,15v1l-7,0v-1zm17.4-15h1l-12.8,16h-1zm-11.4,15v1l-7,0v-1zm17.5-15h1l-13,13h-1zm-11.5,11.75v1l-7,3.5v-1zm17.5-11.75h1l-13,13h-1zm-11.5,12v1l-7,0v-1zm17.38-12h1l-9.75,13h-1zm-8.38,12v1l-10,0v-1zm14.38-12h1l-9.75,13h-1zm-8.38,12v1l-7,0v-1zm14.3-12h1l-9.6,16h-1zm-8.3,15.25v1l-7-3.5v-1zm14.3-15.25h1l-9.6,16h-1zm-8.3,15v1l-7,0v-1zm14.3-12h1l-9.6,16h-1zm-8.3,15.25v1l-7-3.5v-1zm14.38-12.25h1l-9.75,13h-1zm-8.38,12v1l-7,0v-1zm14.3-12h1l-9.6,16h-1zm-8.3,15.25v1l-7-3.5v-1zm14.3-12.25h1l-9.6,16h-1zm-8.3,15.25v1l-7-3.5v-1zm17.4-9.25h1l-12.8,16h-1zm-18.9,9h1l7,7h-1zm24.9-6h1l-12.8,16h-1zm-11.4,15.25v1l-7-3.5v-1zm17.5-9.25h1l-13,13h-1zm-11.5,12.25v1l-7-3.5v-1zm17.4-9.25h1l-12.8,16h-1zm-18.9,9h1l7,7h-1zm24.9-3h1l-12.8,16h-1zm-18.9,9h1l7,7h-1zm24.9-3h1l-12.8,16h-1zm-18.9,9h1l7,7h-1zm25,0h1l-13,13h-1zm-19,6h1l7,7h-1zm24.9,0h1l-12.8,16h-1zm-18.73,6h1l6.67,10h-1zm24.83,3h1l-13,13h-1zm-19,6h1l7,7h-1zm24.9,0h1l-12.8,16h-1zm-18.73,6h1l6.67,10h-1zm24.63,3h1l-9.6,16h-1zm-18.8,6h1l10,10h-1zm24.8,3h1l-9.6,16h-1zm-15.63,6h1l6.67,10h-1zm21.71,6h1l-9.75,13h-1zm-15.71,3h1l6.67,10h-1zm21.71,6h1l-9.75,13h-1zm-15.71,3h1l6.67,10h-1zm21.63,6h1l-9.6,16h-1zm-15.55,3h1l6.5,13h-1zm21.63,9h1l-9.75,13h-1zm-15.71,3h1l6.67,10h-1zm21.63,6h1l-9.6,16h-1zm-15.55,3h1l6.5,13h-1zm24.65,9h1l-12.8,16h-1zm-18.65,3h1l6.5,13h-1zm24.75,9h1l-13,13h-1zm-18.83,3h1l6.67,10h-1zm24.83,9h1l-13,13h-1zm-18.75,0h1l6.5,13h-1zm24.75,12h1l-13,13h-1zm-18.75,0h1l6.5,13h-1zm24.65,9h1l-12.8,16h-1zm-18.65,3h1l6.5,13h-1zm24.75,9h1l-13,13h-1zm-18.83,3h1l6.67,10h-1zm24.83,9h1l-13,13h-1zm-18.75,0h1l6.5,13h-1zm24.75,12h1l-13,13h-1zm-18.75,0h1l6.5,13h-1zm24.75,12h1l-13,13h-1zm-18.75,0h1l6.5,13h-1zm-287.25-213h1l-13,13h-1zm-6,0h1l-13,13h-1zm-5.5,12v1l-7,0v-1zm17.5-12h1l-13,13h-1zm-11.5,12v1l-7,0v-1zm17.5-15h1l-13,13h-1zm-11.5,11.75v1l-7,3.5v-1zm17.5-11.75h1l-13,13h-1zm-11.5,12v1l-7,0v-1zm17.4-15h1l-12.8,16h-1zm-11.4,15v1l-7,0v-1zm17.5-15h1l-13,13h-1zm-11.5,11.75v1l-7,3.5v-1zm17.4-14.75h1l-12.8,16h-1zm-11.4,15v1l-7,0v-1zm17.5-15h1l-13,13h-1zm-11.5,11.75v1l-7,3.5v-1zm17.3-14.75h1l-9.6,16h-1zm-8.3,15v1l-10,0v-1zm14.38-15h1l-9.75,13h-1zm-8.38,11.75v1l-7,3.5v-1zm14.3-14.75h1l-9.6,16h-1zm-8.3,15v1l-7,0v-1zm14.3-15h1l-9.6,16h-1zm-8.3,15v1l-7,0v-1zm14.38-15h1l-9.75,13h-1zm-8.38,11.75v1l-7,3.5v-1zm14.3-14.75h1l-9.6,16h-1zm-8.3,15v1l-7,0v-1zm14.3-15h1l-9.6,16h-1zm-8.3,15v1l-7,0v-1zm17.4-15h1l-12.8,16h-1zm-11.4,15v1l-7,0v-1zm17.33-15h1l-12.67,19h-1zm-11.33,18.25v1l-7-3.5v-1zm17.4-15.25h1l-12.8,16h-1zm-11.4,15v1l-7,0v-1zm17.4-15h1l-12.8,16h-1zm-11.4,15v1l-7,0v-1zm17.4-12h1l-12.8,16h-1zm-11.4,15.25v1l-7-3.5v-1zm17.33-15.25h1l-12.67,19h-1zm-11.33,18.25v1l-7-3.5v-1zm17.33-15.25h1l-12.67,19h-1zm-11.33,18.25v1l-7-3.5v-1zm17.33-15.25h1l-12.67,19h-1zm-11.33,18.25v1l-7-3.5v-1zm17.4-12.25h1l-12.8,16h-1zm-11.4,15.25v1l-7-3.5v-1zm17.4-12.25h1l-12.8,16h-1zm-11.4,15.25v1l-7-3.5v-1zm17.25-12.25h1l-9.5,19h-1zm-8.25,18.33v1l-10-6.67v-1zm14.25-12.33h1l-9.5,19h-1zm-15.75,12h1l7,7h-1zm21.8-6h1l-9.6,16h-1zm-8.3,15.25v1l-7-3.5v-1zm14.25-9.25h1l-9.5,19h-1zm-15.58,9h1l6.67,10h-1zm21.58-3h1l-9.5,19h-1zm-15.75,12h1l7,7h-1zm21.8-3h1l-9.6,16h-1zm-15.8,9h1l7,7h-1zm21.75-3h1l-9.5,19h-1zm-15.58,9h1l6.67,10h-1zm21.63,0h1l-9.6,16h-1zm-15.8,9h1l7,7h-1zm24.9,0h1l-12.8,16h-1zm-18.73,6h1l6.67,10h-1zm24.73,3h1l-12.8,16h-1zm-18.73,6h1l6.67,10h-1zm24.73,3h1l-12.8,16h-1zm-18.73,6h1l6.67,10h-1zm24.73,3h1l-12.8,16h-1zm-18.73,6h1l6.67,10h-1zm24.73,6h1l-12.8,16h-1zm-18.65,3h1l6.5,13h-1zm24.65,6h1l-12.8,16h-1zm-18.73,6h1l6.67,10h-1zm24.73,6h1l-12.8,16h-1zm-18.65,3h1l6.5,13h-1zm24.75,9h1l-13,13h-1zm-18.83,3h1l6.67,10h-1zm24.73,6h1l-12.8,16h-1zm-18.65,3h1l6.5,13h-1zm24.55,9h1l-9.6,16h-1zm-18.68,3h1l9.75,13h-1zm24.76,9h1l-9.75,13h-1zm-15.71,3h1l6.67,10h-1zm21.71,9h1l-9.75,13h-1zm-15.63,0h1l6.5,13h-1zm21.55,9h1l-9.6,16h-1zm-15.55,3h1l6.5,13h-1zm21.63,9h1l-9.75,13h-1zm-15.71,3h1l6.67,10h-1zm21.71,9h1l-9.75,13h-1zm-15.63,0h1l6.5,13h-1zm21.63,12h1l-9.75,13h-1zm-15.63,0h1l6.5,13h-1zm-290.45-213h1l-9.6,16h-1zm-5.9,0h1l-12.8,16h-1zm-2.4,15v1l-10,0v-1zm14.38-15h1l-9.75,13h-1zm-8.38,11.75v1l-7,3.5v-1zm14.3-14.75h1l-9.6,16h-1zm-8.3,15v1l-7,0v-1zm14.3-15h1l-9.6,16h-1zm-8.3,15v1l-7,0v-1zm14.38-15h1l-9.75,13h-1zm-8.38,11.75v1l-7,3.5v-1zm14.3-14.75h1l-9.6,16h-1zm-8.3,15v1l-7,0v-1zm14.38-15h1l-9.75,13h-1zm-8.38,11.75v1l-7,3.5v-1zm14.3-14.75h1l-9.6,16h-1zm-8.3,15v1l-7,0v-1zm17.4-15h1l-12.8,16h-1zm-11.4,15v1l-7,0v-1zm17.4-18h1l-12.8,16h-1zm-11.4,14.75v1l-7,3.5v-1zm17.4-14.75h1l-12.8,16h-1zm-11.4,15v1l-7,0v-1zm17.4-15h1l-12.8,16h-1zm-11.4,15v1l-7,0v-1zm17.33-18h1l-12.67,19h-1zm-11.33,18v1l-7,0v-1zm17.33-18h1l-12.67,19h-1zm-11.33,18v1l-7,0v-1zm17.33-18h1l-12.67,19h-1zm-11.33,18v1l-7,0v-1zm17.33-18h1l-12.67,19h-1zm-11.33,18v1l-7,0v-1zm17.4-15h1l-12.8,16h-1zm-11.4,15v1l-7,0v-1zm17.4-15h1l-12.8,16h-1zm-11.4,15v1l-7,0v-1zm17.25-15h1l-9.5,19h-1zm-8.25,18.17v1l-10-3.33v-1zm14.25-15.17h1l-9.5,19h-1zm-8.25,18.25v1l-7-3.5v-1zm14.3-15.25h1l-9.6,16h-1zm-8.3,15v1l-7,0v-1zm14.3-12h1l-9.6,16h-1zm-8.3,15.25v1l-7-3.5v-1zm14.3-12.25h1l-9.6,16h-1zm-8.3,15.25v1l-7-3.5v-1zm14.25-12.25h1l-9.5,19h-1zm-15.75,12h1l7,7h-1zm21.75-9h1l-9.5,19h-1zm-8.25,18.25v1l-7-3.5v-1zm17.33-12.25h1l-12.67,19h-1zm-18.83,12h1l7,7h-1zm24.9-6h1l-12.8,16h-1zm-11.4,15.25v1l-7-3.5v-1zm17.33-12.25h1l-12.67,19h-1zm-18.83,12h1l7,7h-1zm24.9-3h1l-12.8,16h-1zm-18.9,9h1l7,7h-1zm24.9-3h1l-12.8,16h-1zm-18.9,9h1l7,7h-1zm24.83-3h1l-12.67,19h-1zm-18.66,9h1l6.67,10h-1zm24.73,0h1l-12.8,16h-1zm-18.9,9h1l7,7h-1zm24.83-3h1l-12.67,19h-1zm-18.66,9h1l6.67,10h-1zm24.66,0h1l-12.67,19h-1zm-18.66,9h1l6.67,10h-1zm24.66,0h1l-12.67,19h-1zm-18.66,9h1l6.67,10h-1zm24.58,0h1l-9.5,19h-1zm-18.75,9h1l10,10h-1zm24.75,0h1l-9.5,19h-1zm-15.58,9h1l6.67,10h-1zm21.63,3h1l-9.6,16h-1zm-15.63,6h1l6.67,10h-1zm21.63,3h1l-9.6,16h-1zm-15.63,6h1l6.67,10h-1zm21.63,6h1l-9.6,16h-1zm-15.55,3h1l6.5,13h-1zm21.55,6h1l-9.6,16h-1zm-15.63,6h1l6.67,10h-1zm21.63,6h1l-9.6,16h-1zm-15.55,3h1l6.5,13h-1zm24.65,9h1l-12.8,16h-1zm-18.65,3h1l6.5,13h-1zm24.65,6h1l-12.8,16h-1zm-18.73,6h1l6.67,10h-1zm24.73,6h1l-12.8,16h-1zm-18.65,3h1l6.5,13h-1zm24.75,9h1l-13,13h-1zm-18.83,3h1l6.67,10h-1zm24.73,6h1l-12.8,16h-1zm-18.65,3h1l6.5,13h-1zm24.65,9h1l-12.8,16h-1zm-18.65,3h1l6.5,13h-1zm24.75,9h1l-13,13h-1zm-18.83,3h1l6.67,10h-1zm-287.17-213h1l-13,13h-1zm-9.12,0h1l-9.75,13h-1zm-2.38,12v1l-7,0v-1zm17.4-15h1l-12.8,16h-1zm-11.4,15v1l-7,0v-1zm17.4-15h1l-12.8,16h-1zm-11.4,15v1l-7,0v-1zm17.4-15h1l-12.8,16h-1zm-11.4,15v1l-7,0v-1zm17.4-18h1l-12.8,16h-1zm-11.4,14.75v1l-7,3.5v-1zm17.4-14.75h1l-12.8,16h-1zm-11.4,15v1l-7,0v-1zm17.33-18h1l-12.67,19h-1zm-11.33,18v1l-7,0v-1zm17.4-18h1l-12.8,16h-1zm-11.4,14.75v1l-7,3.5v-1zm17.4-14.75h1l-12.8,16h-1zm-11.4,15v1l-7,0v-1zm17.33-18h1l-12.67,19h-1zm-11.33,18v1l-7,0v-1zm17.25-18h1l-9.5,19h-1zm-8.25,18v1l-10,0v-1zm14.3-18h1l-9.6,16h-1zm-8.3,14.75v1l-7,3.5v-1zm14.3-14.75h1l-9.6,16h-1zm-8.3,15v1l-7,0v-1zm14.3-15h1l-9.6,16h-1zm-8.3,15v1l-7,0v-1zm14.3-15h1l-9.6,16h-1zm-8.3,15v1l-7,0v-1zm14.25-15h1l-9.5,19h-1zm-8.25,18.25v1l-7-3.5v-1zm14.25-18.25h1l-9.5,19h-1zm-8.25,18v1l-7,0v-1zm14.25-18h1l-9.5,19h-1zm-8.25,18v1l-7,0v-1zm17.33-15h1l-12.67,19h-1zm-11.33,18.25v1l-7-3.5v-1zm17.33-15.25h1l-12.67,19h-1zm-11.33,18.25v1l-7-3.5v-1zm17.33-18.25h1l-12.67,19h-1zm-11.33,18v1l-7,0v-1zm17.33-15h1l-12.67,19h-1zm-11.33,18.25v1l-7-3.5v-1zm17.29-15.25h1l-12.57,22h-1zm-18.79,15h1l7,7h-1zm24.83-9h1l-12.67,19h-1zm-11.33,18.25v1l-7-3.5v-1zm17.33-15.25h1l-12.67,19h-1zm-11.33,18.25v1l-7-3.5v-1zm17.33-12.25h1l-12.67,19h-1zm-18.83,12h1l7,7h-1zm24.79-9h1l-12.57,22h-1zm-18.79,15h1l7,7h-1zm24.75-9h1l-9.5,19h-1zm-8.25,18.17v1l-10-3.33v-1zm14.25-12.17h1l-9.5,19h-1zm-15.75,12h1l7,7h-1zm21.71-6h1l-9.43,22h-1zm-15.54,12h1l6.67,10h-1zm21.58-3h1l-9.5,19h-1zm-15.75,12h1l7,7h-1zm21.75-6h1l-9.5,19h-1zm-15.75,12h1l7,7h-1zm21.75-3h1l-9.5,19h-1zm-15.58,9h1l6.67,10h-1zm21.58,0h1l-9.5,19h-1zm-15.58,9h1l6.67,10h-1zm21.58,0h1l-9.5,19h-1zm-15.58,9h1l6.67,10h-1zm24.66,0h1l-12.67,19h-1zm-18.66,9h1l6.67,10h-1zm24.66,0h1l-12.67,19h-1zm-18.66,9h1l6.67,10h-1zm24.66,0h1l-12.67,19h-1zm-18.66,9h1l6.67,10h-1zm24.66,0h1l-12.67,19h-1zm-18.66,9h1l6.67,10h-1zm24.73,3h1l-12.8,16h-1zm-18.73,6h1l6.67,10h-1zm24.66,3h1l-12.67,19h-1zm-18.58,6h1l6.5,13h-1zm24.65,6h1l-12.8,16h-1zm-18.73,6h1l6.67,10h-1zm24.73,6h1l-12.8,16h-1zm-18.65,3h1l6.5,13h-1zm24.65,6h1l-12.8,16h-1zm-18.73,6h1l6.67,10h-1zm24.63,6h1l-9.6,16h-1zm-18.68,3h1l9.75,13h-1zm24.68,6h1l-9.6,16h-1zm-15.63,6h1l6.67,10h-1zm21.63,6h1l-9.6,16h-1zm-15.55,3h1l6.5,13h-1zm21.55,9h1l-9.6,16h-1zm-15.55,3h1l6.5,13h-1zm21.55,6h1l-9.6,16h-1zm-15.63,6h1l6.67,10h-1zm-290.27-216h1l-12.8,16h-1zm-6,0h1l-12.8,16h-1zm-5.4,15v1l-7,0v-1zm17.4-15h1l-12.8,16h-1zm-11.4,15v1l-7,0v-1zm17.4-15h1l-12.8,16h-1zm-11.4,15v1l-7,0v-1zm17.3-15h1l-9.6,16h-1zm-8.3,15v1l-10,0v-1zm14.25-18h1l-9.5,19h-1zm-8.25,18v1l-7,0v-1zm14.3-18h1l-9.6,16h-1zm-8.3,14.75v1l-7,3.5v-1zm14.3-14.75h1l-9.6,16h-1zm-8.3,15v1l-7,0v-1zm14.25-18h1l-9.5,19h-1zm-8.25,18v1l-7,0v-1zm14.25-18h1l-9.5,19h-1zm-8.25,18v1l-7,0v-1zm14.25-18h1l-9.5,19h-1zm-8.25,18v1l-7,0v-1zm17.4-18h1l-12.8,16h-1zm-11.4,14.75v1l-7,3.5v-1zm17.33-17.75h1l-12.67,19h-1zm-11.33,18v1l-7,0v-1zm17.33-18h1l-12.67,19h-1zm-11.33,18v1l-7,0v-1zm17.33-18h1l-12.67,19h-1zm-11.33,18v1l-7,0v-1zm17.29-18h1l-12.57,22h-1zm-11.29,21.25v1l-7-3.5v-1zm17.33-18.25h1l-12.67,19h-1zm-11.33,18v1l-7,0v-1zm17.33-18h1l-12.67,19h-1zm-11.33,18v1l-7,0v-1zm17.29-18h1l-12.57,22h-1zm-11.29,21.25v1l-7-3.5v-1zm17.33-18.25h1l-12.67,19h-1zm-11.33,18v1l-7,0v-1zm17.33-15h1l-12.67,19h-1zm-11.33,18.25v1l-7-3.5v-1zm17.21-18.25h1l-9.43,22h-1zm-8.21,21.17v1l-10-3.33v-1zm14.21-18.17h1l-9.43,22h-1zm-8.21,21.25v1l-7-3.5v-1zm14.25-15.25h1l-9.5,19h-1zm-8.25,18.25v1l-7-3.5v-1zm14.25-15.25h1l-9.5,19h-1zm-8.25,18.25v1l-7-3.5v-1zm14.21-15.25h1l-9.43,22h-1zm-15.71,15h1l7,7h-1zm21.75-9h1l-9.5,19h-1zm-8.25,18.25v1l-7-3.5v-1zm14.25-12.25h1l-9.5,19h-1zm-15.75,12h1l7,7h-1zm24.79-9h1l-12.57,22h-1zm-18.79,15h1l7,7h-1zm24.79-9h1l-12.57,22h-1zm-18.79,15h1l7,7h-1zm24.83-6h1l-12.67,19h-1zm-18.83,12h1l7,7h-1zm24.83-6h1l-12.67,19h-1zm-18.83,12h1l7,7h-1zm24.79-6h1l-12.57,22h-1zm-18.62,12h1l6.67,10h-1zm24.66-3h1l-12.67,19h-1zm-18.83,12h1l7,7h-1zm24.83-3h1l-12.67,19h-1zm-18.66,9h1l6.67,10h-1zm24.66,0h1l-12.67,19h-1zm-18.66,9h1l6.67,10h-1zm24.66,0h1l-12.67,19h-1zm-18.66,9h1l6.67,10h-1zm24.66,0h1l-12.67,19h-1zm-18.66,9h1l6.67,10h-1zm24.58,0h1l-9.5,19h-1zm-18.75,9h1l10,10h-1zm24.75,0h1l-9.5,19h-1zm-15.58,9h1l6.67,10h-1zm21.58,0h1l-9.5,19h-1zm-15.58,9h1l6.67,10h-1zm21.58,3h1l-9.5,19h-1zm-15.5,6h1l6.5,13h-1zm21.5,3h1l-9.5,19h-1zm-15.58,9h1l6.67,10h-1zm21.63,3h1l-9.6,16h-1zm-15.63,6h1l6.67,10h-1zm21.58,3h1l-9.5,19h-1zm-15.5,6h1l6.5,13h-1zm24.65,6h1l-12.8,16h-1zm-18.73,6h1l6.67,10h-1zm24.66,3h1l-12.67,19h-1zm-18.58,6h1l6.5,13h-1zm24.65,6h1l-12.8,16h-1zm-18.73,6h1l6.67,10h-1zm24.73,6h1l-12.8,16h-1zm-18.65,3h1l6.5,13h-1zm24.65,6h1l-12.8,16h-1zm-18.73,6h1l6.67,10h-1zm-290.37-216h1l-9.6,16h-1zm-6,0h1l-9.6,16h-1zm-2.3,15v1l-7,0v-1zm14.3-15h1l-9.6,16h-1zm-8.3,15v1l-7,0v-1zm14.3-15h1l-9.6,16h-1zm-8.3,15v1l-7,0v-1zm17.4-15h1l-12.8,16h-1zm-11.4,15v1l-7,0v-1zm17.4-15h1l-12.8,16h-1zm-11.4,15v1l-7,0v-1zm17.33-18h1l-12.67,19h-1zm-11.33,18v1l-7,0v-1zm17.33-18h1l-12.67,19h-1zm-11.33,18v1l-7,0v-1zm17.33-18h1l-12.67,19h-1zm-11.33,18v1l-7,0v-1zm17.33-18h1l-12.67,19h-1zm-11.33,18v1l-7,0v-1zm17.33-18h1l-12.67,19h-1zm-11.33,18v1l-7,0v-1zm17.29-21h1l-12.57,22h-1zm-11.29,21v1l-7,0v-1zm17.29-21h1l-12.57,22h-1zm-11.29,21v1l-7,0v-1zm17.21-21h1l-9.43,22h-1zm-8.21,21v1l-10,0v-1zm14.21-21h1l-9.43,22h-1zm-8.21,21v1l-7,0v-1zm14.25-18h1l-9.5,19h-1zm-8.25,18v1l-7,0v-1zm14.25-18h1l-9.5,19h-1zm-8.25,18v1l-7,0v-1zm14.21-18h1l-9.43,22h-1zm-8.21,21.25v1l-7-3.5v-1zm14.25-18.25h1l-9.5,19h-1zm-8.25,18v1l-7,0v-1zm14.21-18h1l-9.43,22h-1zm-8.21,21.25v1l-7-3.5v-1zm14.21-18.25h1l-9.43,22h-1zm-8.21,21.25v1l-7-3.5v-1zm17.29-18.25h1l-12.57,22h-1zm-11.29,21.25v1l-7-3.5v-1zm17.29-18.25h1l-12.57,22h-1zm-11.29,21.25v1l-7-3.5v-1zm17.29-18.25h1l-12.57,22h-1zm-11.29,21.25v1l-7-3.5v-1zm17.29-18.25h1l-12.57,22h-1zm-11.29,21.25v1l-7-3.5v-1zm17.29-15.25h1l-12.57,22h-1zm-18.79,15h1l7,7h-1zm24.79-12h1l-12.57,22h-1zm-11.29,21.25v1l-7-3.5v-1zm17.29-15.25h1l-12.57,22h-1zm-18.79,15h1l7,7h-1zm24.79-9h1l-12.57,22h-1zm-18.79,15h1l7,7h-1zm24.79-9h1l-12.57,22h-1zm-18.79,15h1l7,7h-1zm24.71-9h1l-9.43,22h-1zm-8.21,21.33v1l-10-6.67v-1zm14.21-15.33h1l-9.43,22h-1zm-15.71,15h1l7,7h-1zm21.71-6h1l-9.43,22h-1zm-15.54,12h1l6.67,10h-1zm21.54-6h1l-9.43,22h-1zm-15.71,15h1l7,7h-1zm21.71-6h1l-9.43,22h-1zm-15.54,12h1l6.67,10h-1zm21.58-3h1l-9.5,19h-1zm-15.75,12h1l7,7h-1zm21.75-3h1l-9.5,19h-1zm-15.58,9h1l6.67,10h-1zm21.58,0h1l-9.5,19h-1zm-15.58,9h1l6.67,10h-1zm24.66,0h1l-12.67,19h-1zm-18.66,9h1l6.67,10h-1zm24.66,0h1l-12.67,19h-1zm-18.66,9h1l6.67,10h-1zm24.62,0h1l-12.57,22h-1zm-18.54,9h1l6.5,13h-1zm24.58,3h1l-12.67,19h-1zm-18.66,9h1l6.67,10h-1zm24.66,0h1l-12.67,19h-1zm-18.66,9h1l6.67,10h-1zm24.66,0h1l-12.67,19h-1zm-18.66,9h1l6.67,10h-1zm24.66,3h1l-12.67,19h-1zm-18.58,6h1l6.5,13h-1zm24.58,3h1l-12.67,19h-1zm-18.66,9h1l6.67,10h-1zm24.73,3h1l-12.8,16h-1zm-18.73,6h1l6.67,10h-1zm24.66,3h1l-12.67,19h-1zm-18.58,6h1l6.5,13h-1zm24.55,6h1l-9.6,16h-1zm-18.8,6h1l10,10h-1zm24.75,3h1l-9.5,19h-1zm-15.5,6h1l6.5,13h-1zm-290.42-216h1l-12.67,19h-1zm-6,0h1l-12.67,19h-1zm-5.33,18v1l-7,0v-1zm17.33-18h1l-12.67,19h-1zm-11.33,18v1l-7,0v-1zm17.33-18h1l-12.67,19h-1zm-11.33,18v1l-7,0v-1zm17.33-18h1l-12.67,19h-1zm-11.33,18v1l-7,0v-1zm17.33-18h1l-12.67,19h-1zm-11.33,18v1l-7,0v-1zm17.25-18h1l-9.5,19h-1zm-8.25,18v1l-10,0v-1zm14.25-18h1l-9.5,19h-1zm-8.25,18v1l-7,0v-1zm14.25-18h1l-9.5,19h-1zm-8.25,18v1l-7,0v-1zm14.25-18h1l-9.5,19h-1zm-8.25,18v1l-7,0v-1zm14.25-18h1l-9.5,19h-1zm-8.25,18v1l-7,0v-1zm14.25-18h1l-9.5,19h-1zm-8.25,18v1l-7,0v-1zm14.25-18h1l-9.5,19h-1zm-8.25,18v1l-7,0v-1zm17.33-18h1l-12.67,19h-1zm-11.33,18v1l-7,0v-1zm17.29-18h1l-12.57,22h-1zm-11.29,21.25v1l-7-3.5v-1zm17.29-21.25h1l-12.57,22h-1zm-11.29,21v1l-7,0v-1zm17.29-21h1l-12.57,22h-1zm-11.29,21v1l-7,0v-1zm17.29-18h1l-12.57,22h-1zm-11.29,21.25v1l-7-3.5v-1zm17.29-21.25h1l-12.57,22h-1zm-11.29,21v1l-7,0v-1zm17.29-18h1l-12.57,22h-1zm-11.29,21.25v1l-7-3.5v-1zm17.29-18.25h1l-12.57,22h-1zm-11.29,21.25v1l-7-3.5v-1zm17.29-18.25h1l-12.57,22h-1zm-11.29,21.25v1l-7-3.5v-1zm17.29-18.25h1l-12.57,22h-1zm-11.29,21.25v1l-7-3.5v-1zm17.21-18.25h1l-9.43,22h-1zm-8.21,21.17v1l-10-3.33v-1zm14.21-18.17h1l-9.43,22h-1zm-8.21,21.25v1l-7-3.5v-1zm14.21-15.25h1l-9.43,22h-1zm-15.71,15h1l7,7h-1zm21.71-12h1l-9.43,22h-1zm-8.21,21.25v1l-7-3.5v-1zm14.21-15.25h1l-9.43,22h-1zm-15.71,15h1l7,7h-1zm21.71-9h1l-9.43,22h-1zm-15.71,15h1l7,7h-1zm21.71-9h1l-9.43,22h-1zm-15.71,15h1l7,7h-1zm24.79-9h1l-12.57,22h-1zm-18.79,15h1l7,7h-1zm24.79-9h1l-12.57,22h-1zm-18.79,15h1l7,7h-1zm24.79-6h1l-12.57,22h-1zm-18.62,12h1l6.67,10h-1zm24.62-6h1l-12.57,22h-1zm-18.79,15h1l7,7h-1zm24.79-6h1l-12.57,22h-1zm-18.62,12h1l6.67,10h-1zm24.62-6h1l-12.57,22h-1zm-18.79,15h1l7,7h-1zm24.79-6h1l-12.57,22h-1zm-18.62,12h1l6.67,10h-1zm24.62-3h1l-12.57,22h-1zm-18.62,12h1l6.67,10h-1zm24.62-3h1l-12.57,22h-1zm-18.62,12h1l6.67,10h-1zm24.62-3h1l-12.57,22h-1zm-18.62,12h1l6.67,10h-1zm24.58,0h1l-9.5,19h-1zm-18.75,9h1l10,10h-1zm24.75,0h1l-9.5,19h-1zm-15.58,9h1l6.67,10h-1zm21.58,0h1l-9.5,19h-1zm-15.58,9h1l6.67,10h-1zm21.54,0h1l-9.43,22h-1zm-15.46,9h1l6.5,13h-1zm21.5,3h1l-9.5,19h-1zm-15.58,9h1l6.67,10h-1zm21.58,0h1l-9.5,19h-1zm-15.58,9h1l6.67,10h-1zm21.58,0h1l-9.5,19h-1zm-15.58,9h1l6.67,10h-1zm21.58,3h1l-9.5,19h-1zm-15.5,6h1l6.5,13h-1zm24.58,3h1l-12.67,19h-1zm-18.66,9h1l6.67,10h-1zm24.73,3h1l-12.8,16h-1zm-18.73,6h1l6.67,10h-1zm-290.37-216h1l-9.6,16h-1zm-6,0h1l-9.6,16h-1zm-2.3,15v1l-7,0v-1zm14.25-15h1l-9.5,19h-1zm-8.25,18.25v1l-7-3.5v-1zm14.25-18.25h1l-9.5,19h-1zm-8.25,18v1l-7,0v-1zm14.25-18h1l-9.5,19h-1zm-8.25,18v1l-7,0v-1zm14.25-18h1l-9.5,19h-1zm-8.25,18v1l-7,0v-1zm17.33-18h1l-12.67,19h-1zm-11.33,18v1l-7,0v-1zm17.33-18h1l-12.67,19h-1zm-11.33,18v1l-7,0v-1zm17.33-18h1l-12.67,19h-1zm-11.33,18v1l-7,0v-1zm17.33-18h1l-12.67,19h-1zm-11.33,18v1l-7,0v-1zm17.33-18h1l-12.67,19h-1zm-11.33,18v1l-7,0v-1zm17.29-18h1l-12.57,22h-1zm-11.29,21.25v1l-7-3.5v-1zm17.29-21.25h1l-12.57,22h-1zm-11.29,21v1l-7,0v-1zm17.29-21h1l-12.57,22h-1zm-11.29,21v1l-7,0v-1zm17.33-18h1l-12.67,19h-1zm-11.33,18v1l-7,0v-1zm17.21-18h1l-9.43,22h-1zm-8.21,21.17v1l-10-3.33v-1zm14.21-21.17h1l-9.43,22h-1zm-8.21,21v1l-7,0v-1zm14.21-18h1l-9.43,22h-1zm-8.21,21.25v1l-7-3.5v-1zm14.19-21.25h1l-9.38,25h-1zm-8.19,24.25v1l-7-3.5v-1zm14.21-21.25h1l-9.43,22h-1zm-8.21,21v1l-7,0v-1zm14.21-18h1l-9.43,22h-1zm-8.21,21.25v1l-7-3.5v-1zm14.21-18.25h1l-9.43,22h-1zm-8.21,21.25v1l-7-3.5v-1zm14.21-18.25h1l-9.43,22h-1zm-8.21,21.25v1l-7-3.5v-1zm17.25-18.25h1l-12.5,25h-1zm-18.75,18h1l7,7h-1zm24.75-15h1l-12.5,25h-1zm-11.25,24.25v1l-7-3.5v-1zm17.29-18.25h1l-12.57,22h-1zm-11.29,21.25v1l-7-3.5v-1zm17.25-18.25h1l-12.5,25h-1zm-18.75,18h1l7,7h-1zm24.75-12h1l-12.5,25h-1zm-18.75,18h1l7,7h-1zm24.75-12h1l-12.5,25h-1zm-18.75,18h1l7,7h-1zm24.79-12h1l-12.57,22h-1zm-11.29,21.25v1l-7-3.5v-1zm17.25-15.25h1l-12.5,25h-1zm-18.58,15h1l6.67,10h-1zm24.58-9h1l-12.5,25h-1zm-18.75,18h1l7,7h-1zm24.79-9h1l-12.57,22h-1zm-18.79,15h1l7,7h-1zm24.71-9h1l-9.43,22h-1zm-8.21,21.33v1l-10-6.67v-1zm14.21-12.33h1l-9.43,22h-1zm-15.54,12h1l6.67,10h-1zm21.52-6h1l-9.38,25h-1zm-15.52,15h1l6.67,10h-1zm21.54-6h1l-9.43,22h-1zm-15.71,15h1l7,7h-1zm21.71-6h1l-9.43,22h-1zm-15.54,12h1l6.67,10h-1zm21.54-3h1l-9.43,22h-1zm-15.54,12h1l6.67,10h-1zm21.54-3h1l-9.43,22h-1zm-15.54,12h1l6.67,10h-1zm24.62-3h1l-12.57,22h-1zm-18.62,12h1l6.67,10h-1zm24.62-3h1l-12.57,22h-1zm-18.62,12h1l6.67,10h-1zm24.62-3h1l-12.57,22h-1zm-18.62,12h1l6.67,10h-1zm24.66,0h1l-12.67,19h-1zm-18.66,9h1l6.67,10h-1zm24.66,0h1l-12.67,19h-1zm-18.66,9h1l6.67,10h-1zm24.66,0h1l-12.67,19h-1zm-18.66,9h1l6.67,10h-1zm24.66,0h1l-12.67,19h-1zm-18.66,9h1l6.67,10h-1zm24.66,3h1l-12.67,19h-1zm-18.58,6h1l6.5,13h-1zm24.58,3h1l-12.67,19h-1zm-18.66,9h1l6.67,10h-1zm24.66,0h1l-12.67,19h-1zm-18.66,9h1l6.67,10h-1zm-287.34-219h1l-12.67,19h-1zm-6,0h1l-12.67,19h-1zm-5.33,18v1l-7,0v-1zm17.4-15h1l-12.8,16h-1zm-11.4,15v1l-7,0v-1zm17.33-15h1l-12.67,19h-1zm-11.33,18.25v1l-7-3.5v-1zm17.33-18.25h1l-12.67,19h-1zm-11.33,18v1l-7,0v-1zm17.33-18h1l-12.67,19h-1zm-11.33,18v1l-7,0v-1zm17.33-18h1l-12.67,19h-1zm-11.33,18v1l-7,0v-1zm17.29-18h1l-12.57,22h-1zm-11.29,21.25v1l-7-3.5v-1zm17.21-21.25h1l-9.43,22h-1zm-8.21,21v1l-10,0v-1zm14.21-21h1l-9.43,22h-1zm-8.21,21v1l-7,0v-1zm14.21-21h1l-9.43,22h-1zm-8.21,21v1l-7,0v-1zm14.25-18h1l-9.5,19h-1zm-8.25,18v1l-7,0v-1zm14.21-18h1l-9.43,22h-1zm-8.21,21.25v1l-7-3.5v-1zm14.21-21.25h1l-9.43,22h-1zm-8.21,21v1l-7,0v-1zm14.19-21h1l-9.38,25h-1zm-8.19,24.25v1l-7-3.5v-1zm17.29-21.25h1l-12.57,22h-1zm-11.29,21v1l-7,0v-1zm17.25-21h1l-12.5,25h-1zm-11.25,24.25v1l-7-3.5v-1zm17.29-21.25h1l-12.57,22h-1zm-11.29,21v1l-7,0v-1zm17.29-18h1l-12.57,22h-1zm-11.29,21.25v1l-7-3.5v-1zm17.25-21.25h1l-12.5,25h-1zm-11.25,24.25v1l-7-3.5v-1zm17.25-21.25h1l-12.5,25h-1zm-11.25,24.25v1l-7-3.5v-1zm17.25-21.25h1l-12.5,25h-1zm-11.25,24.25v1l-7-3.5v-1zm17.25-21.25h1l-12.5,25h-1zm-11.25,24.25v1l-7-3.5v-1zm17.29-18.25h1l-12.57,22h-1zm-11.29,21.25v1l-7-3.5v-1zm17.25-18.25h1l-12.5,25h-1zm-18.75,18h1l7,7h-1zm24.69-15h1l-9.38,25h-1zm-8.19,24.17v1l-10-3.33v-1zm14.19-18.17h1l-9.38,25h-1zm-15.69,18h1l7,7h-1zm21.71-12h1l-9.43,22h-1zm-8.21,21.25v1l-7-3.5v-1zm14.21-15.25h1l-9.43,22h-1zm-15.71,15h1l7,7h-1zm21.69-12h1l-9.38,25h-1zm-15.69,18h1l7,7h-1zm21.71-9h1l-9.43,22h-1zm-15.71,15h1l7,7h-1zm21.71-9h1l-9.43,22h-1zm-15.71,15h1l7,7h-1zm21.69-9h1l-9.38,25h-1zm-15.52,15h1l6.67,10h-1zm24.58-9h1l-12.5,25h-1zm-18.75,18h1l7,7h-1zm24.79-9h1l-12.57,22h-1zm-18.79,15h1l7,7h-1zm24.79-6h1l-12.57,22h-1zm-18.62,12h1l6.67,10h-1zm24.62-6h1l-12.57,22h-1zm-18.79,15h1l7,7h-1zm24.79-6h1l-12.57,22h-1zm-18.62,12h1l6.67,10h-1zm24.62-3h1l-12.57,22h-1zm-18.62,12h1l6.67,10h-1zm24.62-3h1l-12.57,22h-1zm-18.62,12h1l6.67,10h-1zm24.62-3h1l-12.57,22h-1zm-18.62,12h1l6.67,10h-1zm24.62-3h1l-12.57,22h-1zm-18.62,12h1l6.67,10h-1zm24.54-3h1l-9.43,22h-1zm-18.71,12h1l10,10h-1zm24.71-3h1l-9.43,22h-1zm-15.54,12h1l6.67,10h-1zm21.54-3h1l-9.43,22h-1zm-15.54,12h1l6.67,10h-1zm21.54-3h1l-9.43,22h-1zm-15.54,12h1l6.67,10h-1zm21.54-3h1l-9.43,22h-1zm-15.54,12h1l6.67,10h-1zm21.58,0h1l-9.5,19h-1zm-15.58,9h1l6.67,10h-1zm21.58,0h1l-9.5,19h-1zm-15.58,9h1l6.67,10h-1zm21.58,0h1l-9.5,19h-1zm-15.58,9h1l6.67,10h-1zm-290.42-219h1l-9.5,19h-1zm-6,0h1l-9.5,19h-1zm-2.25,18v1l-7,0v-1zm14.25-18h1l-9.5,19h-1zm-8.25,18v1l-7,0v-1zm14.25-15h1l-9.5,19h-1zm-8.25,18.25v1l-7-3.5v-1zm14.25-18.25h1l-9.5,19h-1zm-8.25,18v1l-7,0v-1zm14.25-18h1l-9.5,19h-1zm-8.25,18v1l-7,0v-1zm14.21-18h1l-9.43,22h-1zm-8.21,21.25v1l-7-3.5v-1zm14.25-18.25h1l-9.5,19h-1zm-8.25,18v1l-7,0v-1zm17.33-18h1l-12.67,19h-1zm-11.33,18v1l-7,0v-1zm17.29-18h1l-12.57,22h-1zm-11.29,21.25v1l-7-3.5v-1zm17.29-21.25h1l-12.57,22h-1zm-11.29,21v1l-7,0v-1zm17.29-21h1l-12.57,22h-1zm-11.29,21v1l-7,0v-1zm17.29-18h1l-12.57,22h-1zm-11.29,21.25v1l-7-3.5v-1zm17.29-21.25h1l-12.57,22h-1zm-11.29,21v1l-7,0v-1zm17.29-18h1l-12.57,22h-1zm-11.29,21.25v1l-7-3.5v-1zm17.25-21.25h1l-12.5,25h-1zm-11.25,24.25v1l-7-3.5v-1zm17.29-21.25h1l-12.57,22h-1zm-11.29,21v1l-7,0v-1zm17.19-21h1l-9.38,25h-1zm-8.19,24.17v1l-10-3.33v-1zm14.19-21.17h1l-9.38,25h-1zm-8.19,24.25v1l-7-3.5v-1zm14.19-21.25h1l-9.38,25h-1zm-8.19,24.25v1l-7-3.5v-1zm14.19-21.25h1l-9.38,25h-1zm-8.19,24.25v1l-7-3.5v-1zm14.19-21.25h1l-9.38,25h-1zm-8.19,24.25v1l-7-3.5v-1zm14.19-21.25h1l-9.38,25h-1zm-8.19,24.25v1l-7-3.5v-1zm14.19-21.25h1l-9.38,25h-1zm-8.19,24.25v1l-7-3.5v-1zm14.19-18.25h1l-9.38,25h-1zm-15.69,18h1l7,7h-1zm24.75-15h1l-12.5,25h-1zm-11.25,24.25v1l-7-3.5v-1zm17.25-18.25h1l-12.5,25h-1zm-18.75,18h1l7,7h-1zm24.75-15h1l-12.5,25h-1zm-11.25,24.25v1l-7-3.5v-1zm17.25-18.25h1l-12.5,25h-1zm-18.75,18h1l7,7h-1zm24.75-12h1l-12.5,25h-1zm-18.75,18h1l7,7h-1zm24.75-12h1l-12.5,25h-1zm-18.75,18h1l7,7h-1zm24.75-12h1l-12.5,25h-1zm-18.75,18h1l7,7h-1zm24.79-9h1l-12.57,22h-1zm-18.79,15h1l7,7h-1zm24.75-9h1l-12.5,25h-1zm-18.58,15h1l6.67,10h-1zm24.58-9h1l-12.5,25h-1zm-18.75,18h1l7,7h-1zm24.71-9h1l-9.43,22h-1zm-8.21,21.33v1l-10-6.67v-1zm14.19-15.33h1l-9.38,25h-1zm-15.52,15h1l6.67,10h-1zm21.52-6h1l-9.38,25h-1zm-15.52,15h1l6.67,10h-1zm21.54-6h1l-9.43,22h-1zm-15.71,15h1l7,7h-1zm21.71-6h1l-9.43,22h-1zm-15.54,12h1l6.67,10h-1zm21.54-3h1l-9.43,22h-1zm-15.54,12h1l6.67,10h-1zm21.54-3h1l-9.43,22h-1zm-15.54,12h1l6.67,10h-1zm24.66-3h1l-12.67,19h-1zm-18.83,12h1l7,7h-1zm24.83-3h1l-12.67,19h-1zm-18.66,9h1l6.67,10h-1zm24.66,0h1l-12.67,19h-1zm-18.66,9h1l6.67,10h-1zm24.66,0h1l-12.67,19h-1zm-18.66,9h1l6.67,10h-1zm24.66,0h1l-12.67,19h-1zm-18.66,9h1l6.67,10h-1zm24.66,0h1l-12.67,19h-1zm-18.66,9h1l6.67,10h-1zm24.66,0h1l-12.67,19h-1zm-18.66,9h1l6.67,10h-1zm24.66,0h1l-12.67,19h-1zm-18.66,9h1l6.67,10h-1zm-287.34-219h1l-12.67,19h-1zm-5.93,0h1l-12.8,16h-1zm-5.4,18.25v1l-7-3.5v-1zm17.29-18.25h1l-12.57,22h-1zm-11.29,21.25v1l-7-3.5v-1zm17.33-18.25h1l-12.67,19h-1zm-11.33,18v1l-7,0v-1zm17.33-18h1l-12.67,19h-1zm-11.33,18v1l-7,0v-1zm17.29-18h1l-12.57,22h-1zm-11.29,21.25v1l-7-3.5v-1zm17.33-18.25h1l-12.67,19h-1zm-11.33,18v1l-7,0v-1zm17.29-18h1l-12.57,22h-1zm-11.29,21.25v1l-7-3.5v-1zm17.29-21.25h1l-12.57,22h-1zm-11.29,21v1l-7,0v-1zm17.29-18h1l-12.57,22h-1zm-11.29,21.25v1l-7-3.5v-1zm17.21-21.25h1l-9.43,22h-1zm-8.21,21v1l-10,0v-1zm14.19-21h1l-9.38,25h-1zm-8.19,24.25v1l-7-3.5v-1zm14.21-21.25h1l-9.43,22h-1zm-8.21,21v1l-7,0v-1zm14.19-21h1l-9.38,25h-1zm-8.19,24.25v1l-7-3.5v-1zm14.21-21.25h1l-9.43,22h-1zm-8.21,21v1l-7,0v-1zm14.21-18h1l-9.43,22h-1zm-8.21,21.25v1l-7-3.5v-1zm14.19-21.25h1l-9.38,25h-1zm-8.19,24.25v1l-7-3.5v-1zm17.25-21.25h1l-12.5,25h-1zm-11.25,24.25v1l-7-3.5v-1zm17.29-21.25h1l-12.57,22h-1zm-11.29,21v1l-7,0v-1zm17.29-18h1l-12.57,22h-1zm-11.29,21.25v1l-7-3.5v-1zm17.25-18.25h1l-12.5,25h-1zm-18.75,18h1l7,7h-1zm24.75-15h1l-12.5,25h-1zm-11.25,24.25v1l-7-3.5v-1zm17.25-21.25h1l-12.5,25h-1zm-11.25,24.25v1l-7-3.5v-1zm17.25-21.25h1l-12.5,25h-1zm-11.25,24.25v1l-7-3.5v-1zm17.25-18.25h1l-12.5,25h-1zm-18.75,18h1l7,7h-1zm24.75-15h1l-12.5,25h-1zm-11.25,24.25v1l-7-3.5v-1zm17.25-18.25h1l-12.5,25h-1zm-18.75,18h1l7,7h-1zm24.69-15h1l-9.38,25h-1zm-8.19,24.17v1l-10-3.33v-1zm14.19-18.17h1l-9.38,25h-1zm-15.69,18h1l7,7h-1zm21.69-12h1l-9.38,25h-1zm-15.69,18h1l7,7h-1zm21.69-12h1l-9.38,25h-1zm-15.69,18h1l7,7h-1zm21.69-12h1l-9.38,25h-1zm-15.69,18h1l7,7h-1zm21.69-12h1l-9.38,25h-1zm-15.69,18h1l7,7h-1zm21.71-9h1l-9.43,22h-1zm-15.71,15h1l7,7h-1zm21.69-9h1l-9.38,25h-1zm-15.52,15h1l6.67,10h-1zm24.58-9h1l-12.5,25h-1zm-18.75,18h1l7,7h-1zm24.75-9h1l-12.5,25h-1zm-18.58,15h1l6.67,10h-1zm24.62-6h1l-12.57,22h-1zm-18.79,15h1l7,7h-1zm24.75-9h1l-12.5,25h-1zm-18.58,15h1l6.67,10h-1zm24.62-6h1l-12.57,22h-1zm-18.79,15h1l7,7h-1zm24.79-6h1l-12.57,22h-1zm-18.62,12h1l6.67,10h-1zm24.62-3h1l-12.57,22h-1zm-18.62,12h1l6.67,10h-1zm24.62-6h1l-12.57,22h-1zm-18.79,15h1l7,7h-1zm24.79-6h1l-12.57,22h-1zm-18.62,12h1l6.67,10h-1zm24.54-3h1l-9.43,22h-1zm-18.71,12h1l10,10h-1zm24.71-3h1l-9.43,22h-1zm-15.54,12h1l6.67,10h-1zm21.54-3h1l-9.43,22h-1zm-15.54,12h1l6.67,10h-1zm21.58-3h1l-9.5,19h-1zm-15.75,12h1l7,7h-1zm21.75-3h1l-9.5,19h-1zm-15.58,9h1l6.67,10h-1zm21.58,0h1l-9.5,19h-1zm-15.58,9h1l6.67,10h-1zm-290.34-219h1l-12.67,19h-1zm-6-3h1l-12.67,19h-1zm-5.33,21.25v1l-7-3.5v-1zm17.25-15.25h1l-9.5,19h-1zm-8.25,18.17v1l-10-3.33v-1zm14.25-18.17h1l-9.5,19h-1zm-8.25,18v1l-7,0v-1zm14.21-18h1l-9.43,22h-1zm-8.21,21.25v1l-7-3.5v-1zm14.25-18.25h1l-9.5,19h-1zm-8.25,18v1l-7,0v-1zm14.21-18h1l-9.43,22h-1zm-8.21,21.25v1l-7-3.5v-1zm14.25-18.25h1l-9.5,19h-1zm-8.25,18v1l-7,0v-1zm14.21-18h1l-9.43,22h-1zm-8.21,21.25v1l-7-3.5v-1zm14.21-18.25h1l-9.43,22h-1zm-8.21,21.25v1l-7-3.5v-1zm17.29-21.25h1l-12.57,22h-1zm-11.29,21v1l-7,0v-1zm17.29-18h1l-12.57,22h-1zm-11.29,21.25v1l-7-3.5v-1zm17.29-21.25h1l-12.57,22h-1zm-11.29,21v1l-7,0v-1zm17.29-18h1l-12.57,22h-1zm-11.29,21.25v1l-7-3.5v-1zm17.25-21.25h1l-12.5,25h-1zm-11.25,24.25v1l-7-3.5v-1zm17.25-21.25h1l-12.5,25h-1zm-11.25,24.25v1l-7-3.5v-1zm17.29-21.25h1l-12.57,22h-1zm-11.29,21v1l-7,0v-1zm17.29-18h1l-12.57,22h-1zm-11.29,21.25v1l-7-3.5v-1zm17.25-21.25h1l-12.5,25h-1zm-11.25,24.25v1l-7-3.5v-1zm17.25-21.25h1l-12.5,25h-1zm-11.25,24.25v1l-7-3.5v-1zm17.21-18.25h1l-9.43,22h-1zm-8.21,21.17v1l-10-3.33v-1zm14.19-18.17h1l-9.38,25h-1zm-15.69,18h1l7,7h-1zm21.69-15h1l-9.38,25h-1zm-8.19,24.25v1l-7-3.5v-1zm14.19-21.25h1l-9.38,25h-1zm-8.19,24.25v1l-7-3.5v-1zm14.19-18.25h1l-9.38,25h-1zm-15.69,18h1l7,7h-1zm21.69-15h1l-9.38,25h-1zm-8.19,24.25v1l-7-3.5v-1zm14.19-18.25h1l-9.38,25h-1zm-15.69,18h1l7,7h-1zm24.75-15h1l-12.5,25h-1zm-11.25,24.25v1l-7-3.5v-1zm17.25-18.25h1l-12.5,25h-1zm-18.75,18h1l7,7h-1zm24.75-12h1l-12.5,25h-1zm-18.75,18h1l7,7h-1zm24.75-12h1l-12.5,25h-1zm-18.75,18h1l7,7h-1zm24.75-12h1l-12.5,25h-1zm-18.75,18h1l7,7h-1zm24.75-12h1l-12.5,25h-1zm-18.75,18h1l7,7h-1zm24.75-12h1l-12.5,25h-1zm-18.75,18h1l7,7h-1zm24.75-9h1l-12.5,25h-1zm-18.58,15h1l6.67,10h-1zm24.58-9h1l-12.5,25h-1zm-18.75,18h1l7,7h-1zm24.79-9h1l-12.57,22h-1zm-18.79,15h1l7,7h-1zm24.69-9h1l-9.38,25h-1zm-18.69,15h1l10,10h-1zm24.71-6h1l-9.43,22h-1zm-15.71,15h1l7,7h-1zm21.69-9h1l-9.38,25h-1zm-15.52,15h1l6.67,10h-1zm21.54-6h1l-9.43,22h-1zm-15.71,15h1l7,7h-1zm21.71-6h1l-9.43,22h-1zm-15.54,12h1l6.67,10h-1zm21.54-6h1l-9.43,22h-1zm-15.71,15h1l7,7h-1zm21.71-6h1l-9.43,22h-1zm-15.54,12h1l6.67,10h-1zm24.62-3h1l-12.57,22h-1zm-18.62,12h1l6.67,10h-1zm24.66-3h1l-12.67,19h-1zm-18.83,12h1l7,7h-1zm24.83-3h1l-12.67,19h-1zm-18.66,9h1l6.67,10h-1zm24.62-3h1l-12.57,22h-1zm-18.62,12h1l6.67,10h-1zm24.62-3h1l-12.57,22h-1zm-18.62,12h1l6.67,10h-1zm24.66-3h1l-12.67,19h-1zm-18.83,12h1l7,7h-1zm-290.25-222h1l-9.5,19h-1zm-6-3h1l-9.5,19h-1zm-2.25,21.25v1l-7-3.5v-1zm17.33-15.25h1l-12.67,19h-1zm-11.33,18.25v1l-7-3.5v-1zm17.29-18.25h1l-12.57,22h-1zm-11.29,21.25v1l-7-3.5v-1zm17.33-18.25h1l-12.67,19h-1zm-11.33,18v1l-7,0v-1zm17.29-18h1l-12.57,22h-1zm-11.29,21.25v1l-7-3.5v-1zm17.29-18.25h1l-12.57,22h-1zm-11.29,21.25v1l-7-3.5v-1zm17.29-21.25h1l-12.57,22h-1zm-11.29,21v1l-7,0v-1zm17.29-18h1l-12.57,22h-1zm-11.29,21.25v1l-7-3.5v-1zm17.29-18.25h1l-12.57,22h-1zm-11.29,21.25v1l-7-3.5v-1zm17.29-21.25h1l-12.57,22h-1zm-11.29,21v1l-7,0v-1zm17.29-18h1l-12.57,22h-1zm-11.29,21.25v1l-7-3.5v-1zm17.19-21.25h1l-9.38,25h-1zm-8.19,24.17v1l-10-3.33v-1zm14.19-21.17h1l-9.38,25h-1zm-8.19,24.25v1l-7-3.5v-1zm14.21-21.25h1l-9.43,22h-1zm-8.21,21v1l-7,0v-1zm14.21-18h1l-9.43,22h-1zm-8.21,21.25v1l-7-3.5v-1zm14.19-21.25h1l-9.38,25h-1zm-8.19,24.25v1l-7-3.5v-1zm14.19-21.25h1l-9.38,25h-1zm-8.19,24.25v1l-7-3.5v-1zm14.19-21.25h1l-9.38,25h-1zm-8.19,24.25v1l-7-3.5v-1zm14.19-21.25h1l-9.38,25h-1zm-8.19,24.25v1l-7-3.5v-1zm17.25-21.25h1l-12.5,25h-1zm-11.25,24.25v1l-7-3.5v-1zm17.25-18.25h1l-12.5,25h-1zm-18.75,18h1l7,7h-1zm24.75-15h1l-12.5,25h-1zm-11.25,24.25v1l-7-3.5v-1zm17.25-21.25h1l-12.5,25h-1zm-11.25,24.25v1l-7-3.5v-1zm17.25-18.25h1l-12.5,25h-1zm-18.75,18h1l7,7h-1zm24.75-15h1l-12.5,25h-1zm-11.25,24.25v1l-7-3.5v-1zm17.25-18.25h1l-12.5,25h-1zm-18.75,18h1l7,7h-1zm24.72-15h1l-12.44,28h-1zm-18.72,21h1l7,7h-1zm24.75-15h1l-12.5,25h-1zm-11.25,24.25v1l-7-3.5v-1zm17.19-18.25h1l-9.38,25h-1zm-8.19,24.33v1l-10-6.67v-1zm14.19-18.33h1l-9.38,25h-1zm-15.69,18h1l7,7h-1zm21.69-12h1l-9.38,25h-1zm-15.69,18h1l7,7h-1zm21.69-12h1l-9.38,25h-1zm-15.69,18h1l7,7h-1zm21.69-12h1l-9.38,25h-1zm-15.69,18h1l7,7h-1zm21.71-9h1l-9.43,22h-1zm-15.71,15h1l7,7h-1zm21.69-9h1l-9.38,25h-1zm-15.52,15h1l6.67,10h-1zm21.52-9h1l-9.38,25h-1zm-15.69,18h1l7,7h-1zm24.79-9h1l-12.57,22h-1zm-18.79,15h1l7,7h-1zm24.75-9h1l-12.5,25h-1zm-18.58,15h1l6.67,10h-1zm24.62-6h1l-12.57,22h-1zm-18.79,15h1l7,7h-1zm24.75-9h1l-12.5,25h-1zm-18.58,15h1l6.67,10h-1zm24.62-6h1l-12.57,22h-1zm-18.79,15h1l7,7h-1zm24.75-9h1l-12.5,25h-1zm-18.58,15h1l6.67,10h-1zm24.62-6h1l-12.57,22h-1zm-18.79,15h1l7,7h-1zm24.79-6h1l-12.57,22h-1zm-18.62,12h1l6.67,10h-1zm24.62-6h1l-12.57,22h-1zm-18.79,15h1l7,7h-1zm24.71-6h1l-9.43,22h-1zm-18.71,12h1l10,10h-1zm24.75-3h1l-9.5,19h-1zm-15.75,12h1l7,7h-1zm21.75-3h1l-9.5,19h-1zm-15.58,9h1l6.67,10h-1zm21.58-3h1l-9.5,19h-1zm-15.75,12h1l7,7h-1zm-290.17-222h1l-12.67,19h-1zm-6-3h1l-12.67,19h-1zm-5.33,21.25v1l-7-3.5v-1zm17.33-15.25h1l-12.67,19h-1zm-11.33,18.25v1l-7-3.5v-1zm17.33-15.25h1l-12.67,19h-1zm-11.33,18.25v1l-7-3.5v-1zm17.29-18.25h1l-12.57,22h-1zm-11.29,21.25v1l-7-3.5v-1zm17.25-18.25h1l-9.5,19h-1zm-8.25,18v1l-10,0v-1zm14.25-15h1l-9.5,19h-1zm-8.25,18.25v1l-7-3.5v-1zm14.21-18.25h1l-9.43,22h-1zm-8.21,21.25v1l-7-3.5v-1zm14.21-18.25h1l-9.43,22h-1zm-8.21,21.25v1l-7-3.5v-1zm14.21-18.25h1l-9.43,22h-1zm-8.21,21.25v1l-7-3.5v-1zm14.21-21.25h1l-9.43,22h-1zm-8.21,21v1l-7,0v-1zm14.21-18h1l-9.43,22h-1zm-8.21,21.25v1l-7-3.5v-1zm17.29-18.25h1l-12.57,22h-1zm-11.29,21.25v1l-7-3.5v-1zm17.29-18.25h1l-12.57,22h-1zm-11.29,21.25v1l-7-3.5v-1zm17.25-21.25h1l-12.5,25h-1zm-11.25,24.25v1l-7-3.5v-1zm17.25-21.25h1l-12.5,25h-1zm-11.25,24.25v1l-7-3.5v-1zm17.25-21.25h1l-12.5,25h-1zm-11.25,24.25v1l-7-3.5v-1zm17.25-21.25h1l-12.5,25h-1zm-11.25,24.25v1l-7-3.5v-1zm17.25-21.25h1l-12.5,25h-1zm-11.25,24.25v1l-7-3.5v-1zm17.25-21.25h1l-12.5,25h-1zm-11.25,24.25v1l-7-3.5v-1zm17.25-21.25h1l-12.5,25h-1zm-11.25,24.25v1l-7-3.5v-1zm17.25-18.25h1l-12.5,25h-1zm-18.75,18h1l7,7h-1zm24.69-15h1l-9.38,25h-1zm-8.19,24.17v1l-10-3.33v-1zm14.17-21.17h1l-9.33,28h-1zm-15.67,21h1l7,7h-1zm21.69-15h1l-9.38,25h-1zm-8.19,24.25v1l-7-3.5v-1zm14.17-21.25h1l-9.33,28h-1zm-15.67,21h1l7,7h-1zm21.69-15h1l-9.38,25h-1zm-8.19,24.25v1l-7-3.5v-1zm14.19-18.25h1l-9.38,25h-1zm-15.69,18h1l7,7h-1zm21.67-15h1l-9.33,28h-1zm-15.67,21h1l7,7h-1zm24.75-15h1l-12.5,25h-1zm-11.25,24.25v1l-7-3.5v-1zm17.25-18.25h1l-12.5,25h-1zm-18.75,18h1l7,7h-1zm24.75-12h1l-12.5,25h-1zm-18.75,18h1l7,7h-1zm24.75-12h1l-12.5,25h-1zm-18.75,18h1l7,7h-1zm24.75-12h1l-12.5,25h-1zm-18.75,18h1l7,7h-1zm24.75-12h1l-12.5,25h-1zm-18.75,18h1l7,7h-1zm24.79-9h1l-12.57,22h-1zm-18.79,15h1l7,7h-1zm24.75-9h1l-12.5,25h-1zm-18.58,15h1l6.67,10h-1zm24.58-9h1l-12.5,25h-1zm-18.75,18h1l7,7h-1zm24.79-9h1l-12.57,22h-1zm-18.79,15h1l7,7h-1zm24.71-9h1l-9.43,22h-1zm-8.21,21.33v1l-10-6.67v-1zm14.21-12.33h1l-9.43,22h-1zm-15.54,12h1l6.67,10h-1zm21.54-6h1l-9.43,22h-1zm-15.71,15h1l7,7h-1zm21.71-6h1l-9.43,22h-1zm-15.54,12h1l6.67,10h-1zm21.54-6h1l-9.43,22h-1zm-15.71,15h1l7,7h-1zm21.75-6h1l-9.5,19h-1zm-15.75,12h1l7,7h-1zm21.71-6h1l-9.43,22h-1zm-15.54,12h1l6.67,10h-1zm24.66-3h1l-12.67,19h-1zm-18.83,12h1l7,7h-1zm24.79-6h1l-12.57,22h-1zm-18.62,12h1l6.67,10h-1zm24.66-3h1l-12.67,19h-1zm-18.83,12h1l7,7h-1zm24.79-6h1l-12.57,22h-1zm-18.62,12h1l6.67,10h-1zm-290.42-222h1l-9.5,19h-1zm-6-3h1l-9.5,19h-1zm-2.25,21.25v1l-7-3.5v-1zm14.25-15.25h1l-9.5,19h-1zm-8.25,18.25v1l-7-3.5v-1zm14.25-15.25h1l-9.5,19h-1zm-8.25,18.25v1l-7-3.5v-1zm14.25-15.25h1l-9.5,19h-1zm-8.25,18.25v1l-7-3.5v-1zm17.29-18.25h1l-12.57,22h-1zm-11.29,21.25v1l-7-3.5v-1zm17.29-18.25h1l-12.57,22h-1zm-11.29,21.25v1l-7-3.5v-1zm17.29-18.25h1l-12.57,22h-1zm-11.29,21.25v1l-7-3.5v-1zm17.29-18.25h1l-12.57,22h-1zm-11.29,21.25v1l-7-3.5v-1zm17.29-18.25h1l-12.57,22h-1zm-11.29,21.25v1l-7-3.5v-1zm17.25-21.25h1l-12.5,25h-1zm-11.25,24.25v1l-7-3.5v-1zm17.29-21.25h1l-12.57,22h-1zm-11.29,21v1l-7,0v-1zm17.29-18h1l-12.57,22h-1zm-11.29,21.25v1l-7-3.5v-1zm17.29-18.25h1l-12.57,22h-1zm-11.29,21.25v1l-7-3.5v-1zm17.21-18.25h1l-9.43,22h-1zm-8.21,21.17v1l-10-3.33v-1zm14.19-18.17h1l-9.38,25h-1zm-15.69,18h1l7,7h-1zm21.69-15h1l-9.38,25h-1zm-8.19,24.25v1l-7-3.5v-1zm14.19-21.25h1l-9.38,25h-1zm-8.19,24.25v1l-7-3.5v-1zm14.19-21.25h1l-9.38,25h-1zm-8.19,24.25v1l-7-3.5v-1zm14.19-21.25h1l-9.38,25h-1zm-8.19,24.25v1l-7-3.5v-1zm14.19-21.25h1l-9.38,25h-1zm-8.19,24.25v1l-7-3.5v-1zm14.19-18.25h1l-9.38,25h-1zm-15.69,18h1l7,7h-1zm24.75-15h1l-12.5,25h-1zm-11.25,24.25v1l-7-3.5v-1zm17.25-18.25h1l-12.5,25h-1zm-18.75,18h1l7,7h-1zm24.75-15h1l-12.5,25h-1zm-11.25,24.25v1l-7-3.5v-1zm17.25-18.25h1l-12.5,25h-1zm-18.75,18h1l7,7h-1zm24.75-15h1l-12.5,25h-1zm-11.25,24.25v1l-7-3.5v-1zm17.25-18.25h1l-12.5,25h-1zm-18.75,18h1l7,7h-1zm24.75-12h1l-12.5,25h-1zm-18.75,18h1l7,7h-1zm24.75-15h1l-12.5,25h-1zm-11.25,24.25v1l-7-3.5v-1zm17.25-18.25h1l-12.5,25h-1zm-18.75,18h1l7,7h-1zm24.69-12h1l-9.38,25h-1zm-8.19,24.33v1l-10-6.67v-1zm14.19-18.33h1l-9.38,25h-1zm-15.69,18h1l7,7h-1zm21.69-12h1l-9.38,25h-1zm-15.69,18h1l7,7h-1zm21.69-12h1l-9.38,25h-1zm-15.69,18h1l7,7h-1zm21.69-12h1l-9.38,25h-1zm-15.69,18h1l7,7h-1zm21.71-9h1l-9.43,22h-1zm-15.71,15h1l7,7h-1zm21.71-9h1l-9.43,22h-1zm-15.71,15h1l7,7h-1zm21.69-9h1l-9.38,25h-1zm-15.52,15h1l6.67,10h-1zm24.58-9h1l-12.5,25h-1zm-18.75,18h1l7,7h-1zm24.79-9h1l-12.57,22h-1zm-18.79,15h1l7,7h-1zm24.79-9h1l-12.57,22h-1zm-18.79,15h1l7,7h-1zm24.79-6h1l-12.57,22h-1zm-18.62,12h1l6.67,10h-1zm24.62-6h1l-12.57,22h-1zm-18.79,15h1l7,7h-1zm24.79-9h1l-12.57,22h-1zm-18.79,15h1l7,7h-1zm24.79-6h1l-12.57,22h-1zm-18.62,12h1l6.67,10h-1zm24.62-6h1l-12.57,22h-1zm-18.79,15h1l7,7h-1zm24.83-6h1l-12.67,19h-1zm-18.83,12h1l7,7h-1zm24.79-6h1l-12.57,22h-1zm-18.62,12h1l6.67,10h-1zm24.58-3h1l-9.5,19h-1zm-8.25,18.33v1l-10-6.67v-1z"/>
<path class="bd" d="M2901.5,356.5h0m-27,19h0m-2,3h0m-2,6h0m-41,3h0m40,0h0m-1,3h0m-45,3h0m45,3h0m-51,3h0m52,0h0m-55,6h0m0,3h0m60,0h0m-62,3h0m62,0h0m-63,3h0m63,0h0m-63,3h0m64,0h0m2,3h0m3,1h0m-69,5h0m73,0h0m221,1h0m-294,2h0m75,0h0m-75,3h0m78,0h0m220,0h0m-217,3h0m-81,3h0m82,0h0m219,0h0m-356,3h0m55,0h0m84,0h0m219,0h0m-216,1h0m-143,2h0m57,0h0m89,0h0m214,0h0m-301,3h0m90,0h0m213,0h0m-363,3h0m153,0h0m210,0h0m-207,2h0m-156,1h0m63,0h0m96,1h0m-159,2h0m63,0h0m99,0h0m201,0h0m-198,1h0m-102,2h0m105,0h0m195,0h0m-299,3h0m107,0h0m193,0h0m-361,3h0m63,0h0m297,0h0m3,0h0m-189,1h0m3,1h0m-177,1h0m180,0h0m180,0h0m-290,3h0m116,0h0m174,0h0m-359,3h0m188,0h0m3,1h0m-189,2h0m70,0h0m284,0h0m-159,1h0m3,0h0m3,1h0m-201,1h0m204,0h0m3,2h0m-207,1h0m75,0h0m273,0h0m-138,1h0m-132,2h0m135,0h0m129,1h0m-123,1h0m-216,1h0m76,0h0m146,1h0m3,0h0m3,1h0m-227,1h0m77,0h0m153,0h0m3,0h0m99,0h0m-252,1h0m156,0h0m3,0h0m90,0h0m-87,1h0m84,0h0m-243,1h0m162,0h0m78,0h0m-75,1h0m72,0h0m-69,1h0m66,0h0m-314,1h0m83,0h0m168,0h0m3,0h0m57,0h0m-54,1h0m3,0h0m45,0h0m3,0h0m-45,1h0m3,0h0m33,0h0m3,0h0m-300,1h0m270,0h0m3,0h0m3,0h0m3,0h0m3,0h0m3,0h0m3,0h0m6,0h0m-207,3h0m313,0h0m-466,3h0m69,0h0m87,0h0m312,0h0m-468,3h0m70,0h0m89,0h0m310,0h0m-307,2h0m-161,1h0m470,0h0m-306,1h0m-162,2h0m70,0h0m95,0h0m-162,3h0m165,0h0m-93,3h0m96,0h0m3,1h0m-168,2h0m0,3h0m75,0h0m390,0h0m-465,3h0m76,0h0m104,1h0m3,1h0m-182,1h0m185,0h0m279,0h0m-462,3h0m78,0h0m108,0h0m276,0h0m-381,3h0m108,0h0m273,0h0m-270,1h0m3,1h0m-192,1h0m79,0h0m116,0h0m264,0h0m-456,3h0m195,0h0m261,0h0m-375,1h0m-78,2h0m453,0h0m-255,1h0m3,1h0m-200,1h0m81,0h0m122,0h0m249,0h0m-246,1h0m-123,2h0m129,0h0m-209,3h0m83,0h0m363,0h0m36,0h0m-270,1h0m3,1h0m3,1h0m225,0h0m-354,1h0m132,0h0m3,1h0m-221,1h0m89,0h0m135,0h0m214,0h0m-211,2h0m-135,1h0m345,0h0m48,0h0m-480,1h0m225,0h0m-303,2h0m306,0h0m3,0h0m6,2h0m-233,1h0m89,0h0m147,0h0m189,0h0m54,0h0m-240,1h0m3,1h0m-321,1h0m81,0h0m90,0h0m153,0h0m-150,1h0m153,0h0m171,1h0m-497,1h0m81,0h0m248,0h0m3,0h0m6,1h0m3,0h0m153,0h0m-150,1h0m-342,1h0m345,0h0m144,0h0m-486,1h0m345,0h0m138,0h0m-3,1h0m-399,1h0m270,0h0m3,0h0m-174,1h0m177,0h0m3,0h0m3,1h0m-359,1h0m80,0h0m99,0h0m183,0h0m3,0h0m102,0h0m3,0h0m-102,1h0m3,0h0m-189,1h0m192,0h0m3,0h0m-375,1h0m381,0h0m-198,1h0m201,0h0m3,0h0m3,1h0m3,0h0m-392,1h0m83,0h0m102,0h0m210,0h0m3,0h0m3,0h0m3,0h0m3,0h0m3,0h0m3,0h0m6,0h0m3,0h0m6,0h0m3,0h0m3,0h0m3,0h0m9,0h0m-360,3h0m102,0h0m366,0h0m-551,3h0m86,0h0m102,0h0m363,0h0m-360,1h0m276,0h0m85,2h0m-43,1h0m-312,1h0m-192,1h0m85,0h0m422,0h0m-312,1h0m-192,2h0m84,0h0m111,0h0m-108,1h0m111,0h0m276,1h0m-473,1h0m89,0h0m111,0h0m363,0h0m-360,2h0m-111,1h0m423,0h0m31,0h0m-541,1h0m201,0h0m3,2h0m309,0h0m30,0h0m-336,1h0m309,0h0m-512,2h0m89,0h0m117,0h0m273,0h0m-270,2h0m-117,1h0m390,0h0m36,0h0m21,0h0m-444,1h0m117,0h0m-207,2h0m93,0h0m117,0h0m3,0h0m267,0h0m36,0h0m-300,1h0m-213,2h0m91,0h0m125,0h0m3,1h0m264,0h0m-261,1h0m-221,1h0m92,0h0m132,0h0m261,0h0m33,0h0m42,0h0m-39,1h0m-294,1h0m-312,1h0m180,0h0m396,0h0m33,0h0m-519,1h0m225,0h0m297,1h0m-611,1h0m317,0h0m261,0h0m-393,1h0m135,0h0m294,0h0m-291,1h0m-321,1h0m91,0h0m95,0h0m393,0h0m36,0h0m-612,1h0m579,0h0m36,0h0m-429,1h0m-183,1h0m87,0h0m234,0h0m3,0h0m3,0h0m-141,1h0m144,1h0m-329,1h0m89,0h0m99,0h0m393,0h0m-249,1h0m-141,2h0m393,0h0m-246,1h0m3,1h0m246,0h0m-582,1h0m90,0h0m99,0h0m150,0h0m3,0h0m298,0h0m-448,1h0m153,0h0m3,1h0m-345,1h0m90,0h0m495,0h0m-234,2h0m-350,1h0m92,0h0m102,0h0m396,0h0m49,0h0m-286,1h0m-351,2h0m93,0h0m261,0h0m3,0h0m3,0h0m3,0h0m-165,1h0m-195,2h0m198,0h0m393,0h0m46,0h0m-271,1h0m3,0h0m-168,1h0m171,0h0m-369,1h0m93,0h0m279,0h0m222,0h0m28,0h0m-421,1h0m174,0h0m3,1h0m-375,1h0m93,0h0m108,0h0m177,0h0m3,0h0m240,0h0m-525,1h0m108,0h0m180,0h0m3,0h0m3,1h0m-387,1h0m96,0h0m498,0h0m-387,2h0m-110,1h0m500,0h0m-387,1h0m-204,2h0m93,0h0m114,0h0m387,0h0m-384,1h0m-207,2h0m93,0h0m117,0h0m-207,3h0m93,0h0m117,0h0m-114,1h0m531,0h0m-528,2h0m114,0h0m387,0h0m30,0h0m12,0h0m-423,1h0m-117,2h0m120,0h0m3,2h0m-120,1h0m531,0h0m-408,1h0m-120,2h0m126,1h0m3,1h0m3,1h0m-126,1h0m3,2h0m126,0h0m375,0h0m-498,3h0m129,1h0m3,1h0m-129,1h0m3,2h0m3,2h0m132,0h0m-129,2h0m132,0h0m-129,1h0m132,0h0m3,1h0m3,1h0m3,1h0m363,0h0m-360,1h0m-138,1h0m501,0h0m-357,2h0m-138,2h0m141,0h0m-138,2h0m141,0h0m3,0h0m3,1h0m-144,2h0m147,0h0m3,1h0m3,1h0m-150,1h0m153,0h0m-150,1h0m153,0h0m345,0h0m-495,1h0m153,1h0m345,0h0m-342,1h0m-153,2h0m156,0h0m3,0h0m339,0h0m-336,1h0m3,2h0m-156,1h0m3,2h0m492,0h0m-489,2h0m492,1h0m-489,1h0m492,0h0m-489,2h0m492,0h0m-489,3h0m492,0h0m3,3h0m-489,1h0m3,1h0m489,1h0m-483,3h0m486,0h0m-483,3h0m486,0h0m-483,1h0m3,1h0m483,1h0m-477,1h0m3,2h0m477,0h0m-474,1h0m9,6h0m3,1h0m6,4h0m3,3h0m3,1h0m3,1h0m3,1h0m3,2h0m3,2h0m3,2h0m3,1h0m3,2h0m6,2h0m3,2h0m3,2h0m3,1h0m3,1h0m3,1h0m-96,33h0m3,0h0m3,2h0m3,2h0m3,2h0m3,1h0m6,4h0m3,2h0m3,2h0m3,1h0m3,2h0m3,2h0m3,2h0m3,2h0m3,1h0m3,2h0m3,2h0m3,2h0"/>
<text x="2576" y="765.5" font-size="35.5" text-anchor="end">0</text>
<text x="2576" y="708.5" font-size="35.5" text-anchor="end">0.02</text>
<text x="2576" y="654.5" font-size="35.5" text-anchor="end">0.04</text>
<text x="2576" y="597.5" font-size="35.5" text-anchor="end">0.06</text>
<text x="2576" y="543.5" font-size="35.5" text-anchor="end">0.08</text>
<text x="2576" y="486.5" font-size="35.5" text-anchor="end">0.1</text>
<text x="2576" y="432.5" font-size="35.5" text-anchor="end">0.12</text>
<text x="2576" y="375.5" font-size="35.5" text-anchor="end">0.14</text>
<text x="2576" y="321.5" font-size="35.5" text-anchor="end">0.16</text>
<text x="2493" y="271.2" font-size="34.7" text-anchor="end" transform="rotate(-90 2493 271.2)">Events / ( 0.4 x 0.4 )</text>
<text x="2911.1" y="1047.5" font-size="35.5" text-anchor="middle">−10</text>
<text x="2877.7" y="1039.2" font-size="35.5" text-anchor="end">−10</text>
<text x="2964.53" y="1033.38" font-size="35.5" text-anchor="middle">−8</text>
<text x="2846.83" y="1014.88" font-size="35.5" text-anchor="end">−8</text>
<text x="3017.96" y="1019.26" font-size="35.5" text-anchor="middle">−6</text>
<text x="2815.96" y="990.56" font-size="35.5" text-anchor="end">−6</text>
<text x="3071.39" y="1005.14" font-size="35.5" text-anchor="middle">−4</text>
<text x="2785.08" y="966.24" font-size="35.5" text-anchor="end">−4</text>
<text x="3124.82" y="991.02" font-size="35.5" text-anchor="middle">−2</text>
<text x="2754.21" y="941.92" font-size="35.5" text-anchor="end">−2</text>
<text x="3179.65" y="976.9" font-size="35.5" text-anchor="middle">0</text>
<text x="2723.34" y="917.6" font-size="35.5" text-anchor="end">0</text>
<text x="3233.08" y="962.78" font-size="35.5" text-anchor="middle">2</text>
<text x="2692.47" y="893.28" font-size="35.5" text-anchor="end">2</text>
<text x="3286.51" y="948.66" font-size="35.5" text-anchor="middle">4</text>
<text x="2661.6" y="868.96" font-size="35.5" text-anchor="end">4</text>
<text x="3339.94" y="934.54" font-size="35.5" text-anchor="middle">6</text>
<text x="2630.72" y="844.64" font-size="35.5" text-anchor="end">6</text>
<text x="3393.37" y="920.42" font-size="35.5" text-anchor="middle">8</text>
<text x="2599.85" y="820.32" font-size="35.5" text-anchor="end">8</text>
<text x="3446.8" y="906.3" font-size="35.5" text-anchor="middle">10</text>
<text x="2568.98" y="796" font-size="35.5" text-anchor="end">10</text>
<text x="3444.4" y="912.8" font-size="34.7" text-anchor="middle" transform="rotate(-14.8 3444.4 912.8)">x</text>
<text x="2548.98" y="815" font-size="34.7" text-anchor="middle" transform="rotate(38.23 2548.98 815)">y</text>
<path class="kf" d="M2905,504.39v1l-310-243.79v-1zm534-141.52v1l-535,141.26v-1zm-535,141.13h1l0,490h-1zm-309-243h1l0,490h-1zm1,489v1l-16,0v-1zm0-15v1l-10,0v-1zm0-12v1l-10,0v-1zm0-15v1l-10,0v-1zm0-15v1l-16,0v-1zm0-12v1l-10,0v-1zm0-15v1l-10,0v-1zm0-12v1l-10,0v-1zm0-15v1l-16,0v-1zm0-15v1l-10,0v-1zm0-12v1l-10,0v-1zm0-15v1l-10,0v-1zm0-15v1l-16,0v-1zm0-12v1l-10,0v-1zm0-15v1l-10,0v-1zm0-12v1l-10,0v-1zm0-15v1l-16,0v-1zm0-15v1l-10,0v-1zm0-12v1l-10,0v-1zm0-15v1l-10,0v-1zm0-15v1l-16,0v-1zm0-12v1l-10,0v-1zm0-15v1l-10,0v-1zm0-15v1l-10,0v-1zm0-12v1l-16,0v-1zm0-15v1l-10,0v-1zm0-12v1l-10,0v-1zm0-15v1l-10,0v-1zm0-15v1l-16,0v-1zm0-12v1l-10,0v-1zm0-15v1l-10,0v-1zm0-15v1l-10,0v-1zm0-12v1l-16,0v-1zm0-15v1l-10,0v-1zm0-15v1l-10,0v-1zm0-12v1l-10,0v-1zm843,587.87v1l-535,141.26v-1zm-534,141.52v1l-310-243.79v-1zm-1.1-.39h1l3.2,16h-1zm.6,0h1l-10,10h-1zm11.33-3h1l3.33,10h-1zm-20.58-3h1l-3.5,7h-1zm35.75,0h1l0,7h-1zm-41.5-6h1l-7,7h-1zm53.25,3h1l3.5,7h-1zm-62.25-9h1l-7,7h-1zm77.42,3h1l3.17,19h-1zm-82.92-9.38v1l-13,9.75v-1zm94.83,6.38h1l3.33,10h-1zm-104.33-12h1l-7,7h-1zm119.5,9h1l0,10h-1zm-128.5-15h1l-4,4h-1zm140.33,12h1l3.33,10h-1zm-145.83-18.25v1l-7,3.5v-1zm157.8,15.25h1l6.4,16h-1zm-167.3-21h1l-10,10h-1zm182.33,15h1l3.33,10h-1zm-187.83-21.25v1l-7,3.5v-1zm199.83,18.25h1l3.33,10h-1zm-208.83-24.25v1l-7,3.5v-1zm224,21.25h1l0,10h-1zm-230-27.25v1l-7,3.5v-1zm241.8,24.25h1l6.4,16h-1zm-251.3-30h1l-10,10h-1zm266.5,27h1l0,7h-1zm-275.5-33h1l-4,4h-1zm287.25,30h1l3.5,7h-1zm-292.75-36.25v1l-7,3.5v-1zm308,30.25h1l0,10h-1zm-317.5-36h1l-4,4h-1zm329.4,33h1l3.2,16h-1zm-334.9-39.38v1l-13,9.75v-1zm346.83,36.38h1l3.33,10h-1zm-355.83-42.25v1l-7,3.5v-1zm370.83,39.25h1l3.33,10h-1zm-380.33-45h1l-4,4h-1zm392.25,42h1l3.5,7h-1zm-397.75-48.25v1l-7,3.5v-1zm412.9,45.25h1l3.2,16h-1zm-422.4-51h1l-10,10h-1zm434.33,45h1l3.33,10h-1zm-439.83-51.25v1l-7,3.5v-1zm455,48.25h1l0,10h-1zm-464.75-57h1l-3.5,7h-1zm476.58,54h1l3.33,10h-1zm-482.33-60h1l-7,7h-1zm497.4,57h1l3.2,16h-1zm-506.52-63h1l-9.75,13h-1zm518.37,60h1l3.5,7h-1zm-527.5-66h1l-3.5,7h-1zm542.75,60h1l0,10h-1zm-548.5-66h1l-7,7h-1zm560.33,63h1l3.33,10h-1zm-569.58-69h1l-3.5,7h-1zm581.55,66h1l6.4,16h-1zm-587.3-72h1l-10,10h-1zm602.33,69h1l3.33,10h-1zm-611.58-75h1l-3.5,7h-1zm623.5,72h1l3.5,7h-1zm-629.25-78h1l-7,7h-1zm644.25,75h1l3.5,7h-1zm-653.25-81h1l-7,7h-1zm665.33,75h1l6.33,19h-1zm-674.33-81h1l-10,10h-1zm689.5,78h1l0,10h-1zm-695.5-84h1l-7,7h-1zm707.33,81h1l3.33,10h-1zm-716.58-87h1l-3.5,7h-1zm731.75,84h1l0,10h-1zm-737.5-90h1l-7,7h-1zm749.4,87h1l3.2,16h-1zm-758.4-93h1l-10,10h-1zm773.5,90h1l0,7h-1zm-779.5-96h1l-7,7h-1zm791.33,90h1l3.33,10h-1zm-800.33-96h1l-7,7h-1zm812.33,93h1l3.33,10h-1zm-821.58-99h1l-3.5,7h-1zm836.65,96h1l3.2,16h-1zm-842.4-102h1l-10,10h-1z"/>
<text x="2981.5" y="65.8" font-size="53.3" text-anchor="middle">Histogram of hh_eff__x_y</text>
<rect class="sb" x="3303.5" y="81.5" width="225" height="261"/>
<line class="k" x1="3303.5" y1="123.5" x2="3528.5" y2="123.5"/>
<text x="3416" y="113.7" font-size="34.6" text-anchor="middle">hh_eff__x_y</text>
<text x="3314.9" y="155.1" font-size="22.3" text-anchor="start">Entries</text>
<text x="3513.5" y="155.1" font-size="22.3" text-anchor="end">2500</text>
<text x="3314.9" y="197.6" font-size="22.3" text-anchor="start">Mean x</text>
<text x="3516.2" y="197.6" font-size="22.3" text-anchor="end">−0.91</text>
<text x="3314.9" y="242.6" font-size="22.3" text-anchor="start">Mean y</text>
<text x="3511.3" y="242.6" font-size="22.3" text-anchor="end">−0.1072</text>
<text x="3314.9" y="287.5" font-size="22.3" text-anchor="start">Std Dev x</text>
<text x="3511.3" y="287.5" font-size="22.3" text-anchor="end">4.538</text>
<text x="3314.9" y="329.4" font-size="22.3" text-anchor="start">Std Dev y</text>
<text x="3513.5" y="329.4" font-size="22.3" text-anchor="end">5.5</text>
</g>
</svg></body></html>
